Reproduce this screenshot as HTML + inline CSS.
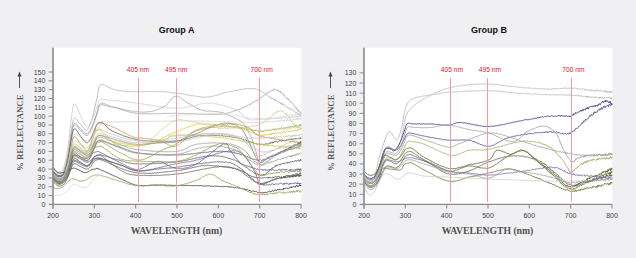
<!DOCTYPE html>
<html><head><meta charset="utf-8"><style>
html,body{margin:0;padding:0;background:#f0f0f2;width:636px;height:258px;overflow:hidden}
svg{display:block}
text{font-family:"Liberation Sans",sans-serif}
.serif{font-family:"Liberation Serif",serif}
</style></head><body>
<svg width="636" height="258" viewBox="0 0 636 258">
<rect x="54.0" y="47.8" width="247.28" height="156.60" fill="#fff"/>
<g fill="none" stroke-linejoin="round" stroke-linecap="round">
<path d="M53.0,169.1 L53.3,169.4 L53.7,169.8 L54.1,170.3 L54.6,170.9 L55.1,171.5 L55.7,172.0 L56.3,172.6 L56.9,173.0 L57.4,173.3 L58.0,173.5 L58.5,173.6 L59.0,173.6 L59.6,173.7 L60.1,173.6 L60.7,173.5 L61.2,173.2 L61.8,172.9 L62.3,172.3 L62.8,171.6 L63.3,170.7 L63.9,169.5 L64.4,168.1 L64.9,166.5 L65.4,164.7 L65.9,162.7 L66.4,160.6 L66.9,158.4 L67.4,156.1 L67.9,153.6 L68.4,150.5 L69.0,147.0 L69.5,143.1 L70.0,139.2 L70.6,135.3 L71.1,131.7 L71.6,128.6 L72.0,126.0 L72.6,122.9 L73.1,120.8 L73.6,119.4 L74.2,118.6 L74.9,118.2 L75.3,118.3 L75.8,118.5 L76.3,119.0 L76.8,119.6 L77.4,120.3 L78.0,121.1 L78.5,121.9 L79.1,122.7 L79.7,123.4 L80.3,124.1 L80.8,124.6 L81.3,125.2 L81.8,125.9 L82.3,126.6 L82.9,127.3 L83.4,127.9 L83.9,128.5 L84.5,129.1 L85.0,129.5 L85.5,129.8 L86.0,129.9 L86.5,129.9 L87.1,129.6 L87.6,129.1 L88.2,128.4 L88.7,127.6 L89.2,126.5 L89.8,125.3 L90.3,124.0 L90.8,122.4 L91.4,120.8 L91.9,119.1 L92.5,117.1 L93.1,114.8 L93.7,112.4 L94.3,110.0 L94.9,107.5 L95.4,105.1 L95.9,102.8 L96.4,100.7 L96.8,98.9 L97.6,95.3 L98.0,92.3 L98.4,90.0 L98.9,88.0 L99.3,86.7 L99.8,85.8 L100.2,85.1 L100.7,84.6 L101.4,84.4 L101.8,84.3 L102.3,84.3 L102.8,84.5 L103.4,84.7 L103.9,85.0 L104.5,85.2 L105.0,85.5 L105.5,85.7 L106.0,86.0 L106.4,86.2 L106.8,86.6 L107.2,86.6 L107.8,87.0 L108.8,87.5 L109.1,87.6 L109.5,87.7 L109.9,87.8 L110.3,87.9 L110.7,88.3 L111.1,88.5 L111.6,88.4 L112.0,88.7 L112.5,88.8 L113.0,89.2 L113.5,89.2 L114.1,89.3 L114.6,89.6 L115.2,89.6 L115.8,89.7 L116.4,90.2 L117.1,90.3 L117.7,90.3 L118.4,90.3 L119.1,90.6 L119.5,90.7 L119.9,90.7 L120.3,90.8 L120.8,90.8 L121.2,90.8 L121.7,90.9 L122.1,91.0 L122.6,91.0 L123.0,91.1 L123.5,91.1 L124.0,91.2 L124.5,91.3 L125.0,91.1 L125.5,91.2 L126.0,91.2 L126.5,91.4 L127.0,91.2 L127.5,91.2 L128.0,91.5 L128.6,91.5 L129.1,91.4 L129.6,91.4 L130.2,91.4 L130.7,91.5 L131.2,91.4 L131.8,91.5 L132.3,91.7 L132.9,91.6 L133.4,91.5 L134.0,91.5 L134.5,91.7 L135.0,91.7 L135.6,91.9 L136.1,91.8 L136.7,91.6 L137.2,91.8 L137.7,91.9 L138.2,91.8 L138.7,91.7 L139.2,91.7 L139.7,91.8 L140.2,91.8 L140.7,91.8 L141.2,91.7 L141.7,91.8 L142.2,91.8 L142.7,91.7 L143.2,91.9 L143.7,91.9 L144.2,91.6 L144.7,91.5 L145.2,91.6 L145.7,91.7 L146.3,91.7 L146.8,91.6 L147.3,91.4 L147.8,91.5 L148.3,91.5 L148.8,91.4 L149.4,91.6 L149.9,91.5 L150.4,91.3 L150.9,91.4 L151.4,91.5 L151.9,91.5 L152.4,91.4 L152.9,91.3 L153.4,91.5 L154.0,91.3 L154.5,91.3 L155.0,91.2 L155.5,91.3 L156.0,91.3 L156.4,91.4 L156.9,91.4 L157.4,91.4 L157.9,91.5 L158.4,91.3 L158.9,91.4 L159.4,91.6 L159.9,91.5 L160.4,91.5 L160.9,91.6 L161.4,91.6 L161.9,91.6 L162.4,91.6 L162.8,91.6 L163.3,91.7 L163.8,91.9 L164.2,91.8 L164.7,91.9 L165.1,91.8 L165.6,91.8 L166.0,91.8 L166.5,91.9 L166.9,91.9 L167.4,92.1 L167.9,92.0 L168.3,92.1 L168.8,92.3 L169.3,92.4 L169.8,92.5 L170.3,92.3 L170.8,92.5 L171.3,92.6 L171.8,92.5 L172.3,92.7 L172.9,92.8 L173.4,92.9 L174.0,92.8 L174.5,93.0 L175.1,93.0 L175.7,93.0 L176.4,93.1 L177.0,93.2 L177.4,93.2 L177.8,93.4 L178.3,93.4 L178.7,93.4 L179.1,93.6 L179.6,93.7 L180.1,93.5 L180.5,93.7 L181.0,93.9 L181.5,93.8 L182.0,93.8 L182.4,94.2 L182.9,94.2 L183.4,94.3 L183.9,94.2 L184.5,94.5 L185.0,94.4 L185.5,94.5 L186.0,94.6 L186.5,94.8 L187.0,94.7 L187.6,94.8 L188.1,95.0 L188.6,95.2 L189.2,95.2 L189.7,95.3 L190.2,95.4 L190.8,95.6 L191.3,95.5 L191.9,95.8 L192.4,95.8 L192.9,95.7 L193.5,95.8 L194.0,96.1 L194.6,96.0 L195.1,96.3 L195.6,96.1 L196.2,96.2 L196.7,96.5 L197.2,96.6 L197.7,96.8 L198.3,96.5 L198.8,96.9 L199.3,96.6 L199.8,96.6 L200.3,96.8 L200.8,97.1 L201.3,96.8 L201.8,96.8 L202.3,96.9 L202.7,97.1 L203.2,97.2 L203.7,97.2 L204.1,97.3 L204.6,97.1 L205.1,97.2 L205.5,97.3 L205.9,97.4 L206.5,97.1 L207.1,97.2 L207.7,97.1 L208.3,97.1 L208.8,96.8 L209.4,96.7 L209.9,97.1 L210.5,96.9 L211.0,96.7 L211.6,96.3 L212.1,96.3 L212.6,96.4 L213.1,96.4 L213.6,96.0 L214.1,95.8 L214.6,95.6 L215.1,95.8 L215.6,95.3 L216.1,95.3 L216.6,95.3 L217.1,94.8 L217.5,95.1 L218.0,94.7 L218.5,94.9 L219.0,94.7 L219.4,94.1 L219.9,94.4 L220.4,93.9 L220.8,93.8 L221.3,93.5 L221.8,93.7 L222.3,93.5 L222.7,93.4 L223.2,92.9 L223.7,92.9 L224.2,92.6 L224.6,92.5 L225.1,92.9 L225.6,92.5 L226.1,92.7 L226.6,92.6 L227.1,92.5 L227.6,91.8 L228.1,91.8 L228.6,91.6 L229.2,91.9 L229.7,91.6 L230.2,91.3 L230.7,91.5 L231.3,91.3 L231.8,91.4 L232.3,91.4 L232.9,91.2 L233.4,90.6 L233.9,90.7 L234.5,90.4 L235.0,90.6 L235.5,90.6 L236.1,90.1 L236.6,90.0 L237.1,90.6 L237.6,89.9 L238.1,90.3 L238.6,90.2 L239.2,89.5 L239.7,90.1 L240.2,89.8 L240.6,89.1 L241.1,89.5 L241.6,89.7 L242.1,89.6 L242.6,89.5 L243.0,89.0 L243.5,89.4 L243.9,88.7 L244.4,89.1 L244.8,88.5 L245.2,88.5 L245.6,89.0 L246.0,89.0 L246.4,88.8 L247.1,89.1 L247.8,88.5 L248.4,89.0 L249.0,89.0 L249.6,88.1 L250.1,88.8 L250.7,88.5 L251.2,88.6 L251.7,88.8 L252.2,89.0 L252.7,88.3 L253.1,88.3 L253.6,88.3 L254.0,89.2 L254.5,89.2 L254.9,88.9 L255.4,88.6 L255.8,89.1 L256.2,89.1 L256.7,89.2 L257.1,89.8 L257.6,89.6 L258.1,90.0 L258.7,90.3 L259.2,90.7 L259.6,90.7 L260.1,90.2 L260.6,91.0 L261.0,91.1 L261.5,91.4 L261.9,91.3 L262.4,92.3 L262.9,92.7 L263.4,93.0 L263.8,93.3 L264.4,93.1 L264.9,93.4 L265.5,94.4 L266.1,94.8 L266.7,94.9 L267.1,95.1 L267.5,95.3 L267.9,96.0 L268.4,96.5 L268.8,96.5 L269.2,97.0 L269.7,96.7 L270.1,97.5 L270.6,97.8 L271.1,97.4 L271.5,98.1 L272.0,97.7 L272.5,98.4 L273.0,98.2 L273.5,99.4 L274.0,99.3 L274.5,99.2 L275.0,100.5 L275.6,99.6 L276.1,101.0 L276.7,100.4 L277.2,100.5 L277.8,101.0 L278.4,102.1 L278.9,102.8 L279.5,102.5 L280.1,102.2 L280.7,103.6 L281.2,102.9 L281.6,104.3 L282.1,103.4 L282.6,105.1 L283.1,104.9 L283.6,104.3 L284.2,104.8 L284.7,104.9 L285.3,105.4 L285.8,105.9 L286.4,106.3 L287.0,107.5 L287.6,107.4 L288.2,108.2 L288.8,107.6 L289.4,108.1 L290.0,109.1 L290.5,109.8 L291.1,108.6 L291.7,109.2 L292.3,110.0 L292.9,110.4 L293.5,110.2 L294.0,111.2 L294.6,111.7 L295.1,112.1 L295.7,112.6 L296.2,113.3 L296.7,112.4 L297.2,113.2 L297.7,113.1 L298.1,114.4 L298.6,114.1 L299.0,114.8 L299.4,115.0 L299.7,115.0 L300.1,114.1 L300.4,115.1 L300.7,115.3 L301.0,115.2" stroke="#b4b4b4" stroke-width="0.85" opacity="1"/>
<path d="M53.0,167.3 L53.3,167.6 L53.7,168.1 L54.1,168.6 L54.6,169.1 L55.1,169.7 L55.7,170.3 L56.3,170.9 L56.9,171.3 L57.4,171.6 L58.0,171.7 L58.5,171.8 L59.0,171.8 L59.6,171.9 L60.1,171.8 L60.7,171.6 L61.2,171.3 L61.8,170.9 L62.3,170.3 L62.8,169.4 L63.3,168.3 L63.9,166.8 L64.4,165.1 L64.9,163.1 L65.4,160.9 L65.9,158.5 L66.4,155.9 L66.9,153.2 L67.4,150.3 L67.9,147.3 L68.4,143.5 L69.0,139.1 L69.5,134.4 L70.0,129.6 L70.6,124.8 L71.1,120.4 L71.6,116.5 L72.0,113.3 L72.6,109.5 L73.1,106.7 L73.6,104.9 L74.2,103.9 L74.9,103.8 L75.3,104.1 L75.8,104.7 L76.3,105.6 L76.8,106.8 L77.4,108.1 L78.0,109.6 L78.5,111.1 L79.1,112.5 L79.7,113.9 L80.3,115.1 L80.8,116.1 L81.3,117.2 L81.8,118.3 L82.3,119.5 L82.9,120.7 L83.4,121.8 L83.9,122.9 L84.5,123.9 L85.0,124.8 L85.5,125.5 L86.0,126.1 L86.5,126.5 L87.1,126.6 L87.6,126.5 L88.2,126.2 L88.7,125.6 L89.2,124.9 L89.8,124.0 L90.3,123.0 L90.8,122.0 L91.4,120.9 L91.9,119.9 L92.5,118.7 L93.1,117.3 L93.7,115.9 L94.3,114.4 L94.9,112.9 L95.4,111.5 L95.9,110.1 L96.4,108.8 L96.8,107.7 L97.6,105.5 L98.0,103.7 L98.4,102.3 L98.9,101.1 L99.3,100.3 L99.8,99.8 L100.2,99.4 L100.7,99.1 L101.4,98.9 L101.8,98.9 L102.2,98.9 L102.7,99.0 L103.2,99.2 L103.8,99.3 L104.3,99.5 L104.9,99.6 L105.5,99.7 L105.9,99.8 L106.1,99.8 L106.3,99.8 L106.5,99.8 L106.8,99.7 L107.1,99.7 L107.6,100.1 L108.4,100.1 L109.4,100.0 L110.9,100.2 L111.2,100.2 L111.5,100.4 L111.8,100.3 L112.1,100.3 L112.5,100.4 L112.8,100.6 L113.2,100.5 L113.6,100.6 L114.0,100.5 L114.4,100.5 L114.8,100.5 L115.2,100.7 L115.6,100.8 L116.0,100.9 L116.5,101.0 L116.9,101.0 L117.4,100.9 L117.8,101.0 L118.3,101.1 L118.8,101.0 L119.2,101.1 L119.7,101.2 L120.2,101.3 L120.7,101.4 L121.2,101.4 L121.7,101.5 L122.3,101.5 L122.8,101.4 L123.3,101.5 L123.8,101.7 L124.4,101.6 L124.9,101.7 L125.5,101.7 L126.0,101.8 L126.6,101.9 L127.1,101.9 L127.7,102.1 L128.3,102.0 L128.9,102.1 L129.4,102.4 L130.0,102.2 L130.6,102.3 L131.2,102.5 L131.8,102.5 L132.4,102.6 L132.9,102.5 L133.5,102.7 L134.1,102.7 L134.7,102.9 L135.3,102.8 L135.9,102.9 L136.5,103.1 L137.1,103.1 L137.7,103.1 L138.2,103.2 L138.6,103.4 L139.0,103.5 L139.5,103.5 L139.9,103.5 L140.4,103.7 L140.8,103.5 L141.3,103.8 L141.7,103.7 L142.2,103.9 L142.7,103.8 L143.1,104.0 L143.6,104.1 L144.1,104.2 L144.6,104.2 L145.1,104.3 L145.6,104.5 L146.0,104.6 L146.5,104.6 L147.0,104.5 L147.5,104.7 L148.0,105.0 L148.5,104.8 L149.0,104.9 L149.5,105.0 L150.1,105.3 L150.6,105.2 L151.1,105.5 L151.6,105.4 L152.1,105.6 L152.6,105.7 L153.1,105.6 L153.7,105.9 L154.2,105.9 L154.7,105.8 L155.2,106.1 L155.7,106.2 L156.3,106.1 L156.8,106.3 L157.3,106.3 L157.9,106.6 L158.4,106.6 L158.9,106.7 L159.4,106.6 L160.0,106.9 L160.5,106.7 L161.0,107.1 L161.5,106.9 L162.1,107.2 L162.6,107.2 L163.1,107.1 L163.6,107.4 L164.2,107.5 L164.7,107.4 L165.2,107.5 L165.7,107.7 L166.2,107.4 L166.8,107.8 L167.3,107.9 L167.8,107.8 L168.3,107.8 L168.8,107.8 L169.3,108.0 L169.8,108.0 L170.3,108.1 L170.8,108.0 L171.3,108.0 L171.8,108.0 L172.3,108.0 L172.8,108.0 L173.3,108.0 L173.8,108.1 L174.3,108.2 L174.8,108.3 L175.3,108.1 L175.8,108.2 L176.3,108.3 L176.8,108.2 L177.3,108.0 L177.8,108.3 L178.4,108.1 L178.9,108.1 L179.4,108.0 L179.9,108.1 L180.5,107.8 L181.0,108.0 L181.5,107.8 L182.0,107.8 L182.6,107.8 L183.1,107.6 L183.6,107.7 L184.1,107.6 L184.6,107.5 L185.2,107.4 L185.7,107.3 L186.2,107.1 L186.7,107.0 L187.2,106.8 L187.8,106.7 L188.3,106.6 L188.8,106.7 L189.3,106.5 L189.8,106.5 L190.3,106.3 L190.8,106.1 L191.3,106.0 L191.9,105.9 L192.4,106.0 L192.9,105.8 L193.4,105.6 L193.9,105.7 L194.4,105.6 L194.9,105.3 L195.4,105.4 L195.9,105.0 L196.4,105.1 L196.9,105.0 L197.4,104.9 L197.9,104.8 L198.4,104.7 L198.8,104.5 L199.3,104.4 L199.8,104.4 L200.3,104.1 L200.8,104.2 L201.3,103.8 L201.8,103.7 L202.2,103.7 L202.7,103.8 L203.2,103.7 L203.7,103.6 L204.1,103.8 L204.6,103.6 L205.1,103.4 L205.5,103.6 L206.0,103.6 L206.5,103.2 L206.9,103.4 L207.4,103.3 L207.8,103.0 L208.3,103.2 L208.7,103.3 L209.2,103.0 L209.6,103.3 L210.1,103.5 L210.6,103.2 L211.2,103.5 L211.8,103.4 L212.3,103.2 L212.9,103.3 L213.5,103.8 L214.1,103.6 L214.6,103.7 L215.2,103.7 L215.8,104.0 L216.3,103.9 L216.9,104.3 L217.5,104.2 L218.0,104.3 L218.6,104.1 L219.1,104.7 L219.7,104.4 L220.2,104.9 L220.8,104.8 L221.3,105.1 L221.9,105.2 L222.4,105.1 L223.0,105.5 L223.5,105.8 L224.0,106.0 L224.5,106.2 L225.1,105.8 L225.6,106.1 L226.1,106.0 L226.6,106.4 L227.1,107.0 L227.6,106.8 L228.1,106.8 L228.6,107.0 L229.0,107.4 L229.5,107.7 L230.0,107.8 L230.4,107.7 L230.9,108.2 L231.4,108.2 L231.8,108.4 L232.2,108.2 L232.7,108.5 L233.1,108.6 L233.5,108.8 L233.9,109.4 L234.3,109.6 L234.7,109.6 L235.1,109.9 L235.4,109.9 L235.8,109.9 L236.2,109.8 L236.5,110.2 L237.4,110.4 L238.2,111.4 L238.9,111.6 L239.5,111.6 L240.1,112.7 L240.6,112.9 L241.1,113.7 L241.5,114.1 L241.9,113.9 L242.3,114.3 L242.7,115.0 L243.0,115.9 L243.4,116.2 L243.7,116.6 L244.1,116.6 L244.5,117.0 L244.9,117.5 L245.4,117.8 L245.9,118.4 L246.4,118.3 L246.9,118.1 L247.3,118.4 L247.6,119.2 L248.0,118.9 L248.3,118.9 L248.7,119.4 L249.0,118.9 L249.3,119.4 L249.7,119.3 L250.0,119.6 L250.3,119.2 L250.7,119.4 L251.1,119.7 L251.5,120.1 L251.9,119.8 L252.4,120.2 L252.9,119.7 L253.4,119.5 L254.0,120.1 L254.6,119.8 L255.3,119.8 L256.0,119.9 L256.8,119.6 L257.7,119.3 L258.6,119.5 L259.6,119.7 L260.0,119.2 L260.3,119.8 L260.7,119.3 L261.1,119.4 L261.5,119.3 L261.9,119.2 L262.3,119.8 L262.7,119.4 L263.1,119.6 L263.6,119.2 L264.0,118.9 L264.5,119.2 L265.0,119.9 L265.5,119.3 L266.0,119.0 L266.5,118.8 L267.0,119.0 L267.5,118.8 L268.0,119.7 L268.6,118.5 L269.1,118.7 L269.7,118.8 L270.2,118.4 L270.8,118.4 L271.3,119.4 L271.9,118.4 L272.5,118.4 L273.1,119.1 L273.7,118.3 L274.2,118.5 L274.8,119.0 L275.4,118.1 L276.0,119.0 L276.6,118.2 L277.2,118.4 L277.8,118.6 L278.4,118.1 L279.0,118.2 L279.6,118.6 L280.2,117.3 L280.8,118.7 L281.4,118.7 L282.0,117.9 L282.6,117.3 L283.2,117.5 L283.8,117.3 L284.4,117.7 L285.0,117.3 L285.6,117.8 L286.2,117.9 L286.8,117.5 L287.3,118.2 L287.9,118.1 L288.5,116.9 L289.0,117.8 L289.6,116.8 L290.1,116.6 L290.7,117.3 L291.2,116.7 L291.7,116.5 L292.3,116.3 L292.8,117.6 L293.3,117.5 L293.8,117.0 L294.2,116.8 L294.7,117.1 L295.2,117.6 L295.6,116.5 L296.1,115.7 L296.5,116.8 L296.9,116.4 L297.3,116.7 L297.7,116.5 L298.1,115.7 L298.5,116.7 L298.9,116.0 L299.2,116.3 L299.5,116.2 L299.9,115.4 L300.2,117.0 L300.5,115.5 L300.7,116.5 L301.0,116.1" stroke="#cccccc" stroke-width="0.85" opacity="1"/>
<path d="M53.0,170.9 L53.3,171.2 L53.7,171.6 L54.1,172.1 L54.6,172.6 L55.1,173.2 L55.7,173.8 L56.3,174.3 L56.9,174.8 L57.4,175.1 L58.0,175.3 L58.5,175.4 L59.0,175.4 L59.6,175.4 L60.1,175.4 L60.7,175.3 L61.2,175.0 L61.8,174.7 L62.3,174.2 L62.8,173.5 L63.3,172.7 L63.9,171.5 L64.4,170.2 L64.9,168.7 L65.4,167.0 L65.9,165.1 L66.4,163.1 L66.9,161.0 L67.4,158.8 L67.9,156.5 L68.4,153.6 L69.0,150.3 L69.5,146.7 L70.0,142.9 L70.6,139.3 L71.1,135.9 L71.6,132.9 L72.0,130.5 L72.6,127.6 L73.1,125.6 L73.6,124.3 L74.2,123.5 L74.9,123.2 L75.3,123.2 L75.8,123.4 L76.3,123.9 L76.8,124.4 L77.4,125.1 L78.0,125.8 L78.5,126.5 L79.1,127.2 L79.7,127.9 L80.3,128.5 L80.8,129.0 L81.3,129.5 L81.8,130.1 L82.3,130.7 L82.9,131.3 L83.4,131.8 L83.9,132.4 L84.5,132.9 L85.0,133.3 L85.5,133.6 L86.0,133.7 L86.5,133.8 L87.1,133.7 L87.6,133.4 L88.2,132.9 L88.7,132.3 L89.2,131.6 L89.8,130.8 L90.3,129.8 L90.8,128.8 L91.4,127.7 L91.9,126.5 L92.5,125.2 L93.1,123.7 L93.7,122.1 L94.3,120.4 L94.9,118.8 L95.4,117.1 L95.9,115.6 L96.4,114.2 L96.8,113.0 L97.6,110.6 L98.0,108.6 L98.4,107.0 L98.9,105.7 L99.3,104.8 L99.8,104.2 L100.2,103.7 L100.7,103.4 L101.4,103.2 L101.8,103.2 L102.2,103.2 L102.6,103.2 L103.1,103.4 L103.6,103.5 L104.2,103.7 L104.8,103.9 L105.5,104.2 L105.9,104.3 L106.2,104.5 L106.6,104.6 L106.9,104.9 L107.2,105.0 L107.6,105.2 L107.9,105.4 L108.4,105.6 L108.8,106.0 L109.4,106.2 L110.0,106.2 L110.7,106.6 L111.4,106.9 L112.3,106.9 L113.3,107.3 L113.7,107.3 L114.0,107.5 L114.4,107.5 L114.8,107.8 L115.2,107.7 L115.6,107.7 L116.0,107.9 L116.5,108.0 L116.9,108.1 L117.4,108.4 L117.9,108.3 L118.3,108.4 L118.8,108.6 L119.3,108.8 L119.9,108.7 L120.4,108.9 L120.9,108.9 L121.4,109.0 L122.0,109.2 L122.5,109.2 L123.1,109.5 L123.6,109.5 L124.2,109.7 L124.7,109.7 L125.3,109.8 L125.9,110.2 L126.4,110.3 L127.0,110.3 L127.5,110.2 L128.1,110.5 L128.7,110.5 L129.2,110.7 L129.8,110.8 L130.3,110.9 L130.9,111.0 L131.4,111.0 L132.0,111.1 L132.5,111.1 L133.0,111.2 L133.5,111.2 L134.0,111.3 L134.5,111.4 L135.0,111.5 L135.5,111.8 L136.0,111.6 L136.4,111.6 L136.9,111.7 L137.3,111.8 L137.7,111.8 L138.4,112.0 L139.0,111.9 L139.6,112.0 L140.2,112.1 L140.7,112.2 L141.3,112.0 L141.9,112.0 L142.4,112.3 L143.0,112.0 L143.5,112.2 L144.0,112.2 L144.6,112.2 L145.1,112.0 L145.6,111.9 L146.1,112.2 L146.6,112.0 L147.0,112.1 L147.5,111.8 L148.0,111.9 L148.5,111.7 L148.9,111.6 L149.4,111.7 L149.8,111.5 L150.3,111.6 L150.7,111.6 L151.2,111.4 L151.6,111.5 L152.1,111.3 L152.5,111.2 L153.0,111.0 L153.4,111.0 L153.8,111.0 L154.4,110.6 L155.0,110.6 L155.6,110.2 L156.1,110.1 L156.6,110.1 L157.2,109.9 L157.7,109.6 L158.2,109.4 L158.7,109.2 L159.2,109.0 L159.7,108.8 L160.2,108.4 L160.7,108.3 L161.2,108.1 L161.7,107.7 L162.1,107.6 L162.6,107.4 L163.1,106.9 L163.5,106.7 L164.0,106.4 L164.5,106.3 L164.9,105.9 L165.4,105.6 L165.8,105.4 L166.4,104.8 L166.9,104.4 L167.4,104.1 L167.9,103.4 L168.4,102.9 L168.9,102.2 L169.4,101.8 L169.8,101.0 L170.3,100.4 L170.8,100.1 L171.2,99.5 L171.7,98.8 L172.2,98.2 L172.7,97.9 L173.1,97.4 L173.6,97.0 L174.1,96.8 L174.7,96.5 L175.2,96.3 L175.8,96.2 L176.2,96.1 L176.7,96.3 L177.1,96.3 L177.6,96.3 L178.0,96.7 L178.5,96.7 L179.0,96.9 L179.5,97.3 L180.0,97.6 L180.5,97.7 L180.9,98.3 L181.4,98.6 L181.9,98.9 L182.4,99.2 L183.0,99.8 L183.5,100.1 L184.0,100.5 L184.5,100.7 L185.0,101.2 L185.5,101.5 L186.0,102.0 L186.6,102.3 L187.1,102.6 L187.6,102.8 L188.1,103.3 L188.6,103.6 L189.1,103.9 L189.6,104.0 L190.0,104.4 L190.5,104.5 L191.0,104.7 L191.4,105.2 L191.9,105.5 L192.4,105.6 L192.9,105.9 L193.4,106.1 L193.8,106.6 L194.3,107.0 L194.8,107.2 L195.3,107.2 L195.8,107.7 L196.3,108.0 L196.8,108.2 L197.3,108.4 L197.8,108.7 L198.4,108.7 L198.9,109.3 L199.4,109.6 L200.0,109.4 L200.5,109.6 L201.1,109.7 L201.6,110.2 L202.2,110.1 L202.7,110.2 L203.1,110.7 L203.6,110.5 L204.1,110.6 L204.5,110.7 L205.0,110.9 L205.5,111.1 L206.0,111.1 L206.5,111.2 L207.0,111.3 L207.5,111.1 L208.0,111.3 L208.5,111.1 L209.1,111.5 L209.6,111.1 L210.1,111.2 L210.6,111.1 L211.2,111.1 L211.7,111.2 L212.2,111.4 L212.7,111.7 L213.3,111.3 L213.8,111.7 L214.3,111.6 L214.8,111.5 L215.4,111.6 L215.9,111.7 L216.4,111.4 L216.9,111.7 L217.4,111.9 L217.9,112.0 L218.4,111.7 L218.9,112.0 L219.4,111.9 L219.9,112.3 L220.4,112.5 L220.9,112.4 L221.5,112.4 L222.0,113.0 L222.6,112.7 L223.1,112.8 L223.7,113.1 L224.2,113.3 L224.8,114.0 L225.3,113.8 L225.9,113.8 L226.4,114.6 L227.0,114.6 L227.5,114.9 L228.0,114.9 L228.6,115.2 L229.1,115.4 L229.6,115.4 L230.2,116.2 L230.7,116.4 L231.2,116.5 L231.7,116.8 L232.2,117.0 L232.7,116.6 L233.1,116.9 L233.6,117.7 L234.0,117.6 L234.5,117.9 L234.9,118.1 L235.3,118.3 L235.7,118.3 L236.1,118.5 L236.5,118.9 L237.3,119.4 L237.9,119.6 L238.5,120.1 L239.1,120.0 L239.6,120.1 L240.1,120.7 L240.6,121.2 L241.0,121.3 L241.4,121.5 L241.8,121.6 L242.2,121.8 L242.6,122.6 L243.0,122.7 L243.5,123.4 L243.9,124.1 L244.4,124.9 L245.0,125.5 L245.5,126.1 L246.0,127.3 L246.5,127.9 L247.0,129.1 L247.6,130.3 L248.1,131.0 L248.6,131.9 L249.1,133.5 L249.6,134.2 L250.1,135.2 L250.5,135.9 L251.0,136.8 L251.4,138.3 L252.0,139.3 L252.5,140.9 L253.1,143.0 L253.6,144.4 L254.1,146.2 L254.5,147.1 L255.0,148.8 L255.4,150.1 L255.9,151.6 L256.3,153.0 L256.9,154.6 L257.4,156.5 L257.9,158.7 L258.3,159.8 L258.8,161.8 L259.3,163.0 L259.9,163.3 L260.5,164.8 L260.9,165.1 L261.3,165.2 L261.8,164.4 L262.3,165.1 L262.7,165.1 L263.2,163.9 L263.7,164.4 L264.3,163.2 L264.8,163.0 L265.4,162.4 L266.0,161.9 L266.7,161.9 L267.1,161.4 L267.5,162.1 L267.8,161.0 L268.2,161.0 L268.6,160.5 L268.9,160.9 L269.3,159.8 L269.7,159.3 L270.1,160.1 L270.5,159.4 L270.9,158.7 L271.4,158.0 L271.9,158.4 L272.4,158.1 L273.0,157.6 L273.6,156.7 L274.3,156.0 L275.0,156.1 L275.8,155.6 L276.6,155.1 L277.0,155.0 L277.3,154.7 L277.7,154.9 L278.2,154.1 L278.6,153.1 L279.1,153.7 L279.5,153.0 L280.0,153.6 L280.5,152.5 L281.0,152.1 L281.6,152.0 L282.1,151.9 L282.7,151.7 L283.2,151.1 L283.8,150.4 L284.4,151.3 L284.9,151.1 L285.5,149.7 L286.1,149.1 L286.7,149.5 L287.3,149.3 L287.9,148.5 L288.5,149.1 L289.1,148.7 L289.7,148.5 L290.3,147.5 L290.9,147.7 L291.5,147.5 L292.1,146.4 L292.6,145.6 L293.2,146.5 L293.8,145.5 L294.3,145.8 L294.8,144.7 L295.4,144.9 L295.9,145.2 L296.4,145.1 L296.9,145.2 L297.3,144.1 L297.8,144.0 L298.2,144.2 L298.6,143.6 L299.0,143.5 L299.4,142.4 L299.8,143.5 L300.1,141.6 L300.4,142.5 L300.7,142.1 L301.0,142.2" stroke="#a4a4a4" stroke-width="0.85" opacity="1"/>
<path d="M53.0,171.7 L53.3,172.0 L53.7,172.5 L54.1,173.0 L54.6,173.5 L55.1,174.1 L55.7,174.7 L56.3,175.2 L56.9,175.6 L57.4,176.0 L58.0,176.2 L58.5,176.2 L59.0,176.3 L59.6,176.3 L60.1,176.3 L60.7,176.1 L61.2,175.9 L61.8,175.6 L62.3,175.1 L62.8,174.4 L63.3,173.6 L63.9,172.5 L64.4,171.1 L64.9,169.6 L65.4,168.0 L65.9,166.2 L66.4,164.2 L66.9,162.2 L67.4,160.0 L67.9,157.7 L68.4,154.9 L69.0,151.6 L69.5,148.0 L70.0,144.4 L70.6,140.8 L71.1,137.5 L71.6,134.5 L72.0,132.1 L72.6,129.3 L73.1,127.3 L73.6,126.0 L74.2,125.3 L74.9,125.0 L75.3,125.0 L75.8,125.2 L76.3,125.6 L76.8,126.2 L77.4,126.8 L78.0,127.5 L78.5,128.3 L79.1,129.0 L79.7,129.7 L80.3,130.3 L80.8,130.7 L81.3,131.3 L81.8,131.8 L82.3,132.4 L82.9,133.0 L83.4,133.6 L83.9,134.2 L84.5,134.6 L85.0,135.0 L85.5,135.3 L86.0,135.5 L86.5,135.5 L87.1,135.4 L87.6,135.1 L88.2,134.7 L88.7,134.1 L89.2,133.3 L89.8,132.5 L90.3,131.5 L90.8,130.5 L91.4,129.4 L91.9,128.2 L92.5,126.8 L93.1,125.3 L93.7,123.7 L94.3,122.0 L94.9,120.4 L95.4,118.7 L95.9,117.2 L96.4,115.8 L96.8,114.5 L97.6,112.1 L98.0,110.1 L98.4,108.5 L98.9,107.1 L99.3,106.3 L99.8,105.6 L100.2,105.2 L100.7,104.9 L101.4,104.7 L101.8,104.6 L102.1,104.6 L102.5,104.7 L103.0,104.9 L103.5,105.0 L104.0,105.2 L104.7,105.4 L105.5,105.6 L105.8,105.6 L106.2,105.7 L106.6,105.8 L106.9,105.9 L107.3,106.0 L107.6,105.9 L108.0,106.1 L108.4,106.2 L108.9,106.1 L109.3,106.0 L109.8,106.1 L110.3,106.2 L110.8,106.5 L111.4,106.5 L112.0,106.7 L112.7,106.9 L113.4,107.1 L114.2,107.2 L115.0,107.2 L115.4,107.3 L115.7,107.4 L116.1,107.5 L116.5,107.8 L116.9,107.9 L117.2,107.9 L117.6,108.0 L118.0,108.1 L118.5,108.2 L118.9,108.6 L119.3,108.6 L119.7,108.7 L120.1,108.9 L120.6,109.2 L121.0,109.3 L121.5,109.6 L121.9,109.5 L122.4,109.6 L122.9,109.9 L123.4,110.2 L123.8,110.1 L124.3,110.4 L124.8,110.5 L125.3,110.7 L125.8,110.9 L126.4,111.1 L126.9,111.2 L127.4,111.4 L128.0,111.7 L128.5,111.8 L129.1,111.8 L129.7,112.2 L130.2,112.3 L130.8,112.3 L131.4,112.5 L132.0,112.6 L132.6,112.7 L133.2,112.9 L133.8,112.8 L134.5,113.1 L135.1,113.2 L135.7,113.3 L136.4,113.3 L137.1,113.5 L137.7,113.5 L138.1,113.4 L138.5,113.6 L138.9,113.6 L139.4,113.5 L139.8,113.8 L140.2,113.8 L140.6,113.8 L141.1,113.6 L141.5,113.7 L142.0,113.8 L142.4,113.8 L142.8,113.9 L143.3,113.8 L143.8,114.0 L144.2,113.8 L144.7,113.7 L145.2,113.7 L145.6,113.8 L146.1,113.7 L146.6,114.0 L147.1,113.9 L147.5,113.7 L148.0,113.8 L148.5,113.9 L149.0,113.7 L149.5,113.8 L150.0,113.7 L150.5,113.9 L151.0,113.9 L151.5,113.8 L152.0,113.9 L152.5,113.8 L153.0,113.6 L153.6,113.8 L154.1,113.9 L154.6,113.9 L155.1,113.8 L155.6,113.6 L156.1,113.7 L156.7,113.7 L157.2,113.8 L157.7,113.5 L158.3,113.7 L158.8,113.7 L159.3,113.7 L159.8,113.7 L160.4,113.7 L160.9,113.5 L161.4,113.6 L162.0,113.7 L162.5,113.5 L163.0,113.6 L163.6,113.3 L164.1,113.6 L164.6,113.4 L165.2,113.3 L165.7,113.4 L166.2,113.2 L166.8,113.4 L167.3,113.5 L167.8,113.4 L168.4,113.5 L168.9,113.4 L169.4,113.4 L170.0,113.2 L170.5,113.2 L171.0,113.3 L171.6,113.5 L172.1,113.4 L172.6,113.4 L173.1,113.4 L173.7,113.4 L174.2,113.2 L174.7,113.4 L175.2,113.4 L175.8,113.2 L176.2,113.3 L176.7,113.2 L177.2,113.4 L177.7,113.2 L178.2,113.3 L178.7,113.3 L179.2,113.3 L179.7,113.4 L180.3,113.5 L180.8,113.5 L181.3,113.3 L181.8,113.3 L182.3,113.3 L182.9,113.5 L183.4,113.4 L183.9,113.4 L184.4,113.5 L185.0,113.5 L185.5,113.6 L186.0,113.5 L186.6,113.6 L187.1,113.7 L187.7,113.5 L188.2,113.5 L188.7,113.9 L189.3,113.6 L189.8,113.6 L190.4,113.7 L190.9,114.0 L191.4,113.7 L192.0,114.0 L192.5,113.7 L193.1,113.8 L193.6,114.1 L194.2,114.1 L194.7,113.9 L195.2,114.0 L195.8,113.9 L196.3,113.9 L196.8,114.2 L197.4,114.3 L197.9,113.9 L198.4,114.3 L199.0,114.0 L199.5,114.3 L200.0,114.1 L200.6,114.1 L201.1,114.1 L201.6,114.2 L202.1,114.1 L202.6,114.4 L203.1,114.2 L203.7,114.4 L204.2,114.2 L204.7,114.2 L205.2,114.4 L205.7,114.4 L206.2,114.6 L206.6,114.7 L207.1,114.4 L207.6,114.4 L208.1,114.2 L208.6,114.4 L209.0,114.6 L209.5,114.5 L210.0,114.3 L210.4,114.5 L210.9,114.7 L211.3,114.3 L211.8,114.3 L212.2,114.7 L212.6,114.4 L213.1,114.5 L213.5,114.3 L213.9,114.6 L214.3,114.6 L214.7,114.4 L215.1,114.1 L215.5,114.6 L215.9,114.6 L216.3,114.3 L217.0,114.1 L217.7,114.3 L218.4,114.3 L219.1,114.0 L219.8,114.0 L220.4,114.4 L221.0,113.8 L221.6,114.2 L222.2,114.0 L222.7,113.6 L223.3,113.8 L223.8,113.5 L224.3,113.9 L224.8,113.3 L225.3,113.7 L225.8,113.6 L226.3,113.3 L226.7,113.3 L227.2,113.1 L227.6,112.7 L228.1,112.8 L228.5,113.2 L228.9,112.8 L229.4,112.6 L229.8,112.5 L230.2,112.2 L230.6,112.2 L231.1,112.4 L231.5,112.2 L231.9,111.6 L232.3,111.8 L232.8,111.4 L233.2,111.1 L233.7,111.2 L234.1,111.0 L234.6,110.9 L235.0,111.0 L235.5,110.3 L236.0,110.5 L236.5,110.0 L237.0,110.3 L237.5,109.7 L238.0,109.5 L238.5,109.5 L239.1,109.4 L239.6,109.4 L240.1,108.7 L240.6,108.8 L241.1,108.4 L241.7,108.6 L242.2,108.4 L242.7,108.1 L243.2,107.3 L243.8,107.6 L244.3,106.7 L244.8,106.9 L245.3,106.5 L245.8,106.5 L246.4,106.0 L246.9,106.2 L247.4,105.6 L247.9,104.9 L248.4,105.3 L249.0,104.6 L249.5,104.6 L250.0,104.4 L250.5,104.4 L251.0,104.1 L251.5,103.0 L252.0,102.8 L252.5,102.6 L253.0,102.3 L253.5,101.9 L253.9,102.4 L254.4,101.7 L254.9,101.5 L255.4,101.2 L255.8,100.6 L256.3,100.5 L256.8,100.0 L257.3,100.6 L257.9,99.7 L258.5,99.3 L259.0,98.9 L259.6,98.6 L260.1,98.0 L260.7,98.2 L261.2,97.1 L261.8,97.3 L262.3,96.7 L262.8,96.0 L263.4,95.8 L263.9,95.8 L264.4,95.5 L264.9,95.0 L265.5,94.3 L266.0,93.5 L266.5,93.2 L267.0,93.4 L267.5,93.1 L268.0,92.2 L268.4,92.6 L268.9,92.1 L269.4,92.3 L269.8,91.8 L270.3,91.1 L270.7,90.7 L271.2,90.6 L271.6,90.7 L272.0,89.7 L272.5,90.0 L272.9,90.6 L273.5,90.5 L274.1,89.2 L274.6,89.1 L275.1,89.1 L275.6,89.6 L276.0,90.0 L276.5,90.4 L276.9,90.3 L277.3,90.4 L277.7,89.6 L278.1,89.8 L278.5,90.3 L279.0,91.5 L279.4,91.7 L279.9,92.0 L280.4,91.4 L280.9,93.0 L281.5,92.5 L282.1,93.2 L282.8,94.0 L283.2,93.7 L283.6,95.2 L284.1,95.2 L284.6,96.2 L285.0,96.8 L285.6,97.4 L286.1,97.5 L286.6,98.3 L287.2,99.0 L287.8,98.0 L288.3,99.9 L288.9,99.4 L289.5,100.4 L290.1,101.0 L290.7,101.8 L291.3,101.9 L291.9,102.7 L292.5,103.6 L293.1,104.6 L293.7,105.0 L294.3,105.6 L294.8,106.5 L295.4,107.3 L296.0,108.5 L296.5,107.8 L297.0,109.1 L297.5,110.5 L298.0,110.8 L298.5,110.0 L298.9,111.7 L299.3,111.9 L299.7,111.7 L300.1,111.8 L300.4,113.2 L300.7,113.4 L301.0,113.5" stroke="#a4a4a4" stroke-width="0.85" opacity="1"/>
<path d="M53.0,174.4 L53.3,174.7 L53.7,175.1 L54.1,175.6 L54.6,176.2 L55.1,176.7 L55.7,177.3 L56.3,177.8 L56.9,178.3 L57.4,178.6 L58.0,178.8 L58.5,178.9 L59.0,179.0 L59.6,179.0 L60.1,178.9 L60.7,178.8 L61.2,178.6 L61.8,178.3 L62.3,177.9 L62.8,177.3 L63.3,176.6 L63.9,175.6 L64.4,174.4 L64.9,173.1 L65.4,171.6 L65.9,170.0 L66.4,168.3 L66.9,166.5 L67.4,164.6 L67.9,162.6 L68.4,160.1 L69.0,157.2 L69.5,154.1 L70.0,150.9 L70.6,147.7 L71.1,144.8 L71.6,142.2 L72.0,140.1 L72.6,137.6 L73.1,135.9 L73.6,134.8 L74.2,134.2 L74.9,133.8 L75.3,133.7 L75.8,133.9 L76.3,134.1 L76.8,134.5 L77.4,134.9 L78.0,135.4 L78.5,135.9 L79.1,136.5 L79.7,136.9 L80.3,137.3 L80.8,137.6 L81.3,138.0 L81.8,138.4 L82.3,138.8 L82.8,139.2 L83.4,139.5 L83.9,139.9 L84.4,140.2 L84.9,140.5 L85.5,140.7 L86.0,140.8 L86.5,140.8 L87.0,140.8 L87.5,140.7 L88.0,140.5 L88.5,140.2 L89.0,139.9 L89.5,139.5 L90.0,139.1 L90.5,138.6 L91.0,138.1 L91.6,137.5 L92.1,137.0 L92.6,136.4 L93.1,135.8 L93.7,135.1 L94.3,134.3 L94.9,133.6 L95.4,132.8 L96.0,131.9 L96.6,131.1 L97.1,130.3 L97.6,129.6 L98.1,128.9 L98.5,128.2 L98.9,127.6 L99.7,126.1 L100.2,124.8 L100.5,123.8 L100.9,123.0 L101.4,122.4 L101.8,122.0 L102.3,121.7 L102.8,121.6 L103.4,121.4 L103.4,121.4 L102.8,121.5 L102.0,121.6 L101.4,121.7 L101.2,121.8 L102.0,121.9 L104.0,122.0 L107.6,122.0 L107.8,121.9 L108.1,121.9 L108.4,121.9 L108.7,121.9 L109.0,121.9 L109.3,122.1 L109.6,122.0 L109.9,121.8 L110.3,121.9 L110.6,121.9 L110.9,122.1 L111.3,122.0 L111.6,122.0 L112.0,121.9 L112.4,121.9 L112.8,122.1 L113.1,122.0 L113.5,122.0 L113.9,121.8 L114.3,121.8 L114.7,122.0 L115.2,121.8 L115.6,122.0 L116.0,121.9 L116.4,122.0 L116.9,122.1 L117.3,121.8 L117.8,122.0 L118.2,122.0 L118.7,121.7 L119.2,121.7 L119.6,121.9 L120.1,121.7 L120.6,121.8 L121.1,121.8 L121.6,121.9 L122.0,121.7 L122.5,121.7 L123.0,121.6 L123.6,121.7 L124.1,121.8 L124.6,121.8 L125.1,121.9 L125.6,121.9 L126.1,121.9 L126.7,121.8 L127.2,121.7 L127.7,121.9 L128.3,121.6 L128.8,121.7 L129.4,121.7 L129.9,121.6 L130.5,121.7 L131.0,121.7 L131.6,121.6 L132.1,121.6 L132.7,121.8 L133.2,121.5 L133.8,121.8 L134.4,121.5 L134.9,121.5 L135.5,121.7 L136.1,121.5 L136.7,121.6 L137.2,121.5 L137.8,121.7 L138.4,121.7 L139.0,121.6 L139.5,121.4 L140.1,121.6 L140.7,121.4 L141.3,121.3 L141.9,121.3 L142.5,121.5 L143.0,121.5 L143.6,121.4 L144.2,121.3 L144.8,121.5 L145.4,121.3 L146.0,121.3 L146.5,121.3 L147.1,121.5 L147.7,121.2 L148.3,121.5 L148.9,121.4 L149.5,121.3 L150.0,121.2 L150.6,121.4 L151.2,121.2 L151.8,121.3 L152.4,121.3 L152.9,121.3 L153.5,121.4 L154.1,121.4 L154.6,121.4 L155.2,121.2 L155.8,121.1 L156.3,121.3 L156.9,121.4 L157.5,121.0 L158.0,121.2 L158.6,121.2 L159.1,121.3 L159.7,121.1 L160.2,121.1 L160.8,121.2 L161.3,121.2 L161.9,121.3 L162.4,121.0 L162.9,121.3 L163.5,121.1 L164.0,121.0 L164.5,121.2 L165.0,121.0 L165.6,120.9 L166.1,121.0 L166.6,121.0 L167.1,121.2 L167.6,121.1 L168.1,121.2 L168.6,120.9 L169.1,121.1 L169.5,121.1 L170.0,120.9 L170.5,120.9 L171.0,120.9 L171.4,121.0 L171.9,121.0 L172.3,120.9 L172.8,121.0 L173.2,121.1 L173.7,121.0 L174.1,121.1 L174.5,121.0 L174.9,120.8 L175.3,120.8 L175.8,120.9 L176.4,121.0 L177.0,121.0 L177.7,121.1 L178.3,121.0 L178.9,120.9 L179.5,120.9 L180.1,121.0 L180.8,120.9 L181.3,120.9 L181.9,120.9 L182.5,120.9 L183.1,120.9 L183.7,121.0 L184.2,120.9 L184.8,121.0 L185.4,121.0 L185.9,120.9 L186.5,120.9 L187.0,121.0 L187.6,120.8 L188.1,120.9 L188.6,121.0 L189.1,121.2 L189.7,121.0 L190.2,121.1 L190.7,120.9 L191.2,121.0 L191.7,120.9 L192.2,121.0 L192.7,120.9 L193.2,121.1 L193.7,121.0 L194.2,120.9 L194.7,120.9 L195.2,121.1 L195.6,120.9 L196.1,120.9 L196.6,121.0 L197.1,120.9 L197.5,120.9 L198.0,121.1 L198.5,121.1 L198.9,121.2 L199.4,120.9 L199.9,120.9 L200.3,121.1 L200.8,121.0 L201.2,121.0 L201.7,121.0 L202.2,121.3 L202.6,121.0 L203.1,121.1 L203.5,121.1 L204.0,121.2 L204.4,121.1 L204.9,121.1 L205.3,121.1 L205.8,121.1 L206.2,121.5 L206.7,121.4 L207.1,121.3 L207.6,121.2 L208.0,121.4 L208.5,121.2 L208.9,121.2 L209.4,121.5 L209.8,121.3 L210.3,121.4 L210.8,121.5 L211.2,121.5 L211.7,121.4 L212.1,121.5 L212.6,121.5 L213.1,121.6 L213.5,121.4 L214.0,121.4 L214.5,121.3 L214.9,121.3 L215.4,121.5 L215.9,121.1 L216.4,121.7 L216.9,121.5 L217.3,121.5 L217.8,121.5 L218.3,121.7 L218.8,121.2 L219.3,121.5 L219.8,121.7 L220.3,121.4 L220.8,121.7 L221.3,121.5 L221.8,121.6 L222.4,121.5 L222.9,121.2 L223.4,121.3 L223.9,121.6 L224.4,121.4 L224.9,121.5 L225.4,121.7 L225.9,121.9 L226.4,121.6 L226.9,121.6 L227.4,121.3 L227.9,121.4 L228.4,121.6 L228.9,121.8 L229.4,121.5 L229.9,122.1 L230.4,122.1 L230.9,121.8 L231.4,121.7 L231.9,122.1 L232.4,121.8 L232.9,121.6 L233.3,122.0 L233.8,122.0 L234.3,122.1 L234.8,122.1 L235.3,121.6 L235.8,122.1 L236.3,121.7 L236.8,121.7 L237.3,122.0 L237.8,122.3 L238.3,121.7 L238.8,122.1 L239.3,122.2 L239.8,122.3 L240.3,121.8 L240.8,122.2 L241.3,122.4 L241.8,122.2 L242.3,122.5 L242.8,122.1 L243.3,122.3 L243.8,122.4 L244.3,122.0 L244.8,122.0 L245.3,122.7 L245.8,122.3 L246.2,122.5 L246.7,122.0 L247.2,122.1 L247.7,122.6 L248.2,122.6 L248.7,122.7 L249.2,121.9 L249.7,122.6 L250.2,122.3 L250.7,122.4 L251.2,122.3 L251.7,122.3 L252.2,122.2 L252.7,122.8 L253.2,122.2 L253.7,122.6 L254.2,122.4 L254.7,122.6 L255.2,122.6 L255.7,122.4 L256.2,122.4 L256.7,122.5 L257.2,122.1 L257.7,122.3 L258.2,122.8 L258.7,122.6 L259.2,122.4 L259.6,121.9 L260.2,121.9 L260.7,122.2 L261.2,122.8 L261.7,121.9 L262.2,122.3 L262.7,122.1 L263.3,121.9 L263.8,122.0 L264.3,122.1 L264.9,121.6 L265.4,122.2 L266.0,122.1 L266.6,121.5 L267.1,122.3 L267.7,122.1 L268.2,121.4 L268.8,122.4 L269.4,121.3 L269.9,121.5 L270.5,121.8 L271.1,121.9 L271.7,121.2 L272.3,121.0 L272.8,122.0 L273.4,121.5 L274.0,121.3 L274.6,121.4 L275.2,121.6 L275.7,121.8 L276.3,121.1 L276.9,120.7 L277.5,121.7 L278.1,121.5 L278.6,120.5 L279.2,120.5 L279.8,120.6 L280.4,121.6 L280.9,120.4 L281.5,120.0 L282.1,119.9 L282.6,120.3 L283.2,121.3 L283.7,120.0 L284.3,120.9 L284.8,120.2 L285.4,119.6 L285.9,119.9 L286.5,120.9 L287.0,120.5 L287.5,119.4 L288.1,120.7 L288.6,119.8 L289.1,120.1 L289.6,120.5 L290.1,119.7 L290.6,120.6 L291.1,120.5 L291.6,119.9 L292.0,120.4 L292.5,120.4 L293.0,119.4 L293.4,119.1 L293.9,118.8 L294.3,120.1 L294.8,119.5 L295.2,119.7 L295.6,119.1 L296.0,119.3 L296.4,118.4 L296.8,119.4 L297.2,120.0 L297.6,118.7 L297.9,119.7 L298.3,118.8 L298.6,119.0 L299.0,118.2 L299.3,118.8 L299.6,118.7 L299.9,119.3 L300.2,118.7 L300.5,119.3 L300.7,118.3 L301.0,118.8" stroke="#d2d2d2" stroke-width="0.85" opacity="1"/>
<path d="M168.7,116.0 L169.0,116.0 L169.2,116.1 L169.5,116.2 L169.8,116.2 L170.1,116.0 L170.4,116.0 L170.7,115.9 L171.0,116.0 L171.4,115.9 L171.7,116.0 L172.1,115.8 L172.4,115.8 L172.8,115.9 L173.2,115.8 L173.6,115.7 L173.9,115.9 L174.4,115.7 L174.8,115.6 L175.2,115.8 L175.6,115.5 L176.0,115.6 L176.5,115.5 L176.9,115.6 L177.4,115.6 L177.8,115.4 L178.3,115.3 L178.8,115.4 L179.2,115.5 L179.7,115.4 L180.2,115.2 L180.7,115.3 L181.2,115.1 L181.7,115.1 L182.2,115.2 L182.7,115.0 L183.3,115.1 L183.8,114.9 L184.3,114.8 L184.9,114.9 L185.4,114.8 L185.9,114.8 L186.5,114.7 L187.0,114.6 L187.6,114.9 L188.1,114.7 L188.7,114.6 L189.2,114.7 L189.8,114.5 L190.4,114.7 L190.9,114.3 L191.5,114.4 L192.1,114.5 L192.7,114.3 L193.2,114.4 L193.8,114.4 L194.4,114.2 L195.0,114.4 L195.5,114.3 L196.1,114.0 L196.7,114.0 L197.3,114.3 L197.9,113.9 L198.4,114.2 L199.0,114.0 L199.6,113.7 L200.2,113.8 L200.8,114.0 L201.3,113.9 L201.9,113.9 L202.5,114.0 L203.1,113.5 L203.6,113.9 L204.2,113.7 L204.8,113.5 L205.3,113.7 L205.9,113.4 L206.5,113.7 L207.0,113.3 L207.6,113.4 L208.1,113.5 L208.7,113.3 L209.2,113.5 L209.8,113.3 L210.3,113.3 L210.9,113.5 L211.4,113.5 L211.9,113.3 L212.4,113.5 L213.0,113.7 L213.5,113.3 L214.0,113.6 L214.5,113.4 L215.0,113.3 L215.5,113.6 L216.0,113.7 L216.5,113.7 L216.9,113.4 L217.4,113.5 L217.9,113.6 L218.3,113.5 L218.9,113.2 L219.4,113.7 L220.0,113.6 L220.5,113.3 L221.0,113.5 L221.6,113.8 L222.1,113.7 L222.6,113.7 L223.2,114.0 L223.7,113.9 L224.2,114.0 L224.7,113.7 L225.3,114.1 L225.8,113.9 L226.3,113.8 L226.8,113.9 L227.3,114.3 L227.8,114.2 L228.3,114.5 L228.9,114.5 L229.4,114.5 L229.9,114.4 L230.4,114.3 L230.9,114.9 L231.4,115.2 L231.9,114.9 L232.4,115.3 L232.9,115.4 L233.4,115.0 L233.9,115.5 L234.4,115.2 L234.9,115.5 L235.3,115.2 L235.8,115.3 L236.3,116.0 L236.8,116.0 L237.3,115.5 L237.8,115.9 L238.3,116.1 L238.8,115.9 L239.3,116.0 L239.7,116.3 L240.2,116.5 L240.7,116.9 L241.2,116.7 L241.7,117.0 L242.2,116.7 L242.6,116.8 L243.1,117.3 L243.6,116.9 L244.1,117.5 L244.6,117.6 L245.1,117.2 L245.5,117.4 L246.0,117.1 L246.5,117.4 L247.0,117.5 L247.5,118.0 L247.9,117.5 L248.4,118.2 L248.9,117.8 L249.4,117.6 L249.9,117.7 L250.4,117.8 L250.8,118.2 L251.3,118.1 L251.8,118.0 L252.3,118.7 L252.8,118.0 L253.3,118.1 L253.7,118.6 L254.2,118.3 L254.7,118.6 L255.2,118.8 L255.7,118.4 L256.2,119.1 L256.7,118.4 L257.2,118.2 L257.7,119.0 L258.2,118.3 L258.7,119.2 L259.2,118.4 L259.6,119.0 L260.2,118.3 L260.7,118.8 L261.2,118.3 L261.7,119.3 L262.2,119.2 L262.7,118.4 L263.3,118.5 L263.8,118.6 L264.3,119.2 L264.9,119.0 L265.4,118.7 L266.0,119.1 L266.6,117.9 L267.1,118.1 L267.7,117.8 L268.2,118.1 L268.8,118.5 L269.4,118.8 L269.9,117.9 L270.5,118.6 L271.1,118.0 L271.7,118.0 L272.3,117.9 L272.8,118.4 L273.4,118.4 L274.0,117.7 L274.6,118.3 L275.2,117.5 L275.7,118.0 L276.3,117.7 L276.9,117.9 L277.5,117.2 L278.1,117.3 L278.6,117.5 L279.2,117.4 L279.8,116.8 L280.4,116.2 L280.9,116.9 L281.5,117.2 L282.1,116.9 L282.6,116.9 L283.2,116.3 L283.7,115.9 L284.3,116.1 L284.8,116.7 L285.4,116.4 L285.9,116.2 L286.5,116.0 L287.0,116.0 L287.5,114.9 L288.1,115.5 L288.6,115.3 L289.1,115.1 L289.6,115.1 L290.1,114.7 L290.6,115.4 L291.1,114.8 L291.6,114.2 L292.0,115.5 L292.5,114.6 L293.0,115.0 L293.4,115.5 L293.9,115.5 L294.3,114.1 L294.8,115.2 L295.2,114.0 L295.6,115.1 L296.0,114.5 L296.4,115.1 L296.8,114.0 L297.2,113.5 L297.6,114.5 L297.9,113.8 L298.3,113.1 L298.6,114.2 L299.0,113.8 L299.3,113.3 L299.6,113.0 L299.9,114.3 L300.2,113.3 L300.5,114.3 L300.7,114.3 L301.0,113.5" stroke="#dadada" stroke-width="0.85" opacity="1"/>
<path d="M218.3,128.6 L218.6,128.7 L218.9,128.4 L219.1,128.7 L219.4,128.4 L219.8,128.5 L220.1,128.7 L220.4,128.4 L220.8,128.6 L221.2,128.4 L221.5,128.6 L221.9,128.6 L222.3,128.3 L222.8,128.1 L223.2,128.5 L223.6,128.4 L224.1,128.2 L224.6,127.9 L225.0,128.2 L225.5,128.3 L226.0,127.9 L226.5,128.5 L227.0,127.9 L227.5,128.3 L228.0,128.4 L228.6,128.4 L229.1,128.2 L229.6,127.8 L230.2,128.3 L230.7,128.0 L231.3,127.9 L231.9,128.1 L232.4,127.9 L233.0,128.3 L233.6,128.3 L234.1,128.1 L234.7,127.8 L235.3,127.9 L235.9,128.0 L236.5,127.7 L237.1,127.8 L237.7,127.9 L238.3,127.5 L238.9,127.5 L239.5,127.9 L240.0,127.6 L240.6,127.6 L241.2,127.2 L241.8,127.3 L242.4,127.6 L243.0,127.0 L243.6,127.7 L244.2,127.4 L244.7,127.1 L245.3,127.5 L245.9,127.2 L246.5,127.5 L247.0,126.9 L247.6,126.8 L248.1,126.9 L248.7,126.5 L249.2,127.0 L249.8,126.6 L250.3,126.6 L250.8,126.5 L251.3,126.6 L251.8,126.1 L252.3,126.0 L252.8,126.3 L253.3,126.0 L253.8,126.5 L254.2,125.8 L254.7,125.8 L255.1,125.3 L255.5,125.4 L256.0,125.8 L256.4,125.6 L256.8,125.2 L257.4,125.7 L258.1,125.0 L258.8,125.1 L259.5,124.8 L260.1,124.6 L260.7,123.6 L261.4,123.9 L262.0,123.5 L262.6,123.0 L263.2,122.1 L263.8,122.6 L264.4,121.8 L264.9,121.3 L265.5,120.5 L266.0,120.2 L266.6,119.8 L267.1,120.1 L267.6,119.5 L268.1,119.2 L268.6,118.1 L269.1,117.6 L269.6,118.2 L270.1,117.8 L270.6,117.3 L271.1,116.9 L271.5,116.2 L272.0,115.6 L272.4,115.7 L272.8,115.7 L273.3,114.7 L273.7,114.5 L274.1,113.8 L274.5,113.0 L274.9,113.0 L275.3,113.0 L275.7,112.5 L276.1,112.2 L276.5,112.8 L276.8,111.4 L277.2,111.4 L277.5,111.0 L277.9,111.0 L278.2,111.4 L279.1,111.1 L279.9,111.4 L280.6,110.5 L281.2,111.3 L281.8,111.4 L282.3,111.3 L282.8,111.5 L283.2,111.5 L283.6,112.3 L284.0,112.7 L284.4,112.8 L284.8,113.3 L285.2,113.3 L285.6,114.3 L286.0,113.3 L286.5,114.2 L287.0,115.4 L287.6,115.8 L288.1,116.3 L288.6,117.0 L289.2,118.1 L289.7,117.7 L290.2,118.2 L290.8,119.9 L291.3,120.7 L291.8,122.2 L292.3,123.0 L292.9,123.3 L293.4,124.1 L293.8,123.7 L294.3,125.5 L294.8,126.3 L295.4,125.1 L296.0,126.4 L296.6,127.5 L297.2,127.0 L297.8,128.3 L298.4,127.6 L298.9,126.9 L299.4,127.3 L299.9,127.7 L300.3,128.7 L300.7,128.6 L301.0,128.5" stroke="#d2ca96" stroke-width="0.85" opacity="1"/>
<path d="M53.0,172.6 L53.3,172.9 L53.7,173.3 L54.1,173.8 L54.6,174.4 L55.1,175.0 L55.7,175.6 L56.3,176.1 L56.9,176.5 L57.4,176.9 L58.0,177.0 L58.5,177.1 L59.0,177.2 L59.6,177.2 L60.1,177.2 L60.7,177.0 L61.2,176.8 L61.8,176.5 L62.3,176.0 L62.8,175.4 L63.3,174.6 L63.9,173.6 L64.4,172.3 L64.9,170.9 L65.4,169.3 L65.9,167.6 L66.4,165.8 L66.9,163.8 L67.4,161.8 L67.9,159.7 L68.4,157.0 L69.0,153.9 L69.5,150.5 L70.0,147.1 L70.6,143.7 L71.1,140.5 L71.6,137.8 L72.0,135.5 L72.6,132.8 L73.1,130.9 L73.6,129.6 L74.2,128.9 L74.9,128.8 L75.3,128.9 L75.8,129.3 L76.3,129.8 L76.8,130.6 L77.4,131.4 L78.0,132.3 L78.5,133.2 L79.1,134.1 L79.7,135.0 L80.3,135.7 L80.8,136.3 L81.3,137.0 L81.8,137.7 L82.4,138.5 L82.9,139.2 L83.5,139.9 L84.0,140.6 L84.5,141.2 L85.0,141.7 L85.6,142.2 L86.0,142.5 L86.5,142.7 L87.1,142.8 L87.7,142.6 L88.2,142.3 L88.7,141.8 L89.2,141.1 L89.7,140.4 L90.2,139.6 L90.7,138.7 L91.2,137.8 L91.7,136.7 L92.3,135.4 L92.8,134.0 L93.4,132.7 L93.9,131.4 L94.3,130.3 L94.7,129.3 L95.4,127.7 L95.9,126.4 L96.3,125.4 L96.8,124.5 L97.3,124.0 L97.7,123.5 L98.2,123.3 L98.7,123.1 L99.3,122.9 L99.7,122.8 L100.1,122.8 L100.5,122.7 L100.9,122.6 L101.4,122.7 L102.0,122.8 L102.6,123.1 L103.4,123.5 L103.8,123.8 L104.1,124.0 L104.4,124.3 L104.8,124.7 L105.1,125.0 L105.4,125.4 L105.8,125.8 L106.2,126.2 L106.5,126.7 L107.0,127.2 L107.4,127.4 L107.9,128.2 L108.5,128.5 L109.0,129.1 L109.7,129.6 L110.4,129.8 L111.2,130.5 L112.0,130.8 L112.9,131.3 L113.3,131.5 L113.6,131.6 L114.0,131.9 L114.3,131.8 L114.7,132.3 L115.1,132.4 L115.5,132.6 L115.9,132.7 L116.3,132.8 L116.7,132.9 L117.1,133.2 L117.5,133.5 L118.0,133.6 L118.4,133.6 L118.8,134.1 L119.3,134.1 L119.8,134.3 L120.2,134.4 L120.7,134.7 L121.2,134.8 L121.6,135.0 L122.1,135.2 L122.6,135.3 L123.1,135.6 L123.6,135.9 L124.1,136.1 L124.6,136.0 L125.1,136.4 L125.7,136.6 L126.2,136.6 L126.7,136.9 L127.3,137.0 L127.8,137.1 L128.3,137.5 L128.9,137.6 L129.4,137.6 L130.0,138.0 L130.5,138.0 L131.1,138.4 L131.7,138.3 L132.2,138.5 L132.8,138.6 L133.4,138.7 L133.9,139.0 L134.5,139.2 L135.1,139.4 L135.7,139.4 L136.3,139.5 L136.8,139.8 L137.4,139.6 L138.0,139.8 L138.6,139.9 L139.2,140.1 L139.8,140.2 L140.2,140.4 L140.7,140.3 L141.1,140.4 L141.5,140.4 L142.0,140.5 L142.5,140.4 L142.9,140.4 L143.4,140.7 L143.9,140.7 L144.3,140.8 L144.8,140.7 L145.3,140.6 L145.8,140.9 L146.3,140.8 L146.8,141.0 L147.3,141.1 L147.8,140.9 L148.3,141.1 L148.8,141.1 L149.3,141.1 L149.8,141.2 L150.3,141.2 L150.8,141.2 L151.4,141.2 L151.9,141.2 L152.4,141.3 L152.9,141.4 L153.5,141.4 L154.0,141.4 L154.5,141.3 L155.1,141.4 L155.6,141.2 L156.1,141.3 L156.7,141.3 L157.2,141.2 L157.7,141.5 L158.3,141.5 L158.8,141.5 L159.3,141.4 L159.9,141.4 L160.4,141.3 L160.9,141.4 L161.4,141.2 L162.0,141.5 L162.5,141.3 L163.0,141.5 L163.6,141.3 L164.1,141.5 L164.6,141.2 L165.1,141.3 L165.6,141.2 L166.2,141.3 L166.7,141.4 L167.2,141.2 L167.7,141.3 L168.2,141.4 L168.7,141.2 L169.2,141.3 L169.7,141.2 L170.2,141.3 L170.7,141.3 L171.1,141.2 L171.6,141.2 L172.1,141.3 L172.6,141.1 L173.0,141.0 L173.5,141.0 L174.0,141.1 L174.4,141.0 L174.8,141.0 L175.3,141.0 L175.7,141.0 L176.2,140.9 L176.6,141.0 L177.0,140.8 L177.6,140.7 L178.2,140.7 L178.8,140.8 L179.4,140.6 L179.9,140.5 L180.5,140.6 L181.0,140.2 L181.6,140.2 L182.1,140.2 L182.6,140.0 L183.1,140.0 L183.6,139.9 L184.1,139.7 L184.6,139.5 L185.1,139.4 L185.6,139.5 L186.0,139.2 L186.5,139.0 L186.9,138.9 L187.4,138.7 L187.9,138.5 L188.3,138.6 L188.8,138.5 L189.2,138.3 L189.6,138.0 L190.1,138.0 L190.5,137.7 L191.0,137.6 L191.4,137.6 L191.9,137.4 L192.3,137.1 L192.8,137.1 L193.2,137.1 L193.7,136.8 L194.1,136.9 L194.6,136.7 L195.1,136.4 L195.5,136.3 L196.0,136.4 L196.5,136.3 L197.0,136.1 L197.5,135.9 L198.0,135.9 L198.5,135.7 L199.0,135.7 L199.6,135.6 L200.1,135.6 L200.7,135.7 L201.2,135.6 L201.8,135.6 L202.2,135.5 L202.7,135.3 L203.1,135.6 L203.6,135.7 L204.0,135.3 L204.5,135.5 L205.0,135.5 L205.5,135.6 L205.9,135.2 L206.4,135.5 L206.9,135.5 L207.4,135.2 L207.9,135.4 L208.4,135.5 L208.9,135.2 L209.4,135.4 L209.9,135.4 L210.4,135.1 L210.9,135.2 L211.5,135.3 L212.0,135.5 L212.5,135.2 L213.0,135.4 L213.6,135.3 L214.1,135.5 L214.6,135.3 L215.1,135.3 L215.7,135.6 L216.2,135.5 L216.7,135.4 L217.3,135.3 L217.8,135.4 L218.3,135.5 L218.9,135.9 L219.4,135.7 L219.9,135.6 L220.4,136.1 L221.0,135.9 L221.5,135.6 L222.0,135.6 L222.6,135.7 L223.1,136.3 L223.6,136.0 L224.1,135.8 L224.7,136.0 L225.2,136.3 L225.7,136.5 L226.2,136.0 L226.7,136.1 L227.2,136.3 L227.7,136.5 L228.2,136.2 L228.7,136.3 L229.2,136.4 L229.7,136.6 L230.2,136.8 L230.7,136.9 L231.2,136.9 L231.7,137.0 L232.1,136.9 L232.6,137.3 L233.1,136.9 L233.5,137.2 L234.0,137.4 L234.4,137.4 L234.9,137.4 L235.4,137.5 L236.0,137.3 L236.6,137.9 L237.1,138.0 L237.7,138.0 L238.2,138.2 L238.8,137.9 L239.3,138.6 L239.9,138.8 L240.4,138.5 L240.9,138.5 L241.5,138.6 L242.0,139.0 L242.5,139.4 L243.0,139.1 L243.5,139.4 L244.1,139.7 L244.6,139.9 L245.1,139.7 L245.6,139.8 L246.1,140.1 L246.6,141.0 L247.0,141.0 L247.5,141.1 L248.0,141.5 L248.5,141.1 L249.0,141.9 L249.5,141.4 L249.9,141.8 L250.4,142.0 L250.9,142.3 L251.4,142.0 L251.8,142.5 L252.3,142.3 L252.8,142.5 L253.2,142.8 L253.7,142.7 L254.2,143.3 L254.6,143.6 L255.1,143.2 L255.5,143.6 L256.0,144.0 L256.5,143.7 L256.9,144.0 L257.4,144.4 L257.8,143.8 L258.3,144.2 L258.7,143.8 L259.2,144.3 L259.6,143.9 L260.2,144.6 L260.7,144.7 L261.3,144.4 L261.8,144.2 L262.4,144.1 L262.9,144.2 L263.4,144.8 L263.9,144.5 L264.5,144.8 L265.0,144.4 L265.5,143.6 L266.0,144.3 L266.5,143.8 L267.0,143.8 L267.5,144.3 L268.0,143.5 L268.5,144.2 L269.0,143.9 L269.5,143.3 L270.0,143.8 L270.5,142.5 L271.0,143.1 L271.5,142.7 L272.0,142.2 L272.4,143.2 L272.9,141.8 L273.4,143.0 L273.9,142.1 L274.4,141.9 L274.9,141.3 L275.4,142.1 L275.9,141.1 L276.3,141.4 L276.8,141.6 L277.3,141.9 L277.8,141.7 L278.3,141.4 L278.8,141.3 L279.3,141.2 L279.8,140.5 L280.3,141.0 L280.8,140.6 L281.3,141.4 L281.9,141.2 L282.4,140.2 L283.0,139.8 L283.5,140.7 L284.1,141.1 L284.7,140.7 L285.2,140.4 L285.8,140.3 L286.4,139.9 L287.0,140.3 L287.6,139.6 L288.2,139.3 L288.8,139.2 L289.3,139.2 L289.9,139.4 L290.5,139.9 L291.1,138.8 L291.7,139.7 L292.2,138.6 L292.8,139.3 L293.3,138.9 L293.9,139.1 L294.4,138.7 L294.9,139.2 L295.5,138.7 L296.0,138.4 L296.4,139.0 L296.9,138.5 L297.4,138.7 L297.8,138.6 L298.3,138.8 L298.7,138.4 L299.1,138.0 L299.4,139.0 L299.8,139.0 L300.1,137.7 L300.4,139.1 L300.7,137.6 L301.0,138.2" stroke="#5f5f5a" stroke-width="0.85" opacity="1"/>
<path d="M53.0,177.0 L53.3,177.3 L53.7,177.7 L54.1,178.2 L54.6,178.8 L55.1,179.4 L55.7,180.0 L56.3,180.5 L56.9,180.9 L57.4,181.3 L58.0,181.4 L58.5,181.5 L59.0,181.6 L59.6,181.6 L60.1,181.6 L60.7,181.5 L61.2,181.3 L61.8,180.9 L62.3,180.5 L62.8,179.9 L63.3,179.2 L63.9,178.2 L64.4,177.0 L64.9,175.7 L65.4,174.3 L65.9,172.7 L66.4,171.0 L66.9,169.1 L67.4,167.2 L67.9,165.2 L68.4,162.7 L69.0,159.8 L69.5,156.7 L70.0,153.5 L70.6,150.4 L71.1,147.4 L71.6,144.8 L72.0,142.7 L72.6,140.2 L73.1,138.4 L73.6,137.2 L74.2,136.6 L74.9,136.4 L75.3,136.6 L75.8,137.0 L76.3,137.6 L76.8,138.3 L77.4,139.1 L78.0,140.0 L78.5,141.0 L79.1,141.9 L79.7,142.7 L80.3,143.5 L80.8,144.1 L81.3,144.8 L81.8,145.6 L82.4,146.3 L82.9,147.1 L83.5,147.8 L84.0,148.5 L84.5,149.1 L85.0,149.7 L85.6,150.1 L86.0,150.4 L86.5,150.6 L87.1,150.5 L87.7,150.2 L88.2,149.7 L88.7,149.0 L89.2,148.2 L89.7,147.2 L90.2,146.1 L90.7,145.0 L91.2,143.6 L91.7,142.0 L92.3,140.2 L92.8,138.4 L93.4,136.5 L93.9,134.6 L94.3,133.0 L94.7,131.6 L95.4,129.3 L95.9,127.5 L96.3,126.1 L96.8,124.9 L97.3,124.1 L97.7,123.5 L98.2,123.1 L98.7,122.8 L99.3,122.7 L99.7,122.6 L100.1,122.6 L100.5,122.6 L100.9,122.7 L101.4,122.9 L102.0,123.0 L102.6,123.2 L103.4,123.5 L103.8,123.6 L104.1,123.7 L104.5,123.8 L104.9,123.9 L105.3,124.1 L105.6,124.2 L106.1,124.3 L106.5,124.4 L106.9,124.6 L107.4,124.8 L107.9,125.0 L108.4,125.0 L108.9,125.5 L109.5,125.5 L110.1,125.6 L110.7,126.2 L111.4,126.3 L112.2,126.6 L112.9,127.1 L113.3,127.2 L113.7,127.3 L114.1,127.6 L114.5,127.7 L115.0,128.1 L115.5,128.3 L115.9,128.6 L116.4,128.7 L116.9,128.8 L117.4,129.2 L118.0,129.4 L118.5,129.8 L119.0,129.9 L119.6,130.4 L120.1,130.7 L120.7,130.8 L121.2,131.1 L121.8,131.5 L122.4,131.9 L122.9,132.1 L123.5,132.5 L124.1,132.7 L124.7,132.9 L125.2,133.3 L125.8,133.4 L126.4,133.7 L126.9,134.2 L127.5,134.4 L128.0,134.6 L128.5,135.0 L129.1,135.2 L129.6,135.3 L130.1,135.8 L130.6,135.8 L131.0,136.2 L131.5,136.3 L132.0,136.4 L132.4,136.8 L132.8,137.0 L133.2,137.1 L133.6,137.1 L134.3,137.5 L135.0,137.7 L135.6,137.8 L136.2,137.8 L136.7,138.0 L137.1,138.1 L137.6,138.1 L138.0,138.3 L138.4,138.1 L138.8,138.2 L139.2,138.1 L139.6,138.0 L139.9,138.2 L140.4,138.0 L140.8,138.0 L141.3,138.1 L141.7,138.1 L142.3,137.9 L142.9,138.0 L143.5,138.3 L143.9,138.2 L144.3,138.2 L144.8,138.4 L145.2,138.4 L145.6,138.6 L146.1,138.6 L146.6,138.5 L147.0,138.6 L147.5,138.6 L148.0,138.9 L148.5,138.9 L149.0,138.8 L149.5,138.9 L150.1,139.1 L150.6,139.1 L151.1,139.0 L151.6,139.2 L152.2,139.5 L152.7,139.3 L153.2,139.5 L153.8,139.6 L154.3,139.7 L154.8,139.8 L155.4,139.9 L155.9,140.0 L156.4,140.0 L156.9,140.2 L157.5,140.1 L158.0,140.5 L158.5,140.3 L159.0,140.4 L159.5,140.6 L160.0,140.7 L160.5,140.9 L161.0,140.9 L161.5,141.2 L162.0,141.4 L162.5,141.4 L163.0,141.8 L163.5,142.1 L164.0,142.2 L164.5,142.6 L164.9,142.8 L165.4,143.2 L165.9,143.3 L166.4,143.8 L166.8,144.1 L167.3,144.1 L167.8,144.6 L168.3,144.6 L168.8,144.9 L169.2,145.2 L169.7,145.7 L170.2,145.9 L170.7,146.0 L171.2,146.1 L171.7,146.2 L172.2,146.2 L172.7,146.5 L173.3,146.6 L173.8,146.5 L174.3,146.6 L174.9,146.5 L175.4,146.3 L176.0,146.1 L176.4,146.1 L176.9,145.8 L177.3,145.5 L177.8,145.3 L178.2,145.1 L178.7,144.7 L179.1,144.6 L179.6,144.1 L180.0,143.7 L180.4,143.3 L180.9,143.0 L181.4,142.8 L181.8,142.3 L182.3,141.8 L182.7,141.4 L183.2,140.8 L183.7,140.5 L184.1,139.8 L184.6,139.5 L185.1,139.1 L185.6,138.5 L186.1,137.9 L186.6,137.4 L187.1,137.0 L187.6,136.5 L188.1,135.9 L188.6,135.3 L189.1,135.0 L189.6,134.3 L190.2,134.2 L190.7,133.4 L191.3,133.0 L191.8,132.7 L192.4,132.3 L193.0,131.9 L193.6,131.4 L194.2,131.4 L194.8,130.8 L195.4,130.5 L196.0,130.3 L196.4,130.0 L196.9,129.8 L197.3,129.9 L197.7,129.5 L198.2,129.4 L198.7,129.2 L199.1,129.0 L199.6,129.1 L200.1,128.7 L200.6,128.6 L201.0,128.2 L201.5,128.4 L202.0,128.0 L202.6,127.9 L203.1,127.8 L203.6,127.5 L204.1,127.8 L204.6,127.4 L205.1,127.2 L205.7,127.1 L206.2,127.1 L206.7,127.1 L207.3,126.9 L207.8,126.6 L208.4,126.7 L208.9,126.7 L209.4,126.4 L210.0,126.2 L210.5,126.1 L211.1,126.3 L211.6,125.8 L212.2,125.9 L212.7,125.6 L213.2,125.9 L213.8,125.3 L214.3,125.4 L214.9,125.1 L215.4,125.0 L215.9,125.0 L216.5,125.4 L217.0,125.1 L217.5,125.1 L218.1,124.7 L218.6,125.0 L219.1,124.9 L219.6,125.0 L220.1,124.9 L220.6,124.3 L221.1,124.2 L221.6,124.6 L222.1,124.3 L222.6,124.4 L223.0,124.3 L223.5,124.4 L224.0,124.2 L224.4,124.4 L224.9,124.3 L225.3,124.1 L225.7,124.3 L226.2,124.1 L226.8,123.7 L227.4,124.3 L228.0,124.3 L228.6,123.7 L229.2,124.3 L229.8,124.1 L230.4,123.7 L231.0,123.9 L231.6,124.2 L232.1,124.3 L232.7,124.2 L233.2,124.2 L233.8,123.8 L234.3,123.8 L234.9,123.9 L235.4,123.9 L235.9,123.9 L236.4,124.0 L236.9,124.1 L237.4,124.1 L237.9,124.9 L238.4,124.8 L238.9,124.9 L239.4,124.7 L239.9,124.9 L240.3,125.1 L240.8,124.8 L241.3,125.3 L241.7,125.6 L242.2,125.6 L242.6,125.6 L243.1,125.6 L243.5,125.7 L243.9,126.0 L244.4,126.3 L244.8,126.3 L245.2,126.5 L245.6,126.7 L246.0,126.5 L246.4,127.0 L247.1,126.8 L247.7,127.1 L248.3,127.9 L248.8,127.7 L249.4,128.3 L249.9,128.6 L250.4,128.8 L250.8,129.0 L251.3,129.3 L251.7,129.8 L252.1,130.7 L252.6,130.8 L253.0,131.4 L253.4,132.1 L253.9,132.0 L254.3,132.5 L254.7,132.5 L255.2,133.4 L255.7,133.2 L256.2,133.9 L256.7,134.6 L257.2,134.3 L257.8,135.1 L258.4,135.1 L258.8,135.7 L259.3,136.0 L259.7,135.2 L260.1,136.2 L260.6,136.3 L261.0,136.4 L261.5,136.6 L261.9,136.0 L262.4,135.9 L262.9,136.4 L263.3,136.8 L263.8,136.3 L264.3,136.9 L264.8,137.4 L265.3,136.9 L265.7,137.4 L266.2,137.6 L266.7,137.6 L267.3,137.7 L267.8,138.0 L268.3,137.6 L268.8,137.3 L269.3,137.8 L269.9,138.6 L270.4,137.8 L271.0,138.8 L271.5,138.3 L272.1,137.9 L272.7,138.2 L273.2,138.0 L273.8,138.3 L274.4,139.1 L275.0,139.4 L275.6,139.0 L276.2,138.8 L276.6,139.5 L277.1,139.5 L277.5,139.0 L278.0,139.6 L278.5,139.4 L279.0,139.5 L279.5,139.0 L280.0,140.5 L280.5,140.3 L281.1,139.5 L281.6,139.8 L282.2,140.8 L282.7,140.8 L283.3,140.8 L283.9,140.3 L284.5,139.9 L285.0,141.1 L285.6,141.2 L286.2,140.5 L286.8,141.0 L287.4,140.4 L288.0,140.2 L288.5,140.4 L289.1,140.9 L289.7,141.4 L290.3,142.2 L290.8,141.0 L291.4,141.8 L292.0,141.8 L292.5,141.6 L293.1,141.0 L293.6,141.9 L294.1,141.3 L294.6,141.3 L295.1,143.0 L295.6,142.6 L296.1,141.6 L296.6,141.9 L297.1,141.6 L297.5,143.2 L297.9,142.6 L298.3,141.9 L298.7,142.7 L299.1,142.5 L299.5,142.0 L299.8,143.6 L300.1,143.9 L300.4,142.3 L300.7,142.9 L301.0,143.1" stroke="#c99440" stroke-width="0.85" opacity="1"/>
<path d="M53.0,177.9 L53.3,178.2 L53.7,178.6 L54.1,179.1 L54.6,179.7 L55.1,180.2 L55.7,180.8 L56.3,181.3 L56.9,181.8 L57.4,182.1 L58.0,182.3 L58.5,182.4 L59.0,182.5 L59.6,182.5 L60.1,182.5 L60.7,182.4 L61.2,182.2 L61.8,181.9 L62.3,181.5 L62.8,181.0 L63.3,180.4 L63.9,179.6 L64.4,178.6 L64.9,177.4 L65.4,176.2 L65.9,174.8 L66.4,173.4 L66.9,171.8 L67.4,170.2 L67.9,168.5 L68.4,166.3 L69.0,163.9 L69.5,161.2 L70.0,158.4 L70.6,155.8 L71.1,153.2 L71.6,151.0 L72.0,149.2 L72.6,147.1 L73.1,145.6 L73.6,144.7 L74.2,144.1 L74.9,143.8 L75.3,143.9 L75.8,144.1 L76.3,144.4 L76.8,144.8 L77.4,145.3 L78.0,145.8 L78.5,146.4 L79.1,146.9 L79.7,147.5 L80.3,147.9 L80.8,148.3 L81.3,148.7 L81.8,149.1 L82.4,149.6 L82.9,150.0 L83.5,150.5 L84.0,150.9 L84.6,151.2 L85.1,151.5 L85.6,151.8 L86.0,151.9 L86.5,152.0 L87.1,151.8 L87.7,151.5 L88.2,151.0 L88.7,150.4 L89.2,149.6 L89.6,148.7 L90.1,147.7 L90.6,146.2 L91.2,144.5 L91.7,142.6 L92.2,140.7 L92.7,138.9 L93.1,137.4 L93.7,135.7 L94.2,134.3 L94.6,133.2 L95.2,132.2 L95.6,131.6 L96.0,131.2 L96.5,130.9 L97.0,130.7 L97.6,130.5 L98.0,130.4 L98.4,130.2 L98.7,130.1 L99.1,130.0 L99.5,130.0 L100.1,130.1 L100.8,130.5 L101.8,131.2 L102.1,131.4 L102.5,131.8 L102.9,132.2 L103.3,132.6 L103.7,133.0 L104.2,133.5 L104.6,134.1 L105.1,134.6 L105.6,135.2 L106.1,135.7 L106.6,136.3 L107.1,136.9 L107.7,137.6 L108.2,138.1 L108.8,138.8 L109.3,139.2 L109.9,139.8 L110.4,140.4 L111.0,141.1 L111.5,141.5 L112.0,142.0 L112.6,142.5 L113.1,142.7 L113.7,143.0 L114.2,143.6 L114.7,143.6 L115.2,144.0 L115.7,144.3 L116.2,144.5 L116.7,144.5 L117.2,144.7 L117.7,144.8 L118.2,144.9 L118.7,145.2 L119.3,145.1 L119.8,145.1 L120.3,145.2 L120.8,145.3 L121.3,145.5 L121.8,145.6 L122.4,145.6 L122.9,145.3 L123.4,145.6 L123.9,145.6 L124.4,145.4 L124.9,145.6 L125.4,145.6 L125.9,145.6 L126.4,145.8 L126.9,145.6 L127.4,145.6 L127.9,145.9 L128.4,145.9 L128.9,145.9 L129.4,146.1 L129.9,146.0 L130.4,145.9 L130.8,146.0 L131.3,146.1 L131.8,146.0 L132.2,146.3 L132.7,146.2 L133.2,146.3 L133.6,146.2 L134.1,146.4 L134.6,146.2 L135.1,146.4 L135.6,146.4 L136.1,146.1 L136.6,146.1 L137.1,146.2 L137.7,146.1 L138.2,146.1 L138.8,146.0 L139.4,145.8 L139.8,145.9 L140.2,145.8 L140.7,145.6 L141.2,145.6 L141.6,145.4 L142.1,145.2 L142.6,145.1 L143.0,145.1 L143.5,145.0 L144.0,144.9 L144.5,144.9 L145.0,144.5 L145.5,144.5 L146.0,144.4 L146.6,144.3 L147.1,144.0 L147.6,143.8 L148.1,143.7 L148.6,143.4 L149.2,143.3 L149.7,143.3 L150.2,143.0 L150.7,142.7 L151.3,142.7 L151.8,142.5 L152.3,142.4 L152.8,142.1 L153.3,142.0 L153.8,141.8 L154.3,141.6 L154.8,141.4 L155.3,141.2 L155.8,141.0 L156.3,141.0 L156.8,140.7 L157.3,140.3 L157.8,140.3 L158.3,140.2 L158.8,140.0 L159.3,139.6 L159.8,139.5 L160.3,139.3 L160.7,139.1 L161.2,138.7 L161.7,138.3 L162.2,138.3 L162.6,138.0 L163.1,137.8 L163.6,137.6 L164.0,137.3 L164.5,137.0 L165.0,136.7 L165.5,136.5 L166.0,136.4 L166.5,136.1 L167.0,135.7 L167.5,135.7 L168.0,135.4 L168.5,135.1 L169.0,134.8 L169.6,134.6 L170.1,134.3 L170.7,134.0 L171.3,133.9 L171.8,133.5 L172.4,133.2 L172.9,133.2 L173.3,132.9 L173.8,132.7 L174.3,132.5 L174.7,132.5 L175.2,132.0 L175.7,131.9 L176.3,131.6 L176.8,131.4 L177.3,131.4 L177.8,131.1 L178.4,131.0 L178.9,130.6 L179.5,130.3 L180.1,130.3 L180.6,130.0 L181.2,129.9 L181.7,129.6 L182.3,129.4 L182.9,129.2 L183.4,128.7 L184.0,128.5 L184.6,128.4 L185.1,128.1 L185.7,127.9 L186.2,127.8 L186.8,127.6 L187.3,127.3 L187.8,127.1 L188.3,127.0 L188.9,126.8 L189.4,126.5 L189.9,126.3 L190.3,126.3 L190.8,126.0 L191.3,125.7 L191.7,125.5 L192.2,125.5 L192.6,125.5 L193.0,125.3 L193.4,125.2 L193.8,125.1 L194.1,124.9 L194.4,124.7 L194.8,124.5 L195.9,124.2 L196.6,124.0 L197.0,123.7 L197.1,123.7 L197.2,123.7 L197.3,123.8 L197.5,123.8 L198.0,124.0 L198.8,123.9 L200.1,124.1 L200.4,124.1 L200.8,124.1 L201.1,124.1 L201.5,124.0 L201.8,124.0 L202.2,124.0 L202.6,124.2 L203.0,124.0 L203.5,124.0 L203.9,124.0 L204.4,124.1 L204.8,124.5 L205.3,124.1 L205.8,124.1 L206.3,124.6 L206.8,124.4 L207.3,124.5 L207.8,124.3 L208.3,124.4 L208.9,124.6 L209.4,124.7 L210.0,124.7 L210.5,124.8 L211.1,124.4 L211.6,124.4 L212.2,124.8 L212.7,124.5 L213.3,124.4 L213.9,124.9 L214.4,124.7 L215.0,124.8 L215.6,124.6 L216.2,124.7 L216.7,125.2 L217.3,125.1 L217.9,124.8 L218.4,125.0 L219.0,125.1 L219.5,124.9 L220.1,125.0 L220.6,124.9 L221.2,125.4 L221.7,125.6 L222.2,125.2 L222.7,125.7 L223.3,125.4 L223.8,125.3 L224.3,125.6 L224.7,125.5 L225.2,125.9 L225.7,126.0 L226.1,125.7 L226.6,125.6 L227.2,125.6 L227.7,126.3 L228.3,125.8 L228.9,126.2 L229.4,126.4 L230.0,126.4 L230.5,126.4 L231.1,126.7 L231.6,126.9 L232.2,126.5 L232.7,126.7 L233.3,126.9 L233.8,126.9 L234.3,126.8 L234.8,127.5 L235.4,127.1 L235.9,127.3 L236.4,127.7 L236.9,127.7 L237.4,127.9 L237.9,128.2 L238.4,128.1 L238.9,128.5 L239.4,128.0 L239.8,128.7 L240.3,128.5 L240.8,128.6 L241.2,128.4 L241.7,128.7 L242.2,129.2 L242.6,129.3 L243.0,129.7 L243.5,129.8 L243.9,129.7 L244.4,129.3 L244.8,130.2 L245.2,130.2 L245.6,129.9 L246.0,130.3 L246.4,130.5 L247.1,130.1 L247.7,131.1 L248.3,130.8 L248.8,131.2 L249.4,131.5 L249.9,131.9 L250.4,132.1 L250.9,132.2 L251.3,132.1 L251.8,132.6 L252.2,132.6 L252.7,132.7 L253.1,133.6 L253.5,133.2 L254.0,133.7 L254.4,134.1 L254.9,134.2 L255.4,134.0 L255.9,134.6 L256.4,135.1 L256.9,134.4 L257.5,135.3 L258.0,135.4 L258.7,134.9 L259.1,135.3 L259.5,135.4 L259.9,135.0 L260.4,134.8 L260.8,135.4 L261.2,134.8 L261.7,135.1 L262.1,135.1 L262.6,135.1 L263.0,135.7 L263.5,135.5 L264.0,134.8 L264.4,134.8 L264.9,135.4 L265.4,134.7 L265.9,134.9 L266.4,134.7 L266.9,134.8 L267.4,135.0 L267.9,134.7 L268.4,133.9 L268.9,134.8 L269.4,133.8 L269.9,134.2 L270.5,134.7 L271.0,133.6 L271.5,134.6 L272.1,133.4 L272.6,134.0 L273.2,133.1 L273.7,133.3 L274.3,133.7 L274.9,133.2 L275.4,132.6 L276.0,133.7 L276.6,133.6 L277.0,133.4 L277.5,132.6 L278.0,133.3 L278.4,133.3 L278.9,132.6 L279.4,132.6 L280.0,132.8 L280.5,132.5 L281.0,133.2 L281.6,133.2 L282.1,133.1 L282.7,132.9 L283.2,131.7 L283.8,131.3 L284.4,132.6 L285.0,132.0 L285.5,132.6 L286.1,131.8 L286.7,131.3 L287.3,131.2 L287.9,130.7 L288.5,131.2 L289.0,131.9 L289.6,131.3 L290.2,131.0 L290.8,131.2 L291.3,131.6 L291.9,130.4 L292.5,130.6 L293.0,130.1 L293.5,130.6 L294.1,131.1 L294.6,130.6 L295.1,130.7 L295.6,130.1 L296.1,130.6 L296.6,130.7 L297.0,129.7 L297.5,130.4 L297.9,130.4 L298.3,130.3 L298.7,129.1 L299.1,128.8 L299.5,128.8 L299.8,129.2 L300.1,129.0 L300.4,128.7 L300.7,129.3 L301.0,129.1" stroke="#d4c82e" stroke-width="0.85" opacity="1"/>
<path d="M53.0,178.8 L53.3,179.1 L53.7,179.5 L54.1,180.0 L54.6,180.5 L55.1,181.1 L55.7,181.7 L56.3,182.2 L56.9,182.7 L57.4,183.0 L58.0,183.2 L58.5,183.3 L59.0,183.4 L59.6,183.4 L60.1,183.4 L60.7,183.3 L61.2,183.1 L61.8,182.9 L62.3,182.5 L62.8,182.1 L63.3,181.5 L63.9,180.8 L64.4,179.9 L64.9,179.0 L65.4,177.9 L65.9,176.7 L66.4,175.4 L66.9,174.0 L67.4,172.6 L67.9,171.1 L68.4,169.3 L69.0,167.1 L69.5,164.8 L70.0,162.4 L70.6,160.1 L71.1,157.9 L71.6,155.9 L72.0,154.4 L72.6,152.5 L73.1,151.2 L73.6,150.4 L74.2,149.9 L74.9,149.7 L75.3,149.7 L75.8,149.9 L76.3,150.1 L76.8,150.5 L77.4,150.9 L78.0,151.4 L78.5,151.9 L79.1,152.4 L79.7,152.8 L80.3,153.2 L80.8,153.5 L81.3,153.9 L81.8,154.3 L82.4,154.7 L82.9,155.1 L83.5,155.5 L84.0,155.8 L84.5,156.1 L85.0,156.4 L85.6,156.6 L86.0,156.7 L86.5,156.7 L87.1,156.6 L87.7,156.4 L88.2,156.0 L88.7,155.5 L89.2,154.9 L89.7,154.2 L90.2,153.4 L90.7,152.5 L91.2,151.5 L91.7,150.3 L92.3,148.9 L92.8,147.5 L93.4,146.0 L93.9,144.7 L94.3,143.4 L94.7,142.3 L95.4,140.6 L95.9,139.3 L96.3,138.2 L96.8,137.2 L97.3,136.7 L97.7,136.2 L98.2,135.9 L98.7,135.7 L99.3,135.5 L99.7,135.5 L100.1,135.4 L100.4,135.4 L100.8,135.4 L101.3,135.5 L101.9,135.6 L102.6,135.9 L103.4,136.2 L103.8,136.3 L104.1,136.5 L104.5,136.7 L104.8,137.0 L105.2,137.2 L105.6,137.5 L106.0,137.7 L106.4,138.0 L106.8,138.3 L107.2,138.6 L107.7,138.8 L108.2,139.2 L108.7,139.5 L109.3,139.8 L109.9,140.2 L110.5,140.4 L111.1,140.7 L111.8,140.9 L112.6,141.4 L113.3,141.6 L114.2,141.9 L114.5,141.7 L114.9,141.9 L115.3,142.2 L115.7,141.9 L116.1,142.1 L116.5,142.2 L117.0,142.4 L117.4,142.6 L117.9,142.7 L118.3,142.7 L118.8,142.9 L119.3,143.0 L119.7,143.1 L120.2,143.2 L120.7,143.2 L121.2,143.3 L121.7,143.3 L122.2,143.5 L122.8,143.5 L123.3,143.7 L123.8,143.7 L124.4,143.9 L124.9,144.0 L125.4,143.9 L126.0,144.0 L126.5,144.1 L127.1,144.2 L127.6,144.4 L128.2,144.5 L128.7,144.6 L129.3,144.7 L129.8,144.6 L130.4,144.8 L130.9,144.7 L131.5,144.9 L132.0,144.8 L132.6,144.8 L133.1,145.2 L133.7,145.1 L134.2,145.0 L134.7,145.1 L135.3,145.0 L135.8,145.2 L136.3,145.4 L136.9,145.2 L137.4,145.2 L137.9,145.3 L138.4,145.4 L138.9,145.3 L139.4,145.1 L139.9,145.2 L140.4,145.3 L140.9,145.3 L141.5,145.3 L142.0,145.3 L142.5,145.0 L143.1,145.1 L143.6,145.0 L144.1,144.9 L144.7,145.0 L145.2,144.7 L145.8,144.8 L146.3,144.6 L146.8,144.7 L147.4,144.5 L147.9,144.5 L148.5,144.4 L149.0,144.1 L149.5,144.0 L150.1,144.1 L150.6,143.8 L151.1,143.9 L151.7,143.7 L152.2,143.5 L152.7,143.4 L153.2,143.5 L153.7,143.1 L154.2,143.2 L154.8,143.1 L155.3,142.8 L155.8,142.8 L156.3,142.7 L156.7,142.6 L157.2,142.5 L157.7,142.2 L158.2,142.2 L158.6,142.0 L159.1,141.9 L159.6,141.8 L160.0,141.5 L160.5,141.5 L160.9,141.4 L161.3,141.2 L161.7,141.3 L162.1,141.2 L162.5,140.8 L162.9,140.7 L163.6,140.7 L164.2,140.5 L164.8,140.1 L165.3,139.8 L165.7,139.8 L166.1,139.3 L166.5,139.1 L166.8,138.9 L167.2,138.7 L167.5,138.5 L167.8,138.3 L168.1,137.7 L168.4,137.7 L168.8,137.2 L169.1,137.1 L169.5,136.7 L169.9,136.5 L170.3,136.4 L170.8,136.2 L171.3,135.9 L171.9,135.9 L172.6,135.7 L173.3,135.4 L174.1,135.2 L175.0,135.2 L176.0,135.2 L176.3,135.0 L176.7,135.2 L177.0,135.2 L177.4,135.1 L177.8,135.0 L178.2,135.1 L178.6,135.1 L179.0,135.0 L179.4,135.0 L179.8,135.1 L180.2,135.0 L180.7,134.9 L181.1,134.8 L181.6,134.9 L182.1,134.9 L182.5,135.0 L183.0,135.1 L183.5,135.2 L184.0,135.2 L184.5,134.9 L185.0,135.0 L185.5,134.9 L186.0,135.2 L186.5,135.1 L187.1,135.1 L187.6,135.1 L188.1,135.2 L188.7,135.0 L189.2,135.4 L189.8,135.2 L190.3,135.2 L190.9,135.2 L191.4,135.2 L192.0,135.3 L192.6,135.3 L193.1,135.3 L193.7,135.5 L194.3,135.4 L194.8,135.4 L195.4,135.4 L196.0,135.6 L196.5,135.5 L197.1,135.5 L197.7,135.7 L198.2,135.7 L198.8,135.8 L199.4,135.8 L199.9,135.8 L200.5,136.1 L201.1,135.9 L201.6,135.7 L202.2,135.8 L202.8,136.0 L203.3,136.2 L203.9,136.0 L204.4,136.1 L205.0,136.3 L205.5,136.1 L206.0,136.5 L206.6,136.2 L207.1,136.6 L207.6,136.4 L208.1,136.5 L208.6,136.7 L209.1,136.4 L209.6,136.6 L210.1,136.6 L210.6,136.4 L211.1,136.8 L211.6,137.0 L212.1,136.9 L212.5,136.7 L213.0,137.0 L213.4,137.1 L213.8,136.7 L214.3,136.9 L214.7,137.0 L215.1,136.8 L215.5,137.2 L215.9,137.0 L216.3,137.3 L217.0,137.2 L217.7,137.1 L218.4,137.1 L219.1,137.2 L219.7,137.5 L220.4,137.5 L221.0,137.7 L221.6,137.9 L222.1,137.7 L222.7,137.6 L223.2,137.6 L223.7,137.8 L224.2,137.7 L224.7,138.2 L225.2,138.4 L225.7,138.3 L226.2,138.4 L226.6,138.6 L227.1,138.5 L227.5,138.4 L227.9,138.6 L228.4,138.8 L228.8,138.5 L229.2,138.5 L229.7,138.9 L230.1,139.3 L230.5,139.4 L230.9,138.9 L231.3,139.6 L231.8,139.1 L232.2,139.3 L232.7,139.6 L233.1,139.3 L233.6,140.0 L234.0,140.0 L234.5,139.8 L235.0,140.2 L235.5,139.7 L236.0,140.3 L236.5,140.4 L237.0,140.6 L237.5,140.2 L238.0,140.4 L238.5,140.4 L239.0,140.4 L239.5,140.4 L240.0,140.4 L240.5,140.7 L241.0,141.2 L241.5,141.1 L242.0,141.4 L242.5,141.6 L243.0,141.4 L243.6,141.2 L244.1,141.8 L244.6,141.8 L245.1,141.9 L245.6,141.7 L246.2,141.9 L246.7,141.9 L247.2,141.9 L247.7,142.3 L248.2,142.1 L248.8,142.1 L249.3,142.9 L249.8,142.2 L250.3,142.5 L250.8,143.2 L251.3,143.0 L251.9,142.9 L252.4,142.7 L252.9,143.3 L253.4,143.2 L253.9,143.0 L254.4,143.2 L254.9,143.2 L255.4,143.7 L255.8,143.6 L256.3,144.1 L256.8,143.7 L257.3,143.7 L257.7,143.9 L258.2,143.9 L258.7,144.5 L259.2,143.9 L259.7,143.9 L260.3,143.9 L260.8,144.5 L261.3,144.3 L261.8,144.8 L262.3,144.3 L262.8,144.4 L263.3,145.0 L263.8,145.4 L264.2,145.0 L264.7,144.9 L265.2,144.7 L265.6,145.1 L266.1,145.7 L266.6,144.8 L267.0,145.8 L267.5,144.9 L267.9,145.7 L268.4,145.6 L268.9,145.1 L269.3,145.9 L269.8,146.0 L270.3,145.5 L270.8,145.3 L271.3,145.2 L271.8,145.4 L272.3,145.1 L272.8,145.8 L273.3,145.2 L273.8,146.5 L274.3,146.3 L274.9,145.9 L275.4,146.3 L276.0,145.8 L276.6,145.9 L277.0,146.2 L277.5,145.7 L278.0,146.2 L278.4,146.6 L278.9,146.5 L279.4,145.9 L280.0,145.8 L280.5,147.0 L281.0,146.0 L281.6,145.9 L282.1,146.6 L282.7,146.6 L283.2,147.2 L283.8,146.7 L284.4,146.8 L285.0,146.7 L285.5,147.7 L286.1,146.2 L286.7,147.0 L287.3,147.3 L287.9,146.6 L288.5,147.1 L289.0,147.3 L289.6,147.0 L290.2,148.1 L290.8,147.3 L291.3,147.6 L291.9,146.7 L292.5,146.8 L293.0,148.0 L293.5,147.7 L294.1,148.4 L294.6,147.8 L295.1,147.2 L295.6,147.0 L296.1,147.9 L296.6,148.2 L297.0,148.5 L297.5,147.7 L297.9,147.2 L298.3,148.8 L298.7,147.5 L299.1,149.0 L299.5,148.7 L299.8,148.7 L300.1,147.8 L300.4,148.6 L300.7,148.5 L301.0,148.3" stroke="#d4c82e" stroke-width="0.85" opacity="1"/>
<path d="M53.0,179.7 L53.3,180.0 L53.7,180.4 L54.1,180.9 L54.6,181.4 L55.1,182.0 L55.7,182.5 L56.3,183.1 L56.9,183.5 L57.4,183.9 L58.0,184.1 L58.5,184.2 L59.0,184.3 L59.6,184.3 L60.1,184.3 L60.7,184.2 L61.2,184.1 L61.8,183.8 L62.3,183.6 L62.8,183.2 L63.3,182.7 L63.9,182.1 L64.4,181.4 L64.9,180.6 L65.4,179.7 L65.9,178.8 L66.4,177.7 L66.9,176.6 L67.4,175.5 L67.9,174.2 L68.4,172.7 L69.0,171.0 L69.5,169.1 L70.0,167.1 L70.6,165.2 L71.1,163.4 L71.6,161.8 L72.0,160.6 L72.6,159.1 L73.1,158.1 L73.6,157.4 L74.2,157.0 L74.9,156.7 L75.3,156.7 L75.8,156.7 L76.3,156.9 L76.8,157.0 L77.4,157.3 L78.0,157.5 L78.5,157.8 L79.1,158.1 L79.7,158.3 L80.3,158.5 L80.8,158.7 L81.3,158.9 L81.8,159.1 L82.4,159.3 L82.9,159.5 L83.5,159.7 L84.0,159.9 L84.5,160.1 L85.0,160.2 L85.6,160.3 L86.0,160.3 L86.5,160.3 L87.1,160.1 L87.7,159.9 L88.2,159.5 L88.7,159.1 L89.2,158.6 L89.7,158.0 L90.2,157.4 L90.7,156.6 L91.2,155.8 L91.7,154.7 L92.3,153.6 L92.8,152.3 L93.4,151.1 L93.9,149.9 L94.3,148.9 L94.7,148.0 L95.4,146.5 L95.9,145.3 L96.3,144.4 L96.8,143.6 L97.3,143.1 L97.7,142.7 L98.2,142.5 L98.7,142.3 L99.3,142.2 L99.6,142.1 L99.9,142.0 L100.2,141.8 L100.5,141.8 L100.9,141.8 L101.5,141.9 L102.3,142.2 L103.4,142.7 L103.7,142.9 L104.1,143.1 L104.5,143.3 L104.8,143.5 L105.2,143.7 L105.6,144.0 L106.1,144.2 L106.5,144.5 L107.0,144.8 L107.4,145.1 L107.9,145.4 L108.4,145.8 L108.9,146.2 L109.4,146.4 L109.9,146.8 L110.5,147.0 L111.0,147.4 L111.6,147.7 L112.1,148.1 L112.7,148.4 L113.2,148.9 L113.8,149.2 L114.4,149.6 L114.9,149.7 L115.5,150.3 L116.1,150.4 L116.7,151.0 L117.2,151.1 L117.8,151.5 L118.4,151.8 L119.0,151.9 L119.5,152.5 L120.0,152.7 L120.5,152.6 L120.9,153.0 L121.4,153.4 L121.9,153.3 L122.3,153.6 L122.8,154.1 L123.3,154.3 L123.8,154.6 L124.2,154.9 L124.7,155.0 L125.2,155.4 L125.7,155.5 L126.2,156.0 L126.7,156.2 L127.2,156.3 L127.7,156.7 L128.2,156.9 L128.7,157.1 L129.2,157.4 L129.7,157.7 L130.3,158.0 L130.8,158.0 L131.3,158.2 L131.8,158.4 L132.3,158.7 L132.8,158.9 L133.4,159.1 L133.9,159.2 L134.4,159.3 L135.0,159.6 L135.5,159.7 L136.0,159.8 L136.6,159.8 L137.1,159.8 L137.6,160.0 L138.2,160.2 L138.7,159.9 L139.3,160.0 L139.8,160.0 L140.3,160.1 L140.8,159.9 L141.2,159.9 L141.7,159.7 L142.2,159.8 L142.7,159.5 L143.3,159.5 L143.8,159.2 L144.3,159.2 L144.8,159.0 L145.3,158.7 L145.9,158.5 L146.4,158.4 L146.9,158.1 L147.5,157.9 L148.0,157.7 L148.6,157.3 L149.1,156.9 L149.6,156.8 L150.2,156.4 L150.7,156.4 L151.3,155.9 L151.8,155.8 L152.3,155.5 L152.9,155.1 L153.4,154.7 L153.9,154.7 L154.5,154.4 L155.0,153.9 L155.5,153.8 L156.0,153.5 L156.5,153.3 L157.0,153.0 L157.5,152.5 L158.0,152.1 L158.5,151.9 L159.0,151.8 L159.5,151.7 L159.9,151.3 L160.4,150.9 L160.8,150.7 L161.3,150.5 L161.7,150.4 L162.1,150.1 L162.5,149.9 L162.9,149.7 L163.6,149.5 L164.3,149.0 L164.9,148.8 L165.5,148.8 L166.0,148.5 L166.6,148.1 L167.1,148.1 L167.6,147.7 L168.0,147.7 L168.5,147.4 L169.0,147.3 L169.4,147.3 L169.8,147.1 L170.3,146.9 L170.7,146.6 L171.1,146.4 L171.6,146.4 L172.0,146.0 L172.5,145.9 L172.9,145.7 L173.4,145.4 L173.9,145.0 L174.5,144.9 L175.0,144.6 L175.6,144.1 L176.2,143.8 L176.6,143.6 L177.0,143.4 L177.5,143.1 L177.9,142.7 L178.4,142.4 L178.8,142.2 L179.3,141.9 L179.8,141.6 L180.2,141.1 L180.7,140.8 L181.2,140.6 L181.7,140.0 L182.2,139.6 L182.7,139.2 L183.2,138.8 L183.7,138.4 L184.2,138.1 L184.7,137.7 L185.2,137.4 L185.7,137.1 L186.2,136.7 L186.8,136.3 L187.3,135.7 L187.8,135.4 L188.3,135.1 L188.9,134.7 L189.4,134.5 L189.9,134.0 L190.5,133.6 L191.0,133.4 L191.5,133.1 L192.1,132.8 L192.6,132.5 L193.1,132.1 L193.7,132.0 L194.2,131.8 L194.8,131.5 L195.2,131.1 L195.7,130.9 L196.2,130.8 L196.7,130.5 L197.1,130.6 L197.6,130.5 L198.1,130.2 L198.6,130.1 L199.1,130.0 L199.6,129.7 L200.1,129.7 L200.6,129.6 L201.1,129.4 L201.6,129.0 L202.1,129.3 L202.6,129.1 L203.1,129.0 L203.6,128.9 L204.1,128.7 L204.6,128.7 L205.1,128.3 L205.7,128.4 L206.2,128.2 L206.7,128.4 L207.2,128.2 L207.7,128.0 L208.2,127.8 L208.7,128.1 L209.2,127.9 L209.8,127.6 L210.3,127.6 L210.8,127.8 L211.3,127.6 L211.8,127.4 L212.3,127.6 L212.8,127.3 L213.3,127.3 L213.8,127.1 L214.3,127.2 L214.8,127.1 L215.3,127.3 L215.8,127.0 L216.3,127.2 L216.8,127.0 L217.3,127.1 L217.8,127.0 L218.3,127.1 L218.8,127.0 L219.3,126.8 L219.8,126.9 L220.4,127.0 L220.9,126.5 L221.4,126.8 L221.9,126.4 L222.4,126.6 L222.9,126.7 L223.4,126.3 L223.9,126.3 L224.4,126.7 L224.8,126.8 L225.3,126.5 L225.8,126.3 L226.3,126.5 L226.8,126.4 L227.3,126.6 L227.8,126.5 L228.3,126.7 L228.8,126.7 L229.3,126.7 L229.8,126.7 L230.3,126.7 L230.8,126.4 L231.3,126.9 L231.8,126.9 L232.4,126.9 L232.9,126.4 L233.4,126.8 L233.9,127.2 L234.4,126.6 L234.9,126.6 L235.5,126.7 L236.0,127.1 L236.5,126.9 L237.0,127.3 L237.5,127.5 L238.0,127.0 L238.5,127.0 L239.0,127.6 L239.5,127.2 L240.0,127.9 L240.5,127.8 L241.0,128.1 L241.5,128.1 L242.0,128.2 L242.5,127.9 L243.0,128.3 L243.6,128.5 L244.1,128.7 L244.6,128.7 L245.1,128.3 L245.6,128.7 L246.2,129.2 L246.7,128.8 L247.2,129.1 L247.7,129.3 L248.2,129.3 L248.8,129.3 L249.3,129.3 L249.8,129.7 L250.3,129.7 L250.8,130.0 L251.3,129.9 L251.9,130.3 L252.4,130.3 L252.9,130.3 L253.4,130.3 L253.9,130.8 L254.4,130.2 L254.9,130.7 L255.4,130.4 L255.8,130.7 L256.3,130.5 L256.8,130.8 L257.3,131.1 L257.7,131.2 L258.2,131.0 L258.7,130.9 L259.2,130.8 L259.7,131.6 L260.3,131.7 L260.8,131.6 L261.3,131.6 L261.8,131.7 L262.3,131.7 L262.8,131.4 L263.3,131.5 L263.8,130.9 L264.2,130.9 L264.7,130.4 L265.2,130.4 L265.6,130.6 L266.1,130.3 L266.6,131.3 L267.0,131.0 L267.5,130.1 L267.9,130.6 L268.4,130.9 L268.9,130.1 L269.3,130.4 L269.8,130.2 L270.3,130.4 L270.8,130.4 L271.3,130.5 L271.8,129.8 L272.3,129.2 L272.8,129.1 L273.3,129.3 L273.8,128.9 L274.3,129.6 L274.9,129.6 L275.4,128.7 L276.0,129.0 L276.6,128.9 L277.0,129.8 L277.5,129.4 L278.0,128.9 L278.4,128.5 L278.9,128.3 L279.4,128.3 L280.0,128.8 L280.5,128.7 L281.0,127.9 L281.6,127.6 L282.1,128.3 L282.7,128.6 L283.2,127.9 L283.8,127.9 L284.4,128.1 L285.0,128.2 L285.5,127.9 L286.1,127.4 L286.7,128.1 L287.3,127.3 L287.9,126.5 L288.5,126.8 L289.0,127.5 L289.6,127.1 L290.2,127.6 L290.8,126.4 L291.3,126.5 L291.9,127.2 L292.5,126.4 L293.0,126.2 L293.5,126.2 L294.1,126.5 L294.6,126.5 L295.1,126.3 L295.6,125.0 L296.1,126.2 L296.6,125.8 L297.0,125.8 L297.5,126.3 L297.9,125.8 L298.3,126.1 L298.7,125.8 L299.1,125.6 L299.5,125.6 L299.8,124.4 L300.1,125.6 L300.4,125.5 L300.7,124.8 L301.0,125.0" stroke="#8fa052" stroke-width="0.85" opacity="1"/>
<path d="M53.0,175.3 L53.3,175.6 L53.7,176.0 L54.1,176.4 L54.6,177.0 L55.1,177.6 L55.7,178.1 L56.3,178.6 L56.9,179.1 L57.4,179.5 L58.0,179.7 L58.5,179.8 L59.0,179.9 L59.6,179.9 L60.1,179.9 L60.7,179.8 L61.2,179.7 L61.8,179.5 L62.3,179.2 L62.8,178.9 L63.3,178.4 L63.9,177.9 L64.4,177.3 L64.9,176.5 L65.4,175.7 L65.9,174.9 L66.4,173.9 L66.9,172.9 L67.4,171.9 L67.9,170.8 L68.4,169.4 L69.0,167.8 L69.5,166.1 L70.0,164.3 L70.6,162.6 L71.1,161.0 L71.6,159.6 L72.0,158.4 L72.6,157.1 L73.1,156.2 L73.6,155.5 L74.2,155.2 L74.9,155.0 L75.3,154.9 L75.8,155.0 L76.3,155.1 L76.8,155.3 L77.4,155.5 L78.0,155.8 L78.5,156.0 L79.1,156.3 L79.7,156.5 L80.3,156.7 L80.8,156.9 L81.3,157.1 L81.8,157.3 L82.4,157.5 L82.9,157.7 L83.5,157.9 L84.0,158.1 L84.5,158.3 L85.0,158.4 L85.6,158.5 L86.0,158.5 L86.5,158.5 L87.1,158.3 L87.7,158.1 L88.2,157.8 L88.7,157.4 L89.2,156.9 L89.7,156.3 L90.2,155.7 L90.7,155.0 L91.2,154.1 L91.7,153.1 L92.3,152.0 L92.8,150.8 L93.4,149.6 L93.9,148.4 L94.3,147.4 L94.7,146.5 L95.4,145.1 L95.9,143.9 L96.3,143.0 L96.8,142.3 L97.3,141.8 L97.7,141.4 L98.2,141.1 L98.7,141.0 L99.3,140.8 L99.6,140.8 L99.9,140.7 L100.2,140.7 L100.5,140.7 L100.9,140.7 L101.5,140.8 L102.3,141.1 L103.4,141.4 L103.7,141.5 L104.1,141.6 L104.5,141.7 L104.8,141.8 L105.2,142.0 L105.6,142.1 L106.1,142.3 L106.5,142.4 L107.0,142.7 L107.4,142.7 L107.9,142.9 L108.4,143.0 L108.9,143.4 L109.4,143.5 L109.9,143.8 L110.5,143.9 L111.0,144.0 L111.6,144.4 L112.1,144.4 L112.7,144.7 L113.2,144.9 L113.8,145.1 L114.4,145.1 L114.9,145.4 L115.5,145.8 L116.1,145.9 L116.7,146.2 L117.2,146.1 L117.8,146.4 L118.4,146.6 L119.0,146.7 L119.5,146.9 L120.0,147.0 L120.4,147.2 L120.9,147.6 L121.3,147.5 L121.8,147.8 L122.2,147.9 L122.6,148.1 L123.1,148.3 L123.5,148.5 L123.9,148.7 L124.4,148.9 L124.8,149.1 L125.2,149.0 L125.7,149.2 L126.1,149.3 L126.6,149.6 L127.0,149.8 L127.5,149.9 L127.9,150.3 L128.4,150.3 L128.9,150.5 L129.4,150.8 L129.9,151.0 L130.3,151.0 L130.8,151.3 L131.4,151.4 L131.9,151.5 L132.4,151.7 L133.0,151.9 L133.5,152.0 L134.1,152.2 L134.7,152.3 L135.2,152.5 L135.9,152.6 L136.5,152.8 L137.1,152.7 L137.8,152.7 L138.4,153.0 L139.1,153.0 L139.8,153.1 L140.2,153.4 L140.6,153.4 L141.0,153.3 L141.4,153.3 L141.8,153.4 L142.2,153.6 L142.6,153.6 L143.0,153.5 L143.5,153.5 L143.9,153.6 L144.3,153.9 L144.8,153.7 L145.2,153.9 L145.7,153.8 L146.1,154.1 L146.6,153.8 L147.0,154.0 L147.5,154.0 L148.0,154.2 L148.4,154.1 L148.9,154.2 L149.4,154.2 L149.9,154.3 L150.4,154.2 L150.9,154.4 L151.3,154.4 L151.8,154.5 L152.3,154.4 L152.8,154.6 L153.3,154.6 L153.8,154.7 L154.3,154.5 L154.9,154.6 L155.4,154.6 L155.9,154.8 L156.4,154.7 L156.9,154.8 L157.4,154.9 L157.9,154.9 L158.5,154.6 L159.0,154.9 L159.5,154.9 L160.0,154.9 L160.6,154.8 L161.1,155.0 L161.6,154.9 L162.2,155.0 L162.7,154.8 L163.2,155.1 L163.7,155.0 L164.3,155.0 L164.8,154.8 L165.4,155.0 L165.9,155.0 L166.4,155.0 L167.0,155.1 L167.5,155.2 L168.0,155.0 L168.6,154.9 L169.1,155.0 L169.6,155.1 L170.2,155.0 L170.7,154.9 L171.2,155.1 L171.8,155.0 L172.3,155.1 L172.8,155.1 L173.4,155.1 L173.9,155.1 L174.4,155.0 L174.9,155.1 L175.5,155.0 L176.0,155.1 L176.5,154.9 L177.0,154.9 L177.4,155.1 L177.9,154.8 L178.4,155.0 L178.9,154.9 L179.4,154.8 L179.9,154.9 L180.4,154.8 L180.9,154.8 L181.4,154.8 L181.9,154.6 L182.4,154.8 L183.0,154.5 L183.5,154.7 L184.0,154.6 L184.5,154.5 L185.1,154.6 L185.6,154.5 L186.1,154.4 L186.6,154.3 L187.2,154.1 L187.7,154.0 L188.2,154.3 L188.8,154.1 L189.3,154.2 L189.9,153.9 L190.4,154.0 L190.9,153.7 L191.5,153.8 L192.0,153.9 L192.6,153.9 L193.1,153.7 L193.6,153.4 L194.2,153.7 L194.7,153.5 L195.2,153.5 L195.8,153.4 L196.3,153.2 L196.9,153.4 L197.4,153.1 L197.9,153.0 L198.5,152.9 L199.0,153.0 L199.5,152.7 L200.0,152.9 L200.6,152.8 L201.1,152.7 L201.6,152.5 L202.1,152.5 L202.6,152.8 L203.2,152.7 L203.7,152.5 L204.2,152.3 L204.7,152.3 L205.2,152.4 L205.7,152.0 L206.2,152.3 L206.7,152.4 L207.1,152.3 L207.6,152.3 L208.1,151.9 L208.6,152.2 L209.0,151.8 L209.5,151.7 L210.0,151.6 L210.4,151.6 L210.9,151.8 L211.3,151.7 L211.8,151.5 L212.2,151.5 L212.6,151.7 L213.1,151.4 L213.5,151.8 L213.9,151.7 L214.3,151.2 L214.7,151.5 L215.1,151.6 L215.5,151.3 L215.9,151.5 L216.3,151.7 L217.0,151.7 L217.7,151.6 L218.4,151.5 L219.1,151.1 L219.8,151.5 L220.4,151.2 L221.1,151.2 L221.7,151.5 L222.3,151.1 L222.8,151.3 L223.4,151.5 L224.0,151.6 L224.5,151.5 L225.0,151.2 L225.5,151.5 L226.1,151.8 L226.5,151.7 L227.0,151.7 L227.5,151.9 L228.0,151.7 L228.4,152.2 L228.9,151.6 L229.3,152.2 L229.8,152.3 L230.2,152.0 L230.6,152.3 L231.0,151.9 L231.5,152.2 L231.9,152.3 L232.3,152.1 L232.7,152.7 L233.1,152.4 L233.5,152.5 L233.9,152.8 L234.4,152.4 L234.8,153.2 L235.2,152.7 L235.6,153.3 L236.1,152.8 L236.5,153.5 L237.1,153.7 L237.7,153.5 L238.2,153.3 L238.8,154.0 L239.4,153.9 L239.9,154.0 L240.5,154.5 L241.0,154.4 L241.5,155.1 L242.1,154.9 L242.6,154.8 L243.1,155.4 L243.6,155.7 L244.1,156.0 L244.6,155.7 L245.1,156.1 L245.6,155.9 L246.1,156.3 L246.6,157.0 L247.1,156.5 L247.5,156.7 L248.0,157.0 L248.4,157.1 L248.9,157.4 L249.3,157.6 L249.7,157.8 L250.2,158.0 L250.6,158.5 L251.0,158.7 L251.4,158.3 L252.0,158.6 L252.6,159.3 L253.2,158.9 L253.8,159.1 L254.3,159.4 L254.8,159.3 L255.3,159.3 L255.8,159.9 L256.2,159.6 L256.7,160.0 L257.1,160.1 L257.6,160.3 L258.0,159.8 L258.5,160.4 L259.0,159.8 L259.4,160.5 L259.9,160.1 L260.5,159.8 L260.9,160.0 L261.4,160.3 L261.8,160.6 L262.1,160.1 L262.5,160.1 L262.9,159.6 L263.2,159.5 L263.6,159.2 L263.9,159.7 L264.3,159.6 L264.7,159.3 L265.2,158.9 L265.7,159.5 L266.2,159.1 L266.8,158.9 L267.5,158.4 L268.2,158.2 L269.0,157.0 L269.8,157.5 L270.8,156.2 L271.2,156.9 L271.5,156.8 L271.9,155.6 L272.3,156.6 L272.7,156.4 L273.2,156.2 L273.6,156.0 L274.1,155.4 L274.5,155.4 L275.0,155.3 L275.5,155.2 L276.1,154.0 L276.6,154.7 L277.1,154.2 L277.7,153.4 L278.2,152.7 L278.8,152.8 L279.4,152.4 L279.9,152.1 L280.5,151.7 L281.1,151.3 L281.7,152.1 L282.3,152.0 L282.9,150.8 L283.5,150.7 L284.1,150.4 L284.7,149.7 L285.3,150.4 L285.9,149.2 L286.5,149.4 L287.1,149.1 L287.8,149.1 L288.4,148.7 L288.9,147.9 L289.5,147.7 L290.1,146.8 L290.7,147.6 L291.3,146.5 L291.9,147.4 L292.4,146.1 L293.0,146.7 L293.5,145.2 L294.1,144.7 L294.6,145.8 L295.1,144.5 L295.6,145.3 L296.1,144.9 L296.6,145.1 L297.0,144.2 L297.5,144.6 L297.9,143.3 L298.3,143.3 L298.7,143.4 L299.1,142.7 L299.5,143.4 L299.8,143.1 L300.1,142.9 L300.4,143.4 L300.7,141.5 L301.0,142.2" stroke="#5f5f5a" stroke-width="0.85" opacity="1"/>
<path d="M53.0,177.0 L53.3,177.3 L53.7,177.7 L54.1,178.2 L54.6,178.8 L55.1,179.3 L55.7,179.9 L56.3,180.4 L56.9,180.9 L57.4,181.2 L58.0,181.4 L58.5,181.6 L59.0,181.7 L59.6,181.7 L60.1,181.7 L60.7,181.6 L61.2,181.4 L61.8,181.2 L62.3,180.9 L62.8,180.5 L63.3,180.0 L63.9,179.4 L64.4,178.7 L64.9,177.8 L65.4,176.9 L65.9,175.9 L66.4,174.8 L66.9,173.6 L67.4,172.4 L67.9,171.2 L68.4,169.6 L69.0,167.7 L69.5,165.7 L70.0,163.7 L70.6,161.7 L71.1,159.8 L71.6,158.2 L72.0,156.9 L72.6,155.3 L73.1,154.1 L73.6,153.4 L74.2,153.0 L74.9,152.9 L75.3,152.9 L75.8,153.1 L76.3,153.4 L76.8,153.8 L77.4,154.3 L78.0,154.8 L78.5,155.3 L79.1,155.8 L79.7,156.3 L80.3,156.7 L80.8,157.1 L81.3,157.4 L81.8,157.8 L82.4,158.2 L83.0,158.6 L83.5,159.0 L84.1,159.4 L84.6,159.7 L85.1,160.0 L85.6,160.3 L86.1,160.5 L86.5,160.6 L87.2,160.7 L87.8,160.6 L88.3,160.3 L88.7,159.9 L89.1,159.4 L89.5,158.9 L90.2,157.6 L90.8,156.1 L91.4,154.8 L91.9,154.1 L92.4,153.6 L93.0,153.1 L93.5,152.7 L93.9,152.5 L94.4,152.3 L94.9,152.2 L95.4,152.1 L96.0,152.1 L96.3,152.0 L96.5,151.8 L96.7,151.7 L97.0,151.5 L97.4,151.5 L98.0,151.5 L98.9,151.8 L100.1,152.3 L100.4,152.5 L100.8,152.6 L101.1,152.8 L101.5,153.0 L101.9,153.1 L102.3,153.4 L102.7,153.6 L103.1,153.8 L103.6,154.0 L104.0,154.3 L104.5,154.5 L105.0,154.8 L105.5,155.1 L106.0,155.3 L106.5,155.6 L107.1,156.0 L107.6,156.1 L108.1,156.4 L108.7,156.6 L109.2,157.2 L109.8,157.5 L110.3,157.6 L110.9,157.9 L111.5,158.4 L112.0,158.5 L112.6,158.9 L113.2,159.1 L113.7,159.6 L114.3,159.9 L114.8,159.9 L115.4,160.4 L115.9,160.7 L116.5,160.8 L117.0,161.1 L117.5,161.5 L118.0,161.7 L118.6,161.9 L119.1,162.3 L119.5,162.3 L120.1,162.7 L120.6,162.9 L121.1,163.3 L121.6,163.5 L122.1,163.5 L122.6,163.9 L123.1,164.0 L123.6,164.4 L124.1,164.7 L124.6,164.8 L125.1,165.2 L125.6,165.6 L126.1,165.7 L126.6,166.0 L127.1,166.4 L127.6,166.6 L128.1,166.6 L128.6,167.0 L129.1,167.3 L129.6,167.5 L130.1,167.8 L130.6,167.8 L131.1,168.1 L131.6,168.4 L132.1,168.3 L132.6,168.7 L133.1,168.8 L133.6,169.0 L134.1,168.9 L134.6,169.2 L135.1,169.2 L135.6,169.4 L136.2,169.3 L136.7,169.3 L137.2,169.4 L137.7,169.4 L138.2,169.3 L138.7,169.3 L139.2,169.2 L139.6,169.2 L140.1,169.0 L140.6,168.9 L141.1,168.5 L141.6,168.3 L142.1,168.4 L142.6,168.2 L143.1,167.8 L143.6,167.6 L144.1,167.5 L144.6,167.0 L145.1,166.6 L145.6,166.5 L146.1,166.3 L146.6,165.9 L147.1,165.5 L147.6,165.4 L148.1,165.1 L148.6,164.8 L149.1,164.4 L149.7,164.2 L150.2,164.0 L150.7,163.7 L151.2,163.5 L151.7,163.2 L152.2,162.7 L152.7,162.6 L153.2,162.5 L153.7,162.1 L154.2,162.1 L154.6,161.9 L155.1,161.9 L155.6,161.7 L156.1,161.6 L156.6,161.5 L157.1,161.2 L157.6,161.4 L158.1,161.4 L158.6,161.3 L159.1,161.3 L159.6,161.6 L160.1,161.5 L160.6,161.8 L161.1,161.9 L161.6,162.0 L162.1,162.1 L162.6,162.4 L163.1,162.7 L163.6,162.8 L164.1,163.2 L164.6,163.4 L165.1,163.5 L165.6,163.9 L166.0,164.1 L166.5,164.5 L167.0,164.6 L167.5,165.0 L168.0,165.4 L168.5,165.4 L169.0,165.9 L169.5,166.2 L170.0,166.5 L170.4,166.8 L170.9,167.0 L171.4,167.0 L171.9,167.4 L172.4,167.6 L172.9,167.7 L173.4,167.9 L173.9,168.1 L174.5,168.1 L175.0,168.3 L175.5,168.4 L176.0,168.4 L176.5,168.5 L177.0,168.5 L177.4,168.6 L177.9,168.4 L178.4,168.6 L178.8,168.5 L179.3,168.6 L179.8,168.5 L180.3,168.5 L180.7,168.6 L181.2,168.4 L181.7,168.4 L182.1,168.4 L182.6,168.6 L183.1,168.4 L183.5,168.4 L184.0,168.3 L184.5,168.1 L185.0,168.0 L185.4,168.2 L185.9,167.9 L186.4,167.7 L186.9,167.7 L187.4,167.8 L187.9,167.4 L188.4,167.4 L188.9,167.1 L189.4,166.9 L189.9,166.8 L190.5,166.6 L191.0,166.7 L191.5,166.2 L192.0,166.2 L192.6,166.1 L193.1,165.7 L193.7,165.4 L194.3,165.4 L194.8,164.9 L195.4,164.5 L196.0,164.3 L196.4,164.1 L196.9,163.9 L197.3,163.4 L197.8,163.4 L198.3,162.9 L198.8,162.6 L199.3,162.6 L199.8,161.8 L200.3,161.8 L200.8,161.1 L201.3,160.7 L201.8,160.3 L202.4,159.9 L202.9,159.7 L203.5,159.3 L204.0,158.9 L204.6,158.2 L205.1,158.2 L205.7,157.7 L206.2,156.8 L206.8,156.5 L207.4,156.1 L207.9,155.5 L208.5,155.2 L209.1,154.6 L209.6,154.3 L210.2,153.6 L210.7,153.6 L211.3,153.0 L211.8,152.4 L212.4,151.8 L212.9,151.6 L213.5,151.0 L214.0,150.4 L214.5,150.3 L215.1,150.0 L215.6,149.7 L216.1,148.8 L216.6,148.6 L217.1,148.3 L217.6,147.8 L218.1,147.7 L218.5,147.3 L219.0,147.0 L219.5,146.6 L219.9,145.9 L220.3,146.0 L220.7,145.9 L221.1,145.1 L221.5,145.1 L221.9,145.2 L222.3,144.6 L222.6,144.4 L223.0,144.2 L223.3,144.0 L224.4,143.9 L225.3,143.9 L226.1,143.5 L226.7,143.8 L227.2,144.1 L227.6,145.0 L227.9,145.4 L228.2,145.9 L228.4,146.8 L228.7,147.5 L229.0,148.3 L229.3,148.9 L229.8,150.0 L230.3,150.6 L230.7,150.8 L231.2,151.7 L231.6,152.4 L232.1,152.7 L232.6,153.7 L233.0,153.8 L233.5,154.9 L234.0,155.1 L234.5,156.1 L235.0,157.1 L235.5,157.5 L236.0,158.1 L236.5,158.9 L237.1,159.5 L237.6,160.3 L238.1,160.5 L238.6,161.7 L239.2,161.7 L239.7,162.9 L240.2,162.9 L240.7,163.6 L241.2,163.9 L241.7,163.9 L242.2,163.9 L242.7,164.7 L243.3,164.8 L243.8,165.0 L244.3,165.1 L244.8,165.5 L245.4,165.7 L245.9,165.4 L246.4,165.9 L247.0,166.2 L247.5,165.9 L248.0,165.9 L248.5,166.6 L249.0,167.1 L249.5,166.9 L250.0,166.5 L250.5,167.3 L250.9,167.5 L251.4,167.1 L252.0,167.9 L252.5,167.4 L253.0,168.2 L253.5,168.2 L253.9,168.1 L254.3,168.8 L254.7,168.3 L255.2,168.7 L255.6,168.5 L256.0,168.7 L256.5,169.5 L257.0,168.8 L257.6,168.9 L258.2,169.6 L258.9,169.4 L259.6,169.8 L260.0,169.5 L260.4,169.3 L260.8,169.8 L261.2,169.6 L261.6,170.1 L262.0,169.3 L262.5,169.6 L262.9,169.4 L263.3,170.3 L263.8,169.5 L264.2,170.3 L264.7,169.8 L265.2,170.2 L265.6,169.4 L266.1,170.4 L266.6,169.9 L267.1,170.0 L267.6,170.1 L268.1,170.5 L268.7,169.7 L269.2,169.3 L269.7,170.1 L270.3,169.4 L270.8,170.2 L271.4,170.3 L271.9,170.0 L272.5,169.3 L273.0,169.6 L273.6,169.8 L274.2,170.6 L274.8,170.0 L275.4,170.7 L276.0,170.6 L276.6,170.2 L277.0,170.3 L277.5,170.6 L277.9,170.0 L278.4,169.5 L278.9,169.3 L279.4,169.3 L279.9,170.1 L280.4,170.4 L281.0,169.2 L281.5,170.1 L282.0,170.2 L282.6,169.4 L283.2,169.8 L283.7,169.2 L284.3,169.6 L284.9,169.1 L285.5,170.4 L286.0,169.1 L286.6,169.8 L287.2,169.5 L287.8,170.2 L288.4,170.3 L289.0,170.2 L289.6,170.4 L290.1,169.0 L290.7,170.4 L291.3,170.2 L291.8,169.5 L292.4,170.3 L293.0,170.2 L293.5,170.2 L294.0,170.2 L294.6,170.6 L295.1,169.2 L295.6,169.4 L296.1,170.0 L296.5,168.9 L297.0,169.5 L297.5,170.2 L297.9,168.7 L298.3,170.1 L298.7,169.0 L299.1,168.9 L299.5,170.5 L299.8,168.9 L300.1,169.7 L300.4,169.5 L300.7,168.6 L301.0,169.5" stroke="#6c5c9e" stroke-width="0.85" opacity="1"/>
<path d="M53.0,181.4 L53.3,181.7 L53.7,182.1 L54.1,182.6 L54.6,183.2 L55.1,183.7 L55.7,184.3 L56.3,184.8 L56.9,185.3 L57.4,185.6 L58.0,185.9 L58.5,186.0 L59.0,186.1 L59.6,186.1 L60.1,186.1 L60.7,186.0 L61.2,185.9 L61.8,185.7 L62.3,185.4 L62.8,185.0 L63.3,184.6 L63.9,184.1 L64.4,183.5 L64.9,182.8 L65.4,182.0 L65.9,181.1 L66.4,180.2 L66.9,179.2 L67.4,178.1 L67.9,177.1 L68.4,175.7 L69.0,174.1 L69.5,172.4 L70.0,170.7 L70.6,169.0 L71.1,167.4 L71.6,166.0 L72.0,164.8 L72.6,163.5 L73.1,162.5 L73.6,161.9 L74.2,161.6 L74.9,161.4 L75.3,161.4 L75.8,161.6 L76.3,161.8 L76.8,162.0 L77.4,162.4 L78.0,162.7 L78.5,163.1 L79.1,163.5 L79.7,163.8 L80.3,164.1 L80.8,164.3 L81.3,164.6 L81.8,164.9 L82.4,165.2 L83.0,165.4 L83.5,165.7 L84.1,166.0 L84.6,166.2 L85.1,166.4 L85.6,166.6 L86.1,166.7 L86.5,166.8 L87.2,166.8 L87.8,166.6 L88.3,166.4 L88.7,166.0 L89.1,165.6 L89.5,165.1 L90.2,163.8 L90.8,162.3 L91.4,161.0 L91.9,160.3 L92.4,159.7 L93.0,159.3 L93.5,158.9 L93.9,158.7 L94.4,158.5 L94.9,158.4 L95.4,158.3 L96.0,158.2 L96.3,158.2 L96.5,158.1 L96.7,158.0 L97.0,157.9 L97.4,157.9 L98.0,158.0 L98.9,158.2 L100.1,158.5 L100.4,158.6 L100.8,158.7 L101.1,158.8 L101.5,158.9 L101.9,159.0 L102.3,159.1 L102.7,159.2 L103.1,159.4 L103.5,159.5 L104.0,159.7 L104.5,159.8 L104.9,160.0 L105.4,160.1 L105.9,160.3 L106.4,160.4 L107.0,160.5 L107.5,160.9 L108.0,160.9 L108.5,161.2 L109.1,161.1 L109.6,161.6 L110.2,161.5 L110.8,161.8 L111.3,161.9 L111.9,162.1 L112.4,162.5 L113.0,162.6 L113.6,162.7 L114.1,163.0 L114.7,163.2 L115.2,163.4 L115.8,163.4 L116.4,163.5 L116.9,163.7 L117.4,164.1 L118.0,164.1 L118.5,164.4 L119.0,164.6 L119.5,164.7 L120.0,164.9 L120.5,165.1 L121.0,165.2 L121.5,165.4 L121.9,165.5 L122.4,165.6 L122.8,165.9 L123.3,166.2 L123.7,166.2 L124.2,166.4 L124.6,166.7 L125.1,166.8 L125.5,167.3 L125.9,167.5 L126.4,167.7 L126.8,167.6 L127.3,167.9 L127.7,168.1 L128.2,168.5 L128.6,168.6 L129.1,168.7 L129.5,169.1 L130.0,169.3 L130.5,169.5 L131.0,169.5 L131.5,169.6 L132.0,169.8 L132.5,170.0 L133.0,170.1 L133.6,170.3 L134.1,170.2 L134.7,170.5 L135.3,170.6 L135.9,170.7 L136.5,170.6 L137.1,170.8 L137.8,170.7 L138.4,170.9 L139.1,170.9 L139.8,171.0 L140.2,170.7 L140.6,170.7 L141.0,170.8 L141.4,170.9 L141.8,170.8 L142.3,170.8 L142.7,170.6 L143.2,170.5 L143.6,170.5 L144.1,170.6 L144.5,170.6 L145.0,170.3 L145.5,170.2 L146.0,170.4 L146.5,170.2 L147.0,170.1 L147.5,169.9 L148.0,170.1 L148.5,170.0 L149.0,169.7 L149.5,169.7 L150.0,169.6 L150.6,169.4 L151.1,169.4 L151.6,169.2 L152.2,169.3 L152.7,169.2 L153.3,169.1 L153.8,168.9 L154.3,168.7 L154.9,168.6 L155.4,168.5 L156.0,168.3 L156.5,168.2 L157.1,168.1 L157.6,168.1 L158.2,167.8 L158.7,167.6 L159.3,167.5 L159.8,167.4 L160.4,167.5 L160.9,167.2 L161.5,167.2 L162.0,167.0 L162.6,166.8 L163.1,166.8 L163.6,166.7 L164.2,166.3 L164.7,166.4 L165.2,166.1 L165.8,166.0 L166.3,166.0 L166.8,165.9 L167.3,165.7 L167.8,165.5 L168.3,165.5 L168.8,165.5 L169.3,165.3 L169.8,165.0 L170.3,164.9 L170.8,165.0 L171.3,164.7 L171.7,164.7 L172.2,164.6 L172.6,164.4 L173.1,164.5 L173.5,164.4 L174.0,164.3 L174.4,164.0 L174.8,164.0 L175.2,164.0 L175.6,163.7 L176.0,163.8 L176.7,163.6 L177.4,163.7 L178.0,163.3 L178.6,163.4 L179.2,163.2 L179.8,163.0 L180.3,163.0 L180.9,162.9 L181.4,162.9 L181.9,162.7 L182.4,162.8 L182.9,162.7 L183.3,162.6 L183.8,162.5 L184.2,162.6 L184.7,162.4 L185.1,162.3 L185.5,162.4 L185.9,162.1 L186.4,162.0 L186.8,162.1 L187.2,161.9 L187.6,161.8 L188.0,161.8 L188.4,161.9 L188.9,161.8 L189.3,161.8 L189.7,161.7 L190.2,161.3 L190.6,161.6 L191.1,161.2 L191.6,161.2 L192.1,161.0 L192.6,161.2 L193.1,160.9 L193.6,160.9 L194.2,160.6 L194.8,160.4 L195.4,160.3 L196.0,160.3 L196.4,160.0 L196.8,160.2 L197.3,160.1 L197.7,159.7 L198.2,159.9 L198.7,159.6 L199.1,159.5 L199.6,159.1 L200.1,159.2 L200.6,159.0 L201.1,158.8 L201.6,158.7 L202.1,158.5 L202.6,158.4 L203.1,158.2 L203.6,158.1 L204.2,157.9 L204.7,157.5 L205.2,157.3 L205.8,157.5 L206.3,156.9 L206.9,157.2 L207.4,156.9 L207.9,156.4 L208.5,156.6 L209.0,156.2 L209.6,155.8 L210.2,155.9 L210.7,155.8 L211.3,155.8 L211.8,155.4 L212.4,155.2 L212.9,154.9 L213.5,154.9 L214.0,154.5 L214.6,154.6 L215.1,154.2 L215.6,154.0 L216.2,154.2 L216.7,153.6 L217.2,153.7 L217.8,153.5 L218.3,153.1 L218.8,153.2 L219.3,153.1 L219.8,153.1 L220.3,153.0 L220.8,152.5 L221.3,152.5 L221.8,152.3 L222.3,152.2 L222.8,152.1 L223.2,152.2 L223.7,151.7 L224.1,151.9 L224.5,152.0 L225.0,151.4 L225.4,151.3 L225.8,151.8 L226.2,151.2 L226.6,151.3 L227.3,151.5 L228.0,151.2 L228.7,150.9 L229.3,151.4 L229.9,150.9 L230.6,151.2 L231.1,151.2 L231.7,150.6 L232.3,150.5 L232.8,150.7 L233.3,150.6 L233.8,150.9 L234.3,150.9 L234.8,150.8 L235.3,150.7 L235.8,150.8 L236.2,151.1 L236.7,151.0 L237.1,151.3 L237.5,151.1 L238.0,151.2 L238.4,151.4 L238.8,151.9 L239.2,152.1 L239.7,151.8 L240.1,152.5 L240.5,152.5 L240.9,153.2 L241.4,153.5 L241.8,153.7 L242.3,153.6 L242.7,154.3 L243.3,154.4 L243.9,155.5 L244.4,155.5 L245.0,156.2 L245.6,157.2 L246.2,158.0 L246.8,158.8 L247.3,159.4 L247.9,160.5 L248.4,161.3 L249.0,161.7 L249.5,162.5 L250.1,164.1 L250.6,164.6 L251.1,165.4 L251.6,166.1 L252.1,167.3 L252.6,168.2 L253.1,168.8 L253.5,169.6 L253.9,170.5 L254.4,171.4 L254.8,171.9 L255.2,173.3 L255.5,173.2 L256.3,175.2 L256.8,176.5 L257.2,177.8 L257.5,178.9 L257.8,179.9 L258.1,181.0 L258.4,182.2 L258.9,182.9 L259.6,183.3 L260.5,183.6 L260.8,184.4 L261.2,184.9 L261.5,184.1 L261.9,184.2 L262.3,184.3 L262.7,184.6 L263.1,184.9 L263.5,185.4 L264.0,184.4 L264.4,185.0 L264.9,185.4 L265.3,184.8 L265.8,185.4 L266.3,185.0 L266.8,184.7 L267.3,184.4 L267.8,185.0 L268.4,185.1 L268.9,184.9 L269.5,184.2 L270.0,185.1 L270.6,185.0 L271.1,184.7 L271.7,183.8 L272.3,183.8 L272.9,183.7 L273.5,184.9 L274.1,184.2 L274.7,184.7 L275.3,184.0 L276.0,183.7 L276.6,184.1 L277.0,183.8 L277.5,183.8 L277.9,184.1 L278.4,184.2 L278.9,184.4 L279.4,183.7 L279.9,183.3 L280.4,183.3 L280.9,183.3 L281.4,183.4 L282.0,183.7 L282.5,183.9 L283.1,184.5 L283.7,183.4 L284.2,184.4 L284.8,183.1 L285.4,183.2 L286.0,184.2 L286.6,183.1 L287.2,183.3 L287.7,183.2 L288.3,184.4 L288.9,184.1 L289.5,184.3 L290.1,182.9 L290.7,184.1 L291.2,183.7 L291.8,183.1 L292.4,183.7 L292.9,183.3 L293.5,183.3 L294.0,183.7 L294.5,182.7 L295.0,183.1 L295.5,183.0 L296.0,183.0 L296.5,183.2 L297.0,184.0 L297.4,182.6 L297.9,182.5 L298.3,184.1 L298.7,183.6 L299.1,183.9 L299.5,184.0 L299.8,183.1 L300.1,183.4 L300.4,184.0 L300.7,183.3 L301.0,183.2" stroke="#6c5c9e" stroke-width="0.85" opacity="1"/>
<path d="M53.0,167.3 L53.3,167.7 L53.7,168.1 L54.1,168.7 L54.6,169.3 L55.1,170.0 L55.7,170.6 L56.3,171.3 L56.9,171.8 L57.4,172.3 L58.0,172.6 L58.5,172.8 L59.0,173.0 L59.6,173.0 L60.1,173.0 L60.7,172.9 L61.2,172.8 L61.8,172.7 L62.3,172.6 L62.8,172.5 L63.3,172.4 L63.9,172.3 L64.4,172.2 L64.9,172.1 L65.5,171.9 L66.0,171.8 L66.5,171.6 L66.9,171.4 L67.4,171.2 L67.9,171.0 L68.5,170.7 L69.0,170.4 L69.6,170.1 L70.1,169.7 L70.6,169.4 L71.1,169.1 L71.6,168.8 L72.2,168.6 L72.7,168.3 L73.2,168.2 L73.8,168.1 L74.5,168.2 L74.9,168.3 L75.4,168.5 L75.9,168.7 L76.5,168.9 L77.1,169.1 L77.7,169.4 L78.2,169.7 L78.8,169.9 L79.3,170.2 L79.9,170.4 L80.4,170.7 L81.0,171.0 L81.5,171.3 L82.0,171.6 L82.5,171.8 L83.0,172.1 L83.5,172.3 L84.0,172.5 L84.4,172.6 L85.1,172.7 L85.7,172.6 L86.3,172.5 L86.8,172.3 L87.4,172.1 L87.9,171.9 L88.5,171.6 L89.1,171.3 L89.6,170.9 L90.1,170.5 L90.6,170.2 L91.2,169.9 L91.7,169.7 L92.1,169.5 L92.7,169.4 L93.1,169.3 L93.6,169.2 L94.0,169.1 L94.5,169.1 L95.2,169.1 L95.5,169.0 L95.6,168.9 L95.8,168.7 L96.0,168.5 L96.3,168.4 L96.9,168.5 L97.9,168.7 L99.3,169.2 L99.6,169.3 L99.9,169.4 L100.3,169.6 L100.6,169.7 L101.0,169.9 L101.4,170.1 L101.8,170.2 L102.2,170.4 L102.7,170.6 L103.1,170.8 L103.6,171.0 L104.1,171.3 L104.6,171.5 L105.1,171.7 L105.6,172.0 L106.1,172.2 L106.7,172.4 L107.2,172.7 L107.8,172.9 L108.3,173.2 L108.9,173.5 L109.4,173.7 L110.0,173.9 L110.5,174.3 L111.1,174.5 L111.7,174.9 L112.3,175.1 L112.8,175.3 L113.4,175.7 L114.0,175.7 L114.5,176.1 L115.1,176.2 L115.6,176.4 L116.2,176.9 L116.7,177.0 L117.2,177.2 L117.8,177.5 L118.3,177.9 L118.8,178.0 L119.3,178.2 L119.8,178.5 L120.3,178.8 L120.7,178.9 L121.2,179.1 L121.6,179.2 L122.2,179.5 L122.8,179.8 L123.3,180.0 L123.9,180.1 L124.4,180.6 L125.0,180.9 L125.5,180.8 L126.0,181.1 L126.5,181.4 L127.0,181.7 L127.5,182.0 L127.9,182.2 L128.4,182.4 L128.9,182.6 L129.4,182.9 L129.8,182.9 L130.3,183.1 L130.8,183.5 L131.2,183.5 L131.7,183.8 L132.2,183.8 L132.6,184.1 L133.1,184.2 L133.6,184.4 L134.1,184.5 L134.6,184.7 L135.1,185.0 L135.6,185.1 L136.1,185.2 L136.6,185.3 L137.2,185.4 L137.7,185.4 L138.2,185.4 L138.6,185.6 L139.1,185.7 L139.6,185.6 L140.0,185.5 L140.5,185.6 L141.0,185.7 L141.5,185.6 L142.0,185.8 L142.5,185.9 L143.0,185.9 L143.4,185.9 L143.9,185.9 L144.5,185.7 L145.0,185.6 L145.5,185.8 L146.0,185.6 L146.5,185.5 L147.0,185.5 L147.5,185.7 L148.0,185.5 L148.5,185.6 L149.0,185.6 L149.6,185.6 L150.1,185.4 L150.6,185.2 L151.1,185.4 L151.6,185.4 L152.1,185.3 L152.6,185.3 L153.1,185.2 L153.6,185.0 L154.1,185.1 L154.6,185.2 L155.1,185.2 L155.6,185.1 L156.1,184.9 L156.6,184.9 L157.1,185.0 L157.6,185.1 L158.1,185.1 L158.6,185.0 L159.1,185.1 L159.6,185.1 L160.0,185.0 L160.5,184.9 L161.0,185.1 L161.4,184.9 L161.9,184.9 L162.3,185.1 L162.8,185.1 L163.2,185.2 L163.7,185.0 L164.1,185.0 L164.6,185.0 L165.0,185.2 L165.5,185.1 L165.9,185.3 L166.4,185.2 L166.8,185.2 L167.3,185.3 L167.8,185.3 L168.2,185.1 L168.7,185.3 L169.2,185.2 L169.7,185.3 L170.2,185.3 L170.7,185.3 L171.3,185.3 L171.8,185.3 L172.4,185.5 L172.9,185.3 L173.5,185.3 L174.1,185.3 L174.7,185.5 L175.4,185.4 L176.0,185.3 L176.4,185.4 L176.8,185.6 L177.2,185.5 L177.7,185.6 L178.1,185.4 L178.5,185.5 L179.0,185.5 L179.4,185.6 L179.9,185.5 L180.3,185.4 L180.8,185.4 L181.2,185.6 L181.7,185.5 L182.2,185.5 L182.7,185.6 L183.1,185.4 L183.6,185.7 L184.1,185.5 L184.6,185.6 L185.1,185.4 L185.6,185.5 L186.1,185.6 L186.6,185.5 L187.1,185.4 L187.6,185.4 L188.1,185.5 L188.6,185.5 L189.2,185.5 L189.7,185.4 L190.2,185.6 L190.7,185.5 L191.2,185.5 L191.8,185.6 L192.3,185.7 L192.8,185.6 L193.4,185.7 L193.9,185.5 L194.4,185.5 L194.9,185.4 L195.5,185.8 L196.0,185.8 L196.5,185.5 L197.1,185.5 L197.6,185.4 L198.1,185.5 L198.7,185.5 L199.2,185.8 L199.7,185.8 L200.2,185.7 L200.8,185.6 L201.3,185.9 L201.8,185.5 L202.3,185.9 L202.9,185.9 L203.4,185.8 L203.9,186.0 L204.4,186.0 L204.9,186.0 L205.4,186.1 L205.9,186.0 L206.4,185.8 L206.9,185.8 L207.4,185.8 L207.9,186.0 L208.4,185.8 L208.9,186.2 L209.5,185.8 L210.0,186.1 L210.5,186.2 L211.0,186.1 L211.5,186.2 L212.0,185.9 L212.5,186.2 L213.1,186.4 L213.6,186.3 L214.1,186.4 L214.6,185.9 L215.2,186.3 L215.7,186.1 L216.2,186.2 L216.7,186.3 L217.3,186.1 L217.8,186.3 L218.3,186.6 L218.8,186.0 L219.3,186.5 L219.9,186.3 L220.4,186.5 L220.9,186.2 L221.4,186.7 L222.0,186.8 L222.5,186.8 L223.0,186.6 L223.5,186.3 L224.0,186.6 L224.5,186.3 L225.1,186.9 L225.6,186.4 L226.1,187.0 L226.6,186.5 L227.1,187.0 L227.6,186.8 L228.1,186.8 L228.6,186.6 L229.1,187.0 L229.6,186.7 L230.0,187.3 L230.5,186.8 L231.0,187.1 L231.5,187.1 L232.0,186.8 L232.4,187.3 L232.9,187.2 L233.4,187.2 L233.8,187.5 L234.3,187.7 L234.7,187.5 L235.2,187.6 L235.6,187.4 L236.1,187.6 L236.5,188.0 L237.1,187.6 L237.7,187.4 L238.3,187.8 L238.9,188.1 L239.4,188.2 L240.0,187.8 L240.5,188.3 L241.1,188.2 L241.7,188.8 L242.2,188.3 L242.7,188.4 L243.3,189.1 L243.8,189.1 L244.3,189.0 L244.8,188.8 L245.4,189.1 L245.9,189.9 L246.4,190.0 L246.9,189.4 L247.4,190.0 L247.9,189.6 L248.4,190.2 L248.9,190.0 L249.3,190.7 L249.8,190.1 L250.3,190.7 L250.8,191.2 L251.3,191.2 L251.7,191.4 L252.2,191.2 L252.7,190.8 L253.1,190.9 L253.6,191.1 L254.1,191.6 L254.5,191.4 L255.0,191.5 L255.5,191.5 L255.9,191.4 L256.4,191.6 L256.8,191.8 L257.3,192.3 L257.7,192.5 L258.2,192.3 L258.7,192.4 L259.2,192.0 L259.7,192.6 L260.3,192.6 L260.8,192.1 L261.3,192.8 L261.8,192.8 L262.3,192.9 L262.8,192.8 L263.3,192.7 L263.8,192.0 L264.2,192.5 L264.7,192.6 L265.2,192.1 L265.6,192.3 L266.1,192.6 L266.6,192.5 L267.0,192.2 L267.5,192.0 L267.9,192.3 L268.4,191.8 L268.9,191.7 L269.3,191.0 L269.8,191.3 L270.3,191.7 L270.8,191.7 L271.3,191.6 L271.8,191.3 L272.3,190.4 L272.8,190.3 L273.3,191.3 L273.8,190.6 L274.3,190.3 L274.9,190.0 L275.4,190.1 L276.0,190.2 L276.6,190.9 L277.0,190.5 L277.5,189.5 L278.0,189.4 L278.4,189.4 L278.9,190.1 L279.4,189.3 L280.0,189.2 L280.5,189.7 L281.0,189.7 L281.6,189.4 L282.1,189.2 L282.7,189.9 L283.2,189.8 L283.8,188.1 L284.4,188.9 L285.0,188.8 L285.5,188.4 L286.1,188.4 L286.7,188.0 L287.3,188.1 L287.9,188.9 L288.5,188.7 L289.0,188.2 L289.6,187.9 L290.2,186.7 L290.8,187.4 L291.3,187.9 L291.9,186.6 L292.5,187.4 L293.0,187.1 L293.5,186.6 L294.1,186.3 L294.6,187.0 L295.1,186.6 L295.6,187.3 L296.1,185.4 L296.6,185.4 L297.0,185.4 L297.5,186.5 L297.9,185.6 L298.3,185.9 L298.7,186.3 L299.1,186.1 L299.5,184.7 L299.8,185.2 L300.1,185.1 L300.4,186.0 L300.7,185.0 L301.0,185.2" stroke="#383834" stroke-width="0.85" opacity="1"/>
<path d="M53.0,171.7 L53.3,172.0 L53.7,172.4 L54.1,172.9 L54.6,173.4 L55.1,174.0 L55.7,174.6 L56.3,175.1 L56.9,175.5 L57.4,175.9 L58.0,176.2 L58.5,176.3 L59.0,176.4 L59.6,176.4 L60.1,176.4 L60.7,176.3 L61.2,176.2 L61.8,176.0 L62.3,175.8 L62.8,175.5 L63.3,175.1 L63.9,174.6 L64.4,174.1 L64.9,173.5 L65.4,172.8 L65.9,172.1 L66.4,171.3 L66.9,170.4 L67.4,169.5 L67.9,168.6 L68.4,167.4 L69.0,166.1 L69.5,164.6 L70.0,163.1 L70.6,161.6 L71.1,160.3 L71.6,159.1 L72.0,158.1 L72.6,156.9 L73.1,156.1 L73.6,155.5 L74.2,155.2 L74.9,155.1 L75.3,155.2 L75.8,155.4 L76.3,155.7 L76.8,156.1 L77.4,156.5 L78.0,156.9 L78.5,157.4 L79.1,157.8 L79.7,158.3 L80.3,158.6 L80.8,158.9 L81.3,159.3 L81.8,159.6 L82.4,160.0 L82.9,160.3 L83.5,160.7 L84.0,161.0 L84.6,161.3 L85.1,161.6 L85.6,161.8 L86.0,162.0 L86.5,162.1 L87.1,162.2 L87.7,162.2 L88.2,162.0 L88.7,161.8 L89.2,161.5 L89.6,161.2 L90.1,160.9 L90.6,160.5 L91.2,160.0 L91.7,159.4 L92.2,158.9 L92.7,158.3 L93.1,157.9 L93.7,157.4 L94.2,157.0 L94.6,156.7 L95.2,156.4 L95.6,156.3 L96.0,156.1 L96.5,156.0 L97.0,156.0 L97.6,155.9 L98.0,155.8 L98.2,155.6 L98.4,155.3 L98.6,155.1 L99.0,155.0 L99.6,155.0 L100.5,155.4 L101.8,156.1 L102.1,156.3 L102.4,156.5 L102.8,156.8 L103.1,157.1 L103.5,157.3 L103.9,157.6 L104.4,158.0 L104.8,158.3 L105.2,158.7 L105.7,159.0 L106.2,159.4 L106.7,159.8 L107.2,160.2 L107.7,160.5 L108.2,160.9 L108.8,161.5 L109.3,161.8 L109.8,162.3 L110.4,162.7 L110.9,163.4 L111.5,163.8 L112.1,164.2 L112.6,164.5 L113.2,165.1 L113.8,165.4 L114.3,165.9 L114.9,166.2 L115.4,166.6 L116.0,167.2 L116.5,167.4 L117.1,168.1 L117.6,168.2 L118.2,168.6 L118.7,169.2 L119.2,169.3 L119.7,169.7 L120.2,169.9 L120.7,170.4 L121.2,170.6 L121.6,170.7 L122.2,171.1 L122.7,171.5 L123.2,171.8 L123.6,171.8 L124.1,172.2 L124.5,172.2 L125.0,172.7 L125.4,172.7 L125.8,172.9 L126.2,173.1 L126.6,173.5 L127.0,173.6 L127.3,173.8 L127.7,173.7 L128.1,174.0 L128.5,173.9 L128.9,174.2 L129.3,174.2 L129.8,174.3 L130.2,174.6 L130.7,174.5 L131.2,174.5 L131.7,174.7 L132.2,174.8 L132.8,174.9 L133.4,174.8 L134.0,175.1 L134.7,175.0 L135.4,175.1 L136.1,175.1 L136.9,175.3 L137.7,175.2 L138.1,175.2 L138.4,175.4 L138.8,175.4 L139.2,175.2 L139.6,175.3 L140.0,175.5 L140.4,175.6 L140.8,175.3 L141.2,175.5 L141.6,175.4 L142.0,175.5 L142.4,175.4 L142.9,175.4 L143.3,175.5 L143.8,175.6 L144.2,175.3 L144.7,175.4 L145.1,175.7 L145.6,175.5 L146.0,175.5 L146.5,175.5 L147.0,175.4 L147.5,175.4 L148.0,175.5 L148.4,175.6 L148.9,175.6 L149.4,175.6 L149.9,175.6 L150.4,175.6 L150.9,175.6 L151.4,175.4 L152.0,175.5 L152.5,175.4 L153.0,175.3 L153.5,175.4 L154.0,175.6 L154.6,175.3 L155.1,175.6 L155.6,175.3 L156.2,175.3 L156.7,175.3 L157.2,175.4 L157.8,175.5 L158.3,175.5 L158.8,175.3 L159.4,175.4 L159.9,175.2 L160.5,175.3 L161.0,175.3 L161.5,175.3 L162.1,175.1 L162.6,175.1 L163.2,175.1 L163.7,175.1 L164.3,175.0 L164.8,175.0 L165.4,175.0 L165.9,174.8 L166.5,174.8 L167.0,175.0 L167.5,174.9 L168.1,174.9 L168.6,174.8 L169.2,174.9 L169.7,174.6 L170.2,174.6 L170.8,174.6 L171.3,174.4 L171.8,174.6 L172.4,174.4 L172.9,174.3 L173.4,174.4 L173.9,174.3 L174.5,174.3 L175.0,174.1 L175.5,174.1 L176.0,174.2 L176.5,174.1 L177.0,174.0 L177.5,174.0 L178.0,173.9 L178.5,173.9 L179.0,173.7 L179.5,173.6 L180.0,173.5 L180.5,173.6 L181.0,173.5 L181.5,173.4 L182.0,173.3 L182.6,173.2 L183.1,173.3 L183.6,173.1 L184.1,172.8 L184.7,172.8 L185.2,172.8 L185.7,172.6 L186.3,172.7 L186.8,172.6 L187.3,172.4 L187.9,172.2 L188.4,172.3 L188.9,172.1 L189.5,171.8 L190.0,171.8 L190.5,171.6 L191.1,171.8 L191.6,171.4 L192.2,171.3 L192.7,171.5 L193.2,171.2 L193.8,171.0 L194.3,171.1 L194.9,170.8 L195.4,170.6 L195.9,170.5 L196.5,170.6 L197.0,170.6 L197.5,170.3 L198.0,170.4 L198.6,170.1 L199.1,170.1 L199.6,170.0 L200.1,169.8 L200.7,169.5 L201.2,169.4 L201.7,169.5 L202.2,169.6 L202.7,169.1 L203.2,169.2 L203.7,168.9 L204.2,168.8 L204.7,169.1 L205.2,168.6 L205.7,168.8 L206.2,168.7 L206.7,168.6 L207.2,168.4 L207.7,168.4 L208.1,168.2 L208.6,168.2 L209.1,168.3 L209.5,168.1 L210.0,167.8 L210.5,167.9 L210.9,167.9 L211.3,167.7 L211.8,167.8 L212.2,167.3 L212.6,167.3 L213.1,167.6 L213.5,167.5 L213.9,167.3 L214.3,167.2 L214.7,167.3 L215.1,167.2 L215.5,167.0 L215.9,167.3 L216.3,167.0 L217.0,167.2 L217.7,166.9 L218.4,167.0 L219.1,166.7 L219.7,166.6 L220.4,166.5 L221.0,166.8 L221.6,166.6 L222.1,166.9 L222.7,166.5 L223.2,166.4 L223.7,166.7 L224.2,166.7 L224.7,166.4 L225.2,166.5 L225.7,166.4 L226.2,166.8 L226.6,166.9 L227.1,166.9 L227.5,167.0 L227.9,167.1 L228.4,167.1 L228.8,166.9 L229.2,167.0 L229.7,166.8 L230.1,167.2 L230.5,167.5 L230.9,167.0 L231.3,167.7 L231.8,167.6 L232.2,167.4 L232.7,167.9 L233.1,167.6 L233.6,167.9 L234.0,168.3 L234.5,168.1 L235.0,168.2 L235.5,168.7 L236.0,169.2 L236.5,169.4 L237.0,169.0 L237.5,169.2 L238.0,169.6 L238.5,169.8 L239.0,170.0 L239.5,170.8 L240.0,171.1 L240.5,170.9 L241.0,171.2 L241.5,171.9 L242.0,172.4 L242.5,172.9 L243.0,173.0 L243.6,173.0 L244.1,174.0 L244.6,174.3 L245.1,174.9 L245.6,174.9 L246.2,175.7 L246.7,175.6 L247.2,176.2 L247.7,176.6 L248.2,177.2 L248.8,177.5 L249.3,177.4 L249.8,177.8 L250.3,178.3 L250.8,179.2 L251.3,179.6 L251.9,179.8 L252.4,179.7 L252.9,180.0 L253.4,181.0 L253.9,180.9 L254.4,181.4 L254.9,181.7 L255.4,182.2 L255.8,181.9 L256.3,182.1 L256.8,182.1 L257.3,182.8 L257.7,183.0 L258.2,182.9 L258.7,183.6 L259.2,182.9 L259.7,183.1 L260.3,183.8 L260.8,183.6 L261.3,183.6 L261.8,183.2 L262.3,183.3 L262.8,183.8 L263.3,182.9 L263.8,182.8 L264.2,182.8 L264.7,183.1 L265.2,183.0 L265.6,182.9 L266.1,182.1 L266.6,182.5 L267.0,181.7 L267.5,182.5 L267.9,182.5 L268.4,181.8 L268.9,181.9 L269.3,181.6 L269.8,181.7 L270.3,181.4 L270.8,180.8 L271.3,181.0 L271.8,180.5 L272.3,179.9 L272.8,180.2 L273.3,180.0 L273.8,179.7 L274.3,179.7 L274.9,179.1 L275.4,178.7 L276.0,179.6 L276.6,178.7 L277.0,178.7 L277.5,178.0 L278.0,178.3 L278.4,178.8 L278.9,178.2 L279.4,177.7 L280.0,177.5 L280.5,177.7 L281.0,178.7 L281.6,178.2 L282.1,177.9 L282.7,178.1 L283.2,177.3 L283.8,177.6 L284.4,176.8 L285.0,178.3 L285.5,176.9 L286.1,177.9 L286.7,177.2 L287.3,177.7 L287.9,177.2 L288.5,176.8 L289.0,176.1 L289.6,177.6 L290.2,176.9 L290.8,177.3 L291.3,176.1 L291.9,177.1 L292.5,177.0 L293.0,175.8 L293.5,177.1 L294.1,175.5 L294.6,176.6 L295.1,175.1 L295.6,176.7 L296.1,176.7 L296.6,175.9 L297.0,176.2 L297.5,175.5 L297.9,176.1 L298.3,176.0 L298.7,176.5 L299.1,176.3 L299.5,176.5 L299.8,175.5 L300.1,174.6 L300.4,175.3 L300.7,175.7 L301.0,175.3" stroke="#5f5f5a" stroke-width="0.85" opacity="1"/>
<path d="M53.0,170.9 L53.3,171.1 L53.7,171.5 L54.1,172.0 L54.6,172.6 L55.1,173.1 L55.7,173.7 L56.3,174.2 L56.9,174.6 L57.4,175.0 L58.0,175.3 L58.5,175.4 L59.0,175.5 L59.6,175.5 L60.1,175.5 L60.7,175.5 L61.2,175.3 L61.8,175.2 L62.3,175.0 L62.8,174.8 L63.3,174.5 L63.9,174.2 L64.4,173.8 L64.9,173.4 L65.4,172.9 L65.9,172.3 L66.4,171.8 L66.9,171.2 L67.4,170.5 L67.9,169.9 L68.4,169.0 L69.0,168.1 L69.5,167.0 L70.0,166.0 L70.6,164.9 L71.1,163.9 L71.6,163.1 L72.0,162.4 L72.6,161.5 L73.1,160.9 L73.6,160.5 L74.2,160.3 L74.9,160.3 L75.3,160.3 L75.8,160.5 L76.3,160.7 L76.8,161.0 L77.4,161.3 L78.0,161.6 L78.5,162.0 L79.1,162.3 L79.7,162.6 L80.3,162.9 L80.8,163.1 L81.3,163.4 L81.8,163.7 L82.4,163.9 L82.9,164.2 L83.5,164.5 L84.0,164.7 L84.6,165.0 L85.1,165.2 L85.6,165.4 L86.0,165.5 L86.5,165.6 L87.1,165.6 L87.7,165.5 L88.2,165.3 L88.7,165.1 L89.2,164.8 L89.6,164.5 L90.1,164.1 L90.6,163.7 L91.2,163.1 L91.7,162.5 L92.2,161.8 L92.7,161.2 L93.1,160.8 L93.7,160.2 L94.2,159.7 L94.6,159.4 L95.2,159.1 L95.6,158.9 L96.0,158.7 L96.5,158.6 L97.0,158.5 L97.6,158.5 L98.0,158.4 L98.2,158.4 L98.5,158.3 L98.7,158.2 L99.1,158.2 L99.7,158.2 L100.6,158.4 L101.8,158.7 L102.1,158.8 L102.4,158.9 L102.8,159.0 L103.2,159.1 L103.6,159.3 L104.0,159.4 L104.4,159.5 L104.9,159.7 L105.4,159.8 L105.8,160.0 L106.3,160.2 L106.8,160.4 L107.4,160.4 L107.9,160.7 L108.4,161.0 L109.0,161.0 L109.5,161.2 L110.1,161.4 L110.6,161.6 L111.2,161.9 L111.7,162.1 L112.3,162.1 L112.9,162.5 L113.5,162.5 L114.0,162.7 L114.6,162.9 L115.2,163.0 L115.7,163.5 L116.3,163.7 L116.9,163.7 L117.4,163.9 L118.0,164.2 L118.5,164.3 L119.0,164.4 L119.5,164.6 L120.0,164.9 L120.5,165.1 L121.0,165.4 L121.5,165.2 L122.0,165.7 L122.5,165.7 L123.0,166.0 L123.5,166.2 L124.0,166.4 L124.5,166.5 L125.0,166.8 L125.5,167.1 L126.0,167.3 L126.5,167.4 L127.0,167.5 L127.5,168.0 L128.0,168.0 L128.5,168.2 L129.0,168.6 L129.5,168.7 L130.0,168.8 L130.5,169.0 L131.0,169.2 L131.5,169.4 L132.0,169.7 L132.5,169.6 L133.1,169.8 L133.6,170.0 L134.1,170.2 L134.6,170.2 L135.1,170.3 L135.6,170.5 L136.2,170.8 L136.7,170.8 L137.2,170.9 L137.7,171.0 L138.2,170.9 L138.7,170.9 L139.2,171.1 L139.6,170.9 L140.1,171.0 L140.6,170.9 L141.1,170.9 L141.6,171.0 L142.1,171.0 L142.6,170.8 L143.1,171.1 L143.6,170.9 L144.1,170.7 L144.6,170.8 L145.1,170.7 L145.6,170.8 L146.1,170.7 L146.6,170.7 L147.1,170.6 L147.6,170.4 L148.1,170.5 L148.6,170.4 L149.1,170.1 L149.7,170.2 L150.2,170.2 L150.7,169.9 L151.2,169.9 L151.7,170.0 L152.2,169.8 L152.7,169.8 L153.2,169.8 L153.7,169.5 L154.2,169.5 L154.6,169.5 L155.1,169.4 L155.6,169.3 L156.1,169.3 L156.6,169.3 L157.1,169.1 L157.6,169.0 L158.1,169.1 L158.6,169.0 L159.1,168.9 L159.6,168.9 L160.0,168.9 L160.5,168.7 L161.0,168.7 L161.4,168.9 L161.9,168.8 L162.3,168.6 L162.8,168.5 L163.2,168.5 L163.7,168.6 L164.1,168.7 L164.6,168.4 L165.0,168.3 L165.5,168.3 L165.9,168.3 L166.4,168.2 L166.8,168.3 L167.3,168.1 L167.8,168.3 L168.2,168.3 L168.7,168.0 L169.2,168.0 L169.7,168.0 L170.2,168.1 L170.7,168.0 L171.3,167.9 L171.8,168.0 L172.4,167.8 L172.9,167.7 L173.5,167.5 L174.1,167.5 L174.7,167.5 L175.4,167.4 L176.0,167.3 L176.4,167.2 L176.8,167.1 L177.2,167.3 L177.7,167.0 L178.1,166.9 L178.6,167.1 L179.0,167.0 L179.5,166.9 L180.0,166.9 L180.5,166.8 L180.9,166.7 L181.4,166.5 L181.9,166.5 L182.4,166.5 L182.9,166.2 L183.5,166.1 L184.0,166.2 L184.5,166.0 L185.0,165.9 L185.6,165.9 L186.1,166.0 L186.6,165.7 L187.2,165.5 L187.7,165.5 L188.2,165.3 L188.8,165.5 L189.3,165.2 L189.9,165.4 L190.4,165.2 L191.0,165.1 L191.5,164.9 L192.1,164.9 L192.6,164.6 L193.2,164.6 L193.7,164.5 L194.2,164.5 L194.8,164.5 L195.3,164.6 L195.9,164.2 L196.4,164.0 L196.9,164.3 L197.4,163.8 L198.0,164.2 L198.5,164.0 L199.0,163.7 L199.5,163.7 L200.0,163.6 L200.5,163.7 L201.0,163.7 L201.5,163.6 L202.0,163.3 L202.4,163.6 L202.9,163.5 L203.4,163.1 L203.8,163.2 L204.2,163.3 L204.7,163.1 L205.1,162.8 L205.5,163.0 L205.9,163.0 L206.6,163.0 L207.2,162.8 L207.9,162.8 L208.5,162.8 L209.1,162.8 L209.7,162.5 L210.3,162.3 L210.9,162.4 L211.4,162.3 L212.0,162.4 L212.5,162.0 L213.1,162.3 L213.6,161.9 L214.1,162.4 L214.6,162.0 L215.1,161.8 L215.6,162.0 L216.1,162.1 L216.6,162.2 L217.1,161.6 L217.5,161.6 L218.0,162.1 L218.5,161.9 L218.9,161.7 L219.4,161.6 L219.8,162.2 L220.2,161.8 L220.7,162.0 L221.1,162.1 L221.5,161.8 L222.0,161.9 L222.4,162.1 L222.8,161.8 L223.3,162.1 L223.7,162.2 L224.1,162.2 L224.7,162.3 L225.3,161.9 L225.8,162.3 L226.4,162.0 L226.9,162.2 L227.4,162.4 L227.9,162.2 L228.4,162.6 L228.9,162.9 L229.4,162.6 L229.8,163.1 L230.3,162.6 L230.7,162.7 L231.2,163.2 L231.6,163.6 L232.1,163.1 L232.6,163.8 L233.0,163.5 L233.5,164.0 L234.0,163.9 L234.4,164.2 L234.9,165.0 L235.4,165.1 L236.0,165.3 L236.5,165.8 L237.0,165.5 L237.4,166.4 L237.9,166.7 L238.4,167.1 L238.9,167.5 L239.4,167.3 L239.9,168.2 L240.4,168.3 L241.0,169.1 L241.5,169.0 L242.0,169.5 L242.6,169.8 L243.1,171.0 L243.6,170.9 L244.2,171.4 L244.7,172.2 L245.2,172.3 L245.7,173.1 L246.2,173.4 L246.8,173.6 L247.3,174.1 L247.8,175.0 L248.3,175.5 L248.7,175.3 L249.2,176.3 L249.7,176.5 L250.1,177.0 L250.6,177.4 L251.0,177.6 L251.4,178.3 L252.0,178.5 L252.6,178.8 L253.2,179.1 L253.7,180.0 L254.1,180.7 L254.6,181.2 L255.0,181.7 L255.4,182.2 L255.9,182.4 L256.3,182.8 L256.7,182.6 L257.1,183.1 L257.6,183.2 L258.1,183.9 L258.6,184.4 L259.2,184.1 L259.8,184.1 L260.5,183.8 L260.9,184.7 L261.3,184.1 L261.7,183.8 L262.1,184.4 L262.5,184.1 L262.9,184.5 L263.4,183.8 L263.8,184.3 L264.3,183.3 L264.7,183.2 L265.2,182.9 L265.6,182.7 L266.1,183.5 L266.6,182.3 L267.1,182.3 L267.6,181.8 L268.1,181.6 L268.6,181.9 L269.1,181.2 L269.6,181.8 L270.2,180.6 L270.7,180.7 L271.3,180.3 L271.8,180.4 L272.4,180.1 L273.0,180.4 L273.5,179.4 L274.1,179.5 L274.7,179.8 L275.3,178.8 L276.0,178.9 L276.6,178.9 L277.0,178.2 L277.5,178.7 L277.9,178.2 L278.4,178.3 L278.9,178.4 L279.4,178.3 L279.9,177.8 L280.4,178.3 L280.9,178.2 L281.4,177.9 L282.0,177.1 L282.5,177.8 L283.1,176.8 L283.7,177.3 L284.2,176.2 L284.8,177.5 L285.4,176.1 L286.0,176.0 L286.6,175.9 L287.2,176.1 L287.7,176.5 L288.3,175.2 L288.9,176.4 L289.5,175.4 L290.1,175.8 L290.7,176.3 L291.2,175.6 L291.8,175.6 L292.4,174.6 L292.9,175.6 L293.5,174.3 L294.0,175.7 L294.5,175.5 L295.0,174.4 L295.5,173.7 L296.0,174.2 L296.5,174.9 L297.0,173.4 L297.4,173.8 L297.9,175.0 L298.3,174.6 L298.7,174.0 L299.1,173.7 L299.5,173.5 L299.8,172.9 L300.1,173.3 L300.4,172.5 L300.7,173.6 L301.0,173.3" stroke="#5f5f5a" stroke-width="0.85" opacity="1"/>
<path d="M53.0,187.6 L53.3,187.7 L53.7,187.8 L54.1,187.9 L54.6,188.0 L55.2,188.2 L55.7,188.3 L56.3,188.4 L56.9,188.5 L57.4,188.5 L58.0,188.5 L58.4,188.5 L58.9,188.4 L59.3,188.4 L59.8,188.3 L60.2,188.2 L60.7,188.0 L61.2,187.8 L61.7,187.5 L62.3,187.2 L62.9,186.7 L63.3,186.4 L63.8,186.1 L64.2,185.6 L64.7,185.1 L65.2,184.6 L65.7,184.1 L66.2,183.5 L66.8,183.0 L67.3,182.4 L67.9,181.8 L68.4,181.3 L69.0,180.8 L69.5,180.3 L70.0,179.9 L70.6,179.6 L71.1,179.3 L71.6,179.1 L72.1,178.9 L72.7,178.9 L73.2,178.9 L73.7,178.9 L74.3,179.1 L74.8,179.2 L75.4,179.4 L75.9,179.6 L76.4,179.8 L76.9,180.1 L77.4,180.3 L78.0,180.5 L78.4,180.7 L78.9,180.8 L79.4,180.9 L79.9,181.0 L80.5,181.0 L81.0,181.0 L81.6,181.0 L82.1,181.0 L82.6,181.0 L83.1,180.9 L83.6,180.8 L84.1,180.7 L84.6,180.6 L85.1,180.4 L85.6,180.2 L86.1,180.0 L86.6,179.8 L87.1,179.5 L87.6,179.1 L88.2,178.7 L88.7,178.3 L89.2,177.9 L89.7,177.5 L90.2,177.1 L90.8,176.7 L91.3,176.4 L91.9,176.2 L92.3,176.0 L92.7,175.8 L93.2,175.6 L93.6,175.5 L94.0,175.3 L94.4,175.2 L94.8,175.1 L95.3,175.0 L95.8,175.0 L96.4,174.9 L97.0,174.9 L97.7,175.0 L98.5,175.1 L98.8,175.1 L99.2,175.2 L99.6,175.3 L100.0,175.4 L100.4,175.5 L100.8,175.5 L101.3,175.7 L101.7,175.8 L102.1,175.9 L102.6,176.0 L103.1,176.1 L103.6,176.3 L104.0,176.4 L104.5,176.5 L105.0,176.7 L105.6,176.8 L106.1,177.0 L106.6,177.1 L107.1,177.2 L107.7,177.4 L108.2,177.6 L108.8,177.8 L109.3,178.0 L109.9,177.9 L110.5,178.4 L111.0,178.6 L111.6,178.7 L112.2,178.9 L112.8,179.1 L113.3,179.2 L113.8,179.4 L114.2,179.5 L114.7,179.6 L115.1,179.7 L115.6,180.0 L116.1,180.2 L116.6,180.3 L117.0,180.3 L117.5,180.5 L118.0,180.6 L118.5,180.7 L119.0,181.0 L119.5,181.3 L120.0,181.3 L120.5,181.4 L121.1,181.7 L121.6,181.8 L122.1,182.1 L122.6,182.1 L123.1,182.3 L123.7,182.5 L124.2,182.6 L124.7,183.0 L125.2,183.1 L125.8,183.2 L126.3,183.3 L126.8,183.6 L127.3,183.9 L127.9,183.8 L128.4,184.2 L128.9,184.1 L129.5,184.5 L130.0,184.5 L130.5,184.6 L131.0,184.8 L131.5,184.8 L132.1,184.9 L132.6,185.0 L133.1,184.9 L133.6,185.0 L134.1,185.1 L134.6,185.4 L135.1,185.5 L135.6,185.4 L136.1,185.6 L136.6,185.4 L137.1,185.6 L137.6,185.7 L138.1,185.6 L138.6,185.6 L139.1,185.5 L139.6,185.6 L140.1,185.7 L140.6,185.5 L141.1,185.7 L141.6,185.7 L142.1,185.5 L142.6,185.4 L143.1,185.7 L143.6,185.7 L144.1,185.5 L144.6,185.4 L145.1,185.6 L145.6,185.4 L146.1,185.5 L146.6,185.5 L147.1,185.4 L147.6,185.4 L148.1,185.3 L148.6,185.4 L149.2,185.2 L149.7,185.1 L150.2,185.1 L150.7,185.3 L151.2,185.1 L151.7,185.1 L152.3,185.3 L152.8,185.2 L153.3,185.1 L153.8,185.0 L154.3,185.0 L154.8,185.2 L155.3,185.2 L155.8,185.0 L156.3,185.4 L156.8,185.3 L157.3,185.5 L157.8,185.2 L158.3,185.3 L158.8,185.5 L159.3,185.5 L159.8,185.5 L160.3,185.4 L160.8,185.7 L161.4,185.6 L161.9,185.6 L162.4,185.7 L162.9,185.5 L163.4,185.6 L163.9,185.6 L164.4,185.7 L165.0,185.8 L165.5,186.0 L166.0,185.9 L166.5,186.0 L167.0,186.0 L167.5,186.2 L168.1,185.9 L168.6,186.2 L169.1,186.1 L169.6,185.9 L170.1,186.1 L170.6,185.9 L171.1,186.2 L171.6,186.1 L172.1,186.1 L172.6,186.2 L173.1,186.1 L173.6,186.1 L174.1,185.9 L174.6,185.8 L175.0,186.1 L175.5,185.8 L176.0,185.9 L176.5,185.8 L177.1,185.9 L177.6,185.7 L178.1,185.6 L178.7,185.5 L179.2,185.4 L179.7,185.3 L180.3,185.3 L180.8,185.2 L181.3,184.8 L181.9,184.9 L182.4,184.5 L182.9,184.7 L183.4,184.4 L184.0,184.3 L184.5,184.1 L185.0,184.0 L185.5,183.7 L186.0,183.7 L186.5,183.8 L187.0,183.4 L187.5,183.2 L188.0,183.2 L188.5,182.9 L189.0,182.7 L189.5,182.7 L190.0,182.6 L190.5,182.4 L191.0,182.1 L191.5,182.0 L191.9,182.0 L192.4,181.7 L192.9,181.5 L193.3,181.3 L193.8,181.3 L194.3,180.9 L194.7,180.8 L195.1,180.8 L195.6,180.6 L196.2,180.1 L196.7,180.3 L197.3,179.9 L197.9,179.7 L198.4,179.3 L198.9,178.9 L199.5,179.0 L200.0,178.7 L200.5,178.5 L201.0,178.1 L201.5,177.6 L202.0,177.3 L202.5,176.8 L203.0,176.8 L203.5,176.5 L204.0,176.5 L204.5,176.1 L204.9,175.8 L205.4,175.6 L205.9,175.0 L206.4,175.1 L206.8,175.0 L207.3,174.6 L207.7,174.7 L208.2,174.6 L208.7,174.2 L209.1,174.5 L209.6,174.0 L210.1,174.2 L210.6,174.4 L211.1,174.1 L211.6,174.0 L212.1,174.3 L212.6,174.4 L213.1,174.5 L213.6,175.2 L214.1,175.3 L214.6,175.3 L215.1,175.9 L215.6,175.8 L216.0,176.5 L216.5,177.1 L217.0,177.4 L217.5,177.5 L218.0,178.1 L218.4,178.0 L218.9,178.1 L219.4,178.5 L219.9,178.7 L220.4,179.6 L220.9,180.0 L221.4,180.4 L221.9,180.0 L222.5,181.0 L222.9,181.1 L223.4,180.9 L223.9,180.8 L224.3,181.4 L224.8,182.0 L225.3,182.2 L225.7,181.7 L226.2,182.0 L226.6,182.5 L227.1,182.1 L227.6,182.9 L228.1,183.2 L228.5,182.7 L229.0,183.7 L229.5,183.6 L230.0,184.0 L230.5,183.7 L231.0,184.1 L231.5,184.5 L232.0,184.3 L232.5,185.0 L233.1,184.4 L233.6,184.8 L234.2,185.6 L234.7,185.4 L235.3,186.0 L235.9,185.9 L236.5,186.4 L236.9,186.7 L237.4,186.6 L237.8,187.2 L238.3,186.5 L238.7,186.9 L239.2,187.7 L239.6,187.5 L240.1,188.2 L240.6,188.4 L241.0,188.4 L241.5,188.3 L242.0,189.2 L242.5,188.5 L243.0,189.5 L243.5,189.8 L244.0,189.7 L244.5,189.5 L245.0,190.3 L245.5,190.4 L246.0,190.1 L246.6,190.9 L247.1,191.3 L247.6,191.7 L248.1,191.6 L248.6,191.7 L249.1,191.9 L249.7,192.6 L250.2,193.0 L250.7,192.1 L251.2,192.6 L251.7,192.6 L252.3,192.8 L252.8,193.5 L253.3,193.9 L253.8,193.1 L254.3,193.3 L254.8,194.5 L255.3,193.9 L255.8,194.2 L256.3,194.8 L256.8,194.2 L257.3,194.2 L257.8,194.5 L258.3,194.8 L258.8,194.0 L259.3,194.3 L259.8,194.9 L260.3,194.2 L260.8,194.0 L261.3,194.7 L261.8,194.5 L262.3,195.1 L262.7,195.0 L263.2,194.0 L263.7,193.8 L264.2,193.8 L264.7,194.9 L265.2,194.0 L265.7,194.4 L266.2,194.6 L266.7,193.5 L267.2,194.7 L267.7,194.6 L268.2,194.2 L268.7,194.4 L269.2,194.0 L269.7,193.5 L270.2,193.6 L270.7,192.9 L271.2,193.5 L271.8,194.0 L272.3,193.3 L272.8,194.1 L273.3,193.0 L273.9,193.8 L274.4,193.1 L274.9,193.2 L275.5,192.2 L276.0,193.6 L276.6,193.3 L277.1,193.2 L277.5,192.8 L278.0,193.0 L278.5,191.9 L279.0,192.0 L279.5,191.9 L280.1,192.4 L280.6,192.1 L281.2,192.5 L281.7,193.2 L282.3,193.2 L282.8,193.1 L283.4,191.9 L284.0,192.1 L284.5,193.3 L285.1,192.8 L285.7,193.2 L286.3,192.2 L286.9,192.6 L287.5,192.2 L288.0,192.4 L288.6,192.3 L289.2,192.2 L289.8,191.4 L290.3,192.9 L290.9,191.4 L291.5,191.7 L292.0,191.2 L292.6,192.6 L293.1,192.3 L293.6,190.8 L294.2,190.7 L294.7,192.2 L295.2,191.9 L295.7,192.0 L296.1,192.0 L296.6,190.5 L297.1,191.5 L297.5,191.7 L297.9,190.5 L298.3,191.1 L298.7,190.3 L299.1,191.0 L299.5,191.5 L299.8,192.4 L300.1,191.3 L300.4,191.2 L300.7,191.0 L301.0,191.2" stroke="#8fa052" stroke-width="0.85" opacity="1"/>
<path d="M53.0,195.3 L53.3,195.3 L53.7,195.4 L54.1,195.4 L54.6,195.4 L55.1,195.5 L55.7,195.5 L56.3,195.5 L56.9,195.5 L57.6,195.5 L58.2,195.4 L58.8,195.3 L59.2,195.2 L59.7,195.1 L60.2,194.9 L60.7,194.8 L61.1,194.6 L61.6,194.5 L62.1,194.3 L62.7,194.1 L63.2,193.8 L63.7,193.6 L64.2,193.3 L64.7,193.0 L65.2,192.7 L65.7,192.4 L66.2,192.0 L66.7,191.6 L67.2,191.1 L67.7,190.6 L68.2,190.0 L68.7,189.4 L69.2,188.7 L69.6,188.1 L70.1,187.4 L70.6,186.8 L71.1,186.2 L71.6,185.6 L72.1,185.1 L72.6,184.7 L73.1,184.4 L73.7,184.2 L74.2,184.1 L74.7,184.1 L75.2,184.1 L75.7,184.2 L76.3,184.4 L76.8,184.6 L77.3,184.9 L77.9,185.2 L78.4,185.5 L78.9,185.7 L79.5,186.0 L80.0,186.3 L80.5,186.6 L81.0,186.8 L81.5,186.9 L81.9,187.0 L82.5,187.1 L83.1,187.2 L83.6,187.2 L84.2,187.3 L84.7,187.3 L85.2,187.3 L85.7,187.3 L86.1,187.2 L86.6,187.0 L87.1,186.8 L87.6,186.6 L88.1,186.2 L88.6,185.8 L89.2,185.2 L89.7,184.5 L90.2,183.8 L90.7,183.0 L91.2,182.2 L91.7,181.4 L92.3,180.5 L92.8,179.8 L93.3,179.1 L93.8,178.4 L94.3,177.9 L94.9,177.5 L95.4,177.1 L96.0,176.8 L96.6,176.5 L97.2,176.3 L97.8,176.1 L98.4,175.9 L98.9,175.7 L99.4,175.6 L99.9,175.5 L100.2,175.4 L100.5,175.3" stroke="#dadada" stroke-width="0.9" opacity="1"/>
<path d="M53.0,178.8 L53.3,179.1 L53.7,179.5 L54.1,180.0 L54.6,180.5 L55.1,181.1 L55.7,181.6 L56.3,182.1 L56.9,182.6 L57.4,183.0 L58.0,183.2 L58.5,183.4 L59.0,183.4 L59.6,183.5 L60.1,183.5 L60.7,183.4 L61.2,183.3 L61.8,183.1 L62.3,182.8 L62.8,182.6 L63.3,182.2 L63.9,181.8 L64.4,181.3 L64.9,180.7 L65.4,180.1 L65.9,179.4 L66.4,178.7 L66.9,177.9 L67.4,177.1 L67.9,176.2 L68.4,175.1 L69.0,173.8 L69.5,172.5 L70.0,171.1 L70.6,169.7 L71.1,168.5 L71.6,167.3 L72.0,166.4 L72.6,165.4 L73.1,164.6 L73.6,164.1 L74.2,163.8 L74.9,163.7 L75.3,163.8 L75.8,163.9 L76.3,164.1 L76.8,164.4 L77.4,164.7 L78.0,165.1 L78.5,165.4 L79.1,165.8 L79.7,166.1 L80.3,166.4 L80.8,166.6 L81.3,166.9 L81.8,167.2 L82.4,167.5 L82.9,167.8 L83.5,168.0 L84.0,168.3 L84.6,168.5 L85.1,168.7 L85.6,168.9 L86.0,169.0 L86.5,169.1 L87.1,169.1 L87.7,169.0 L88.2,168.8 L88.7,168.5 L89.2,168.1 L89.6,167.7 L90.1,167.2 L90.6,166.6 L91.2,165.9 L91.7,165.0 L92.2,164.2 L92.7,163.4 L93.1,162.8 L93.7,162.0 L94.2,161.4 L94.6,161.0 L95.2,160.6 L95.6,160.3 L96.0,160.1 L96.5,160.0 L97.0,159.9 L97.6,159.8 L97.9,159.7 L97.9,159.5 L97.8,159.3 L97.7,159.1 L98.0,159.1 L98.6,159.1 L99.8,159.5 L101.8,160.1 L102.1,160.2 L102.4,160.3 L102.7,160.4 L103.0,160.5 L103.3,160.7 L103.6,160.8 L104.0,161.0 L104.4,161.1 L104.7,161.3 L105.1,161.4 L105.5,161.6 L105.9,161.8 L106.3,161.9 L106.7,162.1 L107.1,162.2 L107.6,162.4 L108.0,162.6 L108.4,162.8 L108.9,163.2 L109.4,163.3 L109.8,163.4 L110.3,163.6 L110.8,163.9 L111.3,164.3 L111.8,164.4 L112.3,164.5 L112.8,165.0 L113.3,165.2 L113.8,165.2 L114.3,165.6 L114.8,165.9 L115.4,166.1 L115.9,166.1 L116.5,166.5 L117.0,166.7 L117.5,166.9 L118.1,167.1 L118.6,167.4 L119.2,167.8 L119.8,167.9 L120.3,168.2 L120.9,168.5 L121.5,168.6 L122.0,168.7 L122.6,169.1 L123.2,169.1 L123.7,169.5 L124.3,169.7 L124.9,170.0 L125.5,169.9 L126.0,170.1 L126.6,170.5 L127.2,170.7 L127.8,170.9 L128.3,170.9 L128.9,171.2 L129.5,171.4 L130.1,171.4 L130.6,171.6 L131.2,171.7 L131.8,172.0 L132.3,172.0 L132.9,172.1 L133.5,172.3 L134.0,172.5 L134.6,172.3 L135.1,172.4 L135.7,172.6 L136.1,172.5 L136.6,172.7 L137.1,172.9 L137.5,173.0 L138.0,172.9 L138.5,172.9 L138.9,173.0 L139.4,172.9 L139.9,173.0 L140.4,173.2 L140.9,173.0 L141.4,173.3 L141.9,173.1 L142.4,173.3 L142.9,173.2 L143.4,173.1 L143.9,173.2 L144.4,173.2 L144.9,173.4 L145.4,173.2 L145.9,173.4 L146.4,173.3 L146.9,173.3 L147.5,173.4 L148.0,173.2 L148.5,173.4 L149.0,173.3 L149.5,173.3 L150.1,173.1 L150.6,173.2 L151.1,173.3 L151.6,173.3 L152.1,173.2 L152.7,173.1 L153.2,173.2 L153.7,173.2 L154.2,172.9 L154.8,172.9 L155.3,173.0 L155.8,172.9 L156.3,173.0 L156.9,172.9 L157.4,172.8 L157.9,172.8 L158.4,172.8 L159.0,172.7 L159.5,172.6 L160.0,172.5 L160.5,172.4 L161.0,172.4 L161.5,172.4 L162.1,172.5 L162.6,172.4 L163.1,172.2 L163.6,172.2 L164.1,172.0 L164.6,172.0 L165.1,172.1 L165.6,172.0 L166.1,172.0 L166.6,171.8 L167.1,171.9 L167.6,171.8 L168.1,171.6 L168.6,171.7 L169.1,171.5 L169.6,171.6 L170.0,171.4 L170.5,171.5 L171.0,171.5 L171.5,171.3 L171.9,171.4 L172.4,171.1 L172.9,171.1 L173.3,171.1 L173.8,171.0 L174.2,171.0 L174.7,170.8 L175.1,170.9 L175.6,171.0 L176.0,170.9 L176.6,170.7 L177.2,170.9 L177.7,170.5 L178.3,170.7 L178.9,170.4 L179.4,170.4 L180.0,170.4 L180.5,170.2 L181.0,170.1 L181.6,170.1 L182.1,170.1 L182.6,170.0 L183.2,169.7 L183.7,169.6 L184.2,169.6 L184.7,169.4 L185.2,169.4 L185.7,169.3 L186.2,169.0 L186.7,168.9 L187.2,169.1 L187.7,168.7 L188.2,168.7 L188.7,168.5 L189.2,168.5 L189.7,168.2 L190.1,168.3 L190.6,168.2 L191.1,168.2 L191.6,168.0 L192.0,167.9 L192.5,167.5 L193.0,167.7 L193.5,167.6 L193.9,167.4 L194.4,167.4 L194.9,167.0 L195.3,167.2 L195.8,166.8 L196.3,166.9 L196.8,166.9 L197.2,166.7 L197.7,166.5 L198.2,166.5 L198.6,166.4 L199.1,166.3 L199.6,166.2 L200.1,166.0 L200.5,166.1 L201.0,165.9 L201.5,165.8 L202.0,165.9 L202.5,165.7 L202.9,165.9 L203.4,165.7 L203.9,165.7 L204.4,165.8 L204.9,165.5 L205.4,165.4 L205.9,165.6 L206.4,165.6 L206.9,165.3 L207.4,165.3 L207.9,165.5 L208.5,165.5 L209.0,165.5 L209.5,165.4 L210.0,165.5 L210.5,165.6 L211.1,165.5 L211.6,165.5 L212.1,165.6 L212.7,165.7 L213.2,165.8 L213.8,165.9 L214.3,165.8 L214.8,165.9 L215.4,165.9 L215.9,166.1 L216.5,165.7 L217.0,166.2 L217.6,165.8 L218.1,166.0 L218.6,165.9 L219.2,166.0 L219.7,166.5 L220.3,166.5 L220.8,166.1 L221.3,166.3 L221.9,166.8 L222.4,166.7 L223.0,166.9 L223.5,166.9 L224.0,167.1 L224.5,167.2 L225.1,167.3 L225.6,167.1 L226.1,167.0 L226.6,167.2 L227.1,167.2 L227.6,167.2 L228.1,167.7 L228.6,167.4 L229.1,167.6 L229.6,167.7 L230.1,167.4 L230.5,167.9 L231.0,167.8 L231.5,167.8 L231.9,168.1 L232.4,168.5 L232.8,168.5 L233.3,168.5 L233.7,168.7 L234.1,168.6 L234.5,169.0 L234.9,168.5 L235.3,168.6 L235.7,168.8 L236.1,169.3 L236.5,169.3 L237.2,169.0 L238.0,169.2 L238.7,169.5 L239.3,169.6 L240.0,170.4 L240.6,170.5 L241.2,170.7 L241.7,170.9 L242.3,171.2 L242.8,171.6 L243.4,171.4 L243.9,172.2 L244.4,172.1 L244.8,172.2 L245.3,173.0 L245.7,173.1 L246.2,173.4 L246.6,173.7 L247.0,173.4 L247.4,173.7 L247.8,174.6 L248.2,174.9 L248.6,174.7 L249.0,175.0 L249.4,175.7 L249.8,175.1 L250.2,175.3 L250.6,175.8 L251.0,176.4 L251.4,176.4 L252.0,176.1 L252.6,176.4 L253.2,176.8 L253.7,176.5 L254.1,177.5 L254.6,177.1 L255.0,177.0 L255.4,177.1 L255.9,177.9 L256.3,177.4 L256.7,177.6 L257.1,177.6 L257.6,178.1 L258.1,177.3 L258.6,177.4 L259.2,178.3 L259.8,177.8 L260.5,177.9 L260.9,178.0 L261.3,178.1 L261.7,178.2 L262.1,177.7 L262.5,177.9 L262.9,178.0 L263.4,177.9 L263.8,178.2 L264.3,177.4 L264.7,177.6 L265.2,178.1 L265.6,178.1 L266.1,177.8 L266.6,177.6 L267.1,177.2 L267.6,177.2 L268.1,178.2 L268.6,177.2 L269.1,178.2 L269.6,177.4 L270.2,177.2 L270.7,177.9 L271.3,177.8 L271.8,178.0 L272.4,177.4 L273.0,176.8 L273.5,177.9 L274.1,176.9 L274.7,177.3 L275.3,176.5 L276.0,177.0 L276.6,177.1 L277.0,177.3 L277.5,176.5 L277.9,177.0 L278.4,176.6 L278.9,176.6 L279.4,176.4 L279.9,177.1 L280.4,177.4 L280.9,177.2 L281.4,176.5 L282.0,177.3 L282.5,177.4 L283.1,176.8 L283.7,176.3 L284.2,177.0 L284.8,176.8 L285.4,177.0 L286.0,175.6 L286.6,175.6 L287.2,175.5 L287.7,176.0 L288.3,176.4 L288.9,176.6 L289.5,176.4 L290.1,175.6 L290.7,176.0 L291.2,176.7 L291.8,175.3 L292.4,175.3 L292.9,176.8 L293.5,176.6 L294.0,175.8 L294.5,175.8 L295.0,175.1 L295.5,176.2 L296.0,174.7 L296.5,175.9 L297.0,176.2 L297.4,174.6 L297.9,175.0 L298.3,174.9 L298.7,176.1 L299.1,174.5 L299.5,175.8 L299.8,175.4 L300.1,174.6 L300.4,176.1 L300.7,176.2 L301.0,175.3" stroke="#5f5f5a" stroke-width="0.85" opacity="1"/>
<path d="M53.0,173.5 L53.3,173.8 L53.7,174.2 L54.1,174.7 L54.6,175.3 L55.1,175.8 L55.7,176.4 L56.3,176.9 L56.9,177.4 L57.4,177.7 L58.0,177.9 L58.5,178.0 L59.0,178.1 L59.6,178.1 L60.1,178.1 L60.7,178.0 L61.2,177.8 L61.8,177.5 L62.3,177.2 L62.8,176.7 L63.3,176.1 L63.9,175.3 L64.4,174.3 L64.9,173.2 L65.4,172.0 L65.9,170.7 L66.4,169.3 L66.9,167.8 L67.4,166.2 L67.9,164.6 L68.4,162.5 L69.0,160.1 L69.5,157.6 L70.0,154.9 L70.6,152.3 L71.1,149.9 L71.6,147.8 L72.0,146.0 L72.6,144.0 L73.1,142.6 L73.6,141.7 L74.2,141.1 L74.9,140.8 L75.3,140.8 L75.8,141.0 L76.3,141.3 L76.8,141.6 L77.4,142.1 L78.0,142.5 L78.5,143.0 L79.1,143.5 L79.7,144.0 L80.3,144.4 L80.8,144.7 L81.3,145.0 L81.8,145.4 L82.4,145.8 L82.9,146.2 L83.5,146.6 L84.0,146.9 L84.6,147.3 L85.1,147.5 L85.6,147.7 L86.0,147.9 L86.5,147.9 L87.1,147.8 L87.7,147.5 L88.2,147.1 L88.7,146.5 L89.2,145.8 L89.6,145.1 L90.1,144.2 L90.6,143.0 L91.2,141.5 L91.7,139.8 L92.2,138.1 L92.7,136.6 L93.1,135.3 L93.7,133.8 L94.2,132.6 L94.6,131.7 L95.2,130.9 L95.6,130.3 L96.0,129.9 L96.5,129.7 L97.0,129.5 L97.6,129.4 L98.0,129.3 L98.4,129.3 L98.8,129.3 L99.3,129.3 L99.8,129.4 L100.3,129.5 L101.0,129.7 L101.8,129.9 L102.1,130.1 L102.5,130.2 L102.8,130.3 L103.1,130.5 L103.4,130.7 L103.8,130.8 L104.1,131.0 L104.5,131.2 L104.9,131.4 L105.3,131.7 L105.8,131.9 L106.3,132.1 L106.9,132.2 L107.6,132.8 L108.3,133.1 L109.0,133.0 L109.9,133.6 L110.9,133.9 L111.2,133.8 L111.5,134.0 L111.9,134.0 L112.3,134.3 L112.6,134.2 L113.0,134.5 L113.4,134.6 L113.8,134.6 L114.2,134.8 L114.6,134.9 L115.0,135.1 L115.4,135.5 L115.8,135.4 L116.3,135.6 L116.7,135.8 L117.2,136.0 L117.6,136.0 L118.1,136.2 L118.5,136.3 L119.0,136.5 L119.5,136.6 L120.0,136.9 L120.5,137.0 L121.0,137.2 L121.5,137.5 L122.0,137.4 L122.5,137.8 L123.0,137.8 L123.5,137.9 L124.0,138.1 L124.6,138.5 L125.1,138.4 L125.6,138.6 L126.2,138.9 L126.7,139.1 L127.3,139.1 L127.8,139.4 L128.4,139.2 L128.9,139.5 L129.5,139.6 L130.1,139.8 L130.6,139.8 L131.2,139.8 L131.8,140.2 L132.4,140.2 L133.0,140.3 L133.6,140.4 L134.1,140.4 L134.7,140.5 L135.3,140.6 L135.9,140.6 L136.5,140.7 L137.1,140.9 L137.7,140.7 L138.2,140.9 L138.6,140.9 L139.0,140.9 L139.5,140.8 L139.9,140.8 L140.4,141.0 L140.8,141.0 L141.3,141.1 L141.8,140.9 L142.2,141.1 L142.7,141.0 L143.2,141.0 L143.7,141.0 L144.2,141.0 L144.7,141.1 L145.1,141.1 L145.6,140.9 L146.2,140.8 L146.7,140.9 L147.2,141.0 L147.7,140.8 L148.2,141.0 L148.7,140.9 L149.2,140.7 L149.8,140.6 L150.3,140.7 L150.8,140.6 L151.3,140.7 L151.9,140.6 L152.4,140.6 L152.9,140.4 L153.5,140.4 L154.0,140.5 L154.5,140.4 L155.1,140.4 L155.6,140.4 L156.1,140.2 L156.7,140.2 L157.2,140.2 L157.7,140.0 L158.3,140.3 L158.8,140.1 L159.3,140.0 L159.9,140.0 L160.4,140.0 L160.9,139.8 L161.5,139.8 L162.0,139.8 L162.5,139.8 L163.0,139.5 L163.6,139.6 L164.1,139.7 L164.6,139.6 L165.1,139.5 L165.6,139.2 L166.2,139.4 L166.7,139.3 L167.2,139.3 L167.7,139.2 L168.2,139.2 L168.7,139.1 L169.2,138.9 L169.6,138.8 L170.1,138.8 L170.6,139.0 L171.1,138.8 L171.6,138.6 L172.0,138.8 L172.5,138.7 L172.9,138.5 L173.4,138.5 L173.8,138.4 L174.3,138.3 L174.7,138.4 L175.2,138.4 L175.6,138.3 L176.0,138.3 L176.6,138.3 L177.2,138.0 L177.8,138.1 L178.4,137.8 L179.0,137.8 L179.6,137.9 L180.1,137.6 L180.7,137.5 L181.2,137.6 L181.7,137.4 L182.3,137.4 L182.8,137.1 L183.3,137.2 L183.8,136.9 L184.3,136.7 L184.8,136.6 L185.2,136.7 L185.7,136.5 L186.2,136.5 L186.7,136.4 L187.1,136.1 L187.6,136.0 L188.1,136.2 L188.5,135.9 L189.0,135.7 L189.4,135.8 L189.9,135.4 L190.4,135.3 L190.8,135.3 L191.3,135.3 L191.7,135.0 L192.2,135.0 L192.7,135.1 L193.1,134.9 L193.6,134.9 L194.1,134.5 L194.5,134.6 L195.0,134.4 L195.5,134.3 L196.0,134.2 L196.5,134.4 L197.0,134.3 L197.5,134.0 L198.0,134.0 L198.5,134.1 L199.0,133.9 L199.6,134.1 L200.1,134.0 L200.7,134.1 L201.2,133.9 L201.8,133.9 L202.2,133.8 L202.7,133.5 L203.1,133.9 L203.6,133.7 L204.1,133.5 L204.5,133.6 L205.0,133.6 L205.5,133.5 L206.0,133.8 L206.5,133.3 L207.0,133.5 L207.5,133.4 L208.0,133.3 L208.5,133.7 L209.0,133.7 L209.5,133.6 L210.0,133.4 L210.5,133.2 L211.0,133.2 L211.5,133.5 L212.0,133.3 L212.5,133.3 L213.1,133.5 L213.6,133.1 L214.1,133.1 L214.6,133.2 L215.2,133.1 L215.7,133.2 L216.2,133.3 L216.7,133.5 L217.3,133.5 L217.8,133.5 L218.3,133.7 L218.9,133.1 L219.4,133.6 L219.9,133.7 L220.4,133.6 L221.0,133.7 L221.5,133.5 L222.0,133.7 L222.5,133.8 L223.1,133.6 L223.6,133.7 L224.1,133.8 L224.6,133.5 L225.1,133.9 L225.7,133.8 L226.2,133.6 L226.7,133.6 L227.2,134.1 L227.7,134.4 L228.2,133.8 L228.7,134.2 L229.2,134.5 L229.7,134.6 L230.2,134.6 L230.7,134.7 L231.1,134.9 L231.6,135.1 L232.1,134.5 L232.6,134.7 L233.0,135.3 L233.5,135.2 L234.0,135.1 L234.4,135.4 L234.9,135.9 L235.4,135.9 L236.0,136.0 L236.6,135.8 L237.1,136.3 L237.7,136.7 L238.2,136.8 L238.8,137.5 L239.3,137.3 L239.9,137.5 L240.4,137.9 L241.0,138.5 L241.5,138.9 L242.1,139.5 L242.6,139.8 L243.1,140.1 L243.6,140.2 L244.2,140.3 L244.7,141.1 L245.2,141.3 L245.7,141.5 L246.2,141.9 L246.7,142.9 L247.2,142.5 L247.7,143.2 L248.2,143.8 L248.7,144.3 L249.2,144.2 L249.7,144.4 L250.2,145.3 L250.7,145.7 L251.2,145.9 L251.7,146.6 L252.2,146.8 L252.6,146.7 L253.1,147.4 L253.6,147.5 L254.1,148.3 L254.5,148.1 L255.0,148.5 L255.5,149.3 L255.9,149.3 L256.4,149.4 L256.9,149.8 L257.3,150.0 L257.8,150.6 L258.2,150.5 L258.7,150.9 L259.1,150.7 L259.6,151.3 L260.0,150.8 L260.5,151.4 L261.0,151.9 L261.6,151.8 L262.1,152.2 L262.7,151.6 L263.2,152.4 L263.8,151.8 L264.3,152.2 L264.8,151.6 L265.3,152.4 L265.8,151.7 L266.3,151.6 L266.8,152.1 L267.3,152.2 L267.8,151.8 L268.3,151.3 L268.8,151.7 L269.3,151.9 L269.8,151.2 L270.2,150.6 L270.7,151.3 L271.2,150.2 L271.7,150.6 L272.1,150.9 L272.6,150.8 L273.1,150.3 L273.5,149.9 L274.0,150.2 L274.5,150.2 L275.0,149.4 L275.4,149.6 L275.9,149.2 L276.4,149.0 L276.9,148.5 L277.3,148.5 L277.8,148.9 L278.3,148.8 L278.8,147.7 L279.3,148.8 L279.8,148.6 L280.3,148.6 L280.8,147.3 L281.3,147.7 L281.9,147.0 L282.4,147.3 L282.9,147.7 L283.5,147.5 L284.0,146.9 L284.6,147.6 L285.2,146.6 L285.8,147.1 L286.3,147.6 L286.9,147.0 L287.5,146.6 L288.1,147.2 L288.7,145.8 L289.3,145.6 L289.9,146.2 L290.4,145.5 L291.0,145.7 L291.6,145.9 L292.2,146.5 L292.7,145.0 L293.3,144.9 L293.8,145.7 L294.4,145.7 L294.9,146.2 L295.4,145.1 L295.9,144.6 L296.4,145.4 L296.9,145.5 L297.4,144.8 L297.8,144.3 L298.2,145.5 L298.7,145.2 L299.1,144.4 L299.4,145.5 L299.8,144.0 L300.1,144.9 L300.4,143.8 L300.7,144.5 L301.0,144.4" stroke="#c4c4c4" stroke-width="0.85" opacity="1"/>
<path d="M53.0,177.9 L53.3,178.2 L53.7,178.6 L54.1,179.1 L54.6,179.6 L55.1,180.2 L55.7,180.8 L56.3,181.3 L56.9,181.7 L57.4,182.1 L58.0,182.3 L58.5,182.5 L59.0,182.6 L59.6,182.6 L60.1,182.6 L60.7,182.5 L61.2,182.3 L61.8,182.1 L62.3,181.9 L62.8,181.5 L63.3,181.1 L63.9,180.6 L64.4,180.0 L64.9,179.3 L65.4,178.5 L65.9,177.7 L66.4,176.8 L66.9,175.8 L67.4,174.8 L67.9,173.8 L68.4,172.4 L69.0,170.9 L69.5,169.2 L70.0,167.5 L70.6,165.9 L71.1,164.3 L71.6,162.9 L72.0,161.8 L72.6,160.5 L73.1,159.6 L73.6,158.9 L74.2,158.6 L74.9,158.5 L75.3,158.6 L75.8,158.8 L76.3,159.1 L76.8,159.4 L77.4,159.8 L78.0,160.3 L78.5,160.8 L79.1,161.2 L79.7,161.6 L80.3,162.0 L80.8,162.3 L81.3,162.7 L81.8,163.0 L82.4,163.4 L82.9,163.8 L83.5,164.1 L84.0,164.5 L84.6,164.8 L85.1,165.1 L85.6,165.3 L86.0,165.5 L86.5,165.6 L87.1,165.6 L87.7,165.5 L88.3,165.2 L88.8,164.9 L89.3,164.4 L89.7,164.0 L90.2,163.4 L90.8,162.7 L91.4,161.9 L92.0,160.9 L92.5,160.0 L93.0,159.1 L93.5,158.4 L94.1,157.5 L94.6,156.8 L95.1,156.3 L95.6,155.8 L96.0,155.5 L96.5,155.3 L96.9,155.1 L97.4,155.0 L98.0,155.0 L98.4,154.9 L98.7,154.9 L98.9,154.8 L99.2,154.8 L99.6,154.8 L100.2,154.9 L101.0,155.0 L102.2,155.3 L102.5,155.4 L102.8,155.5 L103.2,155.6 L103.6,155.7 L104.0,155.8 L104.4,155.9 L104.8,156.0 L105.2,156.1 L105.7,156.3 L106.2,156.4 L106.6,156.6 L107.1,156.6 L107.6,156.7 L108.1,156.9 L108.7,157.3 L109.2,157.3 L109.7,157.5 L110.3,157.6 L110.8,157.9 L111.4,158.1 L111.9,158.2 L112.5,158.4 L113.0,158.5 L113.6,158.8 L114.1,158.9 L114.7,158.9 L115.3,159.2 L115.8,159.3 L116.4,159.4 L116.9,159.6 L117.4,159.9 L118.0,159.8 L118.5,160.0 L119.0,160.1 L119.5,160.2 L120.0,160.2 L120.5,160.5 L121.0,160.5 L121.4,160.8 L121.9,160.9 L122.3,160.9 L122.7,161.2 L123.1,161.4 L123.6,161.4 L124.0,161.4 L124.4,161.6 L124.8,161.8 L125.2,161.8 L125.6,162.1 L126.0,162.2 L126.5,162.3 L126.9,162.2 L127.3,162.5 L127.8,162.7 L128.2,162.8 L128.7,162.9 L129.2,162.9 L129.6,162.9 L130.1,163.0 L130.7,163.2 L131.2,163.3 L131.7,163.4 L132.3,163.5 L132.9,163.4 L133.5,163.5 L134.2,163.7 L134.8,163.8 L135.5,163.6 L136.2,163.7 L137.0,163.7 L137.7,163.9 L138.1,163.8 L138.5,163.7 L138.9,163.8 L139.3,163.7 L139.6,163.9 L140.1,163.7 L140.5,164.0 L140.9,163.9 L141.3,164.0 L141.7,163.8 L142.2,163.8 L142.6,163.7 L143.1,163.8 L143.5,163.7 L144.0,163.8 L144.4,163.7 L144.9,163.8 L145.4,163.9 L145.9,163.7 L146.3,163.9 L146.8,163.9 L147.3,163.9 L147.8,163.8 L148.3,163.9 L148.8,163.6 L149.3,163.6 L149.8,163.8 L150.3,163.9 L150.9,163.7 L151.4,163.8 L151.9,163.7 L152.4,163.6 L152.9,163.7 L153.5,163.6 L154.0,163.5 L154.5,163.6 L155.1,163.6 L155.6,163.4 L156.1,163.4 L156.7,163.4 L157.2,163.4 L157.8,163.5 L158.3,163.3 L158.8,163.3 L159.4,163.3 L159.9,163.4 L160.5,163.3 L161.0,163.3 L161.5,163.1 L162.1,163.2 L162.6,163.1 L163.2,163.0 L163.7,163.2 L164.2,163.0 L164.8,163.1 L165.3,163.0 L165.9,162.8 L166.4,163.0 L166.9,162.7 L167.4,163.0 L168.0,162.8 L168.5,162.7 L169.0,162.8 L169.5,162.6 L170.1,162.6 L170.6,162.6 L171.1,162.4 L171.6,162.6 L172.1,162.5 L172.6,162.3 L173.1,162.4 L173.6,162.2 L174.1,162.3 L174.6,162.1 L175.0,162.2 L175.5,162.1 L176.0,162.1 L176.5,162.1 L177.1,161.8 L177.6,161.8 L178.1,161.7 L178.7,161.7 L179.2,161.6 L179.7,161.5 L180.3,161.5 L180.8,161.2 L181.3,161.4 L181.8,161.0 L182.4,161.0 L182.9,161.0 L183.4,160.8 L184.0,160.7 L184.5,160.6 L185.0,160.6 L185.6,160.5 L186.1,160.4 L186.6,160.3 L187.1,159.9 L187.7,160.0 L188.2,159.9 L188.7,159.8 L189.2,159.5 L189.7,159.5 L190.3,159.4 L190.8,159.4 L191.3,159.2 L191.8,159.2 L192.3,159.0 L192.8,158.9 L193.4,158.5 L193.9,158.6 L194.4,158.6 L194.9,158.3 L195.4,158.4 L195.9,158.1 L196.4,158.0 L196.9,157.7 L197.4,157.9 L197.9,157.5 L198.4,157.6 L198.9,157.2 L199.4,157.3 L199.9,157.4 L200.4,157.0 L200.8,157.1 L201.3,157.0 L201.8,157.0 L202.3,156.6 L202.8,156.9 L203.2,156.5 L203.7,156.6 L204.2,156.3 L204.7,156.5 L205.1,156.5 L205.6,156.0 L206.0,156.1 L206.5,156.3 L207.0,155.8 L207.4,155.8 L207.9,156.1 L208.3,156.2 L208.7,155.9 L209.2,156.1 L209.6,155.7 L210.1,155.9 L210.6,155.7 L211.2,155.8 L211.8,155.7 L212.3,155.6 L212.9,155.8 L213.5,155.8 L214.0,155.9 L214.5,156.1 L215.1,156.1 L215.6,155.7 L216.1,156.1 L216.6,156.0 L217.1,156.1 L217.6,155.9 L218.1,156.0 L218.6,155.9 L219.1,156.2 L219.6,156.3 L220.1,156.2 L220.6,156.2 L221.1,156.1 L221.6,156.6 L222.0,156.3 L222.5,156.3 L223.0,156.4 L223.4,157.1 L223.9,157.0 L224.4,156.8 L224.9,156.9 L225.3,157.5 L225.8,157.4 L226.2,157.3 L226.7,157.4 L227.2,157.7 L227.6,158.0 L228.1,158.0 L228.6,158.4 L229.0,158.4 L229.5,158.4 L230.0,158.3 L230.5,158.6 L230.9,158.9 L231.4,159.2 L231.9,159.3 L232.4,159.2 L232.9,159.6 L233.4,159.9 L233.9,159.6 L234.3,160.0 L234.9,159.9 L235.3,160.4 L235.8,160.6 L236.4,161.0 L236.9,161.1 L237.4,161.1 L237.9,161.3 L238.4,161.9 L238.9,162.3 L239.4,163.0 L240.0,162.6 L240.5,163.3 L241.0,163.7 L241.6,164.3 L242.1,164.7 L242.6,164.7 L243.2,164.6 L243.7,165.2 L244.2,165.6 L244.8,166.0 L245.3,166.7 L245.8,167.2 L246.4,167.2 L246.9,168.1 L247.4,168.0 L247.9,168.4 L248.5,168.8 L249.0,169.6 L249.5,170.0 L250.0,170.0 L250.6,170.6 L251.1,170.6 L251.6,171.2 L252.1,171.3 L252.6,171.5 L253.1,171.9 L253.6,172.3 L254.1,172.9 L254.6,173.1 L255.1,172.8 L255.6,173.7 L256.0,173.9 L256.5,174.0 L257.0,174.1 L257.4,174.1 L257.9,174.8 L258.3,174.3 L258.8,175.4 L259.2,174.7 L259.6,175.0 L260.1,174.8 L260.5,175.6 L261.1,175.1 L261.7,174.8 L262.3,175.1 L262.9,175.6 L263.4,174.6 L264.0,174.4 L264.5,175.2 L265.0,174.1 L265.5,174.7 L265.9,174.4 L266.4,173.2 L266.9,173.0 L267.3,172.3 L267.7,172.3 L268.2,172.1 L268.6,172.0 L269.0,171.2 L269.5,170.2 L269.9,170.2 L270.4,169.5 L270.8,169.9 L271.3,168.8 L271.7,168.4 L272.2,168.8 L272.7,167.4 L273.2,167.9 L273.7,167.5 L274.2,167.3 L274.8,166.2 L275.4,166.6 L276.0,165.1 L276.6,166.3 L277.0,165.0 L277.5,164.9 L277.9,165.0 L278.4,164.9 L278.9,164.4 L279.4,164.5 L279.9,165.1 L280.4,163.9 L280.9,164.5 L281.4,164.0 L282.0,164.0 L282.5,163.2 L283.1,163.8 L283.7,163.0 L284.2,164.1 L284.8,163.6 L285.4,162.9 L286.0,162.9 L286.6,162.4 L287.2,163.3 L287.7,162.2 L288.3,162.1 L288.9,163.1 L289.5,163.0 L290.1,162.1 L290.7,161.3 L291.2,161.8 L291.8,162.1 L292.4,161.8 L292.9,161.2 L293.5,161.6 L294.0,161.5 L294.5,161.3 L295.0,160.5 L295.5,160.7 L296.0,160.5 L296.5,161.5 L297.0,160.8 L297.4,160.3 L297.9,160.4 L298.3,159.9 L298.7,159.9 L299.1,161.4 L299.5,160.6 L299.8,160.8 L300.1,161.0 L300.4,160.4 L300.7,159.3 L301.0,160.3" stroke="#5f5f5a" stroke-width="0.85" opacity="1"/>
<path d="M53.0,175.3 L53.3,175.6 L53.7,176.0 L54.1,176.5 L54.6,177.0 L55.1,177.6 L55.7,178.1 L56.3,178.7 L56.9,179.1 L57.4,179.5 L58.0,179.7 L58.5,179.8 L59.0,179.9 L59.6,179.9 L60.1,179.9 L60.7,179.8 L61.2,179.6 L61.8,179.4 L62.3,179.1 L62.8,178.7 L63.3,178.2 L63.9,177.5 L64.4,176.8 L64.9,175.9 L65.4,174.9 L65.9,173.8 L66.4,172.7 L66.9,171.5 L67.4,170.2 L67.9,168.9 L68.4,167.2 L69.0,165.3 L69.5,163.2 L70.0,161.1 L70.6,159.0 L71.1,157.0 L71.6,155.3 L72.0,153.9 L72.6,152.2 L73.1,151.1 L73.6,150.3 L74.2,149.9 L74.9,149.7 L75.3,149.7 L75.8,149.8 L76.3,150.0 L76.8,150.2 L77.4,150.6 L78.0,150.9 L78.5,151.3 L79.1,151.7 L79.7,152.0 L80.3,152.3 L80.8,152.6 L81.3,152.8 L81.8,153.1 L82.4,153.4 L82.9,153.7 L83.5,154.0 L84.0,154.3 L84.5,154.5 L85.0,154.7 L85.6,154.9 L86.0,155.0 L86.5,155.0 L87.1,154.9 L87.7,154.6 L88.2,154.3 L88.7,153.9 L89.2,153.4 L89.7,152.8 L90.2,152.2 L90.7,151.4 L91.2,150.6 L91.7,149.6 L92.3,148.4 L92.8,147.2 L93.4,146.0 L93.9,144.9 L94.3,143.9 L94.7,143.0 L95.4,141.5 L95.9,140.4 L96.3,139.5 L96.8,138.7 L97.3,138.2 L97.7,137.9 L98.2,137.6 L98.7,137.4 L99.3,137.3 L99.6,137.2 L99.9,137.2 L100.2,137.1 L100.5,137.1 L100.9,137.1 L101.5,137.2 L102.3,137.5 L103.4,137.8 L103.7,138.0 L104.1,138.1 L104.5,138.2 L104.8,138.4 L105.3,138.5 L105.7,138.7 L106.1,138.9 L106.6,139.1 L107.0,139.4 L107.5,139.6 L108.0,139.7 L108.5,139.9 L109.0,140.2 L109.5,140.5 L110.1,140.7 L110.6,140.7 L111.1,141.2 L111.7,141.2 L112.3,141.5 L112.8,141.9 L113.4,142.0 L113.9,142.2 L114.5,142.5 L115.1,142.5 L115.7,143.0 L116.2,143.3 L116.8,143.2 L117.3,143.6 L117.9,143.9 L118.5,144.0 L119.0,144.2 L119.5,144.2 L120.0,144.6 L120.5,144.8 L120.9,144.8 L121.4,145.0 L121.8,145.1 L122.2,145.3 L122.6,145.6 L123.1,145.8 L123.5,145.8 L123.9,145.9 L124.3,146.3 L124.7,146.3 L125.1,146.4 L125.5,146.6 L126.0,146.9 L126.4,146.9 L126.8,147.1 L127.2,147.4 L127.7,147.4 L128.2,147.7 L128.6,147.9 L129.1,148.0 L129.6,148.1 L130.1,148.2 L130.6,148.3 L131.2,148.4 L131.7,148.5 L132.3,148.6 L132.9,148.7 L133.5,148.9 L134.1,149.2 L134.8,149.3 L135.5,149.3 L136.2,149.5 L137.0,149.5 L137.7,149.8 L138.1,149.8 L138.5,149.6 L138.9,149.8 L139.3,149.8 L139.7,150.0 L140.1,150.0 L140.5,149.9 L141.0,150.0 L141.4,149.9 L141.8,150.2 L142.3,150.2 L142.8,150.1 L143.2,150.3 L143.7,150.2 L144.2,150.4 L144.7,150.5 L145.2,150.6 L145.7,150.4 L146.2,150.7 L146.7,150.7 L147.2,150.7 L147.7,150.6 L148.3,150.6 L148.8,150.8 L149.3,150.8 L149.9,150.8 L150.4,151.0 L150.9,151.0 L151.5,151.0 L152.0,151.0 L152.6,151.2 L153.1,151.2 L153.7,151.3 L154.2,151.1 L154.8,151.1 L155.4,151.1 L155.9,151.2 L156.5,151.4 L157.0,151.3 L157.6,151.2 L158.1,151.5 L158.7,151.6 L159.3,151.5 L159.8,151.6 L160.4,151.6 L160.9,151.7 L161.5,151.7 L162.0,151.5 L162.6,151.7 L163.1,151.6 L163.7,151.7 L164.2,151.7 L164.7,151.6 L165.3,151.7 L165.8,151.8 L166.3,151.7 L166.9,151.6 L167.4,151.7 L167.9,151.6 L168.4,151.7 L168.9,151.7 L169.4,151.6 L169.9,151.7 L170.4,151.6 L170.8,151.7 L171.3,151.8 L171.8,151.8 L172.2,151.6 L172.7,151.6 L173.1,151.5 L173.6,151.5 L174.0,151.6 L174.4,151.7 L174.8,151.4 L175.2,151.6 L175.6,151.5 L176.0,151.6 L176.7,151.4 L177.4,151.3 L178.1,151.2 L178.7,151.0 L179.3,150.9 L179.9,150.9 L180.5,150.6 L181.0,150.4 L181.6,150.2 L182.1,150.3 L182.6,149.9 L183.1,149.7 L183.6,149.7 L184.0,149.5 L184.5,149.1 L184.9,149.0 L185.3,148.8 L185.8,148.4 L186.2,148.3 L186.6,148.2 L187.0,148.0 L187.4,147.7 L187.9,147.4 L188.3,147.2 L188.7,146.9 L189.1,146.9 L189.5,146.6 L190.0,146.3 L190.4,146.1 L190.8,145.9 L191.3,145.6 L191.8,145.6 L192.2,145.5 L192.7,145.4 L193.2,145.0 L193.7,145.0 L194.3,144.7 L194.8,144.8 L195.4,144.7 L196.0,144.4 L196.4,144.2 L196.9,144.3 L197.3,144.0 L197.8,144.1 L198.2,144.1 L198.7,143.9 L199.2,144.0 L199.6,143.8 L200.1,143.6 L200.6,143.7 L201.1,143.8 L201.6,143.8 L202.1,143.5 L202.6,143.7 L203.1,143.5 L203.7,143.4 L204.2,143.2 L204.7,143.3 L205.2,143.3 L205.8,143.1 L206.3,143.3 L206.8,143.3 L207.4,143.1 L207.9,143.1 L208.4,143.2 L209.0,143.1 L209.5,142.9 L210.1,143.2 L210.6,142.9 L211.1,143.2 L211.7,142.7 L212.2,142.8 L212.8,143.0 L213.3,142.6 L213.8,142.7 L214.3,143.2 L214.9,143.0 L215.4,142.9 L215.9,142.6 L216.4,143.1 L216.9,143.2 L217.5,143.0 L218.0,143.2 L218.5,143.0 L219.0,142.9 L219.4,143.0 L219.9,143.2 L220.4,143.3 L220.9,142.8 L221.3,143.1 L221.8,143.1 L222.3,143.1 L222.7,143.0 L223.1,142.9 L223.6,142.9 L224.0,143.0 L224.4,143.3 L225.0,143.5 L225.7,143.6 L226.3,143.2 L226.9,143.8 L227.5,143.6 L228.1,143.4 L228.6,143.9 L229.2,144.0 L229.8,144.1 L230.3,143.8 L230.9,144.1 L231.4,144.1 L231.9,144.8 L232.4,144.5 L232.9,144.8 L233.4,145.0 L233.9,144.8 L234.4,145.0 L234.9,145.1 L235.4,145.4 L235.8,145.4 L236.3,145.9 L236.8,146.0 L237.2,146.0 L237.7,146.5 L238.1,146.9 L238.5,146.8 L239.0,146.7 L239.4,146.9 L239.8,147.7 L240.2,147.8 L240.7,148.1 L241.1,148.2 L241.5,147.9 L241.9,148.6 L242.3,148.9 L242.9,149.4 L243.6,149.7 L244.2,150.0 L244.8,150.8 L245.4,151.4 L246.0,152.0 L246.5,152.5 L247.1,152.5 L247.6,153.8 L248.1,153.9 L248.6,155.1 L249.1,155.1 L249.6,156.1 L250.0,156.2 L250.5,157.1 L250.9,158.0 L251.4,158.5 L251.8,158.4 L252.2,159.1 L252.6,159.5 L253.1,160.1 L253.5,160.1 L254.1,160.8 L254.7,161.7 L255.3,161.6 L255.8,162.3 L256.3,162.1 L256.7,162.6 L257.2,162.5 L257.6,163.3 L258.1,162.8 L258.6,162.9 L259.1,162.6 L259.6,162.5 L260.1,162.8 L260.4,162.6 L260.7,162.2 L261.0,162.6 L261.2,162.1 L261.5,161.6 L261.8,161.5 L262.1,161.2 L262.5,160.5 L262.9,160.0 L263.4,160.4 L264.1,160.2 L264.8,159.1 L265.7,159.1 L266.7,157.6 L267.9,157.6 L268.2,157.4 L268.6,156.9 L268.9,156.7 L269.3,157.5 L269.7,156.9 L270.1,157.1 L270.5,156.5 L271.0,156.8 L271.4,155.6 L271.9,156.1 L272.4,155.8 L272.9,154.9 L273.4,154.8 L273.9,155.3 L274.4,154.9 L274.9,154.4 L275.5,154.9 L276.0,154.7 L276.6,153.4 L277.2,154.2 L277.7,153.2 L278.3,152.9 L278.9,152.9 L279.5,153.0 L280.1,152.0 L280.7,151.8 L281.3,152.7 L281.9,151.2 L282.5,151.3 L283.1,151.6 L283.7,151.6 L284.4,151.5 L285.0,150.1 L285.6,149.8 L286.2,150.3 L286.8,150.4 L287.4,150.3 L288.0,149.5 L288.6,149.5 L289.2,149.7 L289.8,149.0 L290.3,147.9 L290.9,149.0 L291.5,148.2 L292.0,147.7 L292.6,148.2 L293.1,148.2 L293.7,147.9 L294.2,147.6 L294.7,145.8 L295.2,145.8 L295.7,145.9 L296.2,145.4 L296.6,146.3 L297.1,146.2 L297.5,144.9 L298.0,145.2 L298.4,144.4 L298.7,145.4 L299.1,145.1 L299.5,144.4 L299.8,143.9 L300.1,145.2 L300.4,144.9 L300.7,145.3 L301.0,144.2" stroke="#9c9c9c" stroke-width="0.85" opacity="1"/>
<path d="M53.0,176.2 L53.3,176.4 L53.7,176.8 L54.1,177.3 L54.6,177.9 L55.1,178.5 L55.7,179.0 L56.3,179.5 L56.9,180.0 L57.4,180.3 L58.0,180.6 L58.5,180.7 L59.0,180.8 L59.6,180.8 L60.1,180.8 L60.7,180.7 L61.2,180.5 L61.8,180.3 L62.3,180.0 L62.8,179.6 L63.3,179.1 L63.9,178.5 L64.4,177.7 L64.9,176.9 L65.4,175.9 L65.9,174.9 L66.4,173.8 L66.9,172.6 L67.4,171.4 L67.9,170.1 L68.4,168.5 L69.0,166.6 L69.5,164.6 L70.0,162.5 L70.6,160.5 L71.1,158.5 L71.6,156.9 L72.0,155.5 L72.6,153.9 L73.1,152.8 L73.6,152.0 L74.2,151.6 L74.9,151.4 L75.3,151.5 L75.8,151.6 L76.3,151.8 L76.8,152.2 L77.4,152.5 L78.0,152.9 L78.5,153.4 L79.1,153.8 L79.7,154.2 L80.3,154.5 L80.8,154.8 L81.3,155.1 L81.8,155.5 L82.4,155.8 L82.9,156.1 L83.5,156.5 L84.0,156.8 L84.5,157.1 L85.0,157.3 L85.6,157.5 L86.0,157.6 L86.5,157.6 L87.1,157.5 L87.7,157.3 L88.2,157.0 L88.7,156.6 L89.2,156.1 L89.7,155.5 L90.2,154.8 L90.7,154.1 L91.2,153.2 L91.7,152.2 L92.3,151.1 L92.8,149.9 L93.4,148.7 L93.9,147.5 L94.3,146.5 L94.7,145.6 L95.4,144.2 L95.9,143.1 L96.3,142.1 L96.8,141.4 L97.3,140.9 L97.7,140.5 L98.2,140.3 L98.7,140.1 L99.3,140.0 L99.6,139.9 L99.9,139.8 L100.2,139.7 L100.5,139.7 L100.9,139.7 L101.5,139.8 L102.3,140.1 L103.4,140.5 L103.7,140.6 L104.1,140.8 L104.5,140.9 L104.8,141.1 L105.3,141.3 L105.7,141.5 L106.1,141.7 L106.6,141.9 L107.0,142.3 L107.5,142.5 L108.0,142.7 L108.5,142.7 L109.0,143.1 L109.5,143.3 L110.1,143.8 L110.6,143.9 L111.1,144.1 L111.7,144.4 L112.3,144.6 L112.8,144.9 L113.4,145.3 L113.9,145.7 L114.5,145.7 L115.1,146.2 L115.7,146.5 L116.2,146.5 L116.8,146.7 L117.3,146.9 L117.9,147.1 L118.5,147.6 L119.0,147.8 L119.5,148.0 L120.0,147.9 L120.5,148.4 L120.9,148.5 L121.4,148.8 L121.8,148.9 L122.2,149.1 L122.6,149.2 L123.1,149.4 L123.5,149.5 L123.9,149.5 L124.3,149.9 L124.7,149.9 L125.1,150.1 L125.5,150.3 L126.0,150.5 L126.4,150.6 L126.8,150.8 L127.2,151.0 L127.7,151.2 L128.2,151.3 L128.6,151.4 L129.1,151.4 L129.6,151.7 L130.1,152.0 L130.6,152.0 L131.2,152.0 L131.7,152.2 L132.3,152.3 L132.9,152.6 L133.5,152.7 L134.1,152.7 L134.8,153.0 L135.5,153.0 L136.2,153.1 L137.0,153.2 L137.7,153.4 L138.1,153.4 L138.5,153.1 L138.9,153.3 L139.3,153.2 L139.7,153.4 L140.1,153.3 L140.5,153.4 L141.0,153.5 L141.4,153.6 L141.8,153.6 L142.3,153.7 L142.8,153.7 L143.2,153.6 L143.7,153.8 L144.2,153.7 L144.7,153.8 L145.2,153.8 L145.7,153.8 L146.2,153.9 L146.7,154.1 L147.2,154.1 L147.7,154.2 L148.3,154.2 L148.8,153.9 L149.3,154.1 L149.9,154.0 L150.4,154.1 L150.9,154.2 L151.5,154.1 L152.0,154.1 L152.6,154.3 L153.1,154.4 L153.7,154.4 L154.2,154.4 L154.8,154.4 L155.4,154.5 L155.9,154.3 L156.5,154.2 L157.0,154.5 L157.6,154.3 L158.1,154.4 L158.7,154.5 L159.3,154.3 L159.8,154.5 L160.4,154.4 L160.9,154.7 L161.5,154.4 L162.0,154.6 L162.6,154.7 L163.1,154.4 L163.7,154.5 L164.2,154.5 L164.7,154.5 L165.3,154.6 L165.8,154.7 L166.3,154.6 L166.9,154.4 L167.4,154.4 L167.9,154.6 L168.4,154.6 L168.9,154.6 L169.4,154.4 L169.9,154.7 L170.4,154.4 L170.8,154.6 L171.3,154.5 L171.8,154.6 L172.2,154.6 L172.7,154.3 L173.1,154.4 L173.6,154.3 L174.0,154.3 L174.4,154.3 L174.8,154.5 L175.2,154.3 L175.6,154.1 L176.0,154.3 L176.7,154.3 L177.4,154.2 L178.1,153.9 L178.7,153.8 L179.4,154.0 L180.0,153.8 L180.6,153.6 L181.2,153.5 L181.7,153.5 L182.3,153.1 L182.8,153.1 L183.3,153.1 L183.8,153.0 L184.3,152.7 L184.8,152.5 L185.3,152.5 L185.8,152.4 L186.2,152.0 L186.7,151.8 L187.1,151.8 L187.6,151.6 L188.0,151.4 L188.4,151.2 L188.9,151.2 L189.3,151.0 L189.7,150.9 L190.1,150.7 L190.6,150.6 L191.0,150.3 L191.4,150.2 L191.8,149.8 L192.3,149.9 L192.7,149.5 L193.2,149.4 L193.6,149.5 L194.1,149.4 L194.5,149.1 L195.0,149.0 L195.5,148.9 L196.0,148.9 L196.5,148.7 L197.0,148.5 L197.5,148.5 L198.0,148.5 L198.5,148.1 L199.0,148.3 L199.5,147.8 L200.0,147.9 L200.5,148.1 L201.0,147.8 L201.6,147.8 L202.1,147.4 L202.6,147.5 L203.1,147.6 L203.6,147.1 L204.1,147.0 L204.6,147.0 L205.1,147.0 L205.6,147.1 L206.1,146.6 L206.6,146.9 L207.1,146.7 L207.6,146.6 L208.1,146.6 L208.6,146.7 L209.2,146.2 L209.7,146.4 L210.2,146.4 L210.7,146.1 L211.2,146.0 L211.7,146.1 L212.2,145.9 L212.7,146.2 L213.2,146.4 L213.7,146.2 L214.2,146.0 L214.7,145.9 L215.2,146.0 L215.7,146.0 L216.3,146.1 L216.8,146.1 L217.3,146.2 L217.8,146.5 L218.3,146.2 L218.8,146.5 L219.3,146.6 L219.9,146.3 L220.4,146.3 L220.9,146.7 L221.4,146.5 L222.0,146.6 L222.5,146.6 L223.0,146.6 L223.6,146.8 L224.1,147.3 L224.6,147.0 L225.1,147.3 L225.7,147.4 L226.2,147.3 L226.7,147.7 L227.2,147.5 L227.8,147.4 L228.3,148.2 L228.8,147.8 L229.3,148.0 L229.8,148.3 L230.3,148.2 L230.8,148.9 L231.3,149.0 L231.8,148.5 L232.3,148.9 L232.8,149.4 L233.3,149.6 L233.8,149.5 L234.2,149.6 L234.7,149.5 L235.2,150.3 L235.6,150.1 L236.1,150.4 L236.5,150.5 L237.1,150.5 L237.7,151.4 L238.2,151.1 L238.8,151.5 L239.4,152.2 L239.9,152.7 L240.5,152.5 L241.0,152.8 L241.6,153.6 L242.1,154.2 L242.6,154.2 L243.2,154.5 L243.7,155.2 L244.2,155.5 L244.7,156.2 L245.2,156.6 L245.7,156.9 L246.2,156.9 L246.6,157.8 L247.1,158.1 L247.6,158.3 L248.0,158.9 L248.5,159.2 L248.9,159.1 L249.3,159.9 L249.8,160.0 L250.2,160.7 L250.6,160.6 L251.0,160.7 L251.4,161.2 L252.1,161.9 L252.7,162.4 L253.3,162.6 L253.9,162.9 L254.4,163.5 L254.9,163.5 L255.3,163.7 L255.8,164.4 L256.2,164.1 L256.7,164.0 L257.1,164.4 L257.6,164.8 L258.1,164.6 L258.6,164.5 L259.1,164.6 L259.6,164.6 L260.1,164.8 L260.5,164.6 L260.9,164.8 L261.3,165.2 L261.6,165.4 L261.9,164.9 L262.3,164.6 L262.6,164.9 L263.0,164.7 L263.4,164.9 L263.8,164.7 L264.3,164.3 L264.8,163.4 L265.3,164.1 L265.9,163.8 L266.6,163.3 L267.3,162.3 L268.1,163.0 L269.0,162.9 L270.0,162.6 L270.3,162.1 L270.7,162.5 L271.1,161.5 L271.5,162.2 L271.9,161.9 L272.3,161.9 L272.7,161.6 L273.2,161.7 L273.7,161.4 L274.1,161.3 L274.6,161.1 L275.1,160.4 L275.7,160.6 L276.2,160.7 L276.7,160.8 L277.3,159.4 L277.8,159.3 L278.4,159.0 L279.0,159.1 L279.5,159.4 L280.1,159.4 L280.7,159.4 L281.3,158.9 L281.9,158.8 L282.5,157.8 L283.1,158.8 L283.7,157.8 L284.3,157.6 L284.9,157.5 L285.5,157.4 L286.1,158.2 L286.7,157.8 L287.3,157.1 L287.9,156.7 L288.5,155.9 L289.1,156.1 L289.7,156.9 L290.3,156.9 L290.9,155.6 L291.4,156.8 L292.0,155.0 L292.5,156.4 L293.1,155.3 L293.6,154.7 L294.2,155.9 L294.7,155.7 L295.2,154.6 L295.7,154.3 L296.2,155.5 L296.6,154.5 L297.1,153.7 L297.5,153.7 L297.9,154.3 L298.3,154.9 L298.7,153.6 L299.1,153.7 L299.5,153.8 L299.8,153.3 L300.1,153.3 L300.4,153.4 L300.7,153.2 L301.0,153.2" stroke="#9c9c9c" stroke-width="0.85" opacity="1"/>
<path d="M53.0,174.4 L53.3,174.7 L53.7,175.1 L54.1,175.6 L54.6,176.1 L55.1,176.7 L55.7,177.3 L56.3,177.8 L56.9,178.2 L57.4,178.6 L58.0,178.8 L58.5,178.9 L59.0,179.0 L59.6,179.0 L60.1,179.0 L60.7,178.9 L61.2,178.7 L61.8,178.5 L62.3,178.1 L62.8,177.7 L63.3,177.2 L63.9,176.5 L64.4,175.6 L64.9,174.7 L65.4,173.6 L65.9,172.4 L66.4,171.2 L66.9,169.9 L67.4,168.5 L67.9,167.0 L68.4,165.2 L69.0,163.1 L69.5,160.9 L70.0,158.5 L70.6,156.2 L71.1,154.1 L71.6,152.2 L72.0,150.7 L72.6,148.9 L73.1,147.7 L73.6,146.9 L74.2,146.4 L74.9,146.1 L75.3,146.1 L75.8,146.2 L76.3,146.4 L76.8,146.7 L77.4,147.0 L78.0,147.4 L78.5,147.8 L79.1,148.1 L79.7,148.5 L80.3,148.8 L80.8,149.0 L81.3,149.3 L81.8,149.6 L82.4,149.9 L82.9,150.2 L83.5,150.5 L84.0,150.8 L84.5,151.0 L85.0,151.2 L85.6,151.4 L86.0,151.4 L86.5,151.4 L87.1,151.3 L87.7,151.1 L88.2,150.8 L88.7,150.4 L89.2,149.9 L89.7,149.3 L90.2,148.6 L90.7,147.9 L91.2,147.1 L91.7,146.0 L92.3,144.9 L92.8,143.7 L93.4,142.5 L93.9,141.4 L94.3,140.3 L94.7,139.4 L95.4,138.0 L95.9,136.9 L96.3,136.0 L96.8,135.2 L97.3,134.7 L97.7,134.3 L98.2,134.1 L98.7,133.9 L99.3,133.8 L99.6,133.7 L99.9,133.7 L100.2,133.7 L100.5,133.7 L100.9,133.7 L101.5,133.8 L102.3,134.0 L103.4,134.3 L103.7,134.4 L104.1,134.5 L104.5,134.6 L104.8,134.7 L105.3,134.8 L105.7,135.0 L106.1,135.1 L106.6,135.2 L107.0,135.4 L107.5,135.5 L108.0,135.6 L108.5,135.9 L109.0,136.0 L109.5,136.0 L110.1,136.2 L110.6,136.6 L111.1,136.6 L111.7,136.8 L112.3,137.0 L112.8,137.0 L113.4,137.4 L113.9,137.6 L114.5,137.6 L115.1,137.8 L115.7,138.1 L116.2,138.3 L116.8,138.4 L117.3,138.7 L117.9,138.6 L118.5,138.7 L119.0,139.0 L119.5,139.0 L120.0,139.1 L120.5,139.3 L120.9,139.4 L121.4,139.7 L121.8,139.8 L122.2,139.6 L122.6,140.0 L123.1,140.1 L123.5,140.0 L123.9,140.2 L124.3,140.5 L124.7,140.6 L125.1,140.7 L125.5,140.8 L126.0,141.0 L126.4,140.9 L126.8,141.1 L127.2,141.2 L127.7,141.4 L128.2,141.5 L128.6,141.6 L129.1,141.5 L129.6,141.6 L130.1,141.8 L130.6,142.0 L131.2,142.1 L131.7,142.2 L132.3,142.2 L132.9,142.3 L133.5,142.3 L134.1,142.4 L134.8,142.5 L135.5,142.4 L136.2,142.5 L137.0,142.6 L137.7,142.7 L138.1,142.6 L138.5,142.6 L138.9,142.7 L139.3,142.8 L139.7,142.7 L140.1,142.8 L140.5,142.7 L140.9,142.9 L141.3,142.7 L141.8,142.9 L142.2,142.8 L142.7,142.8 L143.1,142.9 L143.6,142.7 L144.0,142.8 L144.5,143.0 L145.0,142.9 L145.5,142.9 L146.0,143.1 L146.4,143.1 L146.9,142.9 L147.4,142.9 L147.9,143.0 L148.5,143.0 L149.0,143.0 L149.5,143.1 L150.0,142.9 L150.5,142.9 L151.0,143.0 L151.6,143.2 L152.1,143.1 L152.6,142.9 L153.2,143.1 L153.7,143.2 L154.2,143.1 L154.8,143.0 L155.3,143.0 L155.9,143.1 L156.4,143.0 L156.9,142.9 L157.5,142.9 L158.0,142.9 L158.6,143.0 L159.1,142.9 L159.7,142.9 L160.2,142.9 L160.8,142.9 L161.3,142.9 L161.9,142.9 L162.4,142.8 L162.9,142.9 L163.5,142.8 L164.0,143.0 L164.6,143.0 L165.1,142.9 L165.6,142.8 L166.1,142.8 L166.7,142.9 L167.2,142.9 L167.7,142.6 L168.2,142.9 L168.8,142.6 L169.3,142.6 L169.8,142.6 L170.3,142.5 L170.8,142.5 L171.3,142.7 L171.8,142.4 L172.3,142.5 L172.8,142.3 L173.2,142.3 L173.7,142.5 L174.2,142.5 L174.6,142.5 L175.1,142.2 L175.6,142.1 L176.0,142.3 L176.6,142.2 L177.1,142.1 L177.7,141.9 L178.3,141.8 L178.8,141.7 L179.4,141.6 L179.9,141.6 L180.5,141.4 L181.1,141.6 L181.6,141.5 L182.2,141.1 L182.7,141.1 L183.3,141.1 L183.8,141.1 L184.3,140.9 L184.9,140.8 L185.4,140.6 L186.0,140.5 L186.5,140.4 L187.0,140.4 L187.6,140.2 L188.1,140.1 L188.6,140.0 L189.1,139.7 L189.7,139.7 L190.2,139.3 L190.7,139.3 L191.2,139.2 L191.7,139.0 L192.2,139.0 L192.7,139.0 L193.2,138.8 L193.7,138.6 L194.2,138.4 L194.7,138.4 L195.2,138.2 L195.7,137.8 L196.2,138.1 L196.6,137.7 L197.1,137.6 L197.6,137.6 L198.1,137.2 L198.5,137.3 L199.0,137.3 L199.5,137.1 L199.9,136.6 L200.4,136.8 L200.8,136.8 L201.3,136.3 L201.7,136.4 L202.1,136.1 L202.6,136.3 L203.0,136.0 L203.4,136.3 L203.9,136.1 L204.3,135.7 L204.7,135.8 L205.1,135.5 L205.5,135.7 L205.9,135.4 L206.6,135.7 L207.2,135.3 L207.8,135.4 L208.5,135.3 L209.1,134.8 L209.6,135.0 L210.2,134.7 L210.8,134.9 L211.3,134.5 L211.8,134.3 L212.3,134.4 L212.9,134.6 L213.4,134.2 L213.8,134.0 L214.3,134.0 L214.8,134.2 L215.3,134.2 L215.7,134.3 L216.2,133.8 L216.7,134.2 L217.1,134.1 L217.6,134.2 L218.0,134.1 L218.5,133.9 L218.9,133.9 L219.4,134.1 L219.8,133.9 L220.3,133.7 L220.7,134.1 L221.2,134.1 L221.7,133.9 L222.2,133.7 L222.6,133.7 L223.1,134.0 L223.6,134.4 L224.1,133.9 L224.6,133.9 L225.1,134.0 L225.6,134.3 L226.2,134.5 L226.7,134.5 L227.2,134.4 L227.7,134.4 L228.3,134.9 L228.8,135.0 L229.4,135.3 L229.9,135.2 L230.4,135.4 L231.0,135.7 L231.5,135.7 L232.0,135.5 L232.6,136.2 L233.1,136.4 L233.6,136.5 L234.2,136.2 L234.7,136.9 L235.2,136.6 L235.7,136.7 L236.2,137.0 L236.8,137.2 L237.3,137.9 L237.7,137.9 L238.2,137.8 L238.7,138.5 L239.2,138.4 L239.7,138.4 L240.1,138.6 L240.6,139.3 L241.0,139.7 L241.5,140.1 L241.9,140.1 L242.3,140.1 L242.9,140.7 L243.6,140.7 L244.2,141.3 L244.8,141.9 L245.4,142.2 L246.0,143.2 L246.5,143.4 L247.1,144.3 L247.6,144.9 L248.1,145.6 L248.6,145.6 L249.1,146.1 L249.6,147.5 L250.1,147.4 L250.5,148.6 L251.0,148.8 L251.4,149.4 L251.8,149.4 L252.2,150.3 L252.6,150.6 L253.1,151.2 L253.5,151.7 L254.1,152.3 L254.6,153.1 L255.1,153.8 L255.5,153.8 L255.8,154.1 L256.2,154.6 L256.6,155.4 L257.0,155.0 L257.5,156.1 L258.1,155.9 L258.8,156.1 L259.6,156.2 L260.0,155.3 L260.4,155.5 L260.7,156.1 L261.1,155.9 L261.5,155.1 L261.9,155.5 L262.3,155.4 L262.7,155.3 L263.2,155.1 L263.6,154.7 L264.1,154.8 L264.5,154.3 L265.0,154.7 L265.5,153.9 L266.0,153.7 L266.5,153.8 L267.0,152.9 L267.5,152.6 L268.0,152.6 L268.6,152.7 L269.1,152.8 L269.6,151.9 L270.2,152.1 L270.7,152.0 L271.3,151.2 L271.9,151.4 L272.4,150.5 L273.0,150.1 L273.6,150.9 L274.2,149.7 L274.8,150.1 L275.4,149.6 L276.0,148.7 L276.6,148.1 L277.0,148.9 L277.5,148.0 L277.9,148.4 L278.4,147.3 L278.9,148.2 L279.4,147.3 L279.9,147.9 L280.4,146.9 L281.0,146.4 L281.5,145.9 L282.0,145.8 L282.6,145.9 L283.2,145.9 L283.7,145.2 L284.3,144.9 L284.9,144.7 L285.5,144.3 L286.0,143.9 L286.6,143.3 L287.2,143.6 L287.8,142.9 L288.4,142.8 L289.0,143.2 L289.6,142.1 L290.1,142.6 L290.7,141.5 L291.3,141.2 L291.8,140.8 L292.4,140.5 L293.0,140.7 L293.5,140.8 L294.0,140.9 L294.6,140.0 L295.1,139.3 L295.6,140.0 L296.1,140.1 L296.5,138.8 L297.0,138.3 L297.5,139.4 L297.9,139.3 L298.3,139.2 L298.7,138.1 L299.1,137.4 L299.5,138.4 L299.8,137.1 L300.1,138.4 L300.4,138.0 L300.7,137.2 L301.0,137.1" stroke="#c4c4c4" stroke-width="0.85" opacity="1"/>
<path d="M168.7,136.4 L169.0,136.4 L169.2,136.3 L169.5,136.3 L169.8,136.3 L170.1,136.4 L170.4,136.2 L170.8,136.3 L171.1,136.4 L171.5,136.4 L171.8,136.3 L172.2,136.3 L172.6,136.3 L173.0,136.2 L173.4,136.1 L173.8,136.1 L174.2,136.2 L174.6,136.2 L175.1,136.1 L175.5,136.0 L176.0,135.9 L176.5,135.9 L176.9,135.8 L177.4,135.9 L177.9,135.8 L178.4,135.9 L178.9,135.9 L179.4,135.9 L179.9,135.7 L180.4,135.7 L181.0,135.7 L181.5,135.7 L182.0,135.6 L182.6,135.7 L183.1,135.5 L183.7,135.5 L184.2,135.4 L184.8,135.4 L185.3,135.5 L185.9,135.5 L186.5,135.4 L187.1,135.2 L187.6,135.2 L188.2,135.3 L188.8,135.1 L189.4,135.2 L190.0,135.0 L190.6,135.3 L191.2,135.0 L191.7,134.9 L192.3,135.0 L192.9,135.0 L193.5,135.1 L194.1,135.0 L194.7,135.0 L195.3,134.9 L195.9,135.0 L196.5,134.9 L197.1,134.9 L197.7,134.7 L198.3,134.7 L198.9,134.8 L199.5,134.4 L200.0,134.7 L200.6,134.5 L201.2,134.4 L201.8,134.4 L202.4,134.3 L202.9,134.4 L203.5,134.3 L204.1,134.6 L204.6,134.3 L205.2,134.4 L205.7,134.4 L206.3,134.2 L206.8,134.2 L207.4,134.4 L207.9,134.3 L208.4,134.4 L208.9,134.0 L209.5,134.2 L210.0,134.3 L210.5,134.2 L211.0,134.4 L211.4,134.3 L211.9,134.2 L212.4,133.9 L212.9,133.9 L213.3,134.1 L213.8,134.0 L214.2,134.3 L214.6,134.0 L215.0,133.8 L215.5,134.3 L215.9,133.9 L216.3,133.8 L217.0,134.2 L217.6,134.0 L218.3,133.9 L219.0,134.4 L219.6,134.3 L220.3,134.2 L220.9,134.1 L221.5,134.5 L222.2,134.2 L222.8,134.3 L223.3,134.3 L223.9,134.4 L224.5,134.4 L225.1,134.6 L225.6,134.7 L226.2,134.8 L226.7,134.9 L227.2,134.9 L227.8,135.0 L228.3,135.1 L228.8,135.4 L229.3,135.3 L229.8,135.0 L230.3,135.5 L230.7,135.1 L231.2,135.3 L231.7,135.6 L232.2,135.9 L232.6,135.5 L233.1,135.5 L233.5,136.1 L234.0,135.9 L234.4,135.9 L234.8,136.1 L235.3,136.5 L235.7,136.5 L236.1,136.2 L236.5,136.4 L237.0,136.4 L237.4,136.8 L237.8,136.4 L238.2,136.5 L238.6,136.8 L239.0,136.6 L239.4,137.1 L239.9,137.0 L240.3,137.1 L240.7,136.7 L241.1,136.8 L241.5,137.4 L241.9,137.0 L242.3,137.5 L242.9,137.1 L243.5,137.1 L244.0,137.3 L244.6,138.0 L245.0,137.8 L245.5,138.0 L245.9,137.7 L246.4,138.2 L246.8,138.2 L247.1,138.2 L247.5,137.6 L247.9,137.9 L248.2,137.7 L248.6,137.7 L248.9,138.0 L249.3,137.8 L249.6,138.2 L250.0,138.1 L250.4,138.5 L250.8,138.3 L251.2,138.6 L251.6,138.3 L252.1,137.9 L252.6,137.8 L253.1,138.1 L253.6,138.7 L254.2,137.8 L254.9,138.3 L255.5,138.1 L256.2,138.4 L257.0,138.0 L257.8,138.4 L258.7,138.6 L259.0,138.2 L259.4,138.5 L259.8,138.4 L260.1,138.5 L260.5,137.9 L261.0,137.9 L261.4,138.4 L261.8,137.8 L262.3,138.5 L262.7,137.5 L263.2,138.3 L263.6,137.9 L264.1,138.1 L264.6,137.5 L265.1,137.9 L265.6,138.2 L266.1,137.3 L266.7,137.6 L267.2,138.0 L267.7,137.4 L268.3,137.1 L268.8,137.3 L269.4,137.2 L269.9,137.7 L270.5,137.8 L271.1,138.0 L271.6,136.9 L272.2,137.7 L272.8,137.5 L273.4,136.9 L274.0,137.8 L274.6,136.6 L275.2,137.1 L275.7,137.6 L276.3,136.6 L276.9,136.8 L277.5,137.6 L278.1,136.9 L278.7,136.6 L279.3,137.2 L279.9,137.0 L280.5,136.2 L281.1,137.2 L281.7,137.0 L282.3,137.2 L282.9,136.6 L283.5,136.6 L284.1,136.8 L284.7,137.1 L285.3,137.0 L285.9,135.9 L286.4,136.1 L287.0,135.7 L287.6,136.8 L288.1,135.4 L288.7,135.8 L289.2,135.9 L289.8,135.4 L290.3,136.7 L290.8,135.7 L291.4,136.2 L291.9,136.7 L292.4,135.3 L292.9,136.6 L293.4,135.3 L293.9,136.1 L294.3,135.0 L294.8,136.4 L295.3,135.6 L295.7,134.6 L296.1,135.4 L296.6,135.2 L297.0,135.4 L297.4,135.2 L297.8,135.6 L298.2,135.8 L298.5,135.7 L298.9,134.6 L299.2,135.6 L299.6,134.8 L299.9,134.3 L300.2,134.3 L300.5,134.5 L300.7,134.3 L301.0,135.1" stroke="#c4c4c4" stroke-width="0.85" opacity="1"/>
<path d="M53.0,179.7 L53.3,180.0 L53.7,180.4 L54.1,180.9 L54.6,181.4 L55.1,182.0 L55.7,182.6 L56.3,183.1 L56.9,183.5 L57.4,183.9 L58.0,184.1 L58.5,184.2 L59.0,184.3 L59.6,184.3 L60.1,184.3 L60.7,184.2 L61.2,184.0 L61.8,183.7 L62.3,183.3 L62.8,182.8 L63.3,182.2 L63.9,181.4 L64.4,180.4 L64.9,179.3 L65.4,178.1 L65.9,176.8 L66.4,175.4 L66.9,173.9 L67.4,172.3 L67.9,170.6 L68.4,168.5 L69.0,166.1 L69.5,163.5 L70.0,160.9 L70.6,158.3 L71.1,155.8 L71.6,153.7 L72.0,151.9 L72.6,149.8 L73.1,148.4 L73.6,147.4 L74.2,146.9 L74.9,146.7 L75.3,146.7 L75.8,146.9 L76.3,147.2 L76.8,147.7 L77.4,148.2 L78.0,148.8 L78.5,149.3 L79.1,149.9 L79.7,150.4 L80.3,150.9 L80.8,151.3 L81.3,151.7 L81.8,152.1 L82.4,152.5 L82.9,153.0 L83.5,153.4 L84.0,153.8 L84.6,154.2 L85.1,154.5 L85.6,154.8 L86.0,155.0 L86.5,155.1 L87.1,155.2 L87.7,155.2 L88.3,155.0 L88.8,154.7 L89.3,154.3 L89.7,153.9 L90.2,153.5 L90.8,152.9 L91.4,152.2 L92.0,151.4 L92.5,150.7 L93.0,150.0 L93.5,149.4 L94.1,148.7 L94.6,148.2 L95.1,147.7 L95.6,147.3 L96.0,147.1 L96.5,146.9 L96.9,146.8 L97.4,146.7 L98.0,146.7 L98.4,146.6 L98.7,146.4 L98.9,146.2 L99.2,146.0 L99.6,146.0 L100.2,146.0 L101.0,146.3 L102.2,146.9 L102.5,147.1 L102.8,147.3 L103.2,147.5 L103.6,147.8 L104.0,148.1 L104.4,148.4 L104.8,148.7 L105.2,149.0 L105.7,149.3 L106.2,149.7 L106.6,150.0 L107.1,150.4 L107.6,150.7 L108.1,151.1 L108.7,151.4 L109.2,152.0 L109.7,152.2 L110.3,152.7 L110.8,153.1 L111.4,153.5 L111.9,153.8 L112.5,154.4 L113.0,154.8 L113.6,155.1 L114.1,155.5 L114.7,155.8 L115.3,156.3 L115.8,156.4 L116.4,157.1 L116.9,157.1 L117.4,157.6 L118.0,157.9 L118.5,158.0 L119.0,158.4 L119.5,158.6 L120.0,158.7 L120.5,159.0 L121.0,159.1 L121.4,159.3 L121.9,159.2 L122.3,159.6 L122.7,159.7 L123.1,159.9 L123.6,159.7 L124.0,159.9 L124.4,159.9 L124.8,160.0 L125.2,160.2 L125.6,160.3 L126.0,160.4 L126.5,160.5 L126.9,160.5 L127.3,160.4 L127.8,160.6 L128.2,160.5 L128.7,160.5 L129.2,160.6 L129.6,160.7 L130.1,160.8 L130.7,160.9 L131.2,160.9 L131.7,160.8 L132.3,160.9 L132.9,160.9 L133.5,161.0 L134.2,161.0 L134.8,161.1 L135.5,161.0 L136.2,161.0 L137.0,161.3 L137.7,161.1 L138.1,161.3 L138.5,161.0 L138.9,161.3 L139.3,161.3 L139.7,161.1 L140.1,161.2 L140.5,161.4 L141.0,161.3 L141.4,161.2 L141.8,161.4 L142.3,161.3 L142.8,161.4 L143.2,161.4 L143.7,161.5 L144.2,161.6 L144.7,161.5 L145.2,161.5 L145.7,161.5 L146.2,161.5 L146.7,161.6 L147.2,161.5 L147.7,161.6 L148.3,161.5 L148.8,161.7 L149.3,161.5 L149.9,161.8 L150.4,161.6 L150.9,161.7 L151.5,161.7 L152.0,161.6 L152.6,161.6 L153.1,161.9 L153.7,161.6 L154.2,161.7 L154.8,161.9 L155.4,161.7 L155.9,161.7 L156.5,161.8 L157.0,161.7 L157.6,161.9 L158.1,161.8 L158.7,161.9 L159.3,161.7 L159.8,161.9 L160.4,161.9 L160.9,161.7 L161.5,161.9 L162.0,161.9 L162.6,161.8 L163.1,161.9 L163.7,161.7 L164.2,161.8 L164.7,161.8 L165.3,161.7 L165.8,161.7 L166.3,161.9 L166.9,161.7 L167.4,161.8 L167.9,161.7 L168.4,161.7 L168.9,161.6 L169.4,161.7 L169.9,161.8 L170.4,161.8 L170.8,161.7 L171.3,161.7 L171.8,161.7 L172.2,161.6 L172.7,161.6 L173.1,161.6 L173.6,161.5 L174.0,161.6 L174.4,161.5 L174.8,161.5 L175.2,161.4 L175.6,161.2 L176.0,161.3 L176.7,161.4 L177.4,161.1 L178.1,161.1 L178.7,161.0 L179.4,160.9 L180.0,160.9 L180.6,160.6 L181.1,160.6 L181.7,160.5 L182.2,160.3 L182.8,160.3 L183.3,160.1 L183.8,159.7 L184.3,159.9 L184.7,159.7 L185.2,159.4 L185.7,159.3 L186.1,159.1 L186.6,158.9 L187.0,158.7 L187.4,158.7 L187.9,158.6 L188.3,158.5 L188.7,158.1 L189.1,158.1 L189.6,157.8 L190.0,157.7 L190.4,157.3 L190.8,157.2 L191.3,157.2 L191.7,156.8 L192.1,156.8 L192.6,156.5 L193.1,156.3 L193.5,155.9 L194.0,155.8 L194.5,155.7 L195.0,155.5 L195.5,155.2 L196.0,154.8 L196.5,154.8 L197.0,154.5 L197.4,154.5 L197.9,154.3 L198.4,153.8 L198.9,153.7 L199.4,153.6 L199.9,153.3 L200.4,152.9 L200.9,152.8 L201.4,152.4 L201.9,151.8 L202.4,151.9 L202.9,151.5 L203.4,151.2 L203.9,151.0 L204.4,150.3 L205.0,150.4 L205.5,150.1 L206.0,149.7 L206.5,149.6 L207.0,149.1 L207.5,148.9 L208.0,148.5 L208.6,148.4 L209.1,147.7 L209.6,147.6 L210.1,147.3 L210.6,147.2 L211.1,147.1 L211.6,146.7 L212.1,146.3 L212.6,146.4 L213.1,146.0 L213.6,145.4 L214.1,145.5 L214.6,145.4 L215.1,144.9 L215.5,145.0 L216.0,144.7 L216.5,144.5 L216.9,144.4 L217.4,144.6 L217.9,144.1 L218.3,144.2 L218.9,143.8 L219.4,143.7 L220.0,144.0 L220.6,143.6 L221.1,143.5 L221.7,144.0 L222.2,144.0 L222.8,143.6 L223.4,143.6 L223.9,144.1 L224.4,144.2 L225.0,143.8 L225.5,144.4 L226.1,144.4 L226.6,144.5 L227.1,144.6 L227.7,144.6 L228.2,144.9 L228.7,145.0 L229.2,144.6 L229.7,145.1 L230.2,145.3 L230.7,145.6 L231.2,145.2 L231.7,145.7 L232.2,146.0 L232.6,146.4 L233.1,146.2 L233.6,146.6 L234.0,146.4 L234.4,147.2 L234.9,147.0 L235.3,147.1 L235.7,147.4 L236.1,147.3 L236.5,147.5 L237.2,148.1 L237.8,149.0 L238.4,148.8 L239.0,149.6 L239.6,150.1 L240.1,150.7 L240.6,151.4 L241.1,151.8 L241.6,152.4 L242.0,152.9 L242.5,153.0 L242.9,154.1 L243.3,154.6 L243.8,154.9 L244.2,155.9 L244.6,155.9 L245.1,157.2 L245.5,157.4 L246.0,158.2 L246.4,158.9 L247.0,159.0 L247.5,159.8 L248.0,160.6 L248.6,161.4 L249.1,162.1 L249.7,163.2 L250.2,164.0 L250.7,164.3 L251.3,164.9 L251.8,166.0 L252.3,166.5 L252.8,167.3 L253.3,168.1 L253.8,168.9 L254.3,169.2 L254.7,170.0 L255.1,170.4 L255.5,170.6 L256.1,171.6 L256.6,172.1 L257.0,172.7 L257.3,173.4 L257.6,174.3 L257.9,174.0 L258.3,174.7 L258.8,174.6 L259.5,175.6 L260.5,175.1 L260.8,175.2 L261.2,174.9 L261.5,175.0 L261.9,174.9 L262.3,175.2 L262.7,174.7 L263.1,174.9 L263.5,175.5 L264.0,174.5 L264.4,175.2 L264.9,175.2 L265.3,175.0 L265.8,174.3 L266.3,174.4 L266.8,174.4 L267.3,174.6 L267.8,174.2 L268.4,173.7 L268.9,173.8 L269.5,173.9 L270.0,173.4 L270.6,173.9 L271.1,174.0 L271.7,173.0 L272.3,173.8 L272.9,173.8 L273.5,172.6 L274.1,172.9 L274.7,173.5 L275.3,173.0 L276.0,173.2 L276.6,172.6 L277.0,172.7 L277.5,172.0 L277.9,173.2 L278.4,172.4 L278.9,172.1 L279.4,172.9 L279.9,171.8 L280.4,171.6 L280.9,172.1 L281.4,171.8 L282.0,171.6 L282.5,171.3 L283.1,172.2 L283.7,172.4 L284.2,172.5 L284.8,172.1 L285.4,171.5 L286.0,171.1 L286.6,171.7 L287.2,171.6 L287.7,171.4 L288.3,172.5 L288.9,172.4 L289.5,172.5 L290.1,171.0 L290.7,170.9 L291.2,172.0 L291.8,170.8 L292.4,172.0 L292.9,171.5 L293.5,171.4 L294.0,170.4 L294.5,171.2 L295.0,172.1 L295.5,170.3 L296.0,170.5 L296.5,170.3 L297.0,170.2 L297.4,172.0 L297.9,171.8 L298.3,171.6 L298.7,171.0 L299.1,171.5 L299.5,171.7 L299.8,170.7 L300.1,170.1 L300.4,171.0 L300.7,171.4 L301.0,170.9" stroke="#8fa052" stroke-width="0.85" opacity="1"/>
<path d="M53.0,174.4 L53.3,174.7 L53.7,175.1 L54.1,175.6 L54.6,176.1 L55.1,176.7 L55.7,177.3 L56.3,177.8 L56.9,178.2 L57.4,178.6 L58.0,178.8 L58.5,178.9 L59.0,179.0 L59.6,179.0 L60.1,179.0 L60.7,178.9 L61.2,178.7 L61.8,178.5 L62.3,178.2 L62.8,177.8 L63.3,177.3 L63.9,176.6 L64.4,175.8 L64.9,174.9 L65.4,173.9 L65.9,172.8 L66.4,171.6 L66.9,170.4 L67.4,169.0 L67.9,167.7 L68.4,166.0 L69.0,164.0 L69.5,161.8 L70.0,159.6 L70.6,157.5 L71.1,155.4 L71.6,153.7 L72.0,152.2 L72.6,150.5 L73.1,149.4 L73.6,148.6 L74.2,148.1 L74.9,147.9 L75.3,147.9 L75.8,148.0 L76.3,148.2 L76.8,148.5 L77.4,148.8 L78.0,149.2 L78.5,149.5 L79.1,149.9 L79.7,150.3 L80.3,150.6 L80.8,150.8 L81.3,151.1 L81.8,151.4 L82.4,151.7 L82.9,152.0 L83.5,152.3 L84.0,152.5 L84.5,152.8 L85.0,153.0 L85.6,153.1 L86.0,153.2 L86.5,153.2 L87.1,153.1 L87.7,152.9 L88.2,152.5 L88.7,152.1 L89.2,151.6 L89.7,151.0 L90.2,150.4 L90.7,149.7 L91.2,148.8 L91.7,147.8 L92.3,146.7 L92.8,145.5 L93.4,144.3 L93.9,143.1 L94.3,142.1 L94.7,141.2 L95.4,139.8 L95.9,138.6 L96.3,137.7 L96.8,137.0 L97.3,136.5 L97.7,136.1 L98.2,135.8 L98.7,135.7 L99.3,135.5 L99.6,135.5 L99.9,135.4 L100.2,135.4 L100.5,135.4 L100.9,135.5 L101.5,135.6 L102.3,135.8 L103.4,136.1 L103.7,136.2 L104.1,136.3 L104.5,136.4 L104.8,136.5 L105.3,136.6 L105.7,136.7 L106.1,136.9 L106.6,137.0 L107.0,137.2 L107.5,137.1 L108.0,137.3 L108.5,137.5 L109.0,137.7 L109.5,137.8 L110.1,138.3 L110.6,138.2 L111.1,138.5 L111.7,138.5 L112.3,138.8 L112.8,138.9 L113.4,139.1 L113.9,139.3 L114.5,139.4 L115.1,139.5 L115.7,139.9 L116.2,139.9 L116.8,140.0 L117.3,140.3 L117.9,140.5 L118.5,140.6 L119.0,140.6 L119.5,140.8 L120.0,141.1 L120.5,141.0 L121.0,141.3 L121.4,141.2 L121.9,141.5 L122.4,141.5 L122.9,141.7 L123.4,141.7 L123.8,142.1 L124.3,141.9 L124.8,142.2 L125.3,142.4 L125.8,142.5 L126.3,142.6 L126.7,142.5 L127.2,142.6 L127.7,142.8 L128.2,143.0 L128.7,143.2 L129.2,143.2 L129.7,143.3 L130.2,143.5 L130.7,143.4 L131.3,143.8 L131.8,143.8 L132.3,143.9 L132.8,144.0 L133.3,144.1 L133.9,144.1 L134.4,144.1 L134.9,144.0 L135.5,144.2 L136.0,144.2 L136.6,144.4 L137.2,144.5 L137.7,144.4 L138.2,144.3 L138.7,144.5 L139.1,144.4 L139.6,144.5 L140.1,144.3 L140.6,144.4 L141.1,144.5 L141.6,144.5 L142.1,144.3 L142.6,144.3 L143.1,144.4 L143.6,144.1 L144.2,144.3 L144.7,144.3 L145.2,144.3 L145.8,144.2 L146.3,144.0 L146.8,143.9 L147.4,144.0 L147.9,143.9 L148.5,144.0 L149.0,143.7 L149.5,143.8 L150.1,143.7 L150.6,143.7 L151.1,143.5 L151.7,143.4 L152.2,143.6 L152.7,143.4 L153.2,143.5 L153.8,143.2 L154.3,143.1 L154.8,143.3 L155.3,143.0 L155.8,143.1 L156.3,143.0 L156.8,142.9 L157.3,142.9 L157.8,142.8 L158.2,142.9 L158.7,142.8 L159.1,142.8 L159.6,142.7 L160.0,142.8 L160.5,142.7 L161.1,142.7 L161.7,142.5 L162.2,142.5 L162.8,142.5 L163.3,142.4 L163.9,142.6 L164.4,142.5 L164.9,142.5 L165.4,142.5 L165.8,142.4 L166.3,142.6 L166.8,142.4 L167.3,142.5 L167.7,142.7 L168.2,142.5 L168.6,142.6 L169.1,142.4 L169.5,142.5 L170.0,142.5 L170.4,142.5 L170.9,142.4 L171.4,142.5 L171.8,142.4 L172.3,142.4 L172.8,142.5 L173.3,142.3 L173.8,142.2 L174.3,142.1 L174.9,142.0 L175.4,141.8 L176.0,141.8 L176.4,141.6 L176.9,141.6 L177.4,141.2 L177.8,141.2 L178.3,141.0 L178.8,140.8 L179.3,140.9 L179.7,140.7 L180.2,140.5 L180.7,140.3 L181.2,140.1 L181.7,139.9 L182.2,139.6 L182.7,139.4 L183.3,139.2 L183.8,139.1 L184.3,138.7 L184.8,138.5 L185.3,138.3 L185.8,138.4 L186.4,138.0 L186.9,137.9 L187.4,137.4 L187.9,137.1 L188.4,137.0 L189.0,136.9 L189.5,136.5 L190.0,136.4 L190.5,136.1 L191.0,136.1 L191.5,135.9 L192.0,135.4 L192.6,135.1 L193.1,135.1 L193.6,135.0 L194.1,134.7 L194.5,134.2 L195.0,134.3 L195.5,133.9 L196.0,133.9 L196.5,133.4 L197.1,133.4 L197.6,132.9 L198.1,132.9 L198.7,132.9 L199.2,132.4 L199.7,132.2 L200.2,132.1 L200.8,131.9 L201.3,131.4 L201.8,131.1 L202.3,130.8 L202.9,130.8 L203.4,130.6 L203.9,130.2 L204.4,129.9 L204.9,129.9 L205.4,129.3 L206.0,129.0 L206.5,129.1 L207.0,129.0 L207.5,128.5 L208.0,128.5 L208.5,127.9 L209.0,127.8 L209.5,127.7 L209.9,127.3 L210.4,127.1 L210.9,126.9 L211.4,127.1 L211.9,126.7 L212.3,126.6 L212.8,126.1 L213.3,126.3 L213.7,126.2 L214.2,125.9 L214.7,125.8 L215.3,125.4 L215.8,125.4 L216.4,125.4 L216.9,124.9 L217.5,124.5 L218.0,124.5 L218.5,124.5 L219.0,124.6 L219.5,124.4 L220.0,124.0 L220.5,123.7 L221.0,123.9 L221.5,123.4 L222.0,123.9 L222.5,123.7 L223.0,123.6 L223.5,123.3 L224.0,123.4 L224.4,123.1 L224.9,123.5 L225.4,123.0 L225.9,123.0 L226.3,123.3 L226.8,123.3 L227.3,123.2 L227.7,123.1 L228.2,123.2 L228.7,122.9 L229.2,123.5 L229.7,123.2 L230.3,123.4 L230.8,123.4 L231.3,123.8 L231.9,123.5 L232.4,123.6 L232.9,124.4 L233.4,124.3 L234.0,124.7 L234.5,124.4 L235.0,124.5 L235.5,125.0 L236.0,124.7 L236.5,125.1 L237.0,125.5 L237.5,126.2 L237.9,126.3 L238.4,126.2 L238.9,126.8 L239.3,127.3 L239.8,127.8 L240.2,127.5 L240.6,128.3 L241.1,128.8 L241.7,129.1 L242.3,129.7 L242.9,130.5 L243.5,131.8 L244.0,131.9 L244.5,133.2 L245.1,134.0 L245.6,135.2 L246.1,136.1 L246.6,137.3 L247.0,137.7 L247.5,139.2 L248.0,139.8 L248.4,140.6 L248.9,141.3 L249.3,143.0 L249.9,143.6 L250.5,145.2 L251.0,146.8 L251.6,147.6 L252.1,149.0 L252.6,150.2 L253.1,151.7 L253.6,152.9 L254.1,154.1 L254.6,154.8 L255.1,156.3 L255.5,156.3 L256.1,157.6 L256.5,158.2 L257.0,159.3 L257.5,160.0 L257.9,160.6 L258.4,161.3 L258.8,161.8 L259.3,162.5 L259.9,162.4 L260.5,162.5 L260.9,162.7 L261.3,162.4 L261.7,162.4 L262.0,162.9 L262.4,161.8 L262.8,162.4 L263.3,162.1 L263.7,161.1 L264.2,160.4 L264.7,160.3 L265.2,160.5 L265.8,159.9 L266.4,159.5 L267.2,158.6 L267.9,159.0 L268.3,158.0 L268.7,158.5 L269.1,158.6 L269.5,157.2 L269.9,157.1 L270.4,157.0 L270.8,156.7 L271.3,156.9 L271.8,156.2 L272.3,156.3 L272.8,156.3 L273.3,155.7 L273.8,155.4 L274.3,155.4 L274.8,155.6 L275.3,155.1 L275.9,155.4 L276.4,154.8 L277.0,154.2 L277.5,153.9 L278.1,154.0 L278.6,153.8 L279.1,153.0 L279.7,153.2 L280.2,153.0 L280.8,153.4 L281.3,152.2 L281.9,151.9 L282.4,151.5 L282.9,151.6 L283.4,152.6 L283.9,151.8 L284.4,151.9 L285.0,151.0 L285.5,151.6 L286.0,150.8 L286.6,149.9 L287.1,150.1 L287.7,150.5 L288.2,149.6 L288.8,150.1 L289.4,149.3 L290.0,150.0 L290.6,148.6 L291.2,149.3 L291.7,149.8 L292.3,149.2 L292.9,148.8 L293.5,148.9 L294.0,148.0 L294.6,148.6 L295.1,147.9 L295.7,147.3 L296.2,147.6 L296.7,147.9 L297.2,146.9 L297.7,146.9 L298.1,146.8 L298.6,147.0 L299.0,146.9 L299.4,145.9 L299.7,146.8 L300.1,146.6 L300.4,145.4 L300.7,145.6 L301.0,146.1" stroke="#8a8a8a" stroke-width="0.85" opacity="1"/>
<path d="M114.2,139.9 L114.4,140.2 L114.7,140.0 L115.0,140.1 L115.4,140.1 L115.7,140.3 L116.1,140.4 L116.5,140.6 L116.9,140.6 L117.3,140.9 L117.8,140.8 L118.3,141.0 L118.7,141.2 L119.2,141.3 L119.7,141.3 L120.3,141.6 L120.8,141.6 L121.3,141.7 L121.9,141.9 L122.5,142.3 L123.0,142.4 L123.6,142.5 L124.2,142.6 L124.8,142.7 L125.4,142.8 L126.0,143.0 L126.6,143.2 L127.2,143.3 L127.8,143.6 L128.4,143.6 L129.0,143.9 L129.6,143.9 L130.2,144.2 L130.8,144.1 L131.4,144.2 L131.9,144.5 L132.5,144.5 L133.1,144.8 L133.6,144.8 L134.2,144.9 L134.7,144.8 L135.3,144.9 L135.8,144.9 L136.3,145.2 L136.8,145.1 L137.2,145.1 L137.7,145.2 L138.2,145.1 L138.6,145.2 L139.0,145.3 L139.4,145.2 L140.1,145.2 L140.8,145.2 L141.5,145.0 L142.2,145.0 L142.8,144.7 L143.4,144.5 L143.9,144.4 L144.5,144.0 L145.0,143.9 L145.5,143.4 L146.0,143.2 L146.5,143.0 L146.9,142.3 L147.4,142.3 L147.8,141.9 L148.2,141.4 L148.7,141.2 L149.1,140.7 L149.5,140.4 L150.0,140.0 L150.4,139.6 L150.8,139.3 L151.3,139.0 L151.7,138.5 L152.2,138.2 L152.7,137.8 L153.3,137.2 L153.8,137.1 L154.3,136.6 L154.8,136.0 L155.3,135.7 L155.8,135.0 L156.3,134.7 L156.8,134.2 L157.3,133.8 L157.8,133.0 L158.3,132.8 L158.8,132.1 L159.2,131.7 L159.7,131.1 L160.3,130.7 L160.8,130.3 L161.3,129.8 L161.8,129.2 L162.4,129.1 L162.9,128.4 L163.4,128.1 L163.9,127.9 L164.4,127.3 L164.9,127.1 L165.4,126.8 L165.9,126.4 L166.4,125.9 L167.0,125.7 L167.5,125.1 L168.0,124.8 L168.6,124.4 L169.1,123.9 L169.7,123.6 L170.2,123.2 L170.7,122.8 L171.3,122.5 L171.8,122.2 L172.3,121.9 L172.8,121.7 L173.3,121.5 L173.8,121.2 L174.3,120.9 L174.8,120.5 L175.3,120.4 L175.7,120.2 L176.2,120.2 L176.8,119.9 L177.3,119.9 L177.8,119.8 L178.3,119.7 L178.8,119.4 L179.2,119.4 L179.7,119.5 L180.1,119.7 L180.5,119.6 L180.9,119.8 L181.4,119.7 L181.8,119.8 L182.3,119.9 L182.8,120.2 L183.4,120.3 L183.9,120.4 L184.6,120.6 L185.3,120.4 L185.7,120.6 L186.1,120.8 L186.5,120.7 L186.9,120.9 L187.3,120.7 L187.8,121.0 L188.2,121.1 L188.7,121.0 L189.2,121.2 L189.7,121.2 L190.2,121.2 L190.7,121.5 L191.2,121.5 L191.7,121.4 L192.2,121.8 L192.7,121.8 L193.2,121.8 L193.7,122.1 L194.3,121.9 L194.8,122.0 L195.3,122.0 L195.9,122.2 L196.4,122.3 L197.0,122.5 L197.5,122.5 L198.0,122.6 L198.6,122.5 L199.1,123.0 L199.7,122.9 L200.2,123.0 L200.7,123.2 L201.3,123.3 L201.8,123.1 L202.3,123.2 L202.8,123.2 L203.2,123.5 L203.7,123.4 L204.2,123.6 L204.7,123.7 L205.2,123.8 L205.7,123.6 L206.2,123.5 L206.7,123.7 L207.2,123.6 L207.7,124.0 L208.2,123.8 L208.7,124.1 L209.2,123.9 L209.7,124.1 L210.2,124.2 L210.7,123.8 L211.2,124.1 L211.7,124.3 L212.3,124.2 L212.8,124.4 L213.3,124.1 L213.8,124.4 L214.3,124.2 L214.8,124.4 L215.3,124.4 L215.8,124.5 L216.4,124.5 L216.9,124.9 L217.4,124.5 L217.9,124.7 L218.4,125.0 L218.9,124.8 L219.5,124.6 L220.0,124.9 L220.5,125.0 L221.0,125.1 L221.4,125.4 L221.9,125.2 L222.4,125.3 L222.9,125.2 L223.4,125.5 L223.9,125.7 L224.4,125.3 L224.9,125.8 L225.4,125.8 L225.9,125.8 L226.4,125.5 L226.8,125.7 L227.3,126.2 L227.8,126.3 L228.3,126.1 L228.8,126.5 L229.3,126.4 L229.8,126.6 L230.3,126.1 L230.8,126.2 L231.3,126.2 L231.8,126.5 L232.3,127.0 L232.8,126.9 L233.3,126.6 L233.8,127.2 L234.4,127.0 L234.9,126.8 L235.4,127.3 L235.9,127.3 L236.4,127.1 L236.9,127.2 L237.4,127.7 L237.9,127.2 L238.5,127.9 L239.0,127.9 L239.5,127.8 L240.0,128.0 L240.4,127.8 L240.9,128.0 L241.4,127.8 L241.9,127.8 L242.4,127.9 L242.9,127.9 L243.4,128.5 L243.9,128.2 L244.4,128.2 L244.9,128.2 L245.4,128.6 L245.9,128.3 L246.4,128.8 L246.9,128.5 L247.4,128.7 L247.9,129.3 L248.5,128.7 L249.0,128.9 L249.5,129.1 L250.0,128.8 L250.5,129.0 L251.0,129.1 L251.5,129.2 L252.0,129.3 L252.5,130.0 L253.0,129.6 L253.6,130.2 L254.1,129.8 L254.6,130.2 L255.1,129.7 L255.6,129.6 L256.1,130.3 L256.6,130.0 L257.1,130.3 L257.6,129.7 L258.1,130.2 L258.6,130.5 L259.1,130.1 L259.6,130.3 L260.2,130.3 L260.7,130.3 L261.2,130.7 L261.7,130.7 L262.2,130.2 L262.7,130.7 L263.2,130.5 L263.7,130.3 L264.2,130.0 L264.7,130.7 L265.2,130.5 L265.7,130.8 L266.2,130.6 L266.7,129.7 L267.2,130.0 L267.7,130.8 L268.2,129.6 L268.7,130.4 L269.2,130.1 L269.7,129.8 L270.2,130.5 L270.7,130.4 L271.2,130.3 L271.7,129.9 L272.3,129.4 L272.8,130.4 L273.3,129.3 L273.8,129.8 L274.3,129.9 L274.8,130.4 L275.3,129.5 L275.8,130.4 L276.3,129.2 L276.8,130.0 L277.3,129.2 L277.8,129.2 L278.3,129.7 L278.8,129.8 L279.3,129.4 L279.8,129.5 L280.3,129.5 L280.8,128.6 L281.3,129.5 L281.9,129.5 L282.4,128.8 L283.0,129.2 L283.5,129.4 L284.1,129.1 L284.7,129.6 L285.2,129.4 L285.8,128.3 L286.4,128.8 L287.0,128.7 L287.6,128.6 L288.2,129.0 L288.8,129.1 L289.3,129.2 L289.9,128.1 L290.5,128.5 L291.1,127.8 L291.7,128.4 L292.2,127.4 L292.8,127.1 L293.3,128.0 L293.9,127.5 L294.4,128.3 L294.9,127.4 L295.5,127.9 L296.0,127.5 L296.4,126.7 L296.9,126.6 L297.4,127.4 L297.8,126.8 L298.3,127.0 L298.7,127.3 L299.1,127.8 L299.4,127.8 L299.8,127.6 L300.1,127.0 L300.4,127.2 L300.7,127.4 L301.0,126.7" stroke="#d8d0a0" stroke-width="0.85" opacity="1"/>
</g>
<rect x="138.00" y="78" width="1" height="123.8" fill="#f59aa5"/>
<text x="137.90" y="72" font-size="6.7" fill="#e4102a" text-anchor="middle">405 nm</text>
<rect x="176.00" y="78" width="1" height="123.8" fill="#f59aa5"/>
<text x="176.10" y="72" font-size="6.7" fill="#e4102a" text-anchor="middle">495 nm</text>
<rect x="259.00" y="78" width="1" height="123.8" fill="#f59aa5"/>
<text x="261.70" y="72" font-size="6.7" fill="#e4102a" text-anchor="middle">700 nm</text>
<line x1="53.00" y1="47.8" x2="53.00" y2="208.8" stroke="#8c8c8c" stroke-width="1.6"/>
<line x1="48.80" y1="204.40" x2="301.28" y2="204.40" stroke="#8c8c8c" stroke-width="1.1"/>
<line x1="48.60" y1="195.57" x2="53.00" y2="195.57" stroke="#8c8c8c" stroke-width="1"/>
<line x1="48.60" y1="186.75" x2="53.00" y2="186.75" stroke="#8c8c8c" stroke-width="1"/>
<line x1="48.60" y1="177.92" x2="53.00" y2="177.92" stroke="#8c8c8c" stroke-width="1"/>
<line x1="48.60" y1="169.09" x2="53.00" y2="169.09" stroke="#8c8c8c" stroke-width="1"/>
<line x1="48.60" y1="160.26" x2="53.00" y2="160.26" stroke="#8c8c8c" stroke-width="1"/>
<line x1="48.60" y1="151.44" x2="53.00" y2="151.44" stroke="#8c8c8c" stroke-width="1"/>
<line x1="48.60" y1="142.61" x2="53.00" y2="142.61" stroke="#8c8c8c" stroke-width="1"/>
<line x1="48.60" y1="133.78" x2="53.00" y2="133.78" stroke="#8c8c8c" stroke-width="1"/>
<line x1="48.60" y1="124.96" x2="53.00" y2="124.96" stroke="#8c8c8c" stroke-width="1"/>
<line x1="48.60" y1="116.13" x2="53.00" y2="116.13" stroke="#8c8c8c" stroke-width="1"/>
<line x1="48.60" y1="107.30" x2="53.00" y2="107.30" stroke="#8c8c8c" stroke-width="1"/>
<line x1="48.60" y1="98.48" x2="53.00" y2="98.48" stroke="#8c8c8c" stroke-width="1"/>
<line x1="48.60" y1="89.65" x2="53.00" y2="89.65" stroke="#8c8c8c" stroke-width="1"/>
<line x1="48.60" y1="80.82" x2="53.00" y2="80.82" stroke="#8c8c8c" stroke-width="1"/>
<line x1="48.60" y1="72.00" x2="53.00" y2="72.00" stroke="#8c8c8c" stroke-width="1"/>
<text x="45.40" y="206.90" font-size="7" fill="#444444" text-anchor="end">0</text>
<text x="45.40" y="198.07" font-size="7" fill="#444444" text-anchor="end">10</text>
<text x="45.40" y="189.25" font-size="7" fill="#444444" text-anchor="end">20</text>
<text x="45.40" y="180.42" font-size="7" fill="#444444" text-anchor="end">30</text>
<text x="45.40" y="171.59" font-size="7" fill="#444444" text-anchor="end">40</text>
<text x="45.40" y="162.76" font-size="7" fill="#444444" text-anchor="end">50</text>
<text x="45.40" y="153.94" font-size="7" fill="#444444" text-anchor="end">60</text>
<text x="45.40" y="145.11" font-size="7" fill="#444444" text-anchor="end">70</text>
<text x="45.40" y="136.28" font-size="7" fill="#444444" text-anchor="end">80</text>
<text x="45.40" y="127.46" font-size="7" fill="#444444" text-anchor="end">90</text>
<text x="45.40" y="118.63" font-size="7" fill="#444444" text-anchor="end">100</text>
<text x="45.40" y="109.80" font-size="7" fill="#444444" text-anchor="end">110</text>
<text x="45.40" y="100.98" font-size="7" fill="#444444" text-anchor="end">120</text>
<text x="45.40" y="92.15" font-size="7" fill="#444444" text-anchor="end">130</text>
<text x="45.40" y="83.32" font-size="7" fill="#444444" text-anchor="end">140</text>
<text x="45.40" y="74.50" font-size="7" fill="#444444" text-anchor="end">150</text>
<line x1="94.33" y1="204.40" x2="94.33" y2="208.4" stroke="#8c8c8c" stroke-width="1.1"/>
<line x1="135.66" y1="204.40" x2="135.66" y2="208.4" stroke="#8c8c8c" stroke-width="1.1"/>
<line x1="176.99" y1="204.40" x2="176.99" y2="208.4" stroke="#8c8c8c" stroke-width="1.1"/>
<line x1="218.32" y1="204.40" x2="218.32" y2="208.4" stroke="#8c8c8c" stroke-width="1.1"/>
<line x1="259.65" y1="204.40" x2="259.65" y2="208.4" stroke="#8c8c8c" stroke-width="1.1"/>
<line x1="300.98" y1="204.40" x2="300.98" y2="208.4" stroke="#8c8c8c" stroke-width="1.1"/>
<text x="53.00" y="217.8" font-size="7" fill="#444444" text-anchor="middle">200</text>
<text x="94.33" y="217.8" font-size="7" fill="#444444" text-anchor="middle">300</text>
<text x="135.66" y="217.8" font-size="7" fill="#444444" text-anchor="middle">400</text>
<text x="176.99" y="217.8" font-size="7" fill="#444444" text-anchor="middle">500</text>
<text x="218.32" y="217.8" font-size="7" fill="#444444" text-anchor="middle">600</text>
<text x="259.65" y="217.8" font-size="7" fill="#444444" text-anchor="middle">700</text>
<text x="300.98" y="217.8" font-size="7" fill="#444444" text-anchor="middle">800</text>
<text x="176.70" y="32.8" font-size="9" font-weight="bold" fill="#111" text-anchor="middle">Group A</text>
<text x="130.70" y="234.4" class="serif" font-size="10.8" font-weight="bold" fill="#505050" textLength="91.6" lengthAdjust="spacingAndGlyphs">WAVELENGTH (nm)</text>
<text transform="translate(23.10,171) rotate(-90)" x="0" y="0" class="serif" font-size="8.6" font-weight="bold" fill="#555555" textLength="76.5" lengthAdjust="spacingAndGlyphs">% REFLECTANCE</text>
<line x1="19.50" y1="88" x2="19.50" y2="73" stroke="#444" stroke-width="0.9"/>
<path d="M17.50,76.5 L19.50,71.6 L21.50,76.5 Z" fill="#444"/>
<rect x="365.0" y="47.8" width="247.28" height="156.60" fill="#fff"/>
<g fill="none" stroke-linejoin="round" stroke-linecap="round">
<path d="M364.0,178.1 L364.3,178.4 L364.7,178.7 L365.1,179.2 L365.6,179.7 L366.1,180.3 L366.7,180.8 L367.3,181.3 L367.9,181.7 L368.4,182.0 L369.0,182.1 L369.5,182.2 L370.0,182.3 L370.6,182.3 L371.1,182.3 L371.7,182.1 L372.2,182.0 L372.8,181.7 L373.3,181.3 L373.8,180.8 L374.3,180.1 L374.9,179.2 L375.4,178.2 L375.9,177.0 L376.4,175.6 L376.9,174.2 L377.4,172.7 L377.9,171.1 L378.4,169.6 L378.9,168.0 L379.4,166.5 L379.9,164.8 L380.4,163.1 L380.9,161.3 L381.4,159.5 L381.9,157.7 L382.4,156.0 L382.9,154.4 L383.4,153.0 L383.8,151.8 L384.4,150.6 L384.8,149.6 L385.2,148.7 L385.7,148.1 L386.1,147.6 L386.6,147.2 L387.2,146.9 L388.0,146.7 L388.4,146.7 L388.8,146.8 L389.3,147.0 L389.8,147.3 L390.3,147.6 L390.8,147.9 L391.4,148.3 L391.9,148.6 L392.5,149.0 L393.1,149.4 L393.6,149.7 L394.2,149.9 L394.7,150.1 L395.3,150.2 L395.8,150.2 L396.2,150.0 L396.7,149.8 L397.3,149.1 L398.0,148.1 L398.5,147.0 L399.1,145.6 L399.6,144.2 L400.1,142.5 L400.6,140.9 L401.1,139.1 L401.6,137.4 L402.0,135.6 L402.6,133.3 L403.0,130.8 L403.5,128.0 L403.9,125.3 L404.4,122.5 L404.9,119.9 L405.5,117.5 L406.2,115.4 L406.5,114.5 L406.9,113.6 L407.3,112.9 L407.7,112.1 L408.2,111.5 L408.6,110.9 L409.1,110.3 L409.5,109.7 L410.0,109.2 L410.6,108.6 L411.1,108.1 L411.7,107.6 L412.3,107.0 L413.0,106.5 L413.7,105.9 L414.4,105.3 L414.8,105.0 L415.2,104.6 L415.6,104.3 L416.0,104.0 L416.5,103.7 L416.9,103.3 L417.4,103.0 L417.9,102.6 L418.3,102.5 L418.8,101.8 L419.3,101.5 L419.8,101.4 L420.3,101.0 L420.8,100.8 L421.3,100.5 L421.9,100.1 L422.4,99.6 L422.9,99.5 L423.5,98.9 L424.0,98.9 L424.5,98.5 L425.1,98.2 L425.6,97.7 L426.2,97.5 L426.7,97.2 L427.3,96.9 L427.8,96.5 L428.4,96.3 L428.9,96.1 L429.5,95.7 L430.0,95.5 L430.5,95.3 L431.0,94.8 L431.5,94.6 L432.0,94.4 L432.5,94.1 L432.9,94.0 L433.4,93.8 L433.9,93.6 L434.4,93.3 L434.9,93.0 L435.4,93.0 L435.9,92.7 L436.4,92.4 L436.9,92.3 L437.4,92.2 L437.9,91.7 L438.4,91.8 L438.9,91.4 L439.4,91.3 L439.9,91.2 L440.4,90.9 L440.9,90.8 L441.4,90.5 L441.9,90.2 L442.4,90.0 L443.0,89.9 L443.5,89.6 L444.0,89.5 L444.5,89.3 L445.0,89.0 L445.6,89.1 L446.1,88.7 L446.6,88.6 L447.1,88.5 L447.7,88.6 L448.2,88.4 L448.7,88.2 L449.2,88.0 L449.7,87.7 L450.2,87.6 L450.7,87.5 L451.2,87.6 L451.7,87.3 L452.2,87.1 L452.7,87.0 L453.2,86.9 L453.7,87.0 L454.2,86.9 L454.7,86.6 L455.2,86.5 L455.7,86.4 L456.2,86.5 L456.7,86.2 L457.2,86.4 L457.7,86.0 L458.2,86.0 L458.7,86.1 L459.3,86.1 L459.8,85.8 L460.3,85.7 L460.8,85.8 L461.3,85.8 L461.8,85.6 L462.4,85.4 L462.9,85.6 L463.4,85.2 L463.9,85.4 L464.4,85.3 L464.9,85.3 L465.4,84.9 L465.9,84.9 L466.5,85.1 L467.0,85.1 L467.5,84.8 L468.0,84.7 L468.5,85.0 L469.0,84.7 L469.5,84.6 L470.0,84.7 L470.5,84.6 L470.9,84.4 L471.4,84.6 L471.9,84.5 L472.4,84.4 L472.8,84.4 L473.3,84.3 L473.8,84.4 L474.2,84.1 L474.7,84.3 L475.1,84.1 L475.6,84.0 L476.1,84.2 L476.5,84.2 L477.0,84.2 L477.5,84.2 L477.9,84.1 L478.4,84.1 L478.8,84.0 L479.3,84.0 L479.8,84.0 L480.3,83.9 L480.8,83.8 L481.2,83.8 L481.7,83.9 L482.2,83.8 L482.7,83.9 L483.3,84.0 L483.8,83.9 L484.3,84.0 L484.8,83.8 L485.4,83.8 L485.9,84.0 L486.5,84.0 L487.1,84.0 L487.6,84.1 L488.2,84.2 L488.8,84.2 L489.2,83.9 L489.7,84.0 L490.1,84.1 L490.6,84.1 L491.0,84.2 L491.4,84.1 L491.9,84.1 L492.4,84.2 L492.8,84.3 L493.3,84.2 L493.7,84.2 L494.2,84.6 L494.7,84.5 L495.2,84.6 L495.7,84.7 L496.1,84.6 L496.6,84.8 L497.1,84.7 L497.6,84.7 L498.1,85.0 L498.6,84.8 L499.1,85.1 L499.6,85.0 L500.1,85.0 L500.6,85.0 L501.1,85.1 L501.7,85.4 L502.2,85.2 L502.7,85.6 L503.2,85.4 L503.7,85.6 L504.2,85.7 L504.8,85.8 L505.3,85.9 L505.8,85.7 L506.3,86.1 L506.9,86.1 L507.4,86.1 L507.9,86.2 L508.4,86.0 L509.0,86.1 L509.5,86.2 L510.0,86.1 L510.5,86.4 L511.1,86.7 L511.6,86.7 L512.1,86.5 L512.6,86.5 L513.2,86.4 L513.7,86.7 L514.2,86.9 L514.7,86.8 L515.3,86.6 L515.8,87.0 L516.3,86.7 L516.8,86.8 L517.3,87.0 L517.8,87.1 L518.3,87.4 L518.8,87.4 L519.3,87.5 L519.8,87.2 L520.3,87.2 L520.8,87.1 L521.4,87.3 L521.9,87.1 L522.4,87.6 L522.9,87.8 L523.4,87.9 L523.9,87.8 L524.5,87.7 L525.0,87.4 L525.5,87.9 L526.0,88.0 L526.6,87.7 L527.1,88.0 L527.6,87.9 L528.2,88.2 L528.7,87.8 L529.2,87.8 L529.8,87.9 L530.3,87.8 L530.8,88.3 L531.4,88.6 L531.9,88.4 L532.4,88.0 L532.9,88.4 L533.5,88.6 L534.0,88.7 L534.5,88.7 L535.0,88.5 L535.6,88.2 L536.1,88.2 L536.6,88.4 L537.1,88.4 L537.6,88.9 L538.1,88.5 L538.6,88.9 L539.1,88.7 L539.6,89.1 L540.1,88.5 L540.6,89.1 L541.1,88.8 L541.6,88.7 L542.1,88.8 L542.6,88.8 L543.0,89.1 L543.5,88.7 L544.0,88.6 L544.4,88.9 L544.9,88.6 L545.3,88.7 L545.8,89.4 L546.2,88.9 L546.7,89.4 L547.1,88.9 L547.5,89.2 L548.1,88.8 L548.7,89.5 L549.3,88.7 L549.9,89.5 L550.5,89.5 L551.0,89.5 L551.6,89.4 L552.1,88.6 L552.7,88.7 L553.2,88.6 L553.7,89.3 L554.2,88.7 L554.7,88.6 L555.2,88.6 L555.7,89.0 L556.2,88.3 L556.6,88.5 L557.1,88.5 L557.6,88.8 L558.0,88.7 L558.5,88.3 L559.0,88.5 L559.4,88.5 L559.9,88.0 L560.4,88.5 L560.8,88.0 L561.3,88.8 L561.8,88.2 L562.2,88.0 L562.7,88.7 L563.2,88.0 L563.7,88.4 L564.1,88.0 L564.6,88.0 L565.1,88.5 L565.6,87.6 L566.2,88.3 L566.7,88.5 L567.2,88.1 L567.8,88.6 L568.2,88.5 L568.7,87.8 L569.2,88.6 L569.7,88.1 L570.1,87.7 L570.6,88.2 L571.1,87.8 L571.6,87.8 L572.1,88.7 L572.6,88.8 L573.1,88.0 L573.6,87.9 L574.1,88.0 L574.6,88.2 L575.1,88.5 L575.6,87.9 L576.2,88.3 L576.7,88.3 L577.2,88.1 L577.7,89.3 L578.2,88.4 L578.7,88.7 L579.3,89.6 L579.8,89.3 L580.3,88.7 L580.8,89.0 L581.3,89.0 L581.8,89.5 L582.4,89.1 L582.9,88.7 L583.4,88.6 L583.9,89.3 L584.4,89.0 L584.9,90.1 L585.4,90.1 L585.9,89.5 L586.4,89.1 L586.9,90.3 L587.4,90.3 L587.9,89.8 L588.4,90.1 L588.9,90.5 L589.4,90.5 L589.9,90.1 L590.4,89.5 L590.8,90.6 L591.3,89.6 L591.9,90.9 L592.4,90.6 L593.0,89.9 L593.5,91.2 L594.1,90.7 L594.7,91.1 L595.3,91.0 L595.8,89.8 L596.4,91.2 L597.0,90.2 L597.6,89.9 L598.2,91.2 L598.8,90.1 L599.4,91.2 L600.0,90.4 L600.5,90.8 L601.1,91.3 L601.7,90.3 L602.3,90.8 L602.8,91.6 L603.4,91.1 L603.9,91.8 L604.5,91.8 L605.0,90.5 L605.5,90.5 L606.1,92.3 L606.6,90.7 L607.1,91.2 L607.5,92.7 L608.0,92.6 L608.4,91.9 L608.9,91.0 L609.3,91.0 L609.7,92.5 L610.1,92.1 L610.5,91.0 L610.8,92.7 L611.1,92.9 L611.4,92.3 L611.7,91.7 L612.0,92.1" stroke="#b8b8b8" stroke-width="0.85" opacity="1"/>
<path d="M364.0,176.1 L364.3,176.4 L364.7,176.9 L365.1,177.5 L365.6,178.1 L366.1,178.8 L366.7,179.5 L367.3,180.1 L367.9,180.6 L368.4,180.9 L369.0,181.1 L369.5,181.2 L370.0,181.3 L370.6,181.3 L371.1,181.3 L371.7,181.1 L372.2,180.9 L372.8,180.5 L373.3,179.9 L373.8,179.1 L374.3,178.1 L374.9,176.7 L375.4,174.9 L375.8,172.9 L376.3,170.7 L376.8,168.3 L377.3,165.9 L377.8,163.5 L378.3,161.1 L378.9,158.9 L379.3,157.2 L379.8,155.6 L380.4,153.8 L380.9,152.1 L381.4,150.3 L382.0,148.6 L382.5,146.9 L383.1,145.2 L383.6,143.7 L384.1,142.2 L384.6,140.9 L385.1,139.7 L385.6,138.2 L386.2,136.8 L386.6,135.5 L387.1,134.4 L387.5,133.4 L388.0,132.7 L388.5,132.1 L389.0,131.7 L389.6,131.6 L390.1,131.7 L390.5,132.0 L391.0,132.6 L391.5,133.2 L392.1,134.0 L392.6,134.9 L393.1,135.7 L393.7,136.6 L394.2,137.5 L394.8,138.2 L395.3,138.8 L395.8,139.3 L396.2,139.6 L396.7,139.7 L397.3,139.4 L397.9,138.8 L398.4,137.9 L398.9,136.8 L399.4,135.5 L399.9,134.1 L400.3,132.6 L400.8,131.1 L401.2,129.5 L401.8,127.0 L402.4,124.2 L402.9,121.1 L403.4,118.0 L403.9,115.1 L404.5,112.6 L404.9,110.9 L405.4,109.3 L405.8,107.8 L406.2,106.4 L406.7,105.1 L407.2,103.9 L407.9,102.7 L408.6,101.7 L409.0,101.3 L409.4,100.9 L409.8,100.6 L410.1,100.3 L410.5,100.0 L410.9,99.7 L411.4,99.4 L411.8,99.2 L412.3,99.0 L412.8,98.8 L413.3,98.6 L413.8,98.4 L414.4,98.2 L415.0,98.0 L415.6,97.8 L416.3,97.6 L417.0,97.4 L417.7,97.2 L418.1,97.2 L418.5,96.9 L418.9,97.0 L419.4,96.7 L419.8,96.6 L420.2,96.6 L420.7,96.5 L421.2,96.4 L421.7,96.5 L422.2,96.2 L422.7,96.1 L423.2,96.0 L423.7,95.8 L424.3,95.8 L424.8,95.8 L425.3,95.8 L425.9,95.8 L426.4,95.4 L427.0,95.4 L427.5,95.3 L428.1,95.3 L428.6,95.2 L429.2,95.3 L429.7,95.1 L430.3,95.1 L430.8,94.9 L431.3,94.8 L431.9,94.7 L432.4,94.8 L432.9,94.8 L433.4,94.6 L433.9,94.4 L434.4,94.4 L434.9,94.3 L435.4,94.3 L435.9,94.3 L436.3,94.0 L436.9,94.2 L437.4,94.1 L437.9,93.9 L438.3,93.8 L438.8,93.8 L439.2,93.6 L439.6,93.6 L440.0,93.4 L440.3,93.3 L440.7,93.2 L441.1,93.2 L441.4,93.2 L441.8,93.0 L442.2,93.1 L442.5,93.0 L442.9,92.8 L443.3,92.8 L443.8,92.8 L444.2,92.6 L444.7,92.6 L445.2,92.5 L445.8,92.5 L446.3,92.5 L447.0,92.3 L447.6,92.4 L448.3,92.3 L449.1,92.1 L449.9,92.0 L450.8,92.2 L451.1,92.3 L451.5,91.9 L451.9,91.9 L452.3,92.1 L452.6,92.1 L453.0,91.9 L453.4,91.8 L453.8,92.0 L454.3,91.9 L454.7,91.8 L455.1,92.0 L455.6,91.9 L456.0,91.9 L456.5,91.8 L456.9,91.8 L457.4,91.9 L457.9,91.7 L458.4,91.8 L458.9,91.8 L459.4,91.7 L459.9,91.6 L460.4,91.6 L460.9,91.4 L461.4,91.5 L461.9,91.6 L462.4,91.6 L462.9,91.5 L463.5,91.3 L464.0,91.5 L464.5,91.4 L465.1,91.2 L465.6,91.2 L466.2,91.3 L466.7,91.1 L467.3,91.2 L467.8,91.3 L468.4,91.3 L468.9,91.3 L469.5,91.0 L470.0,91.1 L470.6,90.9 L471.2,90.9 L471.7,90.9 L472.3,91.0 L472.8,91.2 L473.4,91.0 L473.9,91.0 L474.5,90.9 L475.1,90.8 L475.6,90.7 L476.2,90.8 L476.7,90.7 L477.3,90.8 L477.8,90.8 L478.3,90.7 L478.9,90.9 L479.4,90.7 L480.0,90.7 L480.5,90.6 L481.0,90.9 L481.5,90.8 L482.1,90.6 L482.6,90.8 L483.1,90.7 L483.6,90.7 L484.1,90.7 L484.6,90.6 L485.1,90.5 L485.6,90.7 L486.1,90.8 L486.5,90.5 L487.0,90.7 L487.5,90.8 L487.9,90.8 L488.4,90.9 L488.8,90.7 L489.4,90.8 L490.0,90.7 L490.5,90.6 L491.1,90.8 L491.7,90.6 L492.2,91.0 L492.8,90.7 L493.3,90.8 L493.8,90.7 L494.4,91.1 L494.9,90.9 L495.4,91.0 L495.9,91.0 L496.4,91.1 L497.0,91.2 L497.5,91.0 L498.0,91.0 L498.5,91.1 L499.0,91.1 L499.5,91.3 L500.0,91.5 L500.4,91.3 L500.9,91.6 L501.4,91.4 L501.9,91.5 L502.4,91.7 L502.9,91.8 L503.3,91.9 L503.8,91.9 L504.3,91.6 L504.8,92.0 L505.2,91.7 L505.7,92.1 L506.2,92.1 L506.6,92.1 L507.1,92.2 L507.6,92.0 L508.1,92.4 L508.5,92.3 L509.0,92.5 L509.5,92.6 L510.0,92.4 L510.4,92.6 L510.9,92.6 L511.4,92.5 L511.9,92.9 L512.4,92.9 L512.8,92.7 L513.3,92.5 L513.8,93.1 L514.3,92.9 L514.8,92.7 L515.3,92.8 L515.8,92.7 L516.3,93.0 L516.8,92.8 L517.3,93.4 L517.8,93.2 L518.3,93.0 L518.8,93.3 L519.3,93.3 L519.8,93.3 L520.3,93.4 L520.8,93.2 L521.3,93.1 L521.8,93.6 L522.3,93.6 L522.9,93.3 L523.4,93.4 L523.9,93.4 L524.4,93.5 L524.9,93.3 L525.4,93.4 L526.0,93.6 L526.5,93.9 L527.0,94.0 L527.5,93.5 L528.1,93.6 L528.6,93.6 L529.1,94.0 L529.6,93.7 L530.1,93.6 L530.7,94.2 L531.2,94.3 L531.7,94.3 L532.2,94.3 L532.8,93.9 L533.3,93.9 L533.8,93.9 L534.3,94.0 L534.8,93.8 L535.3,93.8 L535.9,94.3 L536.4,93.9 L536.9,94.1 L537.4,94.5 L537.9,94.3 L538.4,94.6 L538.9,94.5 L539.4,94.2 L539.9,94.8 L540.4,94.4 L540.9,94.5 L541.4,94.7 L541.9,94.9 L542.4,94.5 L542.9,94.7 L543.3,94.9 L543.8,94.7 L544.3,94.5 L544.8,95.0 L545.2,94.4 L545.7,95.1 L546.2,94.7 L546.6,94.8 L547.1,94.4 L547.5,94.4 L548.1,94.6 L548.7,95.0 L549.2,95.0 L549.8,94.5 L550.3,94.8 L550.9,94.7 L551.4,94.7 L552.0,95.2 L552.5,95.0 L553.1,94.5 L553.6,95.1 L554.1,94.6 L554.6,95.2 L555.1,95.4 L555.7,94.9 L556.2,95.1 L556.7,94.8 L557.2,94.7 L557.7,95.4 L558.2,94.9 L558.7,95.1 L559.2,94.5 L559.7,94.6 L560.2,94.5 L560.6,94.7 L561.1,95.1 L561.6,94.8 L562.1,94.9 L562.6,95.1 L563.1,95.2 L563.5,94.8 L564.0,94.5 L564.5,95.2 L565.0,95.1 L565.4,95.3 L565.9,95.1 L566.4,95.1 L566.9,95.5 L567.3,94.9 L567.8,95.2 L568.3,94.7 L568.8,95.4 L569.2,94.8 L569.7,94.5 L570.2,95.5 L570.6,95.3 L571.2,94.6 L571.7,95.3 L572.2,95.5 L572.8,95.7 L573.3,94.9 L573.8,95.6 L574.3,94.9 L574.8,95.4 L575.4,95.9 L575.9,94.9 L576.4,95.1 L576.9,95.3 L577.4,95.6 L577.9,95.4 L578.4,95.2 L578.9,96.3 L579.4,96.3 L579.9,95.6 L580.4,96.2 L580.9,95.4 L581.4,95.7 L581.9,96.2 L582.4,96.8 L582.9,96.2 L583.4,96.2 L583.9,96.3 L584.4,96.1 L584.8,96.6 L585.3,96.0 L585.8,96.5 L586.3,97.3 L586.8,96.2 L587.3,97.4 L587.8,96.2 L588.3,96.2 L588.8,97.5 L589.3,97.5 L589.8,96.7 L590.3,97.2 L590.8,97.4 L591.3,96.7 L591.8,97.5 L592.3,97.9 L592.9,97.2 L593.4,96.6 L594.0,96.5 L594.5,98.1 L595.1,97.0 L595.7,97.8 L596.2,96.6 L596.8,97.7 L597.4,98.3 L598.0,97.9 L598.6,97.6 L599.2,98.3 L599.8,97.1 L600.3,98.0 L600.9,97.2 L601.5,98.3 L602.1,97.8 L602.7,97.5 L603.2,98.4 L603.8,98.3 L604.3,97.2 L604.9,98.1 L605.4,98.2 L605.9,97.7 L606.5,97.5 L607.0,97.2 L607.4,97.9 L607.9,97.2 L608.4,97.2 L608.8,97.1 L609.3,97.1 L609.7,97.7 L610.1,97.7 L610.4,98.4 L610.8,99.0 L611.1,97.2 L611.4,98.4 L611.7,98.6 L612.0,98.2" stroke="#b8b8b8" stroke-width="0.85" opacity="1"/>
<path d="M364.0,174.1 L364.3,174.3 L364.7,174.7 L365.1,175.1 L365.6,175.6 L366.1,176.2 L366.7,176.7 L367.3,177.2 L367.9,177.6 L368.4,177.9 L369.0,178.1 L369.5,178.2 L370.0,178.3 L370.6,178.3 L371.1,178.3 L371.7,178.2 L372.2,178.0 L372.8,177.8 L373.3,177.5 L373.8,177.1 L374.3,176.6 L374.9,176.0 L375.4,175.2 L375.9,174.3 L376.4,173.3 L376.9,172.3 L377.4,171.1 L377.9,169.9 L378.4,168.7 L378.9,167.4 L379.4,165.9 L379.9,164.2 L380.5,162.4 L381.0,160.5 L381.5,158.6 L382.0,156.8 L382.5,155.1 L383.0,153.7 L383.4,152.4 L384.1,150.8 L384.6,149.7 L385.1,149.0 L385.6,148.6 L386.3,148.3 L386.8,148.2 L387.3,148.2 L387.9,148.2 L388.4,148.4 L389.1,148.6 L389.7,148.8 L390.2,149.0 L390.8,149.2 L391.3,149.4 L391.7,149.5 L392.4,150.0 L392.8,150.6 L393.1,151.0 L393.8,150.8 L394.2,150.5 L394.6,150.2 L395.2,149.7 L395.7,149.2 L396.3,148.6 L396.9,147.9 L397.5,147.1 L398.1,146.2 L398.7,145.2 L399.2,144.2 L399.8,143.0 L400.4,141.6 L401.0,140.2 L401.6,138.7 L402.1,137.2 L402.7,135.7 L403.2,134.3 L403.7,133.0 L404.1,131.9 L404.8,129.7 L405.3,127.9 L405.7,126.5 L406.2,125.3 L406.6,124.5 L407.0,123.9 L407.5,123.5 L408.0,123.3 L408.6,123.1 L409.0,123.0 L409.2,123.1 L409.5,123.2 L409.8,123.3 L410.2,123.5 L410.8,123.7 L411.6,123.8 L412.8,123.9 L413.1,123.9 L413.4,123.9 L413.8,123.9 L414.2,123.9 L414.5,123.9 L415.0,124.0 L415.4,124.0 L415.8,124.0 L416.3,124.0 L416.7,124.0 L417.2,124.0 L417.7,123.9 L418.2,123.7 L418.7,124.0 L419.2,123.8 L419.7,123.8 L420.3,124.1 L420.8,124.1 L421.4,123.9 L421.9,124.1 L422.5,124.0 L423.0,123.7 L423.6,123.7 L424.1,124.1 L424.7,124.1 L425.3,124.0 L425.8,123.8 L426.4,124.1 L426.9,124.0 L427.5,124.1 L428.0,124.1 L428.6,123.9 L429.1,124.1 L429.6,124.0 L430.1,123.9 L430.6,123.9 L431.1,124.1 L431.6,123.9 L432.1,124.0 L432.6,124.0 L433.1,124.3 L433.7,124.2 L434.2,124.2 L434.7,124.1 L435.2,124.3 L435.8,124.4 L436.3,124.5 L436.8,124.5 L437.4,124.6 L437.9,124.3 L438.4,124.4 L439.0,124.5 L439.5,124.7 L440.0,124.6 L440.6,124.9 L441.1,124.8 L441.6,125.0 L442.1,124.9 L442.6,125.1 L443.1,125.2 L443.6,124.8 L444.1,125.2 L444.6,124.9 L445.1,125.0 L445.6,125.3 L446.1,125.1 L446.5,124.9 L447.0,124.9 L447.4,125.1 L447.9,125.0 L448.3,125.0 L448.7,125.2 L449.3,125.0 L449.9,124.9 L450.4,125.0 L450.9,124.7 L451.4,124.7 L451.8,124.4 L452.2,124.6 L452.6,124.3 L453.0,124.3 L453.4,123.9 L453.7,123.6 L454.1,123.6 L454.5,123.4 L454.9,123.2 L455.3,123.3 L455.8,123.0 L456.2,122.8 L456.7,122.7 L457.3,122.7 L457.9,122.6 L458.5,122.6 L459.2,122.4 L459.9,122.4 L460.7,122.5 L461.1,122.4 L461.4,122.3 L461.8,122.5 L462.2,122.4 L462.6,122.7 L463.0,122.5 L463.5,122.9 L463.9,122.8 L464.3,122.7 L464.8,123.1 L465.2,122.9 L465.7,122.9 L466.1,122.9 L466.6,123.1 L467.1,123.4 L467.6,123.5 L468.0,123.4 L468.5,123.8 L469.0,123.9 L469.5,123.6 L470.1,123.8 L470.6,124.2 L471.1,124.1 L471.6,124.3 L472.1,124.2 L472.7,124.5 L473.2,124.4 L473.7,124.5 L474.3,124.8 L474.8,125.0 L475.4,125.0 L475.9,125.1 L476.4,125.1 L477.0,125.3 L477.5,125.2 L478.1,125.5 L478.6,125.7 L479.2,125.5 L479.7,125.6 L480.3,125.7 L480.8,125.9 L481.4,125.8 L481.9,125.9 L482.5,126.4 L483.0,126.2 L483.6,126.5 L484.1,126.4 L484.6,126.5 L485.2,126.4 L485.7,126.4 L486.2,126.3 L486.8,126.6 L487.3,126.7 L487.8,126.3 L488.3,126.4 L488.8,126.5 L489.3,126.7 L489.8,126.7 L490.3,126.3 L490.8,126.4 L491.3,126.2 L491.8,126.2 L492.3,126.2 L492.8,126.1 L493.3,126.3 L493.8,126.3 L494.3,126.1 L494.8,125.9 L495.3,125.8 L495.8,125.8 L496.2,125.8 L496.7,125.8 L497.2,125.8 L497.7,125.5 L498.2,125.4 L498.7,125.4 L499.2,125.2 L499.7,125.0 L500.2,124.9 L500.7,125.2 L501.2,125.0 L501.7,124.8 L502.2,124.6 L502.7,124.7 L503.2,124.3 L503.7,124.4 L504.2,124.1 L504.7,124.4 L505.2,124.2 L505.7,124.2 L506.2,123.7 L506.7,123.7 L507.2,123.3 L507.7,123.4 L508.2,123.5 L508.7,123.3 L509.2,123.2 L509.7,123.2 L510.2,123.2 L510.7,122.7 L511.2,122.8 L511.7,122.6 L512.2,122.3 L512.7,122.5 L513.2,122.3 L513.8,122.3 L514.3,122.2 L514.8,121.8 L515.3,122.1 L515.8,121.8 L516.3,121.9 L516.8,121.4 L517.3,121.6 L517.8,121.0 L518.3,121.3 L518.8,121.1 L519.3,121.1 L519.8,120.8 L520.3,120.8 L520.8,120.7 L521.4,121.1 L521.9,120.9 L522.4,120.4 L522.9,120.5 L523.4,120.0 L524.0,120.2 L524.5,119.9 L525.0,119.9 L525.6,119.6 L526.1,119.8 L526.6,119.4 L527.1,119.8 L527.7,119.8 L528.2,119.8 L528.8,119.6 L529.3,119.0 L529.8,119.1 L530.4,119.5 L530.9,119.5 L531.4,119.0 L532.0,118.8 L532.5,118.9 L533.0,119.1 L533.5,118.8 L534.1,118.1 L534.6,118.1 L535.1,118.0 L535.6,118.4 L536.2,117.9 L536.7,118.3 L537.2,118.1 L537.7,117.4 L538.2,118.0 L538.7,117.9 L539.2,117.9 L539.7,117.1 L540.2,117.2 L540.7,117.2 L541.2,116.9 L541.7,117.2 L542.2,116.7 L542.6,116.8 L543.1,117.2 L543.6,117.2 L544.0,116.8 L544.5,116.8 L544.9,116.4 L545.4,116.5 L545.8,116.3 L546.2,116.4 L546.7,116.8 L547.1,116.2 L547.5,115.9 L548.1,116.2 L548.8,116.0 L549.4,116.5 L550.1,116.6 L550.7,116.2 L551.3,115.9 L551.9,115.7 L552.5,116.0 L553.1,115.9 L553.7,116.4 L554.3,116.4 L554.8,116.3 L555.4,116.1 L556.0,116.2 L556.5,116.3 L557.1,116.0 L557.6,116.0 L558.1,115.4 L558.6,115.3 L559.1,115.2 L559.6,115.5 L560.1,116.4 L560.6,116.2 L561.1,115.2 L561.5,115.6 L562.0,115.4 L562.4,116.2 L562.9,116.2 L563.3,116.4 L563.7,115.8 L564.1,116.1 L564.5,115.9 L564.8,116.4 L565.2,116.5 L565.5,116.0 L565.9,115.3 L566.2,115.7 L566.5,115.8 L567.7,116.5 L568.6,116.1 L569.1,116.3 L569.5,116.0 L569.7,116.4 L569.9,115.9 L570.2,116.6 L570.6,115.9 L571.1,116.8 L571.5,116.4 L571.9,115.2 L572.2,114.8 L572.6,115.4 L573.1,115.3 L573.6,113.7 L574.2,114.0 L574.8,114.4 L575.6,112.5 L576.0,113.1 L576.4,113.4 L576.8,112.8 L577.2,112.9 L577.7,112.3 L578.2,112.4 L578.7,112.2 L579.2,111.4 L579.7,111.9 L580.2,110.7 L580.8,110.6 L581.3,110.0 L581.9,111.3 L582.4,109.7 L583.0,109.7 L583.5,110.5 L584.1,108.9 L584.6,109.5 L585.1,109.9 L585.7,109.6 L586.2,107.8 L586.7,108.0 L587.1,109.0 L587.6,107.5 L588.2,109.1 L588.7,107.5 L589.2,107.4 L589.8,106.8 L590.3,106.5 L590.8,106.7 L591.3,106.4 L591.8,107.0 L592.3,105.9 L592.8,106.8 L593.3,106.0 L593.7,105.8 L594.2,106.5 L594.7,105.4 L595.2,105.5 L595.6,106.6 L596.1,105.4 L596.6,105.5 L597.1,105.0 L597.6,106.2 L598.1,104.3 L598.7,104.8 L599.2,103.6 L599.7,104.5 L600.3,104.8 L600.8,103.3 L601.4,102.6 L601.9,101.9 L602.4,102.2 L602.9,101.0 L603.4,102.6 L603.9,102.4 L604.4,101.5 L604.9,100.6 L605.3,100.2 L605.8,101.9 L606.2,100.5 L606.9,101.2 L607.5,100.8 L608.2,102.3 L608.8,102.5 L609.4,101.6 L609.9,102.9 L610.4,101.5 L610.9,103.3 L611.3,104.2 L611.7,104.9 L612.0,104.3" stroke="#56488c" stroke-width="1.0" opacity="1"/>
<path d="M364.0,175.1 L364.3,175.3 L364.7,175.7 L365.1,176.2 L365.6,176.7 L366.1,177.2 L366.7,177.7 L367.3,178.2 L367.9,178.6 L368.4,178.9 L369.0,179.1 L369.5,179.2 L370.0,179.3 L370.6,179.3 L371.1,179.3 L371.7,179.2 L372.2,179.0 L372.8,178.8 L373.3,178.5 L373.8,178.1 L374.3,177.5 L374.9,176.9 L375.4,176.1 L375.9,175.1 L376.4,174.1 L376.8,173.0 L377.3,171.8 L377.8,170.6 L378.3,169.2 L378.9,167.9 L379.4,166.5 L379.9,164.9 L380.5,163.3 L381.1,161.5 L381.7,159.7 L382.2,158.0 L382.8,156.3 L383.3,154.7 L383.8,153.4 L384.3,152.2 L384.9,150.5 L385.5,149.4 L385.9,148.7 L386.4,148.2 L387.1,147.9 L387.6,147.8 L388.1,147.7 L388.7,147.8 L389.2,147.9 L389.8,148.1 L390.4,148.3 L391.0,148.5 L391.6,148.7 L392.1,148.9 L392.5,149.1 L393.2,149.4 L393.8,149.8 L394.3,150.1 L394.8,150.3 L395.4,150.3 L395.8,150.1 L396.3,149.9 L396.8,149.7 L397.3,149.3 L397.8,149.0 L398.3,148.5 L398.9,148.0 L399.4,147.5 L399.9,146.8 L400.4,146.1 L401.0,145.3 L401.5,144.3 L402.1,143.3 L402.6,142.2 L403.2,141.2 L403.6,140.2 L404.1,139.4 L404.5,138.6 L405.2,137.2 L405.7,136.1 L406.1,135.2 L406.6,134.5 L407.0,134.0 L407.5,133.6 L407.9,133.4 L408.4,133.2 L409.0,133.1 L409.4,133.0 L409.8,133.0 L410.2,133.1 L410.6,133.1 L411.0,133.2 L411.6,133.3 L412.3,133.4 L413.2,133.6 L413.5,133.7 L413.9,133.8 L414.2,133.8 L414.6,133.9 L415.0,134.0 L415.4,134.1 L415.8,134.2 L416.2,134.3 L416.6,134.4 L417.0,134.5 L417.5,134.6 L418.0,134.6 L418.5,134.7 L419.0,134.9 L419.6,135.3 L420.2,135.3 L420.8,135.3 L421.4,135.4 L422.1,135.9 L422.8,136.0 L423.6,135.8 L424.3,136.3 L424.7,136.1 L425.1,136.3 L425.5,136.3 L425.9,136.2 L426.3,136.5 L426.7,136.6 L427.2,136.7 L427.6,136.7 L428.1,136.8 L428.5,137.0 L429.0,137.0 L429.5,137.1 L430.0,137.3 L430.5,137.4 L431.0,137.4 L431.5,137.7 L432.0,137.5 L432.5,137.5 L433.0,137.6 L433.6,138.0 L434.1,138.0 L434.6,137.9 L435.2,138.2 L435.7,138.0 L436.2,138.5 L436.8,138.3 L437.3,138.8 L437.9,138.6 L438.4,138.6 L439.0,138.8 L439.5,138.9 L440.1,138.8 L440.6,138.9 L441.1,139.3 L441.7,139.3 L442.2,139.6 L442.7,139.5 L443.3,139.7 L443.8,139.7 L444.3,139.6 L444.8,139.9 L445.3,139.9 L445.8,140.1 L446.3,139.8 L446.8,140.1 L447.3,140.2 L447.8,140.0 L448.3,140.0 L448.7,140.1 L449.3,140.2 L449.8,140.2 L450.4,140.2 L450.9,140.4 L451.5,140.2 L452.0,140.2 L452.5,140.2 L453.0,140.2 L453.6,140.2 L454.1,140.3 L454.6,140.3 L455.1,140.2 L455.6,140.2 L456.1,140.4 L456.6,140.0 L457.1,140.3 L457.6,140.1 L458.1,140.1 L458.6,140.3 L459.1,140.0 L459.6,140.0 L460.1,139.8 L460.6,139.9 L461.1,140.0 L461.6,139.9 L462.1,139.7 L462.6,139.8 L463.1,139.7 L463.6,140.1 L464.0,139.8 L464.5,140.0 L465.0,140.0 L465.5,139.9 L466.0,140.0 L466.5,140.1 L467.0,140.1 L467.5,140.1 L468.0,140.2 L468.5,140.0 L469.0,140.4 L469.5,140.4 L470.0,140.6 L470.5,140.5 L471.0,140.7 L471.5,140.7 L472.0,141.0 L472.5,141.2 L473.0,141.2 L473.5,141.6 L474.0,141.4 L474.5,141.8 L475.0,142.0 L475.5,142.2 L476.0,142.2 L476.5,142.6 L477.0,142.9 L477.5,143.2 L478.0,143.3 L478.5,143.4 L479.0,143.7 L479.5,144.0 L480.0,144.0 L480.5,144.5 L481.0,144.6 L481.5,144.6 L482.0,144.7 L482.5,145.1 L483.0,145.5 L483.5,145.4 L484.0,145.6 L484.5,145.9 L485.0,145.9 L485.4,145.8 L485.9,146.2 L486.4,146.3 L486.9,146.3 L487.4,146.1 L487.9,146.3 L488.3,146.2 L488.8,146.2 L489.3,146.4 L489.9,146.2 L490.4,146.2 L490.9,145.8 L491.4,145.8 L491.9,145.7 L492.4,145.4 L492.9,145.2 L493.4,145.3 L493.9,145.1 L494.4,144.8 L494.9,144.5 L495.4,144.2 L495.9,144.0 L496.4,143.5 L496.9,143.3 L497.4,142.9 L497.9,142.8 L498.4,142.7 L498.9,142.2 L499.4,142.1 L499.9,141.6 L500.4,141.5 L500.8,140.8 L501.3,140.9 L501.8,140.3 L502.3,140.4 L502.9,140.1 L503.4,139.8 L503.9,139.2 L504.4,139.0 L504.9,138.8 L505.4,138.7 L505.9,138.7 L506.5,138.5 L507.0,138.4 L507.5,137.7 L508.0,138.1 L508.4,137.6 L508.9,137.9 L509.4,137.6 L509.9,137.2 L510.4,137.4 L510.9,137.3 L511.3,136.7 L511.8,137.0 L512.3,137.0 L512.8,136.4 L513.3,136.1 L513.8,136.3 L514.3,136.6 L514.8,136.2 L515.2,136.0 L515.7,136.1 L516.2,135.9 L516.7,135.6 L517.2,135.6 L517.7,135.3 L518.2,135.2 L518.8,135.4 L519.3,135.0 L519.8,135.5 L520.3,135.1 L520.8,134.9 L521.3,134.6 L521.9,134.9 L522.4,134.9 L522.9,134.4 L523.4,134.7 L524.0,134.9 L524.5,134.5 L525.1,134.6 L525.6,134.2 L526.1,134.0 L526.7,134.6 L527.3,134.3 L527.7,133.7 L528.2,133.7 L528.6,133.7 L529.1,133.9 L529.6,133.4 L530.1,133.4 L530.6,133.4 L531.1,133.5 L531.6,133.4 L532.1,133.8 L532.6,133.8 L533.1,133.8 L533.6,133.7 L534.1,133.2 L534.6,132.7 L535.1,133.0 L535.7,132.7 L536.2,132.7 L536.7,132.5 L537.2,133.1 L537.7,132.8 L538.3,132.3 L538.8,132.8 L539.3,132.4 L539.8,132.7 L540.4,132.9 L540.9,132.8 L541.4,132.6 L541.9,132.9 L542.5,131.9 L543.0,132.4 L543.5,132.5 L544.0,131.9 L544.5,132.7 L545.0,131.8 L545.5,132.1 L546.0,132.5 L546.5,132.1 L547.0,131.4 L547.5,132.5 L548.0,132.2 L548.5,132.3 L548.9,131.8 L549.4,132.2 L549.9,131.4 L550.3,132.0 L550.8,131.3 L551.2,132.2 L551.6,132.1 L552.2,132.3 L552.8,132.3 L553.4,132.2 L553.9,131.8 L554.5,131.9 L555.0,131.7 L555.5,132.4 L556.1,132.0 L556.6,131.7 L557.1,132.6 L557.6,132.8 L558.1,133.0 L558.6,132.1 L559.1,132.6 L559.6,132.9 L560.1,133.1 L560.6,133.7 L561.0,133.6 L561.5,133.1 L562.0,133.8 L562.5,133.6 L562.9,133.1 L563.4,134.2 L563.9,133.8 L564.3,133.5 L564.8,133.6 L565.3,133.5 L565.8,133.4 L566.2,133.8 L566.7,134.3 L567.2,133.8 L567.7,133.1 L568.2,134.1 L568.7,133.8 L569.2,133.8 L569.7,132.6 L570.2,133.6 L570.7,133.3 L571.2,132.3 L571.7,131.8 L572.2,132.0 L572.7,131.2 L573.3,130.9 L573.8,131.0 L574.3,131.1 L574.9,129.7 L575.4,129.4 L575.9,128.3 L576.4,128.3 L577.0,128.9 L577.5,128.2 L578.0,127.6 L578.6,126.3 L579.1,126.6 L579.6,126.2 L580.1,125.8 L580.7,125.1 L581.2,124.2 L581.7,123.3 L582.2,122.6 L582.7,123.5 L583.2,122.1 L583.7,120.8 L584.2,121.5 L584.6,121.6 L585.1,120.1 L585.6,119.3 L586.0,120.4 L586.5,120.0 L586.9,119.1 L587.4,118.6 L587.8,118.8 L588.4,118.4 L589.0,117.2 L589.6,115.6 L590.2,116.0 L590.7,116.2 L591.3,114.3 L591.8,115.4 L592.3,115.3 L592.8,115.0 L593.3,114.8 L593.8,112.4 L594.3,113.0 L594.8,111.6 L595.2,112.3 L595.7,113.0 L596.2,112.0 L596.6,111.8 L597.1,111.9 L597.6,111.8 L598.0,110.0 L598.5,109.3 L599.0,108.8 L599.5,110.3 L600.0,109.0 L600.5,109.6 L601.0,107.9 L601.6,107.4 L602.1,109.5 L602.7,108.7 L603.3,106.7 L603.9,106.2 L604.4,106.3 L605.0,108.1 L605.6,106.4 L606.2,105.7 L606.7,106.1 L607.3,105.9 L607.8,105.1 L608.4,106.8 L608.9,105.2 L609.4,103.9 L609.8,104.9 L610.3,105.3 L610.7,105.8 L611.1,103.5 L611.4,104.0 L611.7,103.1 L612.0,104.3" stroke="#64569a" stroke-width="0.95" opacity="1"/>
<path d="M364.0,176.1 L364.3,176.3 L364.7,176.7 L365.1,177.2 L365.6,177.7 L366.1,178.2 L366.7,178.7 L367.3,179.2 L367.9,179.6 L368.4,179.9 L369.0,180.1 L369.5,180.2 L370.0,180.3 L370.6,180.3 L371.1,180.3 L371.7,180.2 L372.2,180.1 L372.8,179.8 L373.3,179.5 L373.8,179.2 L374.3,178.7 L374.9,178.1 L375.4,177.4 L375.9,176.5 L376.4,175.6 L376.8,174.6 L377.3,173.5 L377.8,172.4 L378.3,171.2 L378.9,169.9 L379.4,168.7 L379.9,167.3 L380.5,165.8 L381.1,164.2 L381.7,162.5 L382.2,161.0 L382.8,159.4 L383.3,158.0 L383.8,156.8 L384.3,155.8 L384.9,154.2 L385.5,153.2 L385.9,152.5 L386.4,152.1 L387.1,151.8 L387.6,151.7 L388.1,151.7 L388.7,151.7 L389.2,151.8 L389.8,152.0 L390.4,152.2 L391.0,152.4 L391.6,152.5 L392.1,152.7 L392.5,152.8 L393.2,153.1 L393.8,153.5 L394.3,153.9 L394.8,154.0 L395.4,153.8 L395.8,153.5 L396.3,153.2 L396.8,152.8 L397.3,152.3 L397.8,151.7 L398.3,151.0 L398.9,150.2 L399.4,149.3 L399.9,148.4 L400.4,147.2 L401.0,145.8 L401.5,144.3 L402.1,142.7 L402.6,141.1 L403.2,139.4 L403.6,137.9 L404.1,136.5 L404.5,135.3 L405.2,133.1 L405.7,131.3 L406.1,129.9 L406.6,128.7 L407.0,127.9 L407.5,127.4 L407.9,127.0 L408.4,126.7 L409.0,126.5 L409.4,126.5 L409.7,126.5 L409.9,126.6 L410.2,126.8 L410.6,126.9 L411.2,127.1 L412.0,127.2 L413.2,127.3 L413.5,127.3 L413.8,127.4 L414.2,127.4 L414.6,127.4 L415.0,127.4 L415.4,127.4 L415.8,127.5 L416.2,127.5 L416.7,127.5 L417.2,127.5 L417.6,127.5 L418.1,127.4 L418.6,127.6 L419.1,127.5 L419.7,127.4 L420.2,127.7 L420.7,127.5 L421.3,127.7 L421.8,127.8 L422.4,127.7 L422.9,127.6 L423.5,127.8 L424.0,127.6 L424.6,127.7 L425.1,127.8 L425.7,127.7 L426.3,127.7 L426.8,127.7 L427.4,127.5 L427.9,127.5 L428.4,127.7 L429.0,127.4 L429.5,127.5 L430.0,127.4 L430.5,127.4 L431.0,127.5 L431.5,127.5 L432.0,127.2 L432.5,127.2 L433.0,127.2 L433.5,127.3 L434.0,127.0 L434.5,126.9 L435.0,126.8 L435.5,126.7 L436.0,126.6 L436.5,126.6 L437.0,126.6 L437.5,126.4 L438.0,126.4 L438.5,126.2 L439.0,126.1 L439.5,125.9 L440.0,125.9 L440.5,125.8 L441.0,125.6 L441.5,125.6 L442.0,125.4 L442.5,125.4 L443.0,125.6 L443.5,125.4 L444.0,125.4 L444.5,125.3 L445.0,125.3 L445.6,125.3 L446.1,125.1 L446.6,125.0 L447.1,124.9 L447.7,124.9 L448.2,125.0 L448.7,125.3 L449.2,125.2 L449.7,125.3 L450.2,125.1 L450.7,125.3 L451.2,125.3 L451.7,125.4 L452.2,125.4 L452.7,125.4 L453.2,125.6 L453.7,125.9 L454.2,125.8 L454.7,126.0 L455.2,125.9 L455.7,126.3 L456.2,126.4 L456.7,126.3 L457.2,126.6 L457.7,126.8 L458.2,126.7 L458.7,126.8 L459.3,127.1 L459.8,127.3 L460.3,127.2 L460.8,127.6 L461.3,127.7 L461.8,128.0 L462.4,127.8 L462.9,128.2 L463.4,128.3 L463.9,128.4 L464.4,128.4 L464.9,128.4 L465.4,128.8 L465.9,128.8 L466.5,129.1 L467.0,129.0 L467.5,129.2 L468.0,129.3 L468.5,129.3 L469.0,129.5 L469.5,129.7 L470.0,129.9 L470.5,130.0 L471.0,129.8 L471.4,129.9 L471.9,130.1 L472.4,130.3 L472.9,130.1 L473.4,130.2 L473.9,130.2 L474.4,130.4 L474.8,130.5 L475.3,130.6 L475.8,130.7 L476.3,130.8 L476.7,130.7 L477.2,130.9 L477.7,130.8 L478.2,131.1 L478.7,131.1 L479.1,131.3 L479.6,131.3 L480.1,131.2 L480.6,131.2 L481.1,131.3 L481.6,131.7 L482.1,131.5 L482.6,131.7 L483.1,131.8 L483.6,131.7 L484.1,131.9 L484.6,132.1 L485.1,132.1 L485.6,132.3 L486.1,132.4 L486.7,132.5 L487.2,132.7 L487.7,133.0 L488.3,132.8 L488.8,133.2 L489.3,133.2 L489.7,133.5 L490.2,133.5 L490.7,133.8 L491.2,134.0 L491.7,134.2 L492.2,134.1 L492.7,134.4 L493.2,134.6 L493.7,135.0 L494.2,135.1 L494.7,135.2 L495.3,135.5 L495.8,135.8 L496.3,136.2 L496.9,136.3 L497.4,136.4 L497.9,136.6 L498.5,137.0 L499.0,137.3 L499.5,137.5 L500.1,137.7 L500.6,138.0 L501.1,138.1 L501.7,138.5 L502.2,138.9 L502.7,138.8 L503.3,139.1 L503.8,139.6 L504.3,139.6 L504.8,139.6 L505.3,140.0 L505.9,140.1 L506.4,140.4 L506.9,140.6 L507.4,140.5 L507.9,141.0 L508.3,141.0 L508.8,141.4 L509.3,141.3 L509.8,141.3 L510.2,141.4 L510.7,141.3 L511.1,141.7 L511.5,141.8 L512.0,141.8 L512.4,141.8 L512.8,141.5 L513.4,141.8 L514.1,141.6 L514.7,141.1 L515.3,141.3 L515.8,141.0 L516.4,140.8 L516.9,140.5 L517.4,140.2 L517.9,139.6 L518.4,139.7 L518.9,139.3 L519.4,138.4 L519.8,138.0 L520.3,137.8 L520.7,137.3 L521.2,136.8 L521.6,136.5 L522.1,135.9 L522.5,135.5 L523.0,134.9 L523.4,134.6 L523.9,134.0 L524.3,134.0 L524.8,132.9 L525.3,133.2 L525.7,132.5 L526.2,132.3 L526.7,132.1 L527.3,131.2 L527.7,131.4 L528.2,131.3 L528.7,131.0 L529.2,130.8 L529.7,130.3 L530.2,129.7 L530.7,129.5 L531.3,129.8 L531.8,129.2 L532.3,129.1 L532.8,128.7 L533.4,128.9 L533.9,128.8 L534.4,128.5 L534.9,127.7 L535.5,128.2 L536.0,128.0 L536.5,127.5 L537.0,127.6 L537.6,127.3 L538.1,126.6 L538.6,127.0 L539.1,126.4 L539.6,126.2 L540.1,126.5 L540.6,126.4 L541.1,126.5 L541.5,126.3 L542.0,126.1 L542.5,126.1 L542.9,126.1 L543.4,126.2 L544.0,125.8 L544.5,126.2 L545.1,126.4 L545.7,126.4 L546.2,126.2 L546.8,126.6 L547.3,126.6 L547.8,126.7 L548.4,127.4 L548.9,127.3 L549.4,128.1 L549.9,128.0 L550.4,128.3 L550.9,128.7 L551.3,129.2 L551.8,129.0 L552.3,129.8 L552.7,130.1 L553.2,130.8 L553.6,130.5 L554.1,130.9 L554.5,132.0 L554.9,132.2 L555.4,132.8 L556.0,133.7 L556.6,134.0 L557.2,135.1 L557.7,135.9 L558.3,137.2 L558.8,138.7 L559.3,139.4 L559.8,141.3 L560.2,142.0 L560.7,143.3 L561.2,144.9 L561.7,145.8 L562.2,146.7 L562.7,148.2 L563.2,149.2 L563.7,149.6 L564.2,150.1 L564.7,151.5 L565.2,152.0 L565.7,153.6 L566.2,155.0 L566.7,155.8 L567.2,156.4 L567.7,156.8 L568.2,157.7 L568.7,158.3 L569.3,159.4 L569.8,159.9 L570.3,160.6 L570.9,161.5 L571.5,161.4 L571.9,161.8 L572.3,161.3 L572.7,161.2 L573.1,161.9 L573.4,161.9 L573.8,161.5 L574.2,161.7 L574.5,161.2 L574.9,159.8 L575.3,159.6 L575.7,159.9 L576.1,158.9 L576.6,159.4 L577.2,158.0 L577.8,158.2 L578.4,157.8 L579.2,157.9 L580.0,158.1 L580.8,157.0 L581.8,156.7 L582.2,156.5 L582.5,156.3 L582.9,156.0 L583.3,157.3 L583.7,156.3 L584.2,157.1 L584.6,155.9 L585.1,156.3 L585.5,157.1 L586.0,156.4 L586.5,155.6 L587.1,155.5 L587.6,155.3 L588.1,156.0 L588.7,155.6 L589.2,155.6 L589.8,155.8 L590.4,155.3 L590.9,156.3 L591.5,156.1 L592.1,155.4 L592.7,155.1 L593.3,154.6 L593.9,156.2 L594.5,154.4 L595.1,155.6 L595.7,155.5 L596.3,154.8 L596.9,154.2 L597.5,155.6 L598.1,155.2 L598.8,154.2 L599.4,154.2 L599.9,155.0 L600.5,155.3 L601.1,154.1 L601.7,155.3 L602.3,154.9 L602.9,155.6 L603.4,155.1 L604.0,154.6 L604.5,154.5 L605.1,153.8 L605.6,154.1 L606.1,154.9 L606.6,154.5 L607.1,154.8 L607.6,155.0 L608.0,154.9 L608.5,153.1 L608.9,153.4 L609.3,153.3 L609.7,153.5 L610.1,154.5 L610.5,153.4 L610.8,153.8 L611.1,153.2 L611.4,153.7 L611.7,153.5 L612.0,153.8" stroke="#9c9c9c" stroke-width="0.85" opacity="1"/>
<path d="M364.0,177.1 L364.3,177.4 L364.7,177.9 L365.1,178.4 L365.6,179.1 L366.1,179.7 L366.7,180.3 L367.3,180.9 L367.9,181.5 L368.4,181.9 L369.0,182.1 L369.5,182.3 L370.0,182.4 L370.6,182.4 L371.1,182.4 L371.7,182.3 L372.2,182.1 L372.8,181.9 L373.3,181.6 L373.8,181.2 L374.3,180.7 L374.9,180.1 L375.4,179.4 L375.9,178.5 L376.4,177.6 L376.8,176.6 L377.3,175.5 L377.8,174.4 L378.3,173.2 L378.9,172.0 L379.4,170.7 L379.9,169.3 L380.5,167.8 L381.1,166.2 L381.7,164.6 L382.2,163.0 L382.8,161.5 L383.3,160.1 L383.8,158.8 L384.3,157.8 L384.9,156.3 L385.5,155.2 L385.9,154.6 L386.4,154.1 L387.1,153.8 L387.6,153.7 L388.1,153.7 L388.7,153.8 L389.2,153.9 L389.8,154.0 L390.4,154.2 L391.0,154.4 L391.6,154.6 L392.1,154.7 L392.5,154.8 L393.2,155.1 L393.8,155.5 L394.3,155.8 L394.8,156.0 L395.4,155.8 L395.8,155.6 L396.3,155.4 L396.8,155.1 L397.3,154.7 L397.8,154.2 L398.3,153.7 L398.9,153.1 L399.4,152.4 L399.9,151.7 L400.4,150.8 L401.0,149.8 L401.5,148.6 L402.1,147.4 L402.6,146.1 L403.2,144.9 L403.6,143.7 L404.1,142.7 L404.5,141.7 L405.2,140.1 L405.7,138.7 L406.1,137.7 L406.6,136.8 L407.0,136.2 L407.5,135.8 L407.9,135.5 L408.4,135.2 L409.0,135.1 L409.4,135.0 L409.7,135.0 L409.9,134.9 L410.2,134.9 L410.6,135.0 L411.2,135.2 L412.0,135.4 L413.2,135.7 L413.5,135.8 L413.8,135.9 L414.2,136.1 L414.6,136.2 L415.0,136.3 L415.4,136.4 L415.8,136.6 L416.2,136.7 L416.7,136.9 L417.2,137.1 L417.6,137.2 L418.1,137.3 L418.6,137.4 L419.1,137.9 L419.7,137.8 L420.2,138.0 L420.7,138.5 L421.3,138.4 L421.8,138.6 L422.4,139.0 L422.9,138.9 L423.5,139.3 L424.0,139.5 L424.6,139.6 L425.1,139.8 L425.7,140.0 L426.3,140.3 L426.8,140.4 L427.4,140.8 L427.9,140.9 L428.4,141.0 L429.0,141.3 L429.5,141.4 L430.0,141.4 L430.5,141.8 L431.0,141.9 L431.5,142.2 L432.1,142.1 L432.6,142.5 L433.1,142.7 L433.6,142.7 L434.1,143.0 L434.7,143.1 L435.2,143.3 L435.8,143.5 L436.3,143.7 L436.8,144.0 L437.4,144.2 L437.9,144.4 L438.5,144.6 L439.0,144.8 L439.5,144.7 L440.1,145.2 L440.6,145.4 L441.1,145.5 L441.7,145.7 L442.2,145.6 L442.7,145.8 L443.2,146.0 L443.7,146.1 L444.2,146.4 L444.7,146.5 L445.2,146.7 L445.7,146.7 L446.1,146.9 L446.6,146.9 L447.0,147.1 L447.5,147.0 L447.9,147.0 L448.3,147.2 L448.7,147.4 L449.4,147.3 L450.0,147.2 L450.5,147.3 L451.0,147.4 L451.4,147.3 L451.8,147.1 L452.2,146.9 L452.5,146.8 L452.8,146.6 L453.2,146.5 L453.5,146.2 L453.9,146.2 L454.3,145.7 L454.8,145.5 L455.3,145.4 L455.9,145.1 L456.5,144.8 L457.3,144.3 L458.1,144.0 L459.1,143.9 L459.4,143.5 L459.8,143.5 L460.1,143.2 L460.5,143.3 L460.9,143.2 L461.3,142.9 L461.7,142.7 L462.1,142.6 L462.5,142.3 L463.0,142.3 L463.4,142.1 L463.9,142.0 L464.3,141.4 L464.8,141.4 L465.3,141.3 L465.8,141.1 L466.2,140.7 L466.7,140.7 L467.2,140.5 L467.8,140.1 L468.3,139.9 L468.8,139.6 L469.3,139.3 L469.8,139.3 L470.4,138.9 L470.9,138.7 L471.5,138.4 L472.0,138.3 L472.5,138.0 L473.1,138.0 L473.6,137.8 L474.2,137.4 L474.7,137.2 L475.3,136.9 L475.8,136.8 L476.4,136.7 L477.0,136.4 L477.5,136.2 L478.1,135.9 L478.6,135.8 L479.2,135.4 L479.7,135.3 L480.2,135.2 L480.8,134.9 L481.3,134.7 L481.9,134.7 L482.4,134.6 L482.9,134.2 L483.4,134.3 L484.0,133.9 L484.5,133.9 L485.0,133.8 L485.5,133.5 L486.0,133.7 L486.5,133.3 L487.0,133.4 L487.4,133.2 L487.9,133.0 L488.4,133.0 L488.8,133.1 L489.4,132.9 L489.9,133.0 L490.5,133.0 L491.0,133.0 L491.6,133.1 L492.1,132.9 L492.6,133.0 L493.1,133.0 L493.7,132.9 L494.2,133.1 L494.7,133.3 L495.2,133.1 L495.7,133.4 L496.2,133.3 L496.7,133.4 L497.2,133.5 L497.7,133.5 L498.2,133.9 L498.7,133.9 L499.2,134.0 L499.7,134.2 L500.1,134.3 L500.6,134.4 L501.1,134.3 L501.6,134.4 L502.1,134.7 L502.6,134.8 L503.0,135.2 L503.5,135.3 L504.0,135.2 L504.5,135.3 L505.0,135.9 L505.4,135.6 L505.9,135.8 L506.4,136.3 L506.9,136.3 L507.4,136.3 L507.8,136.7 L508.3,137.0 L508.8,136.9 L509.3,137.0 L509.8,137.1 L510.3,137.6 L510.8,137.6 L511.3,137.9 L511.8,137.6 L512.3,137.8 L512.8,137.9 L513.3,138.5 L513.8,138.6 L514.2,138.4 L514.7,138.7 L515.2,138.6 L515.7,138.9 L516.2,139.4 L516.7,139.5 L517.1,139.3 L517.6,139.7 L518.1,139.8 L518.6,139.8 L519.0,140.3 L519.5,140.5 L520.0,140.4 L520.5,140.8 L521.0,140.8 L521.4,140.9 L521.9,141.3 L522.4,141.5 L522.9,141.2 L523.4,141.4 L523.8,141.7 L524.3,141.9 L524.8,141.8 L525.3,142.3 L525.8,142.6 L526.3,142.6 L526.7,142.8 L527.2,142.9 L527.7,143.2 L528.2,143.3 L528.7,143.8 L529.2,143.5 L529.7,143.5 L530.2,143.8 L530.7,143.9 L531.2,144.0 L531.8,144.5 L532.3,144.7 L532.8,144.6 L533.3,145.2 L533.8,145.3 L534.4,145.2 L534.9,145.8 L535.4,145.2 L536.0,145.4 L536.5,145.9 L537.0,146.0 L537.6,146.4 L538.0,146.4 L538.5,146.8 L539.0,146.7 L539.5,147.0 L539.9,147.0 L540.4,146.9 L540.9,146.8 L541.4,147.6 L541.9,147.7 L542.4,147.4 L542.9,147.3 L543.4,147.7 L544.0,147.9 L544.5,147.8 L545.0,148.5 L545.5,148.8 L546.0,148.5 L546.6,148.5 L547.1,149.1 L547.6,148.7 L548.2,148.9 L548.7,148.8 L549.2,149.4 L549.8,149.8 L550.3,149.8 L550.8,149.9 L551.4,149.9 L551.9,149.8 L552.4,150.2 L553.0,149.7 L553.5,150.6 L554.1,150.0 L554.6,150.8 L555.1,150.2 L555.6,151.0 L556.2,150.8 L556.7,151.3 L557.2,150.9 L557.7,151.1 L558.3,151.1 L558.8,151.6 L559.3,151.9 L559.8,151.9 L560.3,151.5 L560.8,151.9 L561.3,152.4 L561.8,152.6 L562.3,152.2 L562.8,152.0 L563.3,152.3 L563.7,152.2 L564.2,153.1 L564.7,152.8 L565.1,153.0 L565.6,153.2 L566.0,152.5 L566.5,152.7 L566.9,153.3 L567.3,152.7 L567.8,153.6 L568.4,153.0 L569.0,153.6 L569.6,153.7 L570.1,153.2 L570.7,153.5 L571.2,153.7 L571.8,153.8 L572.3,153.9 L572.8,153.8 L573.3,154.0 L573.8,154.5 L574.3,154.3 L574.8,154.6 L575.3,154.9 L575.8,155.1 L576.2,154.1 L576.7,154.8 L577.1,154.7 L577.6,155.3 L578.0,154.8 L578.5,154.3 L578.9,154.6 L579.4,154.7 L579.8,154.9 L580.3,155.7 L580.7,155.8 L581.2,155.7 L581.6,155.0 L582.1,154.6 L582.6,154.5 L583.0,154.8 L583.5,154.9 L584.0,155.7 L584.5,155.9 L585.0,154.8 L585.5,155.7 L586.0,155.1 L586.5,154.7 L587.0,156.0 L587.6,154.9 L588.1,155.6 L588.5,155.3 L589.0,155.5 L589.5,154.8 L590.0,155.0 L590.5,154.6 L591.1,155.0 L591.6,154.8 L592.1,154.8 L592.7,155.3 L593.2,155.2 L593.8,155.2 L594.4,156.0 L594.9,156.1 L595.5,155.6 L596.1,155.4 L596.7,156.0 L597.3,154.8 L597.8,155.5 L598.4,155.1 L599.0,154.3 L599.6,154.3 L600.2,155.1 L600.7,155.0 L601.3,155.9 L601.9,155.9 L602.4,154.8 L603.0,155.8 L603.5,154.4 L604.1,155.6 L604.6,155.3 L605.1,154.2 L605.7,155.5 L606.2,154.1 L606.7,155.7 L607.1,154.6 L607.6,154.7 L608.1,155.1 L608.5,154.9 L608.9,153.7 L609.3,155.1 L609.7,155.1 L610.1,154.6 L610.5,154.6 L610.8,154.6 L611.1,154.3 L611.4,154.2 L611.7,154.9 L612.0,154.3" stroke="#9c9c9c" stroke-width="0.85" opacity="1"/>
<path d="M364.0,178.1 L364.3,178.4 L364.7,178.9 L365.1,179.4 L365.6,180.1 L366.1,180.7 L366.7,181.3 L367.3,181.9 L367.9,182.5 L368.4,182.9 L369.0,183.2 L369.5,183.3 L370.0,183.4 L370.6,183.5 L371.1,183.4 L371.7,183.3 L372.2,183.2 L372.8,183.0 L373.3,182.7 L373.8,182.3 L374.3,181.9 L374.9,181.3 L375.4,180.7 L375.9,179.9 L376.4,179.1 L376.8,178.2 L377.3,177.3 L377.8,176.2 L378.3,175.2 L378.9,174.1 L379.4,172.9 L379.9,171.7 L380.5,170.3 L381.1,168.9 L381.7,167.5 L382.2,166.0 L382.8,164.7 L383.3,163.4 L383.8,162.3 L384.3,161.4 L384.9,160.0 L385.5,159.1 L385.9,158.5 L386.4,158.1 L387.1,157.9 L387.6,157.8 L388.1,157.8 L388.7,157.8 L389.2,157.9 L389.8,158.1 L390.4,158.3 L391.0,158.4 L391.6,158.6 L392.1,158.8 L392.5,158.9 L393.2,159.2 L393.8,159.5 L394.3,159.8 L394.8,160.0 L395.4,159.9 L395.8,159.7 L396.3,159.5 L396.8,159.2 L397.3,158.8 L397.8,158.4 L398.3,158.0 L398.9,157.4 L399.4,156.8 L399.9,156.2 L400.4,155.4 L401.0,154.4 L401.5,153.4 L402.1,152.3 L402.6,151.1 L403.2,150.0 L403.6,149.0 L404.1,148.0 L404.5,147.2 L405.2,145.7 L405.7,144.5 L406.1,143.5 L406.6,142.7 L407.0,142.2 L407.5,141.8 L407.9,141.5 L408.4,141.3 L409.0,141.2 L409.4,141.1 L409.8,141.1 L410.2,141.2 L410.6,141.2 L411.0,141.3 L411.6,141.4 L412.3,141.6 L413.2,141.7 L413.5,141.8 L413.9,141.9 L414.2,141.9 L414.6,142.0 L414.9,142.0 L415.3,142.0 L415.7,142.1 L416.1,142.1 L416.5,142.2 L416.9,142.2 L417.4,142.3 L417.8,142.5 L418.3,142.5 L418.9,142.4 L419.4,142.7 L420.0,142.9 L420.6,143.1 L421.3,143.4 L422.0,143.2 L422.7,143.5 L423.5,144.0 L424.3,144.2 L424.7,144.3 L425.1,144.3 L425.5,144.8 L425.9,144.9 L426.3,145.1 L426.7,145.1 L427.1,145.2 L427.6,145.5 L428.0,146.0 L428.5,146.1 L429.0,146.4 L429.5,146.6 L429.9,146.7 L430.4,147.1 L431.0,147.3 L431.5,147.6 L432.0,147.7 L432.5,147.8 L433.0,148.4 L433.6,148.4 L434.1,148.8 L434.7,149.1 L435.2,149.4 L435.7,149.4 L436.3,149.7 L436.9,150.0 L437.4,150.2 L438.0,150.5 L438.5,151.0 L439.1,151.3 L439.6,151.4 L440.2,151.6 L440.7,151.8 L441.3,152.0 L441.8,152.3 L442.4,152.5 L442.9,152.8 L443.5,153.0 L444.0,153.2 L444.5,153.5 L445.1,153.6 L445.6,153.8 L446.1,154.1 L446.6,154.4 L447.1,154.5 L447.6,154.6 L448.1,154.7 L448.6,154.9 L449.0,155.1 L449.5,155.0 L449.9,155.1 L450.4,155.1 L450.8,155.1 L451.4,155.6 L452.0,155.5 L452.6,155.4 L453.2,155.5 L453.7,155.4 L454.3,155.5 L454.8,155.4 L455.4,155.1 L455.9,155.0 L456.4,154.8 L456.9,154.7 L457.4,154.5 L457.9,154.4 L458.4,154.2 L458.9,154.0 L459.4,153.8 L459.8,153.8 L460.3,153.6 L460.8,153.4 L461.2,153.0 L461.7,152.7 L462.2,152.6 L462.6,152.5 L463.1,152.5 L463.6,152.2 L464.0,152.0 L464.5,151.8 L465.0,151.7 L465.5,151.3 L465.9,151.2 L466.4,150.7 L466.9,150.9 L467.4,150.8 L467.9,150.3 L468.5,150.2 L469.0,150.3 L469.5,150.2 L469.9,150.2 L470.4,150.1 L470.8,150.2 L471.3,150.2 L471.7,149.8 L472.2,149.8 L472.6,149.8 L473.0,150.1 L473.5,149.9 L473.9,150.1 L474.4,149.8 L474.8,150.1 L475.2,149.9 L475.7,150.1 L476.1,149.7 L476.5,149.8 L477.0,150.0 L477.4,149.8 L477.9,149.8 L478.3,150.1 L478.8,149.8 L479.3,149.8 L479.8,150.1 L480.2,149.9 L480.7,150.1 L481.2,150.2 L481.7,150.0 L482.3,150.1 L482.8,149.8 L483.3,149.8 L483.9,150.0 L484.5,149.9 L485.0,150.0 L485.6,149.8 L486.2,149.6 L486.9,149.4 L487.5,149.3 L488.1,149.3 L488.8,149.3 L489.2,149.0 L489.6,149.1 L490.0,148.9 L490.4,149.0 L490.9,148.7 L491.3,148.9 L491.8,148.7 L492.2,148.7 L492.7,148.5 L493.1,148.3 L493.6,148.0 L494.0,148.3 L494.5,148.0 L495.0,148.0 L495.5,147.6 L496.0,147.5 L496.5,147.3 L497.0,147.1 L497.5,147.1 L498.0,147.2 L498.5,146.8 L499.0,146.8 L499.5,146.7 L500.1,146.7 L500.6,146.1 L501.1,146.2 L501.7,146.2 L502.2,146.0 L502.7,145.9 L503.3,145.8 L503.8,145.3 L504.3,145.3 L504.9,145.2 L505.4,145.1 L506.0,144.9 L506.5,144.6 L507.0,144.5 L507.6,144.6 L508.1,144.3 L508.7,143.8 L509.2,143.8 L509.7,143.8 L510.3,143.7 L510.8,143.6 L511.4,143.6 L511.9,143.3 L512.4,143.3 L512.9,143.3 L513.5,143.1 L514.0,142.4 L514.5,142.3 L515.0,142.8 L515.5,142.4 L516.1,142.5 L516.6,142.2 L517.1,141.9 L517.6,142.1 L518.1,141.9 L518.5,142.0 L519.0,141.7 L519.5,141.9 L520.0,141.7 L520.4,141.5 L520.9,141.6 L521.4,141.3 L521.8,141.1 L522.3,141.3 L522.7,140.9 L523.1,141.4 L523.7,141.0 L524.3,140.9 L524.9,140.7 L525.5,140.9 L526.1,141.2 L526.6,140.9 L527.2,141.0 L527.8,141.2 L528.3,141.0 L528.9,141.6 L529.5,141.6 L530.0,141.5 L530.6,140.9 L531.1,141.7 L531.7,141.6 L532.2,141.2 L532.7,141.1 L533.2,141.6 L533.8,141.6 L534.3,141.3 L534.8,142.0 L535.3,142.3 L535.8,142.2 L536.3,141.9 L536.8,142.4 L537.3,142.2 L537.8,142.8 L538.3,142.2 L538.8,142.2 L539.3,142.4 L539.7,143.2 L540.2,142.5 L540.7,142.8 L541.1,143.6 L541.6,143.5 L542.0,143.9 L542.5,143.9 L542.9,143.6 L543.4,144.5 L543.8,144.0 L544.2,144.0 L544.7,145.0 L545.1,145.1 L545.5,144.5 L545.9,144.7 L546.3,145.4 L546.7,144.9 L547.1,145.4 L547.5,146.3 L548.2,145.8 L548.8,146.8 L549.5,147.0 L550.1,146.8 L550.7,148.2 L551.3,147.7 L551.9,148.7 L552.5,148.9 L553.1,149.7 L553.6,149.9 L554.1,150.8 L554.7,150.9 L555.2,151.6 L555.7,151.9 L556.2,153.2 L556.6,152.8 L557.1,154.0 L557.5,153.7 L558.0,154.7 L558.4,155.0 L558.8,155.8 L559.3,156.7 L559.7,156.1 L560.1,156.9 L560.4,157.0 L560.8,157.8 L561.2,158.6 L561.6,159.0 L562.4,159.4 L563.1,160.2 L563.7,161.2 L564.3,162.8 L564.8,163.5 L565.3,164.2 L565.7,165.4 L566.2,165.9 L566.6,166.3 L567.0,167.3 L567.4,167.8 L567.8,167.9 L568.4,168.7 L568.8,170.1 L569.2,170.2 L569.5,172.1 L570.0,172.6 L570.6,172.6 L571.5,171.6 L571.8,172.3 L572.2,171.3 L572.7,171.7 L573.1,170.6 L573.6,170.8 L574.1,170.9 L574.6,169.3 L575.1,168.6 L575.6,168.3 L576.2,168.6 L576.7,167.8 L577.3,167.9 L577.9,166.4 L578.4,166.7 L579.0,165.9 L579.6,165.3 L580.2,164.3 L580.7,164.7 L581.3,164.4 L581.8,163.1 L582.3,164.4 L582.8,164.3 L583.2,163.5 L583.7,163.8 L584.1,161.9 L584.6,162.5 L585.0,161.6 L585.5,163.0 L585.9,162.0 L586.4,161.1 L586.8,162.6 L587.3,160.8 L587.8,160.3 L588.3,160.4 L588.8,161.7 L589.3,160.8 L589.9,160.6 L590.5,160.5 L591.0,159.6 L591.7,160.6 L592.3,160.7 L593.0,158.9 L593.4,159.7 L593.8,159.3 L594.3,159.5 L594.7,159.3 L595.2,160.4 L595.7,160.3 L596.3,160.1 L596.8,159.3 L597.3,160.2 L597.9,158.2 L598.5,159.8 L599.0,158.1 L599.6,158.4 L600.2,159.5 L600.8,159.2 L601.4,158.3 L602.0,157.3 L602.6,158.8 L603.2,159.1 L603.8,159.1 L604.3,157.5 L604.9,159.1 L605.5,159.3 L606.0,157.6 L606.6,157.3 L607.1,158.8 L607.6,157.9 L608.1,159.2 L608.6,158.0 L609.1,159.0 L609.5,157.4 L610.0,157.9 L610.4,157.4 L610.7,156.4 L611.1,157.7 L611.4,158.2 L611.7,158.6 L612.0,157.4" stroke="#b4ac78" stroke-width="0.95" opacity="1"/>
<path d="M364.0,171.0 L364.3,171.3 L364.7,171.7 L365.1,172.1 L365.6,172.6 L366.1,173.1 L366.7,173.6 L367.3,174.1 L367.9,174.5 L368.4,174.8 L369.0,175.1 L369.5,175.2 L370.0,175.3 L370.6,175.3 L371.1,175.3 L371.7,175.2 L372.2,175.1 L372.8,174.9 L373.3,174.7 L373.8,174.4 L374.3,174.1 L374.9,173.6 L375.4,173.1 L375.9,172.5 L376.5,171.9 L377.0,171.2 L377.5,170.4 L377.9,169.6 L378.4,168.8 L378.9,167.9 L379.5,166.6 L380.0,165.2 L380.6,163.6 L381.1,162.0 L381.6,160.4 L382.1,159.1 L382.6,158.0 L383.2,156.9 L383.7,156.1 L384.2,155.6 L384.8,155.4 L385.5,155.2 L385.9,155.3 L386.4,155.4 L386.9,155.6 L387.5,155.8 L388.1,156.1 L388.7,156.4 L389.2,156.7 L389.8,157.0 L390.3,157.3 L390.9,157.6 L391.4,157.9 L391.9,158.2 L392.5,158.5 L393.0,158.9 L393.5,159.2 L394.0,159.5 L394.4,159.7 L394.9,159.8 L395.4,159.9 L396.0,159.8 L396.5,159.7 L397.0,159.5 L397.5,159.2 L398.1,158.9 L398.6,158.5 L399.1,158.0 L399.6,157.6 L400.1,157.0 L400.7,156.3 L401.2,155.6 L401.8,154.8 L402.3,154.0 L402.8,153.3 L403.3,152.6 L403.7,152.0 L404.3,151.0 L404.8,150.3 L405.2,149.7 L405.7,149.2 L406.2,148.9 L406.6,148.6 L407.1,148.5 L407.6,148.3 L408.2,148.3 L408.6,148.2 L409.0,148.1 L409.3,147.9 L409.7,147.8 L410.2,147.8 L410.7,147.9 L411.5,148.2 L412.4,148.6 L412.7,148.8 L413.0,149.0 L413.4,149.3 L413.8,149.6 L414.1,149.8 L414.5,150.2 L414.9,150.5 L415.3,150.8 L415.7,151.2 L416.2,151.5 L416.6,151.9 L417.1,152.3 L417.6,152.7 L418.1,153.3 L418.6,153.4 L419.1,153.8 L419.7,154.4 L420.3,154.9 L420.9,155.4 L421.5,155.9 L422.2,156.2 L422.9,156.7 L423.6,156.8 L424.3,157.5 L424.7,157.7 L425.1,157.6 L425.5,157.8 L425.9,158.4 L426.3,158.5 L426.8,158.5 L427.2,159.0 L427.7,159.1 L428.1,159.4 L428.6,159.6 L429.1,160.2 L429.5,160.1 L430.0,160.4 L430.5,160.8 L431.0,161.1 L431.5,161.2 L432.0,161.4 L432.6,161.7 L433.1,162.3 L433.6,162.3 L434.1,162.7 L434.7,162.7 L435.2,163.0 L435.7,163.5 L436.3,163.6 L436.8,163.9 L437.4,164.5 L437.9,164.6 L438.5,164.6 L439.0,165.2 L439.5,165.3 L440.1,165.5 L440.6,165.8 L441.2,165.9 L441.7,166.4 L442.2,166.4 L442.8,166.6 L443.3,167.1 L443.8,166.9 L444.3,167.1 L444.8,167.2 L445.4,167.7 L445.9,167.7 L446.4,168.0 L446.8,167.9 L447.3,168.0 L447.8,168.0 L448.3,168.5 L448.7,168.5 L449.3,168.7 L449.8,168.4 L450.4,168.5 L450.9,168.8 L451.5,168.6 L452.0,168.7 L452.5,168.7 L453.0,168.5 L453.6,168.5 L454.1,168.6 L454.6,168.6 L455.1,168.5 L455.6,168.5 L456.1,168.5 L456.6,168.4 L457.1,168.1 L457.6,167.8 L458.1,167.9 L458.6,167.8 L459.1,167.9 L459.6,167.4 L460.1,167.5 L460.6,167.4 L461.1,167.0 L461.6,166.8 L462.1,167.0 L462.6,166.9 L463.1,166.7 L463.6,166.2 L464.0,166.3 L464.5,166.3 L465.0,165.9 L465.5,165.8 L466.0,165.9 L466.5,165.8 L467.0,165.5 L467.5,165.1 L468.0,165.2 L468.5,164.8 L469.0,165.0 L469.5,164.9 L470.0,164.9 L470.5,164.6 L471.0,164.7 L471.6,164.2 L472.1,164.3 L472.6,164.4 L473.2,164.1 L473.7,164.0 L474.2,163.8 L474.8,163.8 L475.3,163.9 L475.9,163.6 L476.4,163.4 L477.0,163.6 L477.5,163.1 L478.0,163.1 L478.6,163.2 L479.1,163.1 L479.6,162.9 L480.2,162.6 L480.7,162.5 L481.2,162.6 L481.7,162.3 L482.2,162.2 L482.7,162.2 L483.2,161.9 L483.7,161.7 L484.2,161.6 L484.7,161.7 L485.1,161.6 L485.6,161.1 L486.0,160.8 L486.5,160.9 L486.9,160.6 L487.3,160.6 L487.7,160.6 L488.1,160.2 L488.5,160.2 L488.8,159.7 L489.6,159.3 L490.4,159.0 L491.0,158.3 L491.6,157.4 L492.1,157.0 L492.5,156.1 L492.9,155.5 L493.3,154.4 L493.7,153.6 L494.1,153.0 L494.5,152.3 L494.9,152.0 L495.3,151.2 L495.9,150.6 L496.4,150.4 L497.1,150.4 L497.5,150.3 L497.9,150.0 L498.4,150.1 L498.8,150.3 L499.3,150.4 L499.7,150.6 L500.2,150.4 L500.7,150.6 L501.2,151.0 L501.8,151.2 L502.3,151.0 L502.8,151.3 L503.3,152.0 L503.9,152.1 L504.4,152.0 L505.0,152.5 L505.5,152.5 L506.0,152.9 L506.6,153.2 L507.1,153.1 L507.6,153.7 L508.2,153.5 L508.7,153.7 L509.2,154.3 L509.7,153.9 L510.2,154.0 L510.7,154.6 L511.1,154.3 L511.7,154.3 L512.2,154.4 L512.7,154.0 L513.2,153.7 L513.7,153.5 L514.2,153.3 L514.7,153.4 L515.2,152.9 L515.7,152.5 L516.1,152.6 L516.6,152.0 L517.1,151.9 L517.6,151.3 L518.1,151.4 L518.5,151.0 L519.0,150.9 L519.5,150.9 L520.0,150.5 L520.5,150.1 L521.0,150.1 L521.5,149.8 L522.0,149.9 L522.6,150.5 L523.1,150.3 L523.6,150.5 L524.0,151.0 L524.5,150.4 L525.0,150.9 L525.4,151.4 L525.9,151.4 L526.4,151.6 L526.9,151.9 L527.4,152.1 L527.8,152.7 L528.3,153.1 L528.8,153.4 L529.3,154.1 L529.8,154.7 L530.3,154.5 L530.8,155.0 L531.3,156.0 L531.8,156.2 L532.3,156.7 L532.9,157.3 L533.4,157.2 L533.9,157.9 L534.4,158.5 L534.9,158.5 L535.5,158.9 L536.0,159.8 L536.5,160.0 L537.1,160.7 L537.6,161.1 L538.1,161.5 L538.5,161.8 L539.0,162.3 L539.5,162.9 L540.0,162.4 L540.5,163.2 L541.0,163.8 L541.5,163.9 L542.0,163.9 L542.5,165.1 L543.0,164.7 L543.5,165.7 L544.0,166.4 L544.5,165.8 L545.0,167.0 L545.5,166.7 L546.0,168.0 L546.6,168.4 L547.1,168.2 L547.6,169.2 L548.1,168.9 L548.6,169.7 L549.1,169.5 L549.6,170.5 L550.1,170.7 L550.6,171.5 L551.1,171.8 L551.6,172.0 L552.1,172.7 L552.6,172.8 L553.1,173.5 L553.6,173.6 L554.1,174.5 L554.6,174.7 L555.1,175.1 L555.7,175.4 L556.2,175.2 L556.7,175.7 L557.2,176.9 L557.6,177.1 L558.1,177.5 L558.6,177.9 L559.1,178.7 L559.6,179.8 L560.1,179.7 L560.6,180.6 L561.1,181.4 L561.6,181.9 L562.0,181.6 L562.5,182.7 L563.0,183.1 L563.5,183.4 L564.0,184.0 L564.5,184.1 L565.0,184.9 L565.5,185.3 L566.0,185.0 L566.5,186.1 L567.0,185.3 L567.5,185.4 L568.1,186.8 L568.6,186.3 L569.1,186.1 L569.7,187.1 L570.1,186.1 L570.6,187.0 L571.0,187.5 L571.5,187.4 L572.0,187.0 L572.4,187.0 L572.9,186.3 L573.4,186.3 L573.8,185.8 L574.3,186.0 L574.8,186.2 L575.2,186.5 L575.7,185.0 L576.2,185.7 L576.6,184.4 L577.1,185.6 L577.6,185.0 L578.1,183.6 L578.6,183.6 L579.0,184.5 L579.5,183.1 L580.0,182.6 L580.5,182.5 L581.0,182.1 L581.6,182.7 L582.1,182.1 L582.6,181.1 L583.1,181.1 L583.7,182.0 L584.2,181.4 L584.8,180.8 L585.3,180.9 L585.9,180.3 L586.4,180.4 L587.0,178.5 L587.6,179.6 L588.0,177.9 L588.5,178.1 L589.0,178.9 L589.4,179.0 L589.9,177.3 L590.4,178.2 L591.0,177.3 L591.5,177.0 L592.0,177.2 L592.6,176.6 L593.1,176.5 L593.7,176.4 L594.2,177.1 L594.8,175.4 L595.4,175.3 L596.0,176.6 L596.5,175.5 L597.1,175.8 L597.7,174.9 L598.3,175.1 L598.9,175.0 L599.5,175.0 L600.0,173.3 L600.6,174.0 L601.2,174.6 L601.8,173.1 L602.3,171.8 L602.9,173.0 L603.5,171.4 L604.0,171.9 L604.5,171.5 L605.1,172.6 L605.6,172.7 L606.1,170.9 L606.6,172.0 L607.1,170.7 L607.6,172.2 L608.0,169.5 L608.5,170.7 L608.9,169.0 L609.3,169.2 L609.7,168.9 L610.1,168.5 L610.5,170.9 L610.8,168.8 L611.1,170.2 L611.4,167.9 L611.7,168.0 L612.0,169.0" stroke="#5e6e34" stroke-width="0.95" opacity="1"/>
<path d="M364.0,180.1 L364.3,180.5 L364.7,180.9 L365.1,181.5 L365.6,182.1 L366.1,182.7 L366.7,183.4 L367.3,184.0 L367.9,184.5 L368.4,184.9 L369.0,185.2 L369.5,185.3 L370.0,185.4 L370.6,185.5 L371.1,185.4 L371.7,185.4 L372.2,185.2 L372.8,185.0 L373.3,184.7 L373.8,184.3 L374.3,183.9 L374.9,183.4 L375.4,182.7 L375.9,182.0 L376.4,181.1 L376.9,180.3 L377.4,179.3 L377.9,178.3 L378.4,177.2 L378.9,176.1 L379.4,174.8 L379.9,173.4 L380.5,171.9 L381.0,170.3 L381.5,168.7 L382.0,167.2 L382.5,165.7 L383.0,164.5 L383.4,163.4 L384.1,162.1 L384.6,161.1 L385.1,160.5 L385.6,160.1 L386.3,159.9 L386.8,159.9 L387.3,159.9 L387.8,160.1 L388.4,160.3 L389.0,160.6 L389.5,160.8 L390.1,161.1 L390.7,161.4 L391.2,161.7 L391.7,161.9 L392.3,162.2 L392.9,162.6 L393.4,163.0 L393.9,163.4 L394.4,163.7 L394.9,163.9 L395.4,163.9 L395.9,163.9 L396.4,163.7 L397.0,163.5 L397.5,163.2 L398.0,162.9 L398.6,162.5 L399.1,162.0 L399.6,161.5 L400.1,160.9 L400.7,160.2 L401.2,159.4 L401.8,158.6 L402.3,157.8 L402.8,157.0 L403.3,156.3 L403.7,155.7 L404.3,154.7 L404.8,153.9 L405.2,153.3 L405.7,152.8 L406.2,152.4 L406.6,152.2 L407.1,152.0 L407.6,151.9 L408.2,151.8 L408.6,151.7 L409.0,151.6 L409.3,151.5 L409.7,151.4 L410.2,151.4 L410.7,151.5 L411.5,151.8 L412.4,152.2 L412.7,152.3 L413.0,152.5 L413.4,152.8 L413.8,153.0 L414.1,153.2 L414.5,153.5 L414.9,153.8 L415.3,154.1 L415.7,154.4 L416.2,154.7 L416.6,155.0 L417.1,155.4 L417.6,155.7 L418.1,156.2 L418.6,156.4 L419.1,156.8 L419.7,157.4 L420.3,157.5 L420.9,157.7 L421.5,158.3 L422.2,158.7 L422.9,159.0 L423.6,159.5 L424.3,160.0 L424.7,159.9 L425.1,160.4 L425.5,160.3 L425.9,160.6 L426.3,160.9 L426.8,161.2 L427.2,161.6 L427.7,161.8 L428.1,161.8 L428.6,162.1 L429.1,162.4 L429.5,162.9 L430.0,162.9 L430.5,163.1 L431.0,163.4 L431.5,163.8 L432.0,164.2 L432.6,164.5 L433.1,164.9 L433.6,165.2 L434.1,165.1 L434.7,165.6 L435.2,165.9 L435.7,166.1 L436.3,166.2 L436.8,166.5 L437.4,166.9 L437.9,167.1 L438.5,167.5 L439.0,167.7 L439.5,167.8 L440.1,168.1 L440.6,168.7 L441.2,168.7 L441.7,168.9 L442.2,169.1 L442.8,169.2 L443.3,169.4 L443.8,169.8 L444.3,169.9 L444.8,170.0 L445.4,170.1 L445.9,170.5 L446.4,170.6 L446.8,170.6 L447.3,170.8 L447.8,170.8 L448.3,170.8 L448.7,171.1 L449.3,171.0 L449.8,171.3 L450.4,171.0 L450.9,171.0 L451.5,171.1 L452.0,171.1 L452.5,171.2 L453.0,171.0 L453.6,170.9 L454.1,170.6 L454.6,170.6 L455.1,170.3 L455.6,170.1 L456.1,170.3 L456.6,170.2 L457.1,169.7 L457.6,169.7 L458.1,169.3 L458.6,169.3 L459.1,169.2 L459.6,168.7 L460.1,168.5 L460.6,168.3 L461.1,168.2 L461.6,167.8 L462.1,167.7 L462.6,167.9 L463.1,167.7 L463.6,167.5 L464.0,167.0 L464.5,166.9 L465.0,166.7 L465.5,166.8 L466.0,166.6 L466.5,166.2 L467.0,166.2 L467.5,166.3 L468.0,166.2 L468.5,165.9 L469.0,165.8 L469.5,166.1 L470.0,165.7 L470.5,166.1 L471.0,166.0 L471.5,165.9 L472.0,165.9 L472.5,165.9 L473.0,166.3 L473.5,166.3 L474.0,166.4 L474.5,166.6 L475.0,166.4 L475.5,166.7 L476.0,166.7 L476.5,166.7 L477.0,166.8 L477.5,167.0 L478.0,167.0 L478.5,167.2 L479.0,167.5 L479.5,167.6 L480.0,167.4 L480.5,167.8 L481.0,167.6 L481.5,168.1 L482.0,168.1 L482.5,168.0 L483.0,168.2 L483.5,168.0 L484.0,168.2 L484.5,168.1 L485.0,168.2 L485.4,168.2 L485.9,168.5 L486.4,168.4 L486.9,168.4 L487.4,168.3 L487.9,168.3 L488.3,168.3 L488.8,168.0 L489.3,167.6 L489.9,167.6 L490.4,167.4 L490.9,167.1 L491.4,167.0 L492.0,166.8 L492.5,166.5 L493.0,166.3 L493.5,166.2 L494.0,165.9 L494.6,165.2 L495.1,165.1 L495.6,164.6 L496.1,164.6 L496.6,164.0 L497.1,163.5 L497.6,163.5 L498.1,162.7 L498.6,162.6 L499.2,162.2 L499.7,161.7 L500.2,161.4 L500.7,161.1 L501.2,160.5 L501.7,160.4 L502.1,160.2 L502.6,159.9 L503.1,159.0 L503.6,159.0 L504.1,158.7 L504.6,158.2 L505.1,157.9 L505.6,157.7 L506.0,157.2 L506.5,157.1 L507.0,157.1 L507.5,156.5 L508.1,156.2 L508.6,155.9 L509.1,155.6 L509.7,155.8 L510.2,155.4 L510.7,154.6 L511.2,154.7 L511.7,154.0 L512.2,153.7 L512.8,153.5 L513.3,153.3 L513.8,153.5 L514.3,152.7 L514.8,152.7 L515.3,152.2 L515.8,151.9 L516.3,152.3 L516.8,151.9 L517.3,151.7 L517.8,151.7 L518.3,150.9 L518.8,151.0 L519.3,150.9 L519.7,150.7 L520.2,150.7 L520.7,151.1 L521.2,150.6 L521.7,150.5 L522.2,150.5 L522.6,150.5 L523.1,151.0 L523.6,150.8 L524.2,150.8 L524.7,151.3 L525.2,151.0 L525.7,151.8 L526.2,151.9 L526.7,152.3 L527.2,152.2 L527.7,152.6 L528.2,153.0 L528.6,153.4 L529.1,153.9 L529.6,154.2 L530.1,155.0 L530.6,155.7 L531.1,155.8 L531.5,155.8 L532.0,157.1 L532.5,157.1 L533.0,158.0 L533.5,158.6 L534.0,158.4 L534.5,159.0 L535.0,159.8 L535.5,160.0 L536.0,160.5 L536.5,161.0 L537.1,161.3 L537.6,161.6 L538.1,162.0 L538.5,162.6 L539.0,162.7 L539.5,163.0 L540.0,163.7 L540.5,164.6 L541.0,165.1 L541.5,165.0 L542.0,165.3 L542.5,165.5 L543.0,166.0 L543.5,167.0 L544.0,167.8 L544.5,167.6 L545.0,168.2 L545.5,168.5 L546.0,169.5 L546.6,169.5 L547.1,169.9 L547.6,171.0 L548.1,171.4 L548.6,171.4 L549.1,171.6 L549.6,171.9 L550.1,173.1 L550.6,172.6 L551.1,173.9 L551.6,173.4 L552.1,174.7 L552.6,174.7 L553.1,174.8 L553.6,176.0 L554.1,176.2 L554.6,176.0 L555.1,176.7 L555.7,177.1 L556.2,178.4 L556.7,177.9 L557.2,179.0 L557.6,179.8 L558.1,179.5 L558.6,180.5 L559.1,180.6 L559.6,181.0 L560.1,182.6 L560.6,182.8 L561.1,182.8 L561.6,184.0 L562.0,184.4 L562.5,184.2 L563.0,184.4 L563.5,185.7 L564.0,186.2 L564.5,185.7 L565.0,186.6 L565.5,187.0 L566.0,187.1 L566.5,186.8 L567.0,187.6 L567.5,188.2 L568.1,188.4 L568.6,187.9 L569.1,188.3 L569.7,188.6 L570.1,189.2 L570.6,188.4 L571.0,189.4 L571.5,189.0 L572.0,189.3 L572.4,189.2 L572.9,189.3 L573.4,189.1 L573.8,188.0 L574.3,189.2 L574.8,188.4 L575.2,188.8 L575.7,188.7 L576.2,188.0 L576.6,187.8 L577.1,186.6 L577.6,187.3 L578.1,186.1 L578.6,185.7 L579.0,186.4 L579.5,186.2 L580.0,185.2 L580.5,184.8 L581.0,184.4 L581.6,185.6 L582.1,185.1 L582.6,184.4 L583.1,184.2 L583.7,184.3 L584.2,184.4 L584.8,183.6 L585.3,182.4 L585.9,183.1 L586.4,183.0 L587.0,181.5 L587.6,183.0 L588.0,182.4 L588.5,182.5 L589.0,182.0 L589.4,180.5 L589.9,181.6 L590.4,181.3 L591.0,181.4 L591.5,180.7 L592.0,181.4 L592.6,180.3 L593.1,179.1 L593.7,178.7 L594.2,179.8 L594.8,180.2 L595.4,180.1 L596.0,179.0 L596.5,179.0 L597.1,177.6 L597.7,178.7 L598.3,178.0 L598.9,177.9 L599.5,177.4 L600.0,176.7 L600.6,175.9 L601.2,175.5 L601.8,176.2 L602.3,174.8 L602.9,176.3 L603.5,175.0 L604.0,175.2 L604.5,174.1 L605.1,174.7 L605.6,173.8 L606.1,173.4 L606.6,175.2 L607.1,173.5 L607.6,172.8 L608.0,173.3 L608.5,173.4 L608.9,174.3 L609.3,172.5 L609.7,173.7 L610.1,172.2 L610.5,174.0 L610.8,172.1 L611.1,172.2 L611.4,171.3 L611.7,172.6 L612.0,172.0" stroke="#6a7a3c" stroke-width="0.95" opacity="1"/>
<path d="M364.0,182.1 L364.3,182.4 L364.7,182.8 L365.1,183.2 L365.6,183.7 L366.1,184.2 L366.7,184.7 L367.3,185.2 L367.9,185.6 L368.4,186.0 L369.0,186.2 L369.5,186.3 L370.0,186.4 L370.6,186.4 L371.1,186.4 L371.7,186.3 L372.2,186.2 L372.8,186.1 L373.3,185.8 L373.8,185.6 L374.3,185.3 L374.9,184.9 L375.4,184.4 L376.0,183.9 L376.5,183.3 L377.0,182.6 L377.5,182.0 L378.0,181.2 L378.5,180.4 L378.9,179.6 L379.5,177.9 L380.0,175.9 L380.4,173.9 L380.9,172.0 L381.4,170.5 L381.9,169.5 L382.4,168.9 L382.9,168.4 L383.5,168.2 L384.3,168.0 L384.7,167.9 L385.1,168.0 L385.6,168.0 L386.0,168.1 L386.5,168.3 L387.1,168.4 L387.6,168.6 L388.2,168.7 L388.9,168.9 L389.6,169.0 L390.0,169.1 L390.5,169.1 L391.0,169.2 L391.5,169.3 L392.0,169.3 L392.5,169.4 L393.1,169.5 L393.7,169.5 L394.2,169.6 L394.8,169.7 L395.4,169.8 L395.9,169.8 L396.5,169.9 L397.0,169.9 L397.5,170.0 L398.0,170.0 L398.4,170.0 L398.8,170.0 L399.1,170.0 L400.2,169.9 L400.8,169.7 L401.3,169.4 L401.6,169.1 L402.0,168.6 L402.7,167.6 L403.1,166.3 L403.7,165.3 L404.2,164.7 L404.7,164.3 L405.2,163.9 L405.7,163.6 L406.2,163.4 L406.6,163.2 L407.1,163.1 L407.6,163.1 L408.2,163.0 L408.6,163.0 L409.0,162.9 L409.3,162.8 L409.7,162.7 L410.2,162.6 L410.7,162.7 L411.5,162.9 L412.4,163.2 L412.7,163.4 L413.0,163.6 L413.4,163.7 L413.8,163.9 L414.1,164.1 L414.5,164.4 L414.9,164.6 L415.3,164.8 L415.7,165.1 L416.2,165.4 L416.6,165.7 L417.1,165.9 L417.6,166.2 L418.1,166.3 L418.6,166.9 L419.1,167.0 L419.7,167.6 L420.3,167.9 L420.9,168.3 L421.5,168.5 L422.2,169.1 L422.9,169.3 L423.6,169.7 L424.3,170.2 L424.7,170.1 L425.1,170.2 L425.5,170.8 L425.9,170.8 L426.3,171.0 L426.8,171.3 L427.2,171.5 L427.7,171.7 L428.1,172.1 L428.6,172.3 L429.1,172.5 L429.5,172.5 L430.0,172.8 L430.5,173.2 L431.0,173.6 L431.5,173.7 L432.0,173.9 L432.6,174.2 L433.1,174.8 L433.6,175.0 L434.1,175.4 L434.7,175.6 L435.2,175.7 L435.7,176.1 L436.3,176.5 L436.8,176.8 L437.4,177.1 L437.9,177.1 L438.5,177.3 L439.0,177.5 L439.5,178.2 L440.1,178.3 L440.6,178.6 L441.2,178.7 L441.7,179.1 L442.2,179.2 L442.8,179.4 L443.3,179.5 L443.8,179.8 L444.3,180.0 L444.8,180.3 L445.4,180.1 L445.9,180.5 L446.4,180.4 L446.8,180.8 L447.3,181.0 L447.8,180.7 L448.3,181.1 L448.7,181.3 L449.3,181.0 L449.8,181.1 L450.4,181.5 L450.9,181.1 L451.5,181.5 L452.0,181.5 L452.5,181.5 L453.0,181.1 L453.6,181.2 L454.1,181.2 L454.6,181.0 L455.1,181.1 L455.6,181.1 L456.1,181.0 L456.6,180.8 L457.1,180.6 L457.6,180.7 L458.1,180.6 L458.6,180.3 L459.1,180.3 L459.6,180.1 L460.1,179.9 L460.6,179.8 L461.1,179.5 L461.6,179.1 L462.1,179.0 L462.6,179.2 L463.1,179.0 L463.6,178.7 L464.0,178.5 L464.5,178.3 L465.0,178.1 L465.5,177.9 L466.0,177.8 L466.5,177.8 L467.0,177.7 L467.5,177.2 L468.0,177.3 L468.5,177.0 L469.0,176.9 L469.5,176.8 L470.0,176.8 L470.5,176.7 L471.0,176.8 L471.5,176.7 L472.0,176.5 L472.5,176.5 L473.0,176.4 L473.5,176.4 L474.0,176.2 L474.5,176.2 L474.9,176.0 L475.4,175.7 L475.9,175.9 L476.4,175.5 L476.9,175.4 L477.4,175.5 L477.9,175.3 L478.4,175.1 L478.9,174.9 L479.4,174.9 L479.9,175.0 L480.4,175.0 L480.9,174.8 L481.4,174.7 L481.9,174.3 L482.4,174.2 L482.8,174.4 L483.3,174.0 L483.8,173.9 L484.3,174.1 L484.8,173.9 L485.3,173.9 L485.8,173.7 L486.3,173.4 L486.8,173.6 L487.3,173.3 L487.8,173.2 L488.3,173.0 L488.8,172.8 L489.3,172.8 L489.8,172.9 L490.3,172.8 L490.8,172.4 L491.3,172.3 L491.9,172.2 L492.4,172.2 L492.9,171.9 L493.4,172.1 L493.9,172.0 L494.4,171.6 L494.9,171.6 L495.4,171.3 L496.0,171.2 L496.5,171.1 L497.0,171.1 L497.5,170.6 L498.0,170.7 L498.5,170.8 L499.0,170.5 L499.6,170.3 L500.1,170.0 L500.6,170.0 L501.1,169.7 L501.6,169.9 L502.1,170.0 L502.6,169.7 L503.1,169.3 L503.6,169.4 L504.1,169.2 L504.6,169.1 L505.1,169.0 L505.6,169.2 L506.1,169.4 L506.6,169.0 L507.1,169.3 L507.6,169.1 L508.1,169.2 L508.6,169.1 L509.1,169.0 L509.6,168.9 L510.1,168.8 L510.6,168.9 L511.2,168.9 L511.7,169.4 L512.2,169.2 L512.7,169.4 L513.2,169.5 L513.7,169.8 L514.2,169.7 L514.7,169.5 L515.2,169.6 L515.7,169.8 L516.2,170.5 L516.7,170.1 L517.2,170.5 L517.7,170.7 L518.2,170.8 L518.7,171.1 L519.1,171.3 L519.6,171.0 L520.1,171.4 L520.6,171.7 L521.1,171.8 L521.6,172.3 L522.1,172.5 L522.6,172.7 L523.1,172.7 L523.6,172.4 L524.1,173.3 L524.6,173.3 L525.2,173.0 L525.7,173.8 L526.2,173.7 L526.7,173.5 L527.3,173.8 L527.7,174.3 L528.2,174.6 L528.7,174.8 L529.2,174.9 L529.7,174.5 L530.2,175.0 L530.7,175.3 L531.1,175.1 L531.6,175.8 L532.1,176.1 L532.6,176.0 L533.1,176.6 L533.6,176.0 L534.1,177.1 L534.6,177.0 L535.1,177.5 L535.6,177.5 L536.1,177.1 L536.6,178.0 L537.1,177.6 L537.6,177.9 L538.1,178.8 L538.7,178.0 L539.2,179.2 L539.7,178.6 L540.2,178.7 L540.7,179.5 L541.2,179.7 L541.7,179.9 L542.3,179.8 L542.8,180.1 L543.3,180.8 L543.8,181.1 L544.3,181.3 L544.9,181.5 L545.4,181.7 L545.9,181.5 L546.4,182.1 L547.0,181.7 L547.5,182.4 L548.0,181.8 L548.5,183.0 L549.0,182.6 L549.5,183.0 L550.0,182.9 L550.5,183.9 L551.0,184.0 L551.5,183.3 L552.0,184.1 L552.5,184.5 L553.0,185.0 L553.5,184.7 L554.0,184.4 L554.6,185.1 L555.1,184.9 L555.6,185.5 L556.1,186.5 L556.6,186.0 L557.2,186.3 L557.7,186.0 L558.2,186.5 L558.7,186.8 L559.2,187.8 L559.8,187.6 L560.3,187.4 L560.8,187.9 L561.3,188.1 L561.8,189.0 L562.3,188.6 L562.9,189.4 L563.4,189.6 L563.9,188.9 L564.4,189.5 L564.9,189.9 L565.4,189.7 L565.9,190.4 L566.4,189.8 L566.8,189.5 L567.3,189.8 L567.8,189.8 L568.3,190.2 L568.7,189.9 L569.2,190.8 L569.7,191.3 L570.2,191.3 L570.7,191.6 L571.3,191.4 L571.8,191.6 L572.3,191.5 L572.8,190.6 L573.3,191.2 L573.8,191.2 L574.3,191.6 L574.8,190.5 L575.2,191.3 L575.7,190.2 L576.2,191.4 L576.6,191.5 L577.1,190.1 L577.6,190.5 L578.0,189.8 L578.5,190.0 L578.9,189.9 L579.4,190.6 L579.9,189.7 L580.3,190.6 L580.8,189.0 L581.3,189.0 L581.8,189.3 L582.3,190.1 L582.8,189.8 L583.3,189.2 L583.8,189.8 L584.3,188.0 L584.8,187.9 L585.3,188.7 L585.9,189.1 L586.4,188.4 L587.0,187.3 L587.6,188.3 L588.0,187.6 L588.5,188.1 L589.0,188.7 L589.4,188.3 L589.9,187.9 L590.4,187.3 L591.0,187.8 L591.5,188.1 L592.0,188.3 L592.6,186.3 L593.1,186.4 L593.7,187.2 L594.2,186.3 L594.8,187.0 L595.4,187.2 L596.0,187.6 L596.5,186.1 L597.1,187.5 L597.7,185.2 L598.3,186.9 L598.9,184.9 L599.5,186.1 L600.0,185.3 L600.6,186.4 L601.2,186.2 L601.8,184.7 L602.3,185.1 L602.9,185.0 L603.5,185.3 L604.0,184.6 L604.5,183.5 L605.1,183.4 L605.6,183.5 L606.1,184.3 L606.6,184.5 L607.1,183.2 L607.6,183.2 L608.0,184.3 L608.5,183.9 L608.9,185.2 L609.3,183.4 L609.7,183.6 L610.1,184.6 L610.5,182.2 L610.8,182.8 L611.1,183.3 L611.4,182.3 L611.7,183.0 L612.0,183.2" stroke="#728442" stroke-width="0.95" opacity="1"/>
<path d="M364.0,179.1 L364.3,179.4 L364.7,179.7 L365.1,180.2 L365.6,180.7 L366.1,181.2 L366.7,181.7 L367.3,182.2 L367.9,182.6 L368.4,182.9 L369.0,183.2 L369.5,183.3 L370.0,183.4 L370.6,183.4 L371.1,183.4 L371.7,183.3 L372.2,183.1 L372.8,183.0 L373.3,182.7 L373.8,182.4 L374.3,182.0 L374.9,181.5 L375.4,180.9 L375.9,180.2 L376.4,179.4 L376.8,178.6 L377.3,177.7 L377.8,176.8 L378.3,175.8 L378.9,174.8 L379.4,173.8 L379.9,172.6 L380.5,171.4 L381.1,170.0 L381.7,168.7 L382.2,167.4 L382.8,166.2 L383.3,165.0 L383.8,164.0 L384.3,163.2 L384.9,161.9 L385.5,161.0 L385.9,160.5 L386.4,160.1 L387.1,159.9 L387.6,159.8 L388.1,159.8 L388.7,159.9 L389.2,160.0 L389.8,160.1 L390.4,160.3 L391.0,160.5 L391.6,160.6 L392.1,160.8 L392.5,160.9 L393.2,161.1 L393.8,161.4 L394.3,161.6 L394.8,161.8 L395.4,161.9 L395.9,161.9 L396.4,161.9 L396.9,161.8 L397.4,161.7 L398.0,161.6 L398.5,161.4 L399.1,161.3 L399.6,161.1 L400.1,160.9 L400.7,160.7 L401.2,160.4 L401.8,160.1 L402.3,159.9 L402.8,159.6 L403.3,159.4 L403.7,159.2 L404.3,158.8 L404.8,158.6 L405.2,158.4 L405.7,158.2 L406.2,158.1 L406.6,158.0 L407.1,157.9 L407.6,157.9 L408.2,157.9 L408.6,157.8 L408.8,157.8 L409.0,157.7 L409.3,157.6 L409.7,157.6 L410.3,157.6 L411.2,157.7 L412.4,158.0 L412.7,158.1 L413.0,158.1 L413.4,158.2 L413.8,158.3 L414.2,158.4 L414.6,158.5 L415.0,158.6 L415.5,158.7 L415.9,158.8 L416.4,158.9 L416.9,159.0 L417.4,159.2 L417.9,159.1 L418.4,159.5 L418.9,159.3 L419.5,159.7 L420.0,159.9 L420.6,159.9 L421.1,160.3 L421.7,160.4 L422.3,160.4 L422.8,160.7 L423.4,160.6 L424.0,160.9 L424.5,161.1 L425.1,161.3 L425.7,161.5 L426.2,161.4 L426.8,161.5 L427.3,161.9 L427.9,161.9 L428.4,162.3 L429.0,162.3 L429.5,162.7 L430.0,162.7 L430.5,163.0 L431.0,162.9 L431.5,163.2 L432.1,163.7 L432.6,163.9 L433.0,164.0 L433.5,164.3 L434.0,164.5 L434.5,164.4 L435.0,164.7 L435.5,165.3 L436.0,165.6 L436.5,165.6 L437.0,165.7 L437.5,165.9 L438.0,166.3 L438.5,166.5 L439.0,166.9 L439.5,167.2 L440.0,167.3 L440.5,167.8 L441.0,167.8 L441.5,168.1 L442.0,168.6 L442.5,168.5 L443.0,169.0 L443.5,168.9 L444.0,169.2 L444.5,169.6 L445.1,169.7 L445.6,169.8 L446.1,170.2 L446.6,170.5 L447.1,170.5 L447.7,170.5 L448.2,171.0 L448.7,170.9 L449.2,171.2 L449.7,171.2 L450.2,171.4 L450.7,171.3 L451.2,171.5 L451.7,171.4 L452.2,171.5 L452.7,172.0 L453.2,171.7 L453.7,171.8 L454.2,172.2 L454.7,172.0 L455.2,172.2 L455.7,172.4 L456.2,172.4 L456.7,172.3 L457.2,172.1 L457.7,172.5 L458.2,172.3 L458.7,172.2 L459.3,172.5 L459.8,172.4 L460.3,172.5 L460.8,172.4 L461.3,172.6 L461.8,172.4 L462.4,172.6 L462.9,172.8 L463.4,172.8 L463.9,172.8 L464.4,172.9 L464.9,172.5 L465.4,172.9 L465.9,172.6 L466.5,172.7 L467.0,172.9 L467.5,173.1 L468.0,173.1 L468.5,172.8 L469.0,173.1 L469.5,173.0 L470.0,173.3 L470.5,173.4 L470.9,173.3 L471.4,173.4 L471.9,173.5 L472.4,173.4 L472.8,173.5 L473.3,173.6 L473.8,173.8 L474.2,173.8 L474.7,173.9 L475.1,173.9 L475.6,174.0 L476.1,174.0 L476.5,173.9 L477.0,174.2 L477.5,174.2 L477.9,174.5 L478.4,174.2 L478.8,174.4 L479.3,174.5 L479.8,174.5 L480.3,174.8 L480.8,174.5 L481.2,175.0 L481.7,174.9 L482.2,174.8 L482.7,174.7 L483.3,174.8 L483.8,174.8 L484.3,175.1 L484.8,175.0 L485.4,175.0 L485.9,175.2 L486.5,175.3 L487.1,175.1 L487.6,175.3 L488.2,175.3 L488.8,175.2 L489.2,174.9 L489.7,175.0 L490.1,174.9 L490.6,175.0 L491.0,175.0 L491.5,174.8 L491.9,175.0 L492.4,175.0 L492.9,175.0 L493.3,175.0 L493.8,175.0 L494.3,174.9 L494.8,174.7 L495.3,174.8 L495.8,174.7 L496.3,174.7 L496.8,174.4 L497.3,174.6 L497.8,174.5 L498.3,174.3 L498.8,174.3 L499.3,174.1 L499.8,174.5 L500.3,174.2 L500.9,174.3 L501.4,173.9 L501.9,174.2 L502.4,173.8 L503.0,173.9 L503.5,173.7 L504.0,173.6 L504.5,173.5 L505.1,173.4 L505.6,173.6 L506.1,173.4 L506.6,173.2 L507.2,173.2 L507.7,173.3 L508.2,173.0 L508.7,173.0 L509.3,173.1 L509.8,173.1 L510.3,173.0 L510.8,172.6 L511.3,173.0 L511.9,172.5 L512.4,172.9 L512.9,172.8 L513.4,172.4 L513.9,172.3 L514.4,172.6 L514.9,172.5 L515.4,172.2 L515.9,172.0 L516.4,172.2 L516.9,172.1 L517.3,172.1 L517.9,171.7 L518.4,171.6 L518.9,171.7 L519.5,171.9 L520.0,171.7 L520.5,171.7 L521.1,171.4 L521.6,171.6 L522.1,171.3 L522.7,171.2 L523.2,171.1 L523.8,170.7 L524.3,171.1 L524.8,171.1 L525.4,171.2 L525.9,171.1 L526.5,170.5 L527.0,170.2 L527.5,170.3 L528.1,170.6 L528.6,170.7 L529.1,170.2 L529.7,170.5 L530.2,170.4 L530.7,169.8 L531.3,170.1 L531.8,169.7 L532.3,169.3 L532.8,169.6 L533.3,169.6 L533.8,169.4 L534.3,168.9 L534.8,169.5 L535.3,168.9 L535.8,169.3 L536.3,168.9 L536.8,169.3 L537.3,169.3 L537.8,169.0 L538.2,168.5 L538.7,168.9 L539.2,168.3 L539.6,168.7 L540.1,168.0 L540.5,167.9 L540.9,168.0 L541.3,168.5 L541.8,168.6 L542.2,168.2 L542.6,168.3 L543.0,168.5 L543.4,167.7 L544.1,167.6 L544.7,167.5 L545.4,167.3 L546.0,167.6 L546.6,167.7 L547.2,167.1 L547.7,167.7 L548.3,167.2 L548.8,167.7 L549.3,166.9 L549.8,167.3 L550.2,166.8 L550.7,167.0 L551.1,167.2 L551.6,167.3 L552.0,167.7 L552.5,167.7 L552.9,167.9 L553.3,167.3 L553.8,167.8 L554.2,168.1 L554.6,167.4 L555.1,167.4 L555.5,168.1 L556.0,168.0 L556.4,167.3 L556.9,167.6 L557.4,167.6 L557.9,168.4 L558.4,168.8 L558.9,168.2 L559.4,168.5 L559.9,168.6 L560.3,169.5 L560.8,169.0 L561.3,168.9 L561.7,169.6 L562.2,169.9 L562.7,170.6 L563.1,170.5 L563.6,171.0 L564.1,171.5 L564.5,170.5 L565.0,171.7 L565.5,172.2 L566.0,171.8 L566.5,172.6 L567.0,172.0 L567.5,173.1 L568.1,173.1 L568.6,173.4 L569.1,174.0 L569.7,173.1 L570.3,173.6 L570.9,173.7 L571.5,173.4 L571.9,174.7 L572.3,173.8 L572.8,174.6 L573.3,173.8 L573.7,173.7 L574.2,174.7 L574.7,174.1 L575.1,174.9 L575.6,175.5 L576.1,175.0 L576.6,174.7 L577.1,174.9 L577.6,175.1 L578.1,175.8 L578.6,174.9 L579.1,174.8 L579.6,175.0 L580.2,175.7 L580.7,174.9 L581.2,174.8 L581.7,175.7 L582.3,175.8 L582.8,175.6 L583.3,175.3 L583.9,174.6 L584.4,175.0 L584.9,176.5 L585.5,176.0 L586.0,175.5 L586.5,174.8 L587.1,175.4 L587.6,175.0 L588.1,176.4 L588.6,176.3 L589.2,176.3 L589.7,176.7 L590.2,175.5 L590.7,175.7 L591.2,175.6 L591.7,175.6 L592.2,175.7 L592.8,177.2 L593.3,176.2 L593.8,176.2 L594.4,177.0 L595.0,177.0 L595.5,175.6 L596.1,177.5 L596.7,177.7 L597.3,175.7 L597.9,175.8 L598.4,177.0 L599.0,177.1 L599.6,176.1 L600.2,176.6 L600.8,177.1 L601.4,177.4 L602.0,176.8 L602.5,177.3 L603.1,177.8 L603.7,176.0 L604.2,177.2 L604.8,177.8 L605.3,176.9 L605.9,178.3 L606.4,178.3 L606.9,177.6 L607.4,178.9 L607.9,177.9 L608.3,178.9 L608.8,177.1 L609.2,177.6 L609.6,176.9 L610.0,178.9 L610.4,179.0 L610.8,177.7 L611.1,177.7 L611.4,178.6 L611.7,179.3 L612.0,178.1" stroke="#7e70ae" stroke-width="0.9" opacity="1"/>
<path d="M364.0,186.2 L364.3,186.8 L364.7,187.6 L365.1,188.7 L365.7,189.8 L366.2,190.9 L366.8,192.0 L367.4,193.0 L368.0,193.8 L368.5,194.3 L369.0,194.6 L369.5,194.8 L369.9,194.9 L370.4,195.0 L370.9,194.9 L371.4,194.7 L371.9,194.4 L372.5,193.9 L373.2,193.2 L373.9,192.3 L374.3,191.7 L374.7,191.0 L375.2,190.2 L375.6,189.3 L376.1,188.3 L376.5,187.3 L377.0,186.2 L377.5,185.0 L378.0,183.9 L378.5,182.7 L379.1,181.6 L379.6,180.4 L380.2,179.4 L380.7,178.3 L381.3,177.4 L381.9,176.5 L382.5,175.7 L383.0,175.0 L383.6,174.5 L384.3,174.1 L384.7,173.9 L385.2,173.7 L385.6,173.7 L386.1,173.7 L386.6,173.7 L387.1,173.8 L387.6,173.9 L388.1,174.1 L388.6,174.3 L389.2,174.6 L389.7,174.9 L390.2,175.2 L390.8,175.5 L391.3,175.8 L391.8,176.2 L392.4,176.5 L392.9,176.8 L393.4,177.2 L394.0,177.5 L394.5,177.8 L395.0,178.1 L395.5,178.3 L396.0,178.6 L396.5,178.8 L397.0,178.9 L397.4,179.0 L397.9,179.1 L398.3,179.1 L398.9,179.0 L399.4,178.9 L400.0,178.7 L400.5,178.5 L400.9,178.2 L401.4,177.8 L401.8,177.4 L402.3,177.0 L402.7,176.6 L403.1,176.2 L403.6,175.8 L404.0,175.3 L404.5,174.9 L404.9,174.5 L405.4,174.2 L405.9,173.9 L406.4,173.6 L407.0,173.3 L407.6,173.2 L408.2,173.0 L408.6,173.0 L409.0,173.0 L409.5,173.0 L409.9,173.0 L410.3,173.0 L410.7,173.1 L411.2,173.1 L411.6,173.2 L412.1,173.3 L412.5,173.4 L413.0,173.5 L413.5,173.6 L413.9,173.7 L414.4,173.8 L414.9,174.0 L415.4,174.1 L415.9,174.3 L416.4,174.4 L416.9,174.5 L417.4,174.7 L417.9,174.8 L418.5,174.9 L419.0,175.1 L419.6,175.2 L420.1,175.3 L420.7,175.4 L421.3,175.7 L421.9,175.8 L422.5,175.8 L423.1,176.0 L423.7,175.9 L424.3,176.0 L424.8,176.1 L425.2,176.2 L425.6,176.3 L426.0,176.2 L426.4,176.1 L426.8,176.4 L427.3,176.3 L427.7,176.4 L428.1,176.3 L428.5,176.5 L429.0,176.6 L429.4,176.4 L429.8,176.5 L430.2,176.4 L430.7,176.4 L431.1,176.5 L431.6,176.4 L432.0,176.5 L432.5,176.7 L432.9,176.7 L433.4,176.6 L433.9,176.6 L434.3,176.8 L434.8,176.5 L435.3,176.6 L435.8,176.7 L436.2,176.7 L436.7,176.8 L437.2,176.7 L437.7,176.8 L438.3,176.7 L438.8,176.6 L439.3,176.8 L439.8,176.8 L440.4,176.8 L440.9,176.7 L441.5,176.9 L442.0,176.9 L442.6,176.8 L443.2,177.0 L443.8,177.0 L444.3,176.8 L444.9,176.9 L445.6,176.9 L446.2,177.0 L446.8,177.1 L447.4,177.0 L448.1,177.1 L448.7,177.1 L449.1,177.2 L449.5,177.3 L450.0,177.1 L450.4,177.1 L450.8,177.1 L451.3,177.1 L451.7,177.3 L452.2,177.3 L452.6,177.3 L453.1,177.3 L453.5,177.3 L454.0,177.2 L454.5,177.5 L455.0,177.4 L455.4,177.3 L455.9,177.4 L456.4,177.5 L456.9,177.6 L457.4,177.6 L457.9,177.5 L458.4,177.5 L458.9,177.7 L459.4,177.7 L460.0,177.7 L460.5,177.8 L461.0,177.6 L461.5,177.8 L462.1,177.8 L462.6,177.6 L463.1,177.7 L463.7,177.9 L464.2,177.7 L464.7,177.8 L465.3,177.9 L465.8,178.0 L466.3,177.9 L466.9,177.9 L467.4,178.0 L468.0,178.1 L468.5,178.0 L469.1,178.1 L469.6,178.0 L470.1,178.1 L470.7,178.2 L471.2,178.1 L471.8,178.3 L472.3,178.3 L472.9,178.3 L473.4,178.4 L473.9,178.5 L474.5,178.3 L475.0,178.4 L475.6,178.5 L476.1,178.5 L476.6,178.6 L477.1,178.4 L477.7,178.6 L478.2,178.7 L478.7,178.6 L479.2,178.7 L479.8,178.7 L480.3,178.8 L480.8,178.7 L481.3,178.8 L481.8,178.8 L482.3,178.8 L482.8,178.9 L483.3,179.0 L483.8,179.0 L484.3,178.9 L484.7,178.8 L485.2,178.9 L485.7,178.8 L486.1,179.1 L486.6,179.1 L487.1,179.0 L487.5,179.1 L487.9,179.1 L488.4,179.0 L488.8,179.2 L489.4,179.0 L490.0,179.3 L490.6,179.2 L491.2,179.2 L491.7,179.2 L492.3,179.2 L492.9,179.3 L493.4,179.4 L493.9,179.3 L494.5,179.2 L495.0,179.5 L495.6,179.5 L496.1,179.3 L496.6,179.6 L497.1,179.6 L497.6,179.5 L498.1,179.5 L498.6,179.4 L499.1,179.5 L499.6,179.4 L500.1,179.7 L500.6,179.7 L501.1,179.7 L501.6,179.5 L502.0,179.4 L502.5,179.7 L503.0,179.8 L503.5,179.8 L503.9,179.8 L504.4,179.5 L504.9,179.5 L505.3,179.6 L505.8,179.9 L506.3,179.9 L506.7,179.6 L507.2,179.7 L507.7,179.7 L508.1,179.7 L508.6,179.7 L509.1,180.1 L509.5,179.7 L510.0,179.9 L510.5,179.7 L511.0,180.0 L511.4,180.0 L511.9,180.1 L512.4,179.8 L512.9,179.9 L513.3,179.8 L513.8,180.0 L514.3,179.9 L514.8,180.1 L515.3,180.3 L515.8,180.3 L516.3,180.3 L516.8,180.3 L517.3,180.0 L517.8,180.0 L518.3,179.9 L518.8,180.0 L519.3,180.3 L519.8,180.4 L520.3,180.3 L520.8,180.3 L521.3,180.5 L521.8,180.1 L522.3,180.2 L522.8,180.4 L523.4,180.3 L523.9,180.3 L524.4,180.3 L524.9,180.3 L525.4,180.3 L525.9,180.2 L526.5,180.6 L527.0,180.7 L527.5,180.7 L528.0,180.5 L528.5,180.5 L529.1,180.3 L529.6,180.6 L530.1,180.4 L530.6,180.4 L531.1,180.7 L531.7,180.8 L532.2,180.6 L532.7,180.7 L533.2,180.9 L533.7,181.0 L534.3,180.5 L534.8,180.5 L535.3,180.6 L535.8,181.0 L536.3,181.1 L536.8,180.8 L537.3,180.9 L537.8,180.6 L538.4,180.9 L538.9,180.8 L539.4,181.2 L539.9,181.3 L540.4,180.8 L540.9,180.9 L541.3,180.7 L541.8,181.1 L542.3,181.0 L542.8,181.0 L543.3,180.8 L543.8,181.0 L544.3,180.8 L544.7,181.3 L545.2,181.0 L545.7,181.2 L546.1,180.9 L546.6,181.2 L547.1,181.4 L547.5,181.5 L548.1,181.1 L548.6,181.4 L549.1,181.0 L549.7,180.9 L550.2,181.3 L550.7,181.0 L551.2,181.1 L551.7,181.2 L552.1,181.6 L552.6,180.9 L553.1,181.4 L553.5,181.6 L554.0,181.0 L554.5,180.9 L554.9,181.0 L555.3,181.2 L555.8,181.4 L556.2,180.9 L556.7,181.3 L557.1,181.1 L557.5,181.1 L558.0,181.4 L558.4,180.9 L558.8,181.4 L559.3,181.2 L559.7,181.6 L560.2,181.6 L560.6,181.3 L561.1,181.6 L561.5,181.2 L562.0,181.6 L562.5,181.5 L563.0,181.0 L563.5,181.0 L564.0,180.9 L564.5,181.1 L565.0,181.5 L565.5,181.4 L566.0,181.0 L566.6,181.2 L567.2,180.9 L567.7,180.8 L568.3,181.3 L568.9,181.5 L569.5,180.8 L570.2,180.9 L570.8,181.1 L571.5,181.0 L571.9,180.9 L572.3,181.1 L572.7,181.3 L573.2,181.2 L573.6,180.6 L574.1,180.6 L574.5,180.6 L575.0,180.5 L575.5,181.0 L576.0,181.1 L576.5,180.5 L577.0,181.5 L577.5,180.5 L578.0,181.4 L578.5,180.6 L579.1,181.3 L579.6,181.0 L580.1,181.3 L580.7,180.8 L581.2,180.8 L581.8,180.2 L582.4,180.8 L582.9,180.3 L583.5,180.1 L584.1,180.0 L584.7,180.8 L585.3,180.0 L585.8,180.9 L586.4,180.6 L587.0,179.9 L587.6,180.3 L588.2,180.8 L588.8,180.5 L589.4,180.6 L590.0,179.7 L590.6,180.0 L591.2,179.5 L591.8,180.0 L592.3,179.4 L592.9,180.6 L593.5,180.2 L594.1,180.6 L594.7,180.1 L595.3,180.0 L595.8,179.4 L596.4,179.8 L597.0,179.7 L597.6,179.8 L598.1,179.2 L598.7,179.3 L599.2,180.1 L599.8,179.8 L600.3,180.0 L600.9,180.5 L601.4,180.1 L601.9,180.0 L602.4,179.0 L603.0,178.8 L603.5,180.2 L603.9,179.8 L604.4,179.2 L604.9,180.2 L605.4,179.6 L605.8,179.6 L606.3,179.1 L606.7,178.6 L607.2,178.8 L607.6,179.8 L608.0,179.9 L608.4,179.4 L608.8,179.3 L609.2,178.9 L609.5,178.8 L609.9,178.7 L610.2,179.7 L610.6,179.5 L610.9,178.7 L611.2,179.1 L611.5,178.4 L611.7,178.8 L612.0,179.1" stroke="#cccccc" stroke-width="0.9" opacity="1"/>
<path d="M364.0,181.1 L364.3,181.5 L364.7,182.1 L365.1,182.7 L365.6,183.5 L366.1,184.2 L366.7,185.0 L367.3,185.7 L367.9,186.3 L368.4,186.9 L369.0,187.2 L369.5,187.4 L370.0,187.5 L370.6,187.6 L371.1,187.6 L371.7,187.5 L372.2,187.3 L372.8,187.1 L373.3,186.8 L373.8,186.5 L374.3,186.1 L374.9,185.7 L375.4,185.1 L375.9,184.5 L376.4,183.8 L376.8,183.1 L377.3,182.3 L377.8,181.4 L378.3,180.5 L378.9,179.6 L379.4,178.6 L379.9,177.6 L380.5,176.4 L381.1,175.2 L381.7,174.0 L382.2,172.8 L382.8,171.7 L383.3,170.6 L383.8,169.7 L384.3,168.9 L384.9,167.8 L385.5,167.0 L385.9,166.5 L386.4,166.2 L387.1,166.0 L387.6,165.9 L388.1,165.9 L388.7,166.0 L389.2,166.1 L389.8,166.2 L390.4,166.4 L391.0,166.5 L391.6,166.7 L392.1,166.9 L392.5,167.0 L393.2,167.2 L393.8,167.6 L394.3,167.8 L394.8,168.0 L395.4,168.0 L395.9,167.9 L396.4,167.7 L396.9,167.4 L397.4,167.1 L398.0,166.8 L398.5,166.4 L399.1,165.9 L399.6,165.4 L400.1,164.7 L400.7,164.0 L401.2,163.1 L401.8,162.2 L402.3,161.3 L402.8,160.5 L403.3,159.7 L403.7,159.0 L404.3,158.0 L404.8,157.1 L405.2,156.5 L405.7,155.9 L406.2,155.5 L406.6,155.2 L407.1,155.1 L407.6,154.9 L408.2,154.8 L408.6,154.8 L408.8,154.6 L409.0,154.5 L409.3,154.4 L409.7,154.4 L410.3,154.5 L411.2,154.8 L412.4,155.2 L412.7,155.4 L413.0,155.5 L413.4,155.7 L413.8,155.8 L414.2,156.0 L414.6,156.2 L415.0,156.4 L415.5,156.6 L415.9,156.8 L416.4,157.0 L416.9,157.2 L417.4,157.5 L417.9,157.9 L418.4,157.8 L418.9,158.1 L419.5,158.7 L420.0,158.7 L420.6,159.1 L421.1,159.1 L421.7,159.4 L422.3,159.9 L422.8,160.0 L423.4,160.3 L424.0,160.7 L424.5,160.9 L425.1,161.2 L425.7,161.5 L426.2,161.5 L426.8,161.9 L427.3,162.5 L427.9,162.7 L428.4,162.7 L429.0,163.0 L429.5,163.4 L430.0,163.6 L430.5,163.9 L431.0,164.4 L431.5,164.5 L432.1,164.9 L432.6,165.2 L433.0,165.3 L433.5,165.9 L434.0,166.2 L434.5,166.3 L435.0,166.5 L435.5,167.1 L436.0,167.2 L436.5,167.5 L437.0,168.2 L437.5,168.2 L438.0,168.9 L438.5,169.1 L439.0,169.6 L439.5,169.9 L440.0,170.0 L440.5,170.2 L441.0,170.9 L441.5,171.1 L442.0,171.3 L442.5,171.6 L443.0,172.1 L443.5,172.1 L444.0,172.6 L444.5,172.5 L445.1,172.8 L445.6,173.0 L446.1,173.1 L446.6,173.6 L447.1,173.8 L447.7,173.8 L448.2,173.8 L448.7,173.9 L449.2,174.0 L449.7,174.2 L450.2,174.3 L450.7,174.2 L451.2,174.3 L451.7,174.2 L452.2,174.3 L452.7,174.4 L453.2,174.3 L453.7,174.5 L454.2,174.4 L454.7,174.2 L455.2,174.2 L455.7,174.4 L456.2,174.3 L456.7,174.1 L457.2,174.0 L457.7,174.0 L458.2,173.9 L458.7,173.5 L459.3,173.7 L459.8,173.6 L460.3,173.2 L460.8,173.4 L461.3,173.2 L461.8,173.2 L462.4,172.8 L462.9,172.6 L463.4,172.8 L463.9,172.5 L464.4,172.5 L464.9,172.1 L465.4,172.1 L465.9,172.0 L466.5,171.6 L467.0,171.6 L467.5,171.4 L468.0,171.1 L468.5,171.3 L469.0,171.0 L469.5,170.7 L470.0,170.8 L470.5,170.4 L471.0,170.3 L471.4,169.9 L471.9,169.9 L472.4,169.6 L472.9,169.5 L473.4,169.4 L473.9,169.2 L474.4,168.9 L474.8,168.6 L475.3,168.4 L475.8,168.2 L476.3,168.0 L476.7,167.7 L477.2,167.3 L477.7,167.1 L478.2,167.1 L478.7,166.8 L479.1,166.3 L479.6,166.2 L480.1,166.0 L480.6,165.6 L481.1,165.6 L481.6,165.1 L482.1,164.7 L482.6,164.7 L483.1,164.5 L483.6,164.0 L484.1,163.8 L484.6,163.7 L485.1,163.5 L485.6,163.4 L486.1,163.1 L486.7,162.6 L487.2,162.6 L487.7,162.2 L488.3,161.9 L488.8,161.8 L489.3,161.8 L489.7,161.8 L490.2,161.2 L490.7,161.4 L491.1,161.3 L491.6,161.0 L492.1,160.9 L492.6,160.7 L493.0,160.6 L493.5,160.5 L494.0,160.3 L494.5,159.8 L495.0,160.0 L495.5,159.7 L496.0,159.4 L496.5,159.3 L497.0,159.0 L497.5,158.8 L498.0,158.8 L498.5,158.7 L499.0,158.4 L499.5,158.4 L500.0,158.4 L500.5,158.1 L501.0,157.9 L501.5,157.9 L502.0,157.7 L502.6,157.6 L503.1,157.6 L503.6,157.0 L504.1,157.1 L504.6,157.0 L505.1,157.1 L505.6,156.9 L506.2,156.9 L506.7,156.4 L507.2,156.4 L507.7,156.4 L508.2,156.2 L508.7,156.3 L509.2,156.1 L509.7,155.8 L510.3,156.3 L510.8,155.9 L511.3,156.0 L511.8,156.1 L512.3,156.1 L512.8,155.8 L513.3,156.1 L513.8,155.6 L514.3,155.9 L514.8,155.9 L515.3,155.9 L515.8,155.9 L516.3,155.9 L516.8,156.0 L517.3,155.9 L517.9,156.1 L518.4,155.7 L518.9,155.9 L519.4,156.1 L519.9,156.2 L520.5,156.2 L521.0,155.8 L521.5,156.1 L522.0,155.9 L522.6,156.0 L523.1,156.2 L523.6,156.4 L524.1,156.7 L524.6,156.6 L525.2,157.1 L525.7,156.9 L526.2,156.8 L526.7,157.0 L527.2,157.1 L527.7,157.1 L528.2,157.3 L528.7,157.4 L529.2,157.5 L529.7,157.8 L530.2,157.8 L530.7,158.4 L531.2,158.0 L531.7,158.5 L532.2,158.2 L532.7,158.9 L533.1,158.6 L533.6,158.9 L534.1,158.9 L534.5,158.7 L535.0,159.0 L535.4,159.0 L535.9,159.4 L536.3,159.3 L536.7,159.4 L537.2,159.6 L537.8,160.5 L538.4,160.9 L538.9,160.9 L539.5,161.0 L540.1,161.6 L540.6,161.1 L541.2,161.9 L541.7,161.8 L542.2,163.0 L542.7,163.5 L543.3,163.3 L543.8,163.3 L544.3,164.2 L544.8,163.8 L545.2,165.1 L545.7,164.6 L546.2,164.9 L546.7,165.6 L547.1,166.1 L547.6,166.5 L548.1,167.3 L548.5,168.0 L549.0,167.6 L549.5,167.9 L549.9,168.8 L550.4,169.1 L550.8,169.9 L551.3,170.3 L551.8,169.8 L552.2,170.7 L552.7,170.7 L553.2,170.8 L553.6,172.2 L554.1,172.6 L554.6,171.9 L555.2,173.2 L555.7,173.7 L556.2,173.7 L556.7,173.9 L557.2,174.6 L557.7,174.7 L558.2,175.0 L558.7,176.7 L559.2,176.4 L559.6,177.4 L560.1,177.3 L560.6,177.8 L561.1,178.0 L561.6,179.1 L562.1,179.9 L562.6,179.6 L563.0,179.8 L563.5,180.6 L564.0,181.2 L564.5,181.7 L565.0,181.9 L565.5,182.2 L566.0,182.7 L566.5,183.6 L567.0,183.6 L567.5,183.9 L568.1,184.4 L568.6,184.1 L569.1,184.3 L569.7,184.1 L570.1,184.8 L570.6,184.6 L571.0,184.3 L571.5,184.6 L572.0,184.7 L572.4,185.0 L572.9,185.7 L573.4,185.7 L573.8,185.1 L574.3,185.0 L574.8,185.6 L575.2,184.7 L575.7,185.4 L576.2,184.9 L576.6,184.8 L577.1,184.6 L577.6,185.0 L578.1,184.7 L578.6,183.3 L579.0,184.1 L579.5,183.5 L580.0,183.9 L580.5,183.9 L581.0,183.6 L581.6,183.8 L582.1,183.4 L582.6,183.2 L583.1,183.2 L583.7,181.8 L584.2,181.4 L584.8,182.3 L585.3,182.4 L585.9,182.2 L586.4,181.4 L587.0,181.7 L587.6,180.4 L588.0,181.6 L588.5,181.1 L589.0,181.8 L589.4,181.6 L589.9,180.2 L590.4,181.4 L591.0,180.7 L591.5,181.3 L592.0,180.7 L592.6,179.0 L593.1,178.9 L593.7,180.4 L594.2,178.8 L594.8,178.4 L595.4,179.3 L596.0,179.2 L596.5,178.1 L597.1,179.6 L597.7,179.5 L598.3,178.4 L598.9,178.4 L599.5,178.3 L600.0,177.0 L600.6,177.3 L601.2,179.0 L601.8,177.0 L602.3,178.2 L602.9,178.4 L603.5,177.7 L604.0,177.0 L604.5,177.4 L605.1,176.9 L605.6,175.7 L606.1,176.9 L606.6,175.3 L607.1,176.4 L607.6,175.2 L608.0,176.1 L608.5,176.2 L608.9,176.5 L609.3,176.1 L609.7,174.5 L610.1,176.1 L610.5,174.6 L610.8,174.7 L611.1,176.6 L611.4,174.9 L611.7,175.7 L612.0,175.1" stroke="#5f5f5a" stroke-width="0.85" opacity="1"/>
<path d="M364.0,183.2 L364.3,183.6 L364.7,184.1 L365.1,184.8 L365.6,185.5 L366.1,186.3 L366.7,187.0 L367.3,187.7 L367.9,188.4 L368.4,188.9 L369.0,189.2 L369.5,189.4 L370.0,189.6 L370.6,189.6 L371.1,189.6 L371.7,189.5 L372.2,189.3 L372.8,189.1 L373.3,188.8 L373.8,188.5 L374.3,188.1 L374.9,187.6 L375.4,187.1 L375.9,186.4 L376.4,185.7 L376.8,184.9 L377.3,184.0 L377.8,183.1 L378.3,182.2 L378.9,181.2 L379.4,180.2 L379.9,179.1 L380.5,177.9 L381.1,176.7 L381.7,175.4 L382.2,174.2 L382.8,173.0 L383.3,171.9 L383.8,170.9 L384.3,170.1 L384.9,168.9 L385.5,168.1 L385.9,167.5 L386.4,167.2 L387.1,167.0 L387.6,166.9 L388.1,166.9 L388.7,167.0 L389.2,167.1 L389.8,167.2 L390.4,167.4 L391.0,167.6 L391.6,167.7 L392.1,167.9 L392.5,168.0 L393.2,168.2 L393.8,168.5 L394.3,168.8 L394.8,169.0 L395.4,169.0 L395.9,168.9 L396.4,168.8 L396.9,168.6 L397.4,168.4 L398.0,168.2 L398.5,167.9 L399.1,167.5 L399.6,167.2 L400.1,166.7 L400.7,166.2 L401.2,165.6 L401.8,165.0 L402.3,164.4 L402.8,163.8 L403.3,163.3 L403.7,162.8 L404.3,162.1 L404.8,161.5 L405.2,161.0 L405.7,160.6 L406.2,160.4 L406.6,160.2 L407.1,160.0 L407.6,160.0 L408.2,159.9 L408.6,159.8 L408.8,159.8 L409.0,159.7 L409.3,159.6 L409.7,159.6 L410.3,159.7 L411.2,159.9 L412.4,160.2 L412.7,160.3 L413.0,160.4 L413.4,160.5 L413.8,160.6 L414.2,160.7 L414.6,160.8 L415.0,160.9 L415.5,161.1 L415.9,161.2 L416.4,161.4 L416.9,161.5 L417.4,161.7 L417.9,161.9 L418.4,162.2 L418.9,162.1 L419.5,162.4 L420.0,162.5 L420.6,162.8 L421.1,162.7 L421.7,163.0 L422.3,163.3 L422.8,163.6 L423.4,163.5 L424.0,163.7 L424.5,164.1 L425.1,164.3 L425.7,164.2 L426.2,164.4 L426.8,164.7 L427.3,165.1 L427.9,165.0 L428.4,165.1 L429.0,165.5 L429.5,165.7 L430.0,165.7 L430.5,165.9 L431.0,166.0 L431.5,166.3 L432.1,166.6 L432.6,166.5 L433.0,166.7 L433.5,166.9 L434.0,167.2 L434.5,167.4 L435.0,167.4 L435.5,167.6 L436.0,168.1 L436.5,168.3 L437.0,168.4 L437.5,168.4 L438.0,168.8 L438.5,169.0 L439.0,169.0 L439.5,169.1 L440.0,169.4 L440.5,169.7 L441.0,169.9 L441.5,170.0 L442.0,170.2 L442.5,170.4 L443.0,170.6 L443.5,170.7 L444.0,170.9 L444.5,171.1 L445.1,171.3 L445.6,171.2 L446.1,171.3 L446.6,171.6 L447.1,171.8 L447.7,171.8 L448.2,172.1 L448.7,172.2 L449.2,172.2 L449.7,172.1 L450.2,172.5 L450.7,172.4 L451.2,172.6 L451.7,172.6 L452.2,172.4 L452.7,172.5 L453.2,172.7 L453.7,172.9 L454.2,172.9 L454.7,172.9 L455.2,172.9 L455.7,173.0 L456.2,173.2 L456.7,172.9 L457.2,172.9 L457.7,172.9 L458.2,173.1 L458.7,173.2 L459.3,173.3 L459.8,173.1 L460.3,173.3 L460.8,173.5 L461.3,173.2 L461.8,173.3 L462.4,173.3 L462.9,173.4 L463.4,173.6 L463.9,173.4 L464.4,173.5 L464.9,173.6 L465.4,173.5 L465.9,173.8 L466.5,173.6 L467.0,173.8 L467.5,174.0 L468.0,173.8 L468.5,173.8 L469.0,173.9 L469.5,174.2 L470.0,174.2 L470.5,174.3 L471.0,174.4 L471.5,174.6 L472.0,174.8 L472.5,174.9 L473.0,175.0 L473.5,175.3 L474.0,175.4 L474.5,175.3 L475.0,175.5 L475.5,175.8 L476.0,175.7 L476.5,176.2 L477.0,176.3 L477.5,176.3 L478.0,176.3 L478.5,176.5 L479.0,176.7 L479.5,176.9 L480.0,177.2 L480.5,177.0 L481.0,177.3 L481.5,177.6 L482.0,177.4 L482.5,177.6 L483.0,177.6 L483.5,177.9 L484.0,178.0 L484.5,178.0 L485.0,178.2 L485.4,178.2 L485.9,178.0 L486.4,178.1 L486.9,178.1 L487.4,178.1 L487.9,178.1 L488.3,178.3 L488.8,178.0 L489.3,178.1 L489.9,177.9 L490.4,177.7 L491.0,177.7 L491.5,177.3 L492.0,177.4 L492.6,177.1 L493.1,176.7 L493.7,176.6 L494.2,176.2 L494.7,175.9 L495.3,175.6 L495.8,175.2 L496.4,174.9 L496.9,174.8 L497.4,174.5 L498.0,174.0 L498.5,173.5 L499.0,173.4 L499.5,172.9 L500.1,172.7 L500.6,172.2 L501.1,172.2 L501.6,171.8 L502.1,171.3 L502.6,170.9 L503.0,170.6 L503.5,170.4 L504.0,170.4 L504.4,170.0 L504.9,170.0 L505.3,169.6 L505.8,169.4 L506.2,169.4 L506.6,169.3 L507.0,168.8 L507.7,168.8 L508.3,168.7 L508.9,168.5 L509.4,168.5 L509.9,168.5 L510.4,168.9 L510.8,168.8 L511.2,169.2 L511.6,169.2 L512.0,169.3 L512.4,169.7 L512.9,169.8 L513.3,169.7 L513.8,169.8 L514.2,170.3 L514.8,170.6 L515.3,170.5 L515.9,170.9 L516.6,170.7 L517.3,171.3 L517.7,171.2 L518.1,170.9 L518.5,171.1 L519.0,171.4 L519.4,171.6 L519.9,171.3 L520.3,171.5 L520.8,171.8 L521.3,171.3 L521.8,171.9 L522.3,171.6 L522.8,171.8 L523.3,171.8 L523.8,172.2 L524.4,171.8 L524.9,171.8 L525.4,172.5 L526.0,172.4 L526.5,172.2 L527.1,172.4 L527.6,172.2 L528.2,172.5 L528.7,172.8 L529.3,172.4 L529.8,172.9 L530.4,172.8 L530.9,173.1 L531.5,173.4 L532.0,173.1 L532.6,173.3 L533.1,173.6 L533.6,173.1 L534.1,173.3 L534.7,173.3 L535.2,173.6 L535.7,173.6 L536.2,174.0 L536.6,173.9 L537.1,173.9 L537.6,174.1 L538.1,174.2 L538.7,174.4 L539.2,174.6 L539.8,174.7 L540.3,174.8 L540.8,174.3 L541.4,175.1 L541.9,175.1 L542.4,175.4 L542.9,175.3 L543.4,175.1 L543.9,175.6 L544.4,175.1 L544.9,175.8 L545.4,176.1 L545.9,175.6 L546.4,176.2 L546.9,176.2 L547.4,176.0 L547.9,176.6 L548.3,176.3 L548.8,177.1 L549.3,176.8 L549.8,177.2 L550.3,176.7 L550.7,177.3 L551.2,177.1 L551.7,177.2 L552.2,177.9 L552.7,177.3 L553.1,177.6 L553.6,178.1 L554.1,178.5 L554.6,177.8 L555.1,178.4 L555.7,179.0 L556.2,178.8 L556.7,179.2 L557.2,179.3 L557.6,179.0 L558.1,179.3 L558.6,179.5 L559.1,179.4 L559.6,180.3 L560.1,179.9 L560.6,180.3 L561.1,180.5 L561.6,180.3 L562.0,180.6 L562.5,181.1 L563.0,181.6 L563.5,181.0 L564.0,181.2 L564.5,181.3 L565.0,181.3 L565.5,181.5 L566.0,182.1 L566.5,182.1 L567.0,182.1 L567.5,182.2 L568.1,182.2 L568.6,183.0 L569.1,182.6 L569.7,182.7 L570.1,182.8 L570.6,182.9 L571.0,183.1 L571.5,182.2 L572.0,182.7 L572.4,182.1 L572.9,182.9 L573.4,182.5 L573.8,182.6 L574.3,182.6 L574.8,182.6 L575.2,183.3 L575.7,182.8 L576.2,182.1 L576.6,182.0 L577.1,183.0 L577.6,182.9 L578.1,182.3 L578.6,181.7 L579.0,182.6 L579.5,182.5 L580.0,181.6 L580.5,181.7 L581.0,182.6 L581.6,182.2 L582.1,182.4 L582.6,181.4 L583.1,182.2 L583.7,181.5 L584.2,182.1 L584.8,181.9 L585.3,181.9 L585.9,181.1 L586.4,181.0 L587.0,181.9 L587.6,181.2 L588.0,181.3 L588.5,181.1 L589.0,181.5 L589.4,181.2 L589.9,180.2 L590.4,180.5 L591.0,180.5 L591.5,181.2 L592.0,180.6 L592.6,181.5 L593.1,180.1 L593.7,181.1 L594.2,181.0 L594.8,181.2 L595.4,180.5 L596.0,179.6 L596.5,181.3 L597.1,180.2 L597.7,180.0 L598.3,180.7 L598.9,180.1 L599.5,181.1 L600.0,180.6 L600.6,179.5 L601.2,180.1 L601.8,179.0 L602.3,179.4 L602.9,180.6 L603.5,180.6 L604.0,180.5 L604.5,178.9 L605.1,180.1 L605.6,180.7 L606.1,178.6 L606.6,178.7 L607.1,179.2 L607.6,179.1 L608.0,180.3 L608.5,179.9 L608.9,180.2 L609.3,180.4 L609.7,180.0 L610.1,179.6 L610.5,178.9 L610.8,178.8 L611.1,179.2 L611.4,179.7 L611.7,179.6 L612.0,179.1" stroke="#9c9c9c" stroke-width="0.85" opacity="1"/>
</g>
<rect x="450.00" y="78" width="1" height="123.8" fill="#f59aa5"/>
<text x="452.00" y="72" font-size="6.7" fill="#e4102a" text-anchor="middle">405 nm</text>
<rect x="487.00" y="78" width="1" height="123.8" fill="#f59aa5"/>
<text x="489.90" y="72" font-size="6.7" fill="#e4102a" text-anchor="middle">495 nm</text>
<rect x="571.00" y="78" width="1" height="123.8" fill="#f59aa5"/>
<text x="573.40" y="72" font-size="6.7" fill="#e4102a" text-anchor="middle">700 nm</text>
<line x1="364.00" y1="47.8" x2="364.00" y2="208.8" stroke="#8c8c8c" stroke-width="1.6"/>
<line x1="359.80" y1="204.40" x2="612.28" y2="204.40" stroke="#8c8c8c" stroke-width="1.1"/>
<line x1="359.60" y1="194.28" x2="364.00" y2="194.28" stroke="#8c8c8c" stroke-width="1"/>
<line x1="359.60" y1="184.17" x2="364.00" y2="184.17" stroke="#8c8c8c" stroke-width="1"/>
<line x1="359.60" y1="174.06" x2="364.00" y2="174.06" stroke="#8c8c8c" stroke-width="1"/>
<line x1="359.60" y1="163.94" x2="364.00" y2="163.94" stroke="#8c8c8c" stroke-width="1"/>
<line x1="359.60" y1="153.82" x2="364.00" y2="153.82" stroke="#8c8c8c" stroke-width="1"/>
<line x1="359.60" y1="143.71" x2="364.00" y2="143.71" stroke="#8c8c8c" stroke-width="1"/>
<line x1="359.60" y1="133.59" x2="364.00" y2="133.59" stroke="#8c8c8c" stroke-width="1"/>
<line x1="359.60" y1="123.48" x2="364.00" y2="123.48" stroke="#8c8c8c" stroke-width="1"/>
<line x1="359.60" y1="113.36" x2="364.00" y2="113.36" stroke="#8c8c8c" stroke-width="1"/>
<line x1="359.60" y1="103.25" x2="364.00" y2="103.25" stroke="#8c8c8c" stroke-width="1"/>
<line x1="359.60" y1="93.14" x2="364.00" y2="93.14" stroke="#8c8c8c" stroke-width="1"/>
<line x1="359.60" y1="83.02" x2="364.00" y2="83.02" stroke="#8c8c8c" stroke-width="1"/>
<line x1="359.60" y1="72.91" x2="364.00" y2="72.91" stroke="#8c8c8c" stroke-width="1"/>
<text x="356.40" y="206.90" font-size="7" fill="#444444" text-anchor="end">0</text>
<text x="356.40" y="196.78" font-size="7" fill="#444444" text-anchor="end">10</text>
<text x="356.40" y="186.67" font-size="7" fill="#444444" text-anchor="end">20</text>
<text x="356.40" y="176.56" font-size="7" fill="#444444" text-anchor="end">30</text>
<text x="356.40" y="166.44" font-size="7" fill="#444444" text-anchor="end">40</text>
<text x="356.40" y="156.32" font-size="7" fill="#444444" text-anchor="end">50</text>
<text x="356.40" y="146.21" font-size="7" fill="#444444" text-anchor="end">60</text>
<text x="356.40" y="136.09" font-size="7" fill="#444444" text-anchor="end">70</text>
<text x="356.40" y="125.98" font-size="7" fill="#444444" text-anchor="end">80</text>
<text x="356.40" y="115.86" font-size="7" fill="#444444" text-anchor="end">90</text>
<text x="356.40" y="105.75" font-size="7" fill="#444444" text-anchor="end">100</text>
<text x="356.40" y="95.64" font-size="7" fill="#444444" text-anchor="end">110</text>
<text x="356.40" y="85.52" font-size="7" fill="#444444" text-anchor="end">120</text>
<text x="356.40" y="75.41" font-size="7" fill="#444444" text-anchor="end">130</text>
<line x1="405.33" y1="204.40" x2="405.33" y2="208.4" stroke="#8c8c8c" stroke-width="1.1"/>
<line x1="446.66" y1="204.40" x2="446.66" y2="208.4" stroke="#8c8c8c" stroke-width="1.1"/>
<line x1="487.99" y1="204.40" x2="487.99" y2="208.4" stroke="#8c8c8c" stroke-width="1.1"/>
<line x1="529.32" y1="204.40" x2="529.32" y2="208.4" stroke="#8c8c8c" stroke-width="1.1"/>
<line x1="570.65" y1="204.40" x2="570.65" y2="208.4" stroke="#8c8c8c" stroke-width="1.1"/>
<line x1="611.98" y1="204.40" x2="611.98" y2="208.4" stroke="#8c8c8c" stroke-width="1.1"/>
<text x="364.00" y="217.8" font-size="7" fill="#444444" text-anchor="middle">200</text>
<text x="405.33" y="217.8" font-size="7" fill="#444444" text-anchor="middle">300</text>
<text x="446.66" y="217.8" font-size="7" fill="#444444" text-anchor="middle">400</text>
<text x="487.99" y="217.8" font-size="7" fill="#444444" text-anchor="middle">500</text>
<text x="529.32" y="217.8" font-size="7" fill="#444444" text-anchor="middle">600</text>
<text x="570.65" y="217.8" font-size="7" fill="#444444" text-anchor="middle">700</text>
<text x="611.98" y="217.8" font-size="7" fill="#444444" text-anchor="middle">800</text>
<text x="488.90" y="32.8" font-size="9" font-weight="bold" fill="#111" text-anchor="middle">Group B</text>
<text x="441.70" y="234.4" class="serif" font-size="10.8" font-weight="bold" fill="#505050" textLength="91.6" lengthAdjust="spacingAndGlyphs">WAVELENGTH (nm)</text>
<text transform="translate(334.10,171) rotate(-90)" x="0" y="0" class="serif" font-size="8.6" font-weight="bold" fill="#555555" textLength="76.5" lengthAdjust="spacingAndGlyphs">% REFLECTANCE</text>
<line x1="330.50" y1="88" x2="330.50" y2="73" stroke="#444" stroke-width="0.9"/>
<path d="M328.50,76.5 L330.50,71.6 L332.50,76.5 Z" fill="#444"/>
</svg></body></html>
